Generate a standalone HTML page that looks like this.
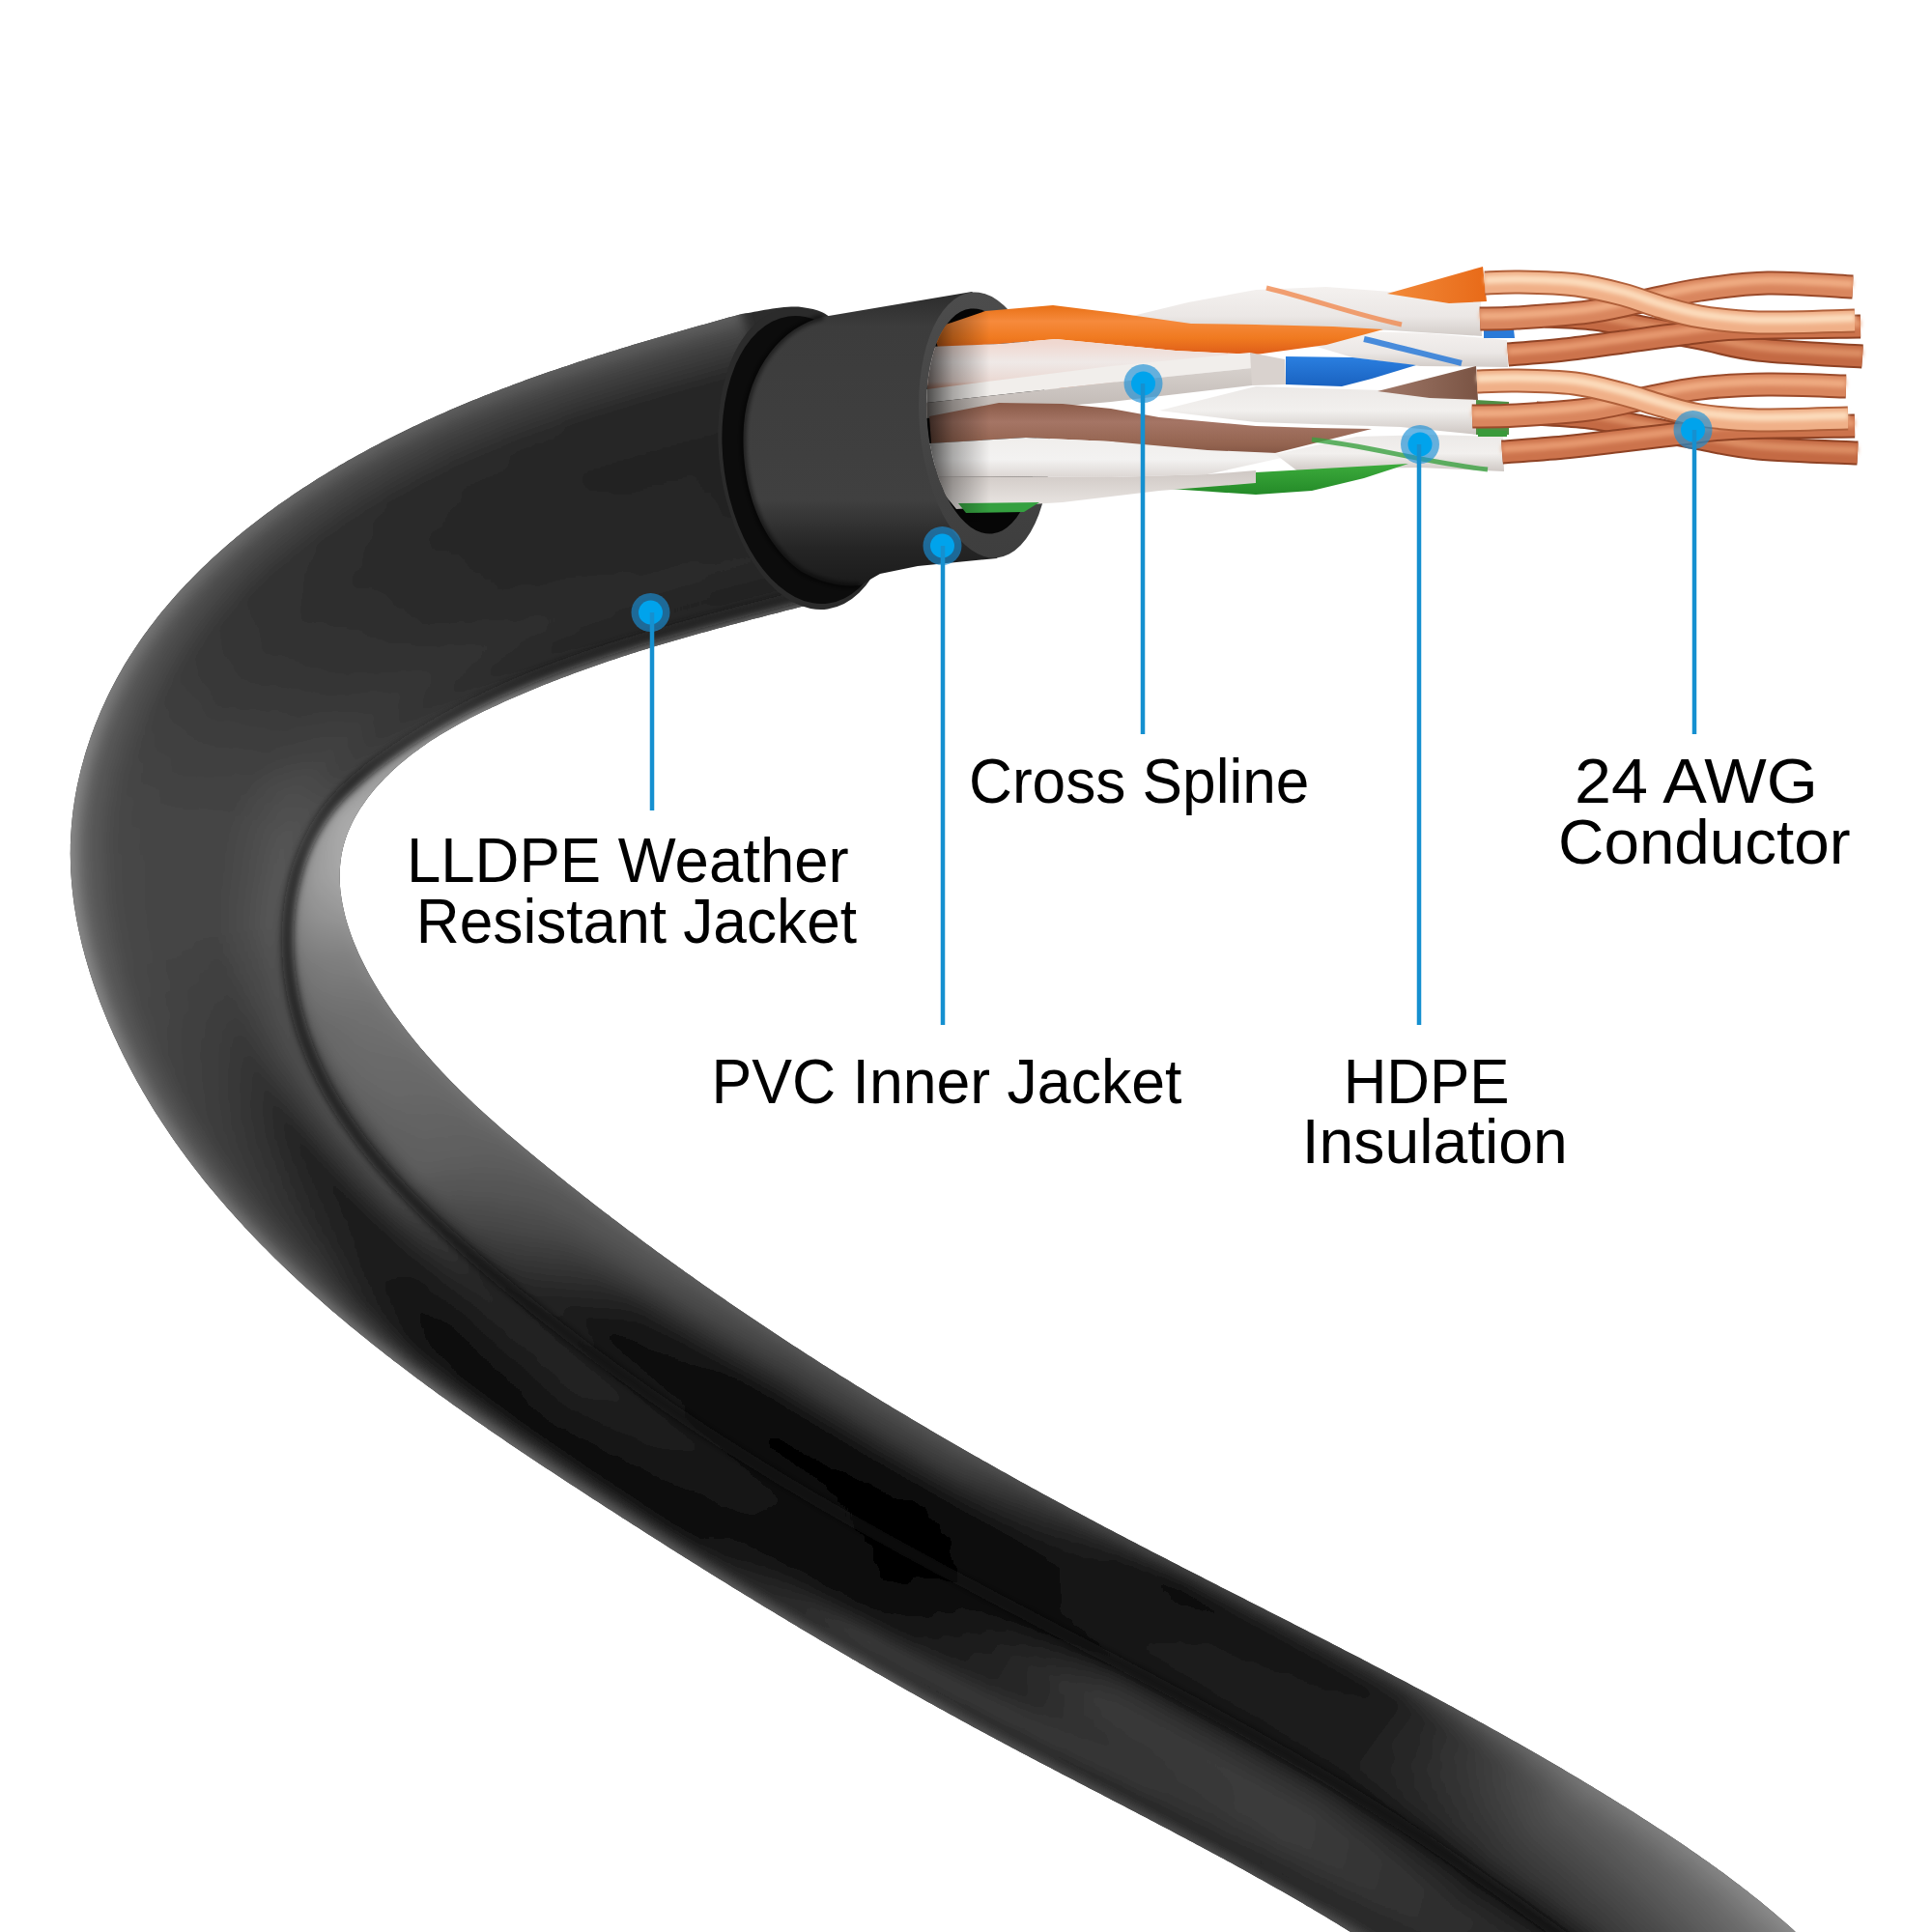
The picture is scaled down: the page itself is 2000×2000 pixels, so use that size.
<!DOCTYPE html>
<html><head><meta charset="utf-8"><style>
html,body{margin:0;padding:0;background:#fff;}
svg{display:block;}
text{font-family:"Liberation Sans",sans-serif;fill:#000;}
</style></head><body>
<svg width="2000" height="2000" viewBox="0 0 2000 2000" xmlns="http://www.w3.org/2000/svg">
<defs>
<clipPath id="cb"><path d="M767.8,325.0L763.4,326.2L759.1,327.4L754.7,328.6L750.4,329.8L746.1,331.0L741.7,332.2L737.4,333.5L733.1,334.7L728.7,335.9L724.4,337.1L720.1,338.3L715.7,339.5L711.4,340.8L707.1,342.0L702.8,343.2L698.4,344.5L694.1,345.7L689.8,347.0L685.5,348.2L681.1,349.5L676.8,350.7L672.5,352.0L668.2,353.3L663.9,354.6L659.6,355.8L655.2,357.1L650.9,358.4L646.6,359.8L642.3,361.1L638.0,362.4L633.7,363.7L629.4,365.0L625.1,366.4L620.8,367.7L616.6,369.1L612.3,370.5L608.0,371.8L603.7,373.2L599.4,374.6L595.1,376.0L590.9,377.4L586.6,378.9L582.3,380.3L578.1,381.7L573.8,383.2L569.6,384.6L565.3,386.1L561.1,387.6L556.8,389.1L552.6,390.6L548.3,392.1L544.1,393.6L539.9,395.2L535.6,396.7L531.4,398.3L527.2,399.9L523.0,401.5L518.8,403.1L514.6,404.7L510.4,406.3L506.2,407.9L502.0,409.6L497.8,411.3L493.7,412.9L489.5,414.6L485.3,416.3L481.2,418.1L477.0,419.8L472.9,421.5L468.7,423.3L464.6,425.1L460.5,426.9L456.4,428.7L452.2,430.5L448.1,432.4L444.0,434.2L440.0,436.1L435.9,438.0L431.8,439.9L427.7,441.8L423.7,443.7L419.6,445.7L415.6,447.7L411.5,449.7L407.5,451.7L403.5,453.7L399.5,455.7L395.5,457.8L391.5,459.9L387.5,462.0L383.5,464.1L379.6,466.2L375.6,468.4L371.7,470.5L367.7,472.7L363.8,474.9L359.9,477.1L356.0,479.4L352.1,481.6L348.2,483.9L344.4,486.2L340.5,488.5L336.7,490.9L332.8,493.2L329.0,495.6L325.2,498.0L321.4,500.4L317.6,502.9L313.8,505.3L310.1,507.8L306.3,510.3L302.6,512.8L298.9,515.4L295.2,517.9L291.5,520.5L287.8,523.1L284.2,525.7L280.5,528.4L276.9,531.0L273.3,533.7L269.7,536.4L266.1,539.2L262.6,541.9L259.0,544.7L255.5,547.5L252.0,550.3L248.5,553.2L245.0,556.0L241.6,558.9L238.2,561.8L234.8,564.8L231.4,567.7L228.0,570.7L224.7,573.7L221.3,576.7L218.0,579.8L214.8,582.9L211.5,586.0L208.3,589.1L205.1,592.3L201.9,595.5L198.7,598.7L195.6,601.9L192.5,605.1L189.4,608.4L186.3,611.7L183.3,615.1L180.3,618.4L177.4,621.8L174.4,625.2L171.5,628.7L168.6,632.1L165.8,635.6L163.0,639.1L160.2,642.7L157.5,646.2L154.7,649.8L152.1,653.4L149.4,657.1L146.8,660.7L144.2,664.4L141.7,668.2L139.2,671.9L136.8,675.7L134.3,679.5L132.0,683.3L129.6,687.1L127.3,691.0L125.1,694.9L122.9,698.8L120.7,702.8L118.6,706.7L116.5,710.7L114.4,714.7L112.4,718.7L110.5,722.8L108.6,726.9L106.7,731.0L104.9,735.1L103.1,739.2L101.4,743.4L99.7,747.5L98.0,751.7L96.5,755.9L94.9,760.2L93.4,764.4L92.0,768.7L90.6,772.9L89.2,777.2L87.9,781.5L86.7,785.9L85.5,790.2L84.3,794.6L83.2,798.9L82.2,803.3L81.2,807.7L80.2,812.1L79.3,816.5L78.5,820.9L77.7,825.4L77.0,829.8L76.4,834.2L75.7,838.7L75.2,843.2L74.7,847.6L74.3,852.1L73.9,856.6L73.6,861.1L73.3,865.6L73.1,870.1L72.9,874.6L72.9,879.1L72.8,883.6L72.9,888.1L73.0,892.6L73.1,897.1L73.3,901.6L73.6,906.1L73.9,910.6L74.3,915.0L74.7,919.5L75.2,924.0L75.7,928.5L76.3,932.9L76.9,937.4L77.6,941.8L78.3,946.3L79.1,950.7L79.9,955.1L80.8,959.5L81.7,963.9L82.7,968.3L83.7,972.7L84.7,977.1L85.8,981.5L87.0,985.8L88.1,990.2L89.4,994.5L90.6,998.8L91.9,1003.1L93.2,1007.4L94.6,1011.7L96.0,1016.0L97.4,1020.3L98.9,1024.5L100.4,1028.8L102.0,1033.0L103.5,1037.2L105.2,1041.4L106.8,1045.6L108.5,1049.8L110.2,1053.9L111.9,1058.1L113.7,1062.2L115.5,1066.3L117.3,1070.4L119.2,1074.5L121.1,1078.6L123.0,1082.7L125.0,1086.7L126.9,1090.8L128.9,1094.8L131.0,1098.8L133.0,1102.8L135.1,1106.8L137.2,1110.8L139.4,1114.7L141.5,1118.7L143.7,1122.6L146.0,1126.5L148.2,1130.4L150.5,1134.3L152.8,1138.2L155.1,1142.0L157.5,1145.9L159.8,1149.7L162.2,1153.5L164.7,1157.3L167.1,1161.1L169.6,1164.8L172.1,1168.6L174.6,1172.3L177.1,1176.0L179.7,1179.7L182.3,1183.4L184.9,1187.1L187.5,1190.7L190.2,1194.3L192.8,1198.0L195.5,1201.6L198.3,1205.2L201.0,1208.7L203.7,1212.3L206.5,1215.8L209.3,1219.4L212.1,1222.9L215.0,1226.4L217.8,1229.9L220.7,1233.3L223.6,1236.8L226.5,1240.2L229.4,1243.6L232.4,1247.0L235.3,1250.4L238.3,1253.8L241.3,1257.1L244.3,1260.5L247.3,1263.8L250.4,1267.1L253.4,1270.4L256.5,1273.7L259.6,1277.0L262.7,1280.3L265.8,1283.5L268.9,1286.7L272.1,1289.9L275.3,1293.1L278.4,1296.3L281.6,1299.5L284.8,1302.7L288.0,1305.8L291.3,1308.9L294.5,1312.1L297.8,1315.2L301.0,1318.3L304.3,1321.3L307.6,1324.4L310.9,1327.5L314.2,1330.5L317.5,1333.5L320.9,1336.6L324.2,1339.6L327.6,1342.6L331.0,1345.5L334.3,1348.5L337.7,1351.5L341.1,1354.4L344.5,1357.4L348.0,1360.3L351.4,1363.2L354.8,1366.1L358.3,1369.0L361.7,1371.9L365.2,1374.7L368.7,1377.6L372.2,1380.4L375.7,1383.3L379.2,1386.1L382.7,1388.9L386.2,1391.7L389.7,1394.5L393.2,1397.3L396.8,1400.1L400.3,1402.9L403.9,1405.6L407.4,1408.4L411.0,1411.1L414.6,1413.8L418.2,1416.6L421.8,1419.3L425.4,1422.0L429.0,1424.7L432.6,1427.4L436.2,1430.1L439.8,1432.7L443.4,1435.4L447.1,1438.1L450.7,1440.7L454.3,1443.4L458.0,1446.0L461.6,1448.6L465.3,1451.2L469.0,1453.9L472.6,1456.5L476.3,1459.1L480.0,1461.7L483.6,1464.3L487.3,1466.8L491.0,1469.4L494.7,1472.0L498.4,1474.6L502.1,1477.1L505.8,1479.7L509.5,1482.2L513.2,1484.8L517.0,1487.3L520.7,1489.8L524.4,1492.4L528.1,1494.9L531.9,1497.4L535.6,1499.9L539.3,1502.4L543.1,1504.9L546.8,1507.4L550.5,1509.9L554.3,1512.4L558.0,1514.9L561.8,1517.4L565.5,1519.9L569.3,1522.3L573.1,1524.8L576.8,1527.3L580.6,1529.8L584.3,1532.2L588.1,1534.7L591.9,1537.2L595.6,1539.6L599.4,1542.1L603.2,1544.5L607.0,1547.0L610.7,1549.4L614.5,1551.9L618.3,1554.3L622.1,1556.8L625.8,1559.2L629.6,1561.7L633.4,1564.1L637.2,1566.5L641.0,1569.0L644.7,1571.4L648.5,1573.8L652.3,1576.3L656.1,1578.7L659.9,1581.1L663.7,1583.6L667.5,1586.0L671.3,1588.4L675.1,1590.8L678.9,1593.2L682.7,1595.6L686.5,1598.0L690.3,1600.5L694.1,1602.9L697.9,1605.3L701.7,1607.7L705.5,1610.1L709.3,1612.5L713.1,1614.8L716.9,1617.2L720.7,1619.6L724.6,1622.0L728.4,1624.4L732.2,1626.8L736.0,1629.2L739.8,1631.5L743.7,1633.9L747.5,1636.3L751.3,1638.6L755.1,1641.0L759.0,1643.4L762.8,1645.7L766.6,1648.1L770.5,1650.4L774.3,1652.8L778.2,1655.1L782.0,1657.5L785.8,1659.8L789.7,1662.2L793.5,1664.5L797.4,1666.8L801.2,1669.1L805.1,1671.5L808.9,1673.8L812.8,1676.1L816.6,1678.4L820.5,1680.8L824.4,1683.1L828.2,1685.4L832.1,1687.7L836.0,1690.0L839.8,1692.3L843.7,1694.6L847.6,1696.9L851.4,1699.2L855.3,1701.4L859.2,1703.7L863.1,1706.0L867.0,1708.3L870.8,1710.6L874.7,1712.8L878.6,1715.1L882.5,1717.4L886.4,1719.6L890.3,1721.9L894.2,1724.1L898.1,1726.4L902.0,1728.6L905.9,1730.9L909.8,1733.1L913.7,1735.3L917.6,1737.6L921.5,1739.8L925.4,1742.0L929.3,1744.2L933.3,1746.5L937.2,1748.7L941.1,1750.9L945.0,1753.1L948.9,1755.3L952.9,1757.5L956.8,1759.7L960.7,1761.9L964.7,1764.1L968.6,1766.3L972.5,1768.4L976.5,1770.6L980.4,1772.8L984.3,1775.0L988.3,1777.1L992.2,1779.3L996.2,1781.4L1000.1,1783.6L1004.1,1785.8L1008.0,1787.9L1012.0,1790.0L1016.0,1792.2L1019.9,1794.3L1023.9,1796.4L1027.8,1798.6L1031.8,1800.7L1035.8,1802.8L1039.8,1804.9L1043.7,1807.0L1047.7,1809.2L1051.7,1811.3L1055.7,1813.4L1059.6,1815.5L1063.6,1817.6L1067.6,1819.7L1071.6,1821.8L1075.6,1823.9L1079.6,1825.9L1083.5,1828.0L1087.5,1830.1L1091.5,1832.2L1095.5,1834.3L1099.5,1836.4L1103.5,1838.4L1107.5,1840.5L1111.5,1842.6L1115.5,1844.7L1119.4,1846.8L1123.4,1848.8L1127.4,1850.9L1131.4,1853.0L1135.4,1855.1L1139.4,1857.1L1143.4,1859.2L1147.4,1861.3L1151.4,1863.4L1155.4,1865.4L1159.4,1867.5L1163.4,1869.6L1167.4,1871.7L1171.3,1873.8L1175.3,1875.8L1179.3,1877.9L1183.3,1880.0L1187.3,1882.1L1191.3,1884.2L1195.3,1886.3L1199.3,1888.4L1203.2,1890.5L1207.2,1892.5L1211.2,1894.6L1215.2,1896.7L1219.2,1898.9L1223.1,1901.0L1227.1,1903.1L1231.1,1905.2L1235.1,1907.3L1239.0,1909.4L1243.0,1911.5L1247.0,1913.7L1250.9,1915.8L1254.9,1917.9L1258.8,1920.1L1262.8,1922.2L1266.8,1924.3L1270.7,1926.5L1274.7,1928.6L1278.6,1930.8L1282.6,1933.0L1286.5,1935.1L1290.4,1937.3L1294.4,1939.5L1298.3,1941.7L1302.2,1943.9L1306.2,1946.1L1310.1,1948.3L1314.0,1950.5L1317.9,1952.7L1321.9,1954.9L1325.8,1957.1L1329.7,1959.3L1333.6,1961.6L1337.5,1963.8L1341.4,1966.1L1345.3,1968.3L1349.2,1970.6L1353.0,1972.9L1356.9,1975.1L1360.8,1977.4L1364.7,1979.7L1368.5,1982.0L1372.4,1984.3L1376.3,1986.7L1380.1,1989.0L1384.0,1991.3L1387.8,1993.7L1391.6,1996.0L1395.5,1998.4L1399.3,2000.7L1403.1,2003.1L1406.9,2005.5L1410.8,2007.9L1414.6,2010.3L1418.4,2012.7L1422.2,2015.1L1425.9,2017.5L1429.7,2020.0L1433.5,2022.4L1437.3,2024.9L1441.0,2027.4L1444.8,2029.8L1448.5,2032.3L1452.3,2034.8L1456.0,2037.3L1459.7,2039.9L1463.4,2042.4L1467.2,2044.9L1470.9,2047.5L1474.6,2050.1L1478.3,2052.6L1481.9,2055.2L1485.6,2057.8L1489.3,2060.4L1492.9,2063.1L1496.6,2065.7L1500.2,2068.4L1503.8,2071.0L1507.5,2073.7L1511.1,2076.4L1514.7,2079.1L1518.3,2081.8L1521.9,2084.5L1525.4,2087.2L1529.0,2090.0L1532.5,2092.7L1536.1,2095.5L1539.6,2098.3L1543.1,2101.1L1546.7,2103.9L1550.2,2106.7L1553.6,2109.6L1557.1,2112.4L1560.6,2115.3L1564.1,2118.2L1567.5,2121.1L1570.9,2124.0L1574.4,2126.9L1577.8,2129.8L1581.2,2132.8L1584.5,2135.8L1587.9,2138.7L1591.3,2141.7L1594.6,2144.8L1597.9,2147.8L1601.3,2150.8L1604.6,2153.9L1607.9,2156.9L1611.1,2160.0L1614.4,2163.1L1617.7,2166.2L1620.9,2169.4L1624.1,2172.5L1627.3,2175.7L1630.5,2178.8L1633.7,2182.0L1636.8,2185.2L1640.0,2188.4L1643.1,2191.7L1646.2,2194.9L1649.3,2198.2L1650.1,2199.0 L1948.5,2101.4L1946.5,2098.5L1943.9,2094.9L1941.3,2091.2L1938.6,2087.6L1935.9,2084.0L1933.2,2080.4L1930.4,2076.9L1927.7,2073.3L1924.8,2069.8L1922.0,2066.3L1919.1,2062.9L1916.2,2059.4L1913.3,2056.0L1910.4,2052.6L1907.4,2049.2L1904.4,2045.9L1901.4,2042.5L1898.3,2039.2L1895.3,2035.9L1892.2,2032.7L1889.0,2029.4L1885.9,2026.2L1882.7,2023.0L1879.6,2019.8L1876.4,2016.6L1873.1,2013.5L1869.9,2010.4L1866.6,2007.3L1863.3,2004.2L1860.0,2001.2L1856.7,1998.1L1853.4,1995.1L1850.0,1992.1L1846.6,1989.1L1843.2,1986.2L1839.8,1983.2L1836.4,1980.3L1833.0,1977.4L1829.5,1974.5L1826.0,1971.7L1822.6,1968.8L1819.1,1966.0L1815.5,1963.2L1812.0,1960.4L1808.5,1957.6L1804.9,1954.9L1801.4,1952.1L1797.8,1949.4L1794.2,1946.7L1790.6,1944.0L1787.0,1941.3L1783.4,1938.6L1779.7,1936.0L1776.1,1933.3L1772.4,1930.7L1768.8,1928.1L1765.1,1925.5L1761.4,1922.9L1757.7,1920.3L1754.0,1917.7L1750.3,1915.2L1746.6,1912.6L1742.9,1910.1L1739.2,1907.6L1735.4,1905.1L1731.7,1902.6L1727.9,1900.1L1724.2,1897.6L1720.4,1895.1L1716.7,1892.7L1712.9,1890.2L1709.1,1887.7L1705.3,1885.3L1701.6,1882.9L1697.8,1880.5L1694.0,1878.0L1690.2,1875.6L1686.4,1873.2L1682.6,1870.8L1678.7,1868.4L1674.9,1866.0L1671.1,1863.7L1667.3,1861.3L1663.4,1858.9L1659.6,1856.6L1655.8,1854.2L1651.9,1851.9L1648.1,1849.6L1644.2,1847.2L1640.4,1844.9L1636.5,1842.6L1632.7,1840.3L1628.8,1838.0L1624.9,1835.7L1621.1,1833.4L1617.2,1831.1L1613.3,1828.8L1609.4,1826.5L1605.5,1824.3L1601.6,1822.0L1597.8,1819.7L1593.9,1817.5L1590.0,1815.3L1586.1,1813.0L1582.1,1810.8L1578.2,1808.5L1574.3,1806.3L1570.4,1804.1L1566.5,1801.9L1562.6,1799.7L1558.7,1797.5L1554.7,1795.3L1550.8,1793.1L1546.9,1790.9L1542.9,1788.7L1539.0,1786.5L1535.1,1784.3L1531.1,1782.2L1527.2,1780.0L1523.2,1777.8L1519.3,1775.7L1515.3,1773.5L1511.4,1771.4L1507.4,1769.2L1503.5,1767.1L1499.5,1764.9L1495.5,1762.8L1491.6,1760.7L1487.6,1758.6L1483.7,1756.4L1479.7,1754.3L1475.7,1752.2L1471.7,1750.1L1467.8,1748.0L1463.8,1745.9L1459.8,1743.8L1455.8,1741.6L1451.9,1739.6L1447.9,1737.5L1443.9,1735.4L1439.9,1733.3L1435.9,1731.2L1431.9,1729.1L1427.9,1727.0L1423.9,1724.9L1420.0,1722.9L1416.0,1720.8L1412.0,1718.7L1408.0,1716.6L1404.0,1714.6L1400.0,1712.5L1396.0,1710.4L1392.0,1708.4L1388.0,1706.3L1384.0,1704.3L1380.0,1702.2L1376.0,1700.1L1372.0,1698.1L1368.0,1696.0L1364.0,1694.0L1360.0,1691.9L1356.0,1689.9L1351.9,1687.8L1347.9,1685.8L1343.9,1683.7L1339.9,1681.7L1335.9,1679.6L1331.9,1677.6L1327.9,1675.6L1323.9,1673.5L1319.9,1671.5L1315.9,1669.4L1311.9,1667.4L1307.9,1665.3L1303.8,1663.3L1299.8,1661.3L1295.8,1659.2L1291.8,1657.2L1287.8,1655.1L1283.8,1653.1L1279.8,1651.0L1275.8,1649.0L1271.8,1647.0L1267.8,1644.9L1263.7,1642.9L1259.7,1640.8L1255.7,1638.8L1251.7,1636.7L1247.7,1634.7L1243.7,1632.6L1239.7,1630.6L1235.7,1628.5L1231.7,1626.5L1227.7,1624.4L1223.7,1622.4L1219.7,1620.3L1215.7,1618.3L1211.7,1616.2L1207.7,1614.1L1203.7,1612.1L1199.7,1610.0L1195.7,1607.9L1191.7,1605.9L1187.7,1603.8L1183.7,1601.7L1179.7,1599.7L1175.7,1597.6L1171.7,1595.5L1167.7,1593.4L1163.7,1591.3L1159.8,1589.2L1155.8,1587.2L1151.8,1585.1L1147.8,1583.0L1143.8,1580.9L1139.8,1578.8L1135.9,1576.7L1131.9,1574.6L1127.9,1572.5L1123.9,1570.3L1120.0,1568.2L1116.0,1566.1L1112.0,1564.0L1108.1,1561.9L1104.1,1559.7L1100.1,1557.6L1096.2,1555.5L1092.2,1553.3L1088.3,1551.2L1084.3,1549.0L1080.4,1546.9L1076.4,1544.7L1072.5,1542.5L1068.5,1540.4L1064.6,1538.2L1060.6,1536.0L1056.7,1533.9L1052.8,1531.7L1048.8,1529.5L1044.9,1527.3L1041.0,1525.1L1037.0,1522.9L1033.1,1520.7L1029.2,1518.5L1025.3,1516.3L1021.4,1514.1L1017.4,1511.9L1013.5,1509.6L1009.6,1507.4L1005.7,1505.2L1001.8,1503.0L997.9,1500.7L994.0,1498.5L990.1,1496.2L986.2,1494.0L982.3,1491.7L978.4,1489.5L974.5,1487.2L970.6,1484.9L966.8,1482.7L962.9,1480.4L959.0,1478.1L955.1,1475.8L951.2,1473.5L947.4,1471.2L943.5,1468.9L939.6,1466.6L935.8,1464.3L931.9,1462.0L928.1,1459.7L924.2,1457.4L920.4,1455.0L916.5,1452.7L912.7,1450.4L908.8,1448.0L905.0,1445.7L901.1,1443.3L897.3,1441.0L893.5,1438.6L889.6,1436.3L885.8,1433.9L882.0,1431.5L878.2,1429.1L874.4,1426.8L870.5,1424.4L866.7,1422.0L862.9,1419.6L859.1,1417.2L855.3,1414.8L851.5,1412.4L847.7,1409.9L843.9,1407.5L840.1,1405.1L836.3,1402.7L832.6,1400.2L828.8,1397.8L825.0,1395.3L821.2,1392.9L817.5,1390.4L813.7,1388.0L809.9,1385.5L806.2,1383.0L802.4,1380.5L798.7,1378.1L794.9,1375.6L791.2,1373.1L787.4,1370.6L783.7,1368.1L779.9,1365.6L776.2,1363.1L772.5,1360.6L768.8,1358.0L765.0,1355.5L761.3,1353.0L757.6,1350.4L753.9,1347.9L750.2,1345.3L746.5,1342.8L742.8,1340.2L739.1,1337.7L735.4,1335.1L731.7,1332.5L728.0,1329.9L724.3,1327.3L720.6,1324.7L717.0,1322.1L713.3,1319.5L709.6,1316.9L706.0,1314.3L702.3,1311.7L698.7,1309.1L695.0,1306.4L691.4,1303.8L687.7,1301.2L684.1,1298.5L680.4,1295.9L676.8,1293.2L673.2,1290.5L669.6,1287.9L665.9,1285.2L662.3,1282.5L658.7,1279.8L655.1,1277.1L651.5,1274.4L647.9,1271.7L644.3,1269.0L640.7,1266.3L637.1,1263.6L633.6,1260.9L630.0,1258.1L626.4,1255.4L622.9,1252.7L619.3,1249.9L615.7,1247.2L612.2,1244.4L608.6,1241.6L605.1,1238.9L601.5,1236.1L598.0,1233.3L594.5,1230.5L591.0,1227.7L587.4,1224.9L583.9,1222.1L580.4,1219.3L576.9,1216.5L573.4,1213.6L569.9,1210.8L566.4,1208.0L562.9,1205.1L559.4,1202.3L556.0,1199.4L552.5,1196.6L549.0,1193.7L545.6,1190.8L542.1,1187.9L538.7,1185.0L535.2,1182.1L531.8,1179.2L528.4,1176.3L524.9,1173.4L521.5,1170.4L518.1,1167.5L514.8,1164.5L511.4,1161.5L508.0,1158.5L504.7,1155.5L501.3,1152.5L498.0,1149.5L494.7,1146.4L491.4,1143.4L488.1,1140.3L484.9,1137.2L481.6,1134.0L478.4,1130.9L475.2,1127.8L472.0,1124.6L468.9,1121.4L465.7,1118.2L462.6,1114.9L459.5,1111.7L456.4,1108.4L453.3,1105.1L450.3,1101.8L447.3,1098.5L444.3,1095.1L441.3,1091.7L438.4,1088.3L435.4,1084.9L432.6,1081.4L429.7,1078.0L426.9,1074.5L424.1,1070.9L421.3,1067.4L418.5,1063.8L415.8,1060.2L413.1,1056.6L410.5,1053.0L407.8,1049.4L405.3,1045.7L402.7,1042.0L400.2,1038.2L397.7,1034.5L395.3,1030.7L392.9,1026.9L390.5,1023.1L388.2,1019.2L385.9,1015.3L383.7,1011.4L381.5,1007.5L379.4,1003.5L377.3,999.5L375.3,995.5L373.3,991.4L371.4,987.4L369.6,983.3L367.8,979.1L366.1,974.9L364.5,970.8L362.9,966.5L361.5,962.3L360.1,958.0L358.8,953.7L357.6,949.4L356.5,945.0L355.5,940.6L354.6,936.2L353.8,931.8L353.1,927.3L352.5,922.9L352.1,918.4L351.8,913.9L351.7,909.4L351.7,904.9L351.8,900.4L352.1,895.9L352.6,891.4L353.2,887.0L354.0,882.5L355.0,878.1L356.1,873.8L357.4,869.5L358.8,865.2L360.4,861.0L362.2,856.9L364.1,852.8L366.1,848.8L368.3,844.8L370.5,840.9L372.9,837.1L375.4,833.4L378.0,829.7L380.6,826.0L383.4,822.5L386.2,819.0L389.1,815.6L392.1,812.2L395.2,808.9L398.3,805.6L401.5,802.4L404.7,799.3L408.0,796.2L411.3,793.2L414.7,790.3L418.2,787.4L421.7,784.6L425.2,781.8L428.8,779.0L432.4,776.4L436.0,773.7L439.7,771.2L443.4,768.6L447.2,766.1L451.0,763.7L454.8,761.3L458.6,759.0L462.5,756.7L466.4,754.4L470.3,752.2L474.2,750.0L478.2,747.8L482.2,745.7L486.1,743.6L490.2,741.6L494.2,739.6L498.2,737.6L502.3,735.6L506.3,733.7L510.4,731.7L514.5,729.9L518.6,728.0L522.7,726.1L526.8,724.3L530.9,722.5L535.0,720.7L539.2,718.9L543.3,717.2L547.4,715.4L551.6,713.7L555.8,712.0L559.9,710.3L564.1,708.6L568.3,706.9L572.5,705.3L576.7,703.7L580.9,702.0L585.1,700.4L589.3,698.9L593.5,697.3L597.7,695.7L602.0,694.2L606.2,692.7L610.4,691.2L614.7,689.7L618.9,688.2L623.2,686.7L627.4,685.3L631.7,683.8L636.0,682.4L640.2,681.0L644.5,679.6L648.8,678.2L653.1,676.8L657.4,675.4L661.7,674.1L666.0,672.8L670.3,671.4L674.6,670.1L678.9,668.8L683.2,667.5L687.5,666.2L691.8,665.0L696.1,663.7L700.4,662.4L704.8,661.2L709.1,659.9L713.4,658.7L717.8,657.5L722.1,656.3L726.4,655.1L730.8,653.9L735.1,652.7L739.4,651.5L743.8,650.3L748.1,649.2L752.5,648.0L756.8,646.8L761.2,645.7L765.5,644.5L769.9,643.4L774.2,642.3L778.6,641.1L782.9,640.0L787.3,638.9L791.7,637.7L796.0,636.6L800.4,635.5L804.7,634.4L809.1,633.2L813.4,632.1L817.8,631.0L822.2,629.9L826.5,628.8L830.9,627.7L835.2,626.6L839.6,625.5L844.0,624.3L848.3,623.2L852.7,622.1L857.0,621.0L861.4,619.9L865.8,618.8L867.2,618.4 L867.2,618.4 C872.7,615.3 892.0,613.1 900.0,600.0 C908.0,586.9 914.2,570.0 915.0,540.0 C915.8,510.0 912.5,453.3 905.0,420.0 C897.5,386.7 882.5,357.0 870.0,340.0 C857.5,323.0 847.0,320.5 830.0,318.0 C813.0,315.5 778.1,323.9 767.8,325.0 Z"/></clipPath>
<filter id="b3" filterUnits="userSpaceOnUse" x="0" y="0" width="2000" height="2000"><feGaussianBlur stdDeviation="3.2"/></filter>
<filter id="b4" filterUnits="userSpaceOnUse" x="0" y="0" width="2000" height="2000"><feGaussianBlur stdDeviation="5.5"/></filter>
<filter id="b2" filterUnits="userSpaceOnUse" x="0" y="0" width="2000" height="2000"><feGaussianBlur stdDeviation="2"/></filter>
<linearGradient id="pvc" x1="0" y1="300" x2="0" y2="610" gradientUnits="userSpaceOnUse">
<stop offset="0" stop-color="#2a2a2a"/><stop offset="0.12" stop-color="#3c3c3c"/><stop offset="0.7" stop-color="#404040"/><stop offset="0.86" stop-color="#252525"/><stop offset="1" stop-color="#1a1a1a"/>
</linearGradient>
<filter id="b1" filterUnits="userSpaceOnUse" x="0" y="0" width="2000" height="2000"><feGaussianBlur stdDeviation="1"/></filter>
<clipPath id="wclip"><ellipse cx="1016" cy="436" rx="56" ry="117" transform="rotate(-5.4 1016 436)"/><rect x="1016" y="200" width="700" height="400"/></clipPath>
<clipPath id="hole"><ellipse cx="1016" cy="436" rx="56" ry="117" transform="rotate(-5.4 1016 436)"/></clipPath>
<linearGradient id="hsh" x1="0" y1="0" x2="1" y2="0"><stop offset="0" stop-color="#000" stop-opacity="0.75"/><stop offset="0.45" stop-color="#000" stop-opacity="0.3"/><stop offset="1" stop-color="#000" stop-opacity="0"/></linearGradient>
<linearGradient id="pvcf" x1="0" y1="0" x2="0" y2="1"><stop offset="0" stop-color="#4c4c4c"/><stop offset="1" stop-color="#3e3e3e"/></linearGradient>
<linearGradient id="gor" x1="0" y1="315" x2="0" y2="365" gradientUnits="userSpaceOnUse"><stop offset="0" stop-color="#e86e12"/><stop offset="0.35" stop-color="#f68a3c"/><stop offset="0.7" stop-color="#f07a20"/><stop offset="1" stop-color="#e0601a"/></linearGradient>
<linearGradient id="gor2" x1="0" y1="0" x2="1" y2="0"><stop offset="0" stop-color="#f28a3a"/><stop offset="1" stop-color="#e86a18"/></linearGradient>
<linearGradient id="gwo" x1="0" y1="355" x2="0" y2="405" gradientUnits="userSpaceOnUse"><stop offset="0" stop-color="#f0d8d0"/><stop offset="0.4" stop-color="#efe9e7"/><stop offset="0.8" stop-color="#ead8d2"/><stop offset="1" stop-color="#e08c6c"/></linearGradient>
<linearGradient id="gw1" x1="0" y1="0" x2="0" y2="1"><stop offset="0" stop-color="#f4f1ef"/><stop offset="0.6" stop-color="#ebe7e5"/><stop offset="1" stop-color="#d2ccc8"/></linearGradient>
<linearGradient id="gw2" x1="0" y1="0" x2="0" y2="1"><stop offset="0" stop-color="#ece9e7"/><stop offset="0.5" stop-color="#f2f0ee"/><stop offset="1" stop-color="#cdc6c2"/></linearGradient>
<linearGradient id="gw3" x1="0" y1="0" x2="0" y2="1"><stop offset="0" stop-color="#f0eeec"/><stop offset="0.55" stop-color="#f3f2f1"/><stop offset="1" stop-color="#dcd6d3"/></linearGradient>
<linearGradient id="gsp" x1="0" y1="0" x2="0" y2="1"><stop offset="0" stop-color="#d6d0cc"/><stop offset="1" stop-color="#bdb5b0"/></linearGradient>
<linearGradient id="gsp2" x1="0" y1="0" x2="0" y2="1"><stop offset="0" stop-color="#cfc8c4"/><stop offset="1" stop-color="#ebe7e4"/></linearGradient>
<linearGradient id="gbr" x1="0" y1="0" x2="0" y2="1"><stop offset="0" stop-color="#8a5a48"/><stop offset="0.35" stop-color="#a57565"/><stop offset="0.75" stop-color="#946450"/><stop offset="1" stop-color="#7e5040"/></linearGradient>
<linearGradient id="gbr2" x1="0" y1="0" x2="1" y2="0"><stop offset="0" stop-color="#a07868"/><stop offset="1" stop-color="#7a5444"/></linearGradient>
<linearGradient id="gbl" x1="0" y1="0" x2="0" y2="1"><stop offset="0" stop-color="#2a7fe0"/><stop offset="1" stop-color="#1a62c0"/></linearGradient>
<linearGradient id="ggr" x1="0" y1="0" x2="0" y2="1"><stop offset="0" stop-color="#3cab3c"/><stop offset="1" stop-color="#248a28"/></linearGradient>
<linearGradient id="g0" gradientUnits="userSpaceOnUse" x1="756.1" y1="309.0" x2="867.1" y2="637.5"><stop offset="0.054" stop-color="#5f5f5f"/><stop offset="0.105" stop-color="#464646"/><stop offset="0.226" stop-color="#282828"/><stop offset="0.398" stop-color="#242424"/><stop offset="0.622" stop-color="#242424"/><stop offset="0.777" stop-color="#282828"/><stop offset="0.855" stop-color="#222222"/><stop offset="0.915" stop-color="#262626"/><stop offset="0.917" stop-color="#3c3c3c"/><stop offset="0.921" stop-color="#4b4b4b"/><stop offset="0.931" stop-color="#555555"/><stop offset="0.940" stop-color="#5a5a5a"/><stop offset="0.945" stop-color="#5f5f5f"/><stop offset="0.946" stop-color="#646464"/></linearGradient>
<linearGradient id="g1" gradientUnits="userSpaceOnUse" x1="744.6" y1="312.2" x2="855.1" y2="640.6"><stop offset="0.054" stop-color="#5f5f5f"/><stop offset="0.105" stop-color="#464646"/><stop offset="0.226" stop-color="#282828"/><stop offset="0.398" stop-color="#242424"/><stop offset="0.622" stop-color="#242424"/><stop offset="0.777" stop-color="#282828"/><stop offset="0.855" stop-color="#222222"/><stop offset="0.915" stop-color="#262626"/><stop offset="0.917" stop-color="#3c3c3c"/><stop offset="0.921" stop-color="#4c4c4c"/><stop offset="0.931" stop-color="#565656"/><stop offset="0.940" stop-color="#5b5b5b"/><stop offset="0.945" stop-color="#606060"/><stop offset="0.946" stop-color="#656565"/></linearGradient>
<linearGradient id="g2" gradientUnits="userSpaceOnUse" x1="733.2" y1="315.4" x2="843.0" y2="643.7"><stop offset="0.054" stop-color="#5f5f5f"/><stop offset="0.105" stop-color="#464646"/><stop offset="0.226" stop-color="#282828"/><stop offset="0.398" stop-color="#242424"/><stop offset="0.622" stop-color="#242424"/><stop offset="0.777" stop-color="#282828"/><stop offset="0.855" stop-color="#222222"/><stop offset="0.915" stop-color="#262626"/><stop offset="0.917" stop-color="#3c3c3c"/><stop offset="0.921" stop-color="#4c4c4c"/><stop offset="0.931" stop-color="#565656"/><stop offset="0.940" stop-color="#5b5b5b"/><stop offset="0.945" stop-color="#606060"/><stop offset="0.946" stop-color="#656565"/></linearGradient>
<linearGradient id="g3" gradientUnits="userSpaceOnUse" x1="721.8" y1="318.6" x2="830.9" y2="646.7"><stop offset="0.054" stop-color="#5f5f5f"/><stop offset="0.105" stop-color="#464646"/><stop offset="0.226" stop-color="#282828"/><stop offset="0.398" stop-color="#242424"/><stop offset="0.622" stop-color="#242424"/><stop offset="0.777" stop-color="#282828"/><stop offset="0.855" stop-color="#222222"/><stop offset="0.915" stop-color="#262626"/><stop offset="0.917" stop-color="#3c3c3c"/><stop offset="0.921" stop-color="#4c4c4c"/><stop offset="0.931" stop-color="#565656"/><stop offset="0.940" stop-color="#5b5b5b"/><stop offset="0.945" stop-color="#606060"/><stop offset="0.946" stop-color="#656565"/></linearGradient>
<linearGradient id="g4" gradientUnits="userSpaceOnUse" x1="710.4" y1="321.8" x2="818.8" y2="649.8"><stop offset="0.054" stop-color="#5f5f5f"/><stop offset="0.105" stop-color="#464646"/><stop offset="0.226" stop-color="#282828"/><stop offset="0.398" stop-color="#242424"/><stop offset="0.622" stop-color="#242424"/><stop offset="0.777" stop-color="#292929"/><stop offset="0.855" stop-color="#232323"/><stop offset="0.915" stop-color="#262626"/><stop offset="0.917" stop-color="#3c3c3c"/><stop offset="0.921" stop-color="#4d4d4d"/><stop offset="0.931" stop-color="#575757"/><stop offset="0.940" stop-color="#5c5c5c"/><stop offset="0.945" stop-color="#616161"/><stop offset="0.946" stop-color="#666666"/></linearGradient>
<linearGradient id="g5" gradientUnits="userSpaceOnUse" x1="699.0" y1="325.1" x2="806.8" y2="652.9"><stop offset="0.054" stop-color="#5f5f5f"/><stop offset="0.105" stop-color="#464646"/><stop offset="0.226" stop-color="#282828"/><stop offset="0.398" stop-color="#242424"/><stop offset="0.622" stop-color="#242424"/><stop offset="0.777" stop-color="#292929"/><stop offset="0.855" stop-color="#232323"/><stop offset="0.915" stop-color="#262626"/><stop offset="0.917" stop-color="#3c3c3c"/><stop offset="0.921" stop-color="#4d4d4d"/><stop offset="0.931" stop-color="#575757"/><stop offset="0.940" stop-color="#5c5c5c"/><stop offset="0.945" stop-color="#616161"/><stop offset="0.946" stop-color="#666666"/></linearGradient>
<linearGradient id="g6" gradientUnits="userSpaceOnUse" x1="687.6" y1="328.4" x2="794.7" y2="656.0"><stop offset="0.054" stop-color="#5f5f5f"/><stop offset="0.105" stop-color="#464646"/><stop offset="0.226" stop-color="#282828"/><stop offset="0.398" stop-color="#242424"/><stop offset="0.622" stop-color="#242424"/><stop offset="0.777" stop-color="#292929"/><stop offset="0.855" stop-color="#232323"/><stop offset="0.915" stop-color="#262626"/><stop offset="0.917" stop-color="#3c3c3c"/><stop offset="0.921" stop-color="#4d4d4d"/><stop offset="0.931" stop-color="#575757"/><stop offset="0.940" stop-color="#5c5c5c"/><stop offset="0.945" stop-color="#616161"/><stop offset="0.946" stop-color="#666666"/></linearGradient>
<linearGradient id="g7" gradientUnits="userSpaceOnUse" x1="676.2" y1="331.7" x2="782.6" y2="659.1"><stop offset="0.054" stop-color="#5f5f5f"/><stop offset="0.105" stop-color="#464646"/><stop offset="0.226" stop-color="#282828"/><stop offset="0.398" stop-color="#242424"/><stop offset="0.622" stop-color="#252525"/><stop offset="0.777" stop-color="#292929"/><stop offset="0.855" stop-color="#232323"/><stop offset="0.915" stop-color="#262626"/><stop offset="0.917" stop-color="#3c3c3c"/><stop offset="0.921" stop-color="#4e4e4e"/><stop offset="0.931" stop-color="#585858"/><stop offset="0.940" stop-color="#5d5d5d"/><stop offset="0.945" stop-color="#626262"/><stop offset="0.946" stop-color="#676767"/></linearGradient>
<linearGradient id="g8" gradientUnits="userSpaceOnUse" x1="664.8" y1="335.1" x2="770.6" y2="662.2"><stop offset="0.054" stop-color="#5f5f5f"/><stop offset="0.105" stop-color="#464646"/><stop offset="0.226" stop-color="#282828"/><stop offset="0.398" stop-color="#242424"/><stop offset="0.622" stop-color="#252525"/><stop offset="0.777" stop-color="#292929"/><stop offset="0.855" stop-color="#232323"/><stop offset="0.915" stop-color="#262626"/><stop offset="0.917" stop-color="#3c3c3c"/><stop offset="0.921" stop-color="#4e4e4e"/><stop offset="0.931" stop-color="#585858"/><stop offset="0.940" stop-color="#5d5d5d"/><stop offset="0.945" stop-color="#626262"/><stop offset="0.946" stop-color="#676767"/></linearGradient>
<linearGradient id="g9" gradientUnits="userSpaceOnUse" x1="653.5" y1="338.5" x2="758.5" y2="665.4"><stop offset="0.054" stop-color="#5f5f5f"/><stop offset="0.105" stop-color="#464646"/><stop offset="0.226" stop-color="#282828"/><stop offset="0.398" stop-color="#242424"/><stop offset="0.622" stop-color="#252525"/><stop offset="0.777" stop-color="#292929"/><stop offset="0.855" stop-color="#232323"/><stop offset="0.915" stop-color="#262626"/><stop offset="0.917" stop-color="#3c3c3c"/><stop offset="0.921" stop-color="#4e4e4e"/><stop offset="0.931" stop-color="#585858"/><stop offset="0.940" stop-color="#5d5d5d"/><stop offset="0.945" stop-color="#626262"/><stop offset="0.946" stop-color="#676767"/></linearGradient>
<linearGradient id="g10" gradientUnits="userSpaceOnUse" x1="642.1" y1="341.9" x2="746.5" y2="668.6"><stop offset="0.054" stop-color="#5f5f5f"/><stop offset="0.105" stop-color="#464646"/><stop offset="0.226" stop-color="#282828"/><stop offset="0.398" stop-color="#242424"/><stop offset="0.622" stop-color="#252525"/><stop offset="0.777" stop-color="#2a2a2a"/><stop offset="0.855" stop-color="#242424"/><stop offset="0.915" stop-color="#262626"/><stop offset="0.917" stop-color="#3c3c3c"/><stop offset="0.921" stop-color="#4f4f4f"/><stop offset="0.931" stop-color="#595959"/><stop offset="0.940" stop-color="#5e5e5e"/><stop offset="0.945" stop-color="#636363"/><stop offset="0.946" stop-color="#686868"/></linearGradient>
<linearGradient id="g11" gradientUnits="userSpaceOnUse" x1="630.8" y1="345.4" x2="734.5" y2="671.9"><stop offset="0.054" stop-color="#5f5f5f"/><stop offset="0.105" stop-color="#464646"/><stop offset="0.226" stop-color="#282828"/><stop offset="0.398" stop-color="#242424"/><stop offset="0.622" stop-color="#252525"/><stop offset="0.777" stop-color="#2a2a2a"/><stop offset="0.855" stop-color="#242424"/><stop offset="0.915" stop-color="#262626"/><stop offset="0.917" stop-color="#3c3c3c"/><stop offset="0.921" stop-color="#4f4f4f"/><stop offset="0.931" stop-color="#595959"/><stop offset="0.940" stop-color="#5e5e5e"/><stop offset="0.945" stop-color="#636363"/><stop offset="0.946" stop-color="#686868"/></linearGradient>
<linearGradient id="g12" gradientUnits="userSpaceOnUse" x1="619.5" y1="349.0" x2="722.4" y2="675.2"><stop offset="0.054" stop-color="#5f5f5f"/><stop offset="0.105" stop-color="#464646"/><stop offset="0.226" stop-color="#282828"/><stop offset="0.398" stop-color="#242424"/><stop offset="0.622" stop-color="#252525"/><stop offset="0.777" stop-color="#2a2a2a"/><stop offset="0.855" stop-color="#242424"/><stop offset="0.915" stop-color="#262626"/><stop offset="0.917" stop-color="#3c3c3c"/><stop offset="0.921" stop-color="#4f4f4f"/><stop offset="0.931" stop-color="#595959"/><stop offset="0.940" stop-color="#5e5e5e"/><stop offset="0.945" stop-color="#636363"/><stop offset="0.946" stop-color="#686868"/></linearGradient>
<linearGradient id="g13" gradientUnits="userSpaceOnUse" x1="608.2" y1="352.6" x2="710.5" y2="678.6"><stop offset="0.054" stop-color="#5f5f5f"/><stop offset="0.105" stop-color="#464646"/><stop offset="0.226" stop-color="#282828"/><stop offset="0.398" stop-color="#242424"/><stop offset="0.622" stop-color="#252525"/><stop offset="0.777" stop-color="#2a2a2a"/><stop offset="0.855" stop-color="#242424"/><stop offset="0.915" stop-color="#262626"/><stop offset="0.917" stop-color="#3c3c3c"/><stop offset="0.921" stop-color="#505050"/><stop offset="0.931" stop-color="#5a5a5a"/><stop offset="0.940" stop-color="#5f5f5f"/><stop offset="0.945" stop-color="#646464"/><stop offset="0.946" stop-color="#696969"/></linearGradient>
<linearGradient id="g14" gradientUnits="userSpaceOnUse" x1="597.2" y1="356.1" x2="699.7" y2="681.7"><stop offset="0.054" stop-color="#5f5f5f"/><stop offset="0.105" stop-color="#464646"/><stop offset="0.226" stop-color="#282828"/><stop offset="0.398" stop-color="#242424"/><stop offset="0.622" stop-color="#252525"/><stop offset="0.777" stop-color="#2a2a2a"/><stop offset="0.855" stop-color="#242424"/><stop offset="0.915" stop-color="#272727"/><stop offset="0.917" stop-color="#3c3c3c"/><stop offset="0.921" stop-color="#515151"/><stop offset="0.931" stop-color="#5b5b5b"/><stop offset="0.940" stop-color="#606060"/><stop offset="0.945" stop-color="#646464"/><stop offset="0.946" stop-color="#696969"/></linearGradient>
<linearGradient id="g15" gradientUnits="userSpaceOnUse" x1="586.6" y1="359.6" x2="690.1" y2="684.5"><stop offset="0.054" stop-color="#5f5f5f"/><stop offset="0.105" stop-color="#464646"/><stop offset="0.226" stop-color="#282828"/><stop offset="0.398" stop-color="#242424"/><stop offset="0.622" stop-color="#252525"/><stop offset="0.777" stop-color="#2a2a2a"/><stop offset="0.855" stop-color="#242424"/><stop offset="0.915" stop-color="#272727"/><stop offset="0.917" stop-color="#3d3d3d"/><stop offset="0.921" stop-color="#525252"/><stop offset="0.931" stop-color="#5c5c5c"/><stop offset="0.940" stop-color="#616161"/><stop offset="0.945" stop-color="#656565"/><stop offset="0.946" stop-color="#6a6a6a"/></linearGradient>
<linearGradient id="g16" gradientUnits="userSpaceOnUse" x1="575.9" y1="363.2" x2="680.5" y2="687.4"><stop offset="0.054" stop-color="#5f5f5f"/><stop offset="0.105" stop-color="#464646"/><stop offset="0.226" stop-color="#282828"/><stop offset="0.398" stop-color="#242424"/><stop offset="0.622" stop-color="#262626"/><stop offset="0.777" stop-color="#2b2b2b"/><stop offset="0.854" stop-color="#252525"/><stop offset="0.915" stop-color="#272727"/><stop offset="0.917" stop-color="#3e3e3e"/><stop offset="0.921" stop-color="#535353"/><stop offset="0.931" stop-color="#5d5d5d"/><stop offset="0.940" stop-color="#626262"/><stop offset="0.945" stop-color="#666666"/><stop offset="0.946" stop-color="#6b6b6b"/></linearGradient>
<linearGradient id="g17" gradientUnits="userSpaceOnUse" x1="565.3" y1="366.8" x2="670.9" y2="690.3"><stop offset="0.054" stop-color="#5f5f5f"/><stop offset="0.105" stop-color="#464646"/><stop offset="0.226" stop-color="#282828"/><stop offset="0.398" stop-color="#242424"/><stop offset="0.622" stop-color="#262626"/><stop offset="0.777" stop-color="#2b2b2b"/><stop offset="0.854" stop-color="#252525"/><stop offset="0.915" stop-color="#282828"/><stop offset="0.916" stop-color="#3e3e3e"/><stop offset="0.921" stop-color="#545454"/><stop offset="0.930" stop-color="#5e5e5e"/><stop offset="0.940" stop-color="#636363"/><stop offset="0.945" stop-color="#676767"/><stop offset="0.946" stop-color="#6c6c6c"/></linearGradient>
<linearGradient id="g18" gradientUnits="userSpaceOnUse" x1="554.7" y1="370.5" x2="661.3" y2="693.3"><stop offset="0.054" stop-color="#5f5f5f"/><stop offset="0.105" stop-color="#464646"/><stop offset="0.226" stop-color="#292929"/><stop offset="0.398" stop-color="#252525"/><stop offset="0.622" stop-color="#262626"/><stop offset="0.777" stop-color="#2b2b2b"/><stop offset="0.854" stop-color="#252525"/><stop offset="0.914" stop-color="#282828"/><stop offset="0.916" stop-color="#3f3f3f"/><stop offset="0.921" stop-color="#555555"/><stop offset="0.930" stop-color="#5f5f5f"/><stop offset="0.940" stop-color="#646464"/><stop offset="0.945" stop-color="#686868"/><stop offset="0.946" stop-color="#6c6c6c"/></linearGradient>
<linearGradient id="g19" gradientUnits="userSpaceOnUse" x1="544.2" y1="374.3" x2="651.8" y2="696.3"><stop offset="0.054" stop-color="#5f5f5f"/><stop offset="0.105" stop-color="#464646"/><stop offset="0.226" stop-color="#292929"/><stop offset="0.398" stop-color="#252525"/><stop offset="0.622" stop-color="#262626"/><stop offset="0.776" stop-color="#2c2c2c"/><stop offset="0.854" stop-color="#262626"/><stop offset="0.914" stop-color="#292929"/><stop offset="0.916" stop-color="#404040"/><stop offset="0.921" stop-color="#565656"/><stop offset="0.930" stop-color="#606060"/><stop offset="0.940" stop-color="#656565"/><stop offset="0.945" stop-color="#696969"/><stop offset="0.946" stop-color="#6d6d6d"/></linearGradient>
<linearGradient id="g20" gradientUnits="userSpaceOnUse" x1="533.7" y1="378.1" x2="642.3" y2="699.4"><stop offset="0.054" stop-color="#5f5f5f"/><stop offset="0.105" stop-color="#464646"/><stop offset="0.226" stop-color="#292929"/><stop offset="0.398" stop-color="#252525"/><stop offset="0.621" stop-color="#262626"/><stop offset="0.776" stop-color="#2c2c2c"/><stop offset="0.854" stop-color="#262626"/><stop offset="0.914" stop-color="#292929"/><stop offset="0.916" stop-color="#414141"/><stop offset="0.920" stop-color="#575757"/><stop offset="0.930" stop-color="#616161"/><stop offset="0.940" stop-color="#666666"/><stop offset="0.945" stop-color="#6a6a6a"/><stop offset="0.946" stop-color="#6e6e6e"/></linearGradient>
<linearGradient id="g21" gradientUnits="userSpaceOnUse" x1="523.1" y1="382.0" x2="632.8" y2="702.6"><stop offset="0.054" stop-color="#5f5f5f"/><stop offset="0.105" stop-color="#464646"/><stop offset="0.226" stop-color="#292929"/><stop offset="0.398" stop-color="#252525"/><stop offset="0.621" stop-color="#272727"/><stop offset="0.776" stop-color="#2c2c2c"/><stop offset="0.854" stop-color="#262626"/><stop offset="0.914" stop-color="#292929"/><stop offset="0.916" stop-color="#414141"/><stop offset="0.920" stop-color="#585858"/><stop offset="0.930" stop-color="#626262"/><stop offset="0.940" stop-color="#676767"/><stop offset="0.945" stop-color="#6a6a6a"/><stop offset="0.946" stop-color="#6e6e6e"/></linearGradient>
<linearGradient id="g22" gradientUnits="userSpaceOnUse" x1="512.7" y1="386.0" x2="623.3" y2="705.8"><stop offset="0.054" stop-color="#5f5f5f"/><stop offset="0.105" stop-color="#464646"/><stop offset="0.226" stop-color="#292929"/><stop offset="0.398" stop-color="#252525"/><stop offset="0.621" stop-color="#272727"/><stop offset="0.776" stop-color="#2c2c2c"/><stop offset="0.853" stop-color="#262626"/><stop offset="0.914" stop-color="#2a2a2a"/><stop offset="0.916" stop-color="#424242"/><stop offset="0.920" stop-color="#595959"/><stop offset="0.930" stop-color="#636363"/><stop offset="0.940" stop-color="#686868"/><stop offset="0.945" stop-color="#6b6b6b"/><stop offset="0.946" stop-color="#6f6f6f"/></linearGradient>
<linearGradient id="g23" gradientUnits="userSpaceOnUse" x1="502.2" y1="390.1" x2="613.9" y2="709.2"><stop offset="0.054" stop-color="#5f5f5f"/><stop offset="0.105" stop-color="#464646"/><stop offset="0.226" stop-color="#292929"/><stop offset="0.397" stop-color="#252525"/><stop offset="0.621" stop-color="#272727"/><stop offset="0.776" stop-color="#2d2d2d"/><stop offset="0.853" stop-color="#272727"/><stop offset="0.913" stop-color="#2a2a2a"/><stop offset="0.915" stop-color="#434343"/><stop offset="0.920" stop-color="#5a5a5a"/><stop offset="0.930" stop-color="#646464"/><stop offset="0.940" stop-color="#696969"/><stop offset="0.945" stop-color="#6c6c6c"/><stop offset="0.946" stop-color="#707070"/></linearGradient>
<linearGradient id="g24" gradientUnits="userSpaceOnUse" x1="491.8" y1="394.2" x2="604.5" y2="712.5"><stop offset="0.054" stop-color="#5f5f5f"/><stop offset="0.105" stop-color="#464646"/><stop offset="0.225" stop-color="#2a2a2a"/><stop offset="0.397" stop-color="#262626"/><stop offset="0.621" stop-color="#272727"/><stop offset="0.776" stop-color="#2d2d2d"/><stop offset="0.853" stop-color="#272727"/><stop offset="0.913" stop-color="#2b2b2b"/><stop offset="0.915" stop-color="#444444"/><stop offset="0.920" stop-color="#5b5b5b"/><stop offset="0.930" stop-color="#656565"/><stop offset="0.940" stop-color="#6a6a6a"/><stop offset="0.945" stop-color="#6d6d6d"/><stop offset="0.946" stop-color="#707070"/></linearGradient>
<linearGradient id="g25" gradientUnits="userSpaceOnUse" x1="481.4" y1="398.4" x2="595.1" y2="716.0"><stop offset="0.054" stop-color="#5f5f5f"/><stop offset="0.105" stop-color="#464646"/><stop offset="0.225" stop-color="#2a2a2a"/><stop offset="0.397" stop-color="#262626"/><stop offset="0.621" stop-color="#272727"/><stop offset="0.775" stop-color="#2d2d2d"/><stop offset="0.853" stop-color="#272727"/><stop offset="0.913" stop-color="#2b2b2b"/><stop offset="0.915" stop-color="#444444"/><stop offset="0.920" stop-color="#5c5c5c"/><stop offset="0.930" stop-color="#666666"/><stop offset="0.940" stop-color="#6b6b6b"/><stop offset="0.945" stop-color="#6e6e6e"/><stop offset="0.946" stop-color="#717171"/></linearGradient>
<linearGradient id="g26" gradientUnits="userSpaceOnUse" x1="471.1" y1="402.7" x2="585.7" y2="719.5"><stop offset="0.054" stop-color="#5f5f5f"/><stop offset="0.105" stop-color="#464646"/><stop offset="0.225" stop-color="#2a2a2a"/><stop offset="0.397" stop-color="#262626"/><stop offset="0.621" stop-color="#282828"/><stop offset="0.775" stop-color="#2e2e2e"/><stop offset="0.853" stop-color="#282828"/><stop offset="0.913" stop-color="#2b2b2b"/><stop offset="0.915" stop-color="#454545"/><stop offset="0.920" stop-color="#5d5d5d"/><stop offset="0.930" stop-color="#676767"/><stop offset="0.940" stop-color="#6c6c6c"/><stop offset="0.945" stop-color="#6f6f6f"/><stop offset="0.946" stop-color="#727272"/></linearGradient>
<linearGradient id="g27" gradientUnits="userSpaceOnUse" x1="460.8" y1="407.1" x2="576.4" y2="723.1"><stop offset="0.054" stop-color="#5f5f5f"/><stop offset="0.105" stop-color="#464646"/><stop offset="0.225" stop-color="#2a2a2a"/><stop offset="0.397" stop-color="#262626"/><stop offset="0.621" stop-color="#282828"/><stop offset="0.775" stop-color="#2e2e2e"/><stop offset="0.852" stop-color="#282828"/><stop offset="0.913" stop-color="#2c2c2c"/><stop offset="0.915" stop-color="#464646"/><stop offset="0.919" stop-color="#5e5e5e"/><stop offset="0.930" stop-color="#686868"/><stop offset="0.940" stop-color="#6d6d6d"/><stop offset="0.945" stop-color="#707070"/><stop offset="0.946" stop-color="#737373"/></linearGradient>
<linearGradient id="g28" gradientUnits="userSpaceOnUse" x1="451.8" y1="411.0" x2="569.2" y2="726.0"><stop offset="0.054" stop-color="#5f5f5f"/><stop offset="0.105" stop-color="#464646"/><stop offset="0.225" stop-color="#2a2a2a"/><stop offset="0.397" stop-color="#262626"/><stop offset="0.620" stop-color="#282828"/><stop offset="0.775" stop-color="#2e2e2e"/><stop offset="0.852" stop-color="#282828"/><stop offset="0.912" stop-color="#2c2c2c"/><stop offset="0.914" stop-color="#474747"/><stop offset="0.919" stop-color="#606060"/><stop offset="0.929" stop-color="#6a6a6a"/><stop offset="0.940" stop-color="#6f6f6f"/><stop offset="0.945" stop-color="#717171"/><stop offset="0.946" stop-color="#747474"/></linearGradient>
<linearGradient id="g29" gradientUnits="userSpaceOnUse" x1="444.3" y1="414.4" x2="564.2" y2="728.0"><stop offset="0.054" stop-color="#606060"/><stop offset="0.105" stop-color="#464646"/><stop offset="0.225" stop-color="#2a2a2a"/><stop offset="0.397" stop-color="#262626"/><stop offset="0.620" stop-color="#282828"/><stop offset="0.775" stop-color="#2e2e2e"/><stop offset="0.852" stop-color="#292929"/><stop offset="0.912" stop-color="#2d2d2d"/><stop offset="0.914" stop-color="#484848"/><stop offset="0.919" stop-color="#616161"/><stop offset="0.929" stop-color="#6b6b6b"/><stop offset="0.940" stop-color="#707070"/><stop offset="0.945" stop-color="#727272"/><stop offset="0.946" stop-color="#757575"/></linearGradient>
<linearGradient id="g30" gradientUnits="userSpaceOnUse" x1="436.7" y1="417.9" x2="559.2" y2="730.0"><stop offset="0.054" stop-color="#606060"/><stop offset="0.105" stop-color="#464646"/><stop offset="0.225" stop-color="#2b2b2b"/><stop offset="0.397" stop-color="#272727"/><stop offset="0.620" stop-color="#292929"/><stop offset="0.775" stop-color="#2f2f2f"/><stop offset="0.852" stop-color="#292929"/><stop offset="0.912" stop-color="#2e2e2e"/><stop offset="0.914" stop-color="#494949"/><stop offset="0.919" stop-color="#636363"/><stop offset="0.929" stop-color="#6d6d6d"/><stop offset="0.940" stop-color="#727272"/><stop offset="0.945" stop-color="#747474"/><stop offset="0.946" stop-color="#777777"/></linearGradient>
<linearGradient id="g31" gradientUnits="userSpaceOnUse" x1="429.2" y1="421.3" x2="554.1" y2="732.1"><stop offset="0.054" stop-color="#606060"/><stop offset="0.105" stop-color="#464646"/><stop offset="0.225" stop-color="#2b2b2b"/><stop offset="0.397" stop-color="#272727"/><stop offset="0.620" stop-color="#292929"/><stop offset="0.774" stop-color="#2f2f2f"/><stop offset="0.852" stop-color="#2a2a2a"/><stop offset="0.912" stop-color="#2e2e2e"/><stop offset="0.914" stop-color="#4a4a4a"/><stop offset="0.919" stop-color="#646464"/><stop offset="0.929" stop-color="#6e6e6e"/><stop offset="0.939" stop-color="#737373"/><stop offset="0.945" stop-color="#757575"/><stop offset="0.946" stop-color="#787878"/></linearGradient>
<linearGradient id="g32" gradientUnits="userSpaceOnUse" x1="421.7" y1="424.9" x2="549.1" y2="734.2"><stop offset="0.054" stop-color="#616161"/><stop offset="0.105" stop-color="#474747"/><stop offset="0.225" stop-color="#2b2b2b"/><stop offset="0.397" stop-color="#272727"/><stop offset="0.620" stop-color="#292929"/><stop offset="0.774" stop-color="#2f2f2f"/><stop offset="0.851" stop-color="#2a2a2a"/><stop offset="0.911" stop-color="#2f2f2f"/><stop offset="0.913" stop-color="#4b4b4b"/><stop offset="0.918" stop-color="#656565"/><stop offset="0.929" stop-color="#6f6f6f"/><stop offset="0.939" stop-color="#747474"/><stop offset="0.945" stop-color="#767676"/><stop offset="0.946" stop-color="#797979"/></linearGradient>
<linearGradient id="g33" gradientUnits="userSpaceOnUse" x1="414.2" y1="428.5" x2="544.2" y2="736.3"><stop offset="0.054" stop-color="#616161"/><stop offset="0.105" stop-color="#474747"/><stop offset="0.225" stop-color="#2b2b2b"/><stop offset="0.397" stop-color="#282828"/><stop offset="0.620" stop-color="#2a2a2a"/><stop offset="0.774" stop-color="#303030"/><stop offset="0.851" stop-color="#2a2a2a"/><stop offset="0.911" stop-color="#2f2f2f"/><stop offset="0.913" stop-color="#4c4c4c"/><stop offset="0.918" stop-color="#676767"/><stop offset="0.929" stop-color="#717171"/><stop offset="0.939" stop-color="#767676"/><stop offset="0.945" stop-color="#787878"/><stop offset="0.946" stop-color="#7b7b7b"/></linearGradient>
<linearGradient id="g34" gradientUnits="userSpaceOnUse" x1="406.7" y1="432.1" x2="539.2" y2="738.4"><stop offset="0.054" stop-color="#616161"/><stop offset="0.105" stop-color="#474747"/><stop offset="0.225" stop-color="#2b2b2b"/><stop offset="0.396" stop-color="#282828"/><stop offset="0.619" stop-color="#2a2a2a"/><stop offset="0.774" stop-color="#303030"/><stop offset="0.851" stop-color="#2b2b2b"/><stop offset="0.911" stop-color="#303030"/><stop offset="0.913" stop-color="#4d4d4d"/><stop offset="0.918" stop-color="#686868"/><stop offset="0.929" stop-color="#727272"/><stop offset="0.939" stop-color="#777777"/><stop offset="0.945" stop-color="#797979"/><stop offset="0.946" stop-color="#7c7c7c"/></linearGradient>
<linearGradient id="g35" gradientUnits="userSpaceOnUse" x1="399.3" y1="435.8" x2="534.2" y2="740.6"><stop offset="0.054" stop-color="#626262"/><stop offset="0.105" stop-color="#474747"/><stop offset="0.225" stop-color="#2c2c2c"/><stop offset="0.396" stop-color="#282828"/><stop offset="0.619" stop-color="#2a2a2a"/><stop offset="0.773" stop-color="#303030"/><stop offset="0.851" stop-color="#2b2b2b"/><stop offset="0.911" stop-color="#303030"/><stop offset="0.913" stop-color="#4e4e4e"/><stop offset="0.918" stop-color="#6a6a6a"/><stop offset="0.929" stop-color="#747474"/><stop offset="0.939" stop-color="#797979"/><stop offset="0.945" stop-color="#7b7b7b"/><stop offset="0.946" stop-color="#7e7e7e"/></linearGradient>
<linearGradient id="g36" gradientUnits="userSpaceOnUse" x1="391.9" y1="439.6" x2="529.2" y2="742.7"><stop offset="0.054" stop-color="#626262"/><stop offset="0.105" stop-color="#474747"/><stop offset="0.225" stop-color="#2c2c2c"/><stop offset="0.396" stop-color="#282828"/><stop offset="0.619" stop-color="#2a2a2a"/><stop offset="0.773" stop-color="#303030"/><stop offset="0.850" stop-color="#2c2c2c"/><stop offset="0.910" stop-color="#313131"/><stop offset="0.912" stop-color="#4f4f4f"/><stop offset="0.918" stop-color="#6b6b6b"/><stop offset="0.928" stop-color="#757575"/><stop offset="0.939" stop-color="#7a7a7a"/><stop offset="0.945" stop-color="#7c7c7c"/><stop offset="0.946" stop-color="#7f7f7f"/></linearGradient>
<linearGradient id="g37" gradientUnits="userSpaceOnUse" x1="384.6" y1="443.4" x2="524.3" y2="744.9"><stop offset="0.054" stop-color="#626262"/><stop offset="0.105" stop-color="#474747"/><stop offset="0.225" stop-color="#2c2c2c"/><stop offset="0.396" stop-color="#292929"/><stop offset="0.619" stop-color="#2b2b2b"/><stop offset="0.773" stop-color="#313131"/><stop offset="0.850" stop-color="#2c2c2c"/><stop offset="0.910" stop-color="#323232"/><stop offset="0.912" stop-color="#505050"/><stop offset="0.917" stop-color="#6d6d6d"/><stop offset="0.928" stop-color="#777777"/><stop offset="0.939" stop-color="#7c7c7c"/><stop offset="0.945" stop-color="#7e7e7e"/><stop offset="0.946" stop-color="#818181"/></linearGradient>
<linearGradient id="g38" gradientUnits="userSpaceOnUse" x1="377.2" y1="447.3" x2="519.4" y2="747.2"><stop offset="0.054" stop-color="#636363"/><stop offset="0.105" stop-color="#484848"/><stop offset="0.225" stop-color="#2c2c2c"/><stop offset="0.396" stop-color="#292929"/><stop offset="0.619" stop-color="#2b2b2b"/><stop offset="0.773" stop-color="#313131"/><stop offset="0.850" stop-color="#2c2c2c"/><stop offset="0.910" stop-color="#323232"/><stop offset="0.912" stop-color="#515151"/><stop offset="0.917" stop-color="#6e6e6e"/><stop offset="0.928" stop-color="#787878"/><stop offset="0.939" stop-color="#7d7d7d"/><stop offset="0.945" stop-color="#7f7f7f"/><stop offset="0.946" stop-color="#828282"/></linearGradient>
<linearGradient id="g39" gradientUnits="userSpaceOnUse" x1="369.9" y1="451.3" x2="514.4" y2="749.5"><stop offset="0.054" stop-color="#636363"/><stop offset="0.105" stop-color="#484848"/><stop offset="0.225" stop-color="#2c2c2c"/><stop offset="0.396" stop-color="#292929"/><stop offset="0.619" stop-color="#2b2b2b"/><stop offset="0.773" stop-color="#313131"/><stop offset="0.850" stop-color="#2d2d2d"/><stop offset="0.910" stop-color="#333333"/><stop offset="0.912" stop-color="#525252"/><stop offset="0.917" stop-color="#6f6f6f"/><stop offset="0.928" stop-color="#797979"/><stop offset="0.939" stop-color="#7e7e7e"/><stop offset="0.945" stop-color="#808080"/><stop offset="0.946" stop-color="#838383"/></linearGradient>
<linearGradient id="g40" gradientUnits="userSpaceOnUse" x1="362.7" y1="455.3" x2="509.5" y2="751.8"><stop offset="0.054" stop-color="#636363"/><stop offset="0.105" stop-color="#484848"/><stop offset="0.225" stop-color="#2d2d2d"/><stop offset="0.396" stop-color="#2a2a2a"/><stop offset="0.618" stop-color="#2c2c2c"/><stop offset="0.772" stop-color="#323232"/><stop offset="0.849" stop-color="#2d2d2d"/><stop offset="0.909" stop-color="#343434"/><stop offset="0.912" stop-color="#535353"/><stop offset="0.917" stop-color="#717171"/><stop offset="0.928" stop-color="#7b7b7b"/><stop offset="0.939" stop-color="#808080"/><stop offset="0.945" stop-color="#828282"/><stop offset="0.946" stop-color="#858585"/></linearGradient>
<linearGradient id="g41" gradientUnits="userSpaceOnUse" x1="355.4" y1="459.3" x2="504.7" y2="754.1"><stop offset="0.054" stop-color="#646464"/><stop offset="0.105" stop-color="#484848"/><stop offset="0.225" stop-color="#2d2d2d"/><stop offset="0.396" stop-color="#2a2a2a"/><stop offset="0.618" stop-color="#2c2c2c"/><stop offset="0.772" stop-color="#323232"/><stop offset="0.849" stop-color="#2e2e2e"/><stop offset="0.909" stop-color="#343434"/><stop offset="0.911" stop-color="#545454"/><stop offset="0.917" stop-color="#727272"/><stop offset="0.928" stop-color="#7c7c7c"/><stop offset="0.939" stop-color="#818181"/><stop offset="0.945" stop-color="#838383"/><stop offset="0.946" stop-color="#868686"/></linearGradient>
<linearGradient id="g42" gradientUnits="userSpaceOnUse" x1="347.0" y1="464.2" x2="499.5" y2="756.7"><stop offset="0.054" stop-color="#646464"/><stop offset="0.105" stop-color="#484848"/><stop offset="0.225" stop-color="#2d2d2d"/><stop offset="0.396" stop-color="#2a2a2a"/><stop offset="0.618" stop-color="#2c2c2c"/><stop offset="0.772" stop-color="#323232"/><stop offset="0.849" stop-color="#2e2e2e"/><stop offset="0.909" stop-color="#353535"/><stop offset="0.911" stop-color="#565656"/><stop offset="0.916" stop-color="#747474"/><stop offset="0.928" stop-color="#7e7e7e"/><stop offset="0.939" stop-color="#838383"/><stop offset="0.945" stop-color="#858585"/><stop offset="0.946" stop-color="#888888"/></linearGradient>
<linearGradient id="g43" gradientUnits="userSpaceOnUse" x1="337.5" y1="469.8" x2="494.1" y2="759.4"><stop offset="0.054" stop-color="#656565"/><stop offset="0.105" stop-color="#494949"/><stop offset="0.224" stop-color="#2e2e2e"/><stop offset="0.395" stop-color="#2b2b2b"/><stop offset="0.618" stop-color="#2d2d2d"/><stop offset="0.771" stop-color="#333333"/><stop offset="0.848" stop-color="#2f2f2f"/><stop offset="0.908" stop-color="#353535"/><stop offset="0.910" stop-color="#575757"/><stop offset="0.916" stop-color="#757575"/><stop offset="0.927" stop-color="#7f7f7f"/><stop offset="0.939" stop-color="#848484"/><stop offset="0.945" stop-color="#868686"/><stop offset="0.946" stop-color="#898989"/></linearGradient>
<linearGradient id="g44" gradientUnits="userSpaceOnUse" x1="328.0" y1="475.6" x2="488.7" y2="762.2"><stop offset="0.054" stop-color="#666666"/><stop offset="0.105" stop-color="#494949"/><stop offset="0.224" stop-color="#2e2e2e"/><stop offset="0.395" stop-color="#2b2b2b"/><stop offset="0.617" stop-color="#2d2d2d"/><stop offset="0.771" stop-color="#333333"/><stop offset="0.848" stop-color="#303030"/><stop offset="0.908" stop-color="#363636"/><stop offset="0.910" stop-color="#585858"/><stop offset="0.915" stop-color="#777777"/><stop offset="0.927" stop-color="#818181"/><stop offset="0.939" stop-color="#868686"/><stop offset="0.944" stop-color="#888888"/><stop offset="0.946" stop-color="#8a8a8a"/></linearGradient>
<linearGradient id="g45" gradientUnits="userSpaceOnUse" x1="318.6" y1="481.4" x2="483.4" y2="765.0"><stop offset="0.054" stop-color="#666666"/><stop offset="0.105" stop-color="#4a4a4a"/><stop offset="0.224" stop-color="#2e2e2e"/><stop offset="0.395" stop-color="#2c2c2c"/><stop offset="0.617" stop-color="#2e2e2e"/><stop offset="0.771" stop-color="#343434"/><stop offset="0.847" stop-color="#303030"/><stop offset="0.907" stop-color="#373737"/><stop offset="0.909" stop-color="#595959"/><stop offset="0.915" stop-color="#787878"/><stop offset="0.927" stop-color="#828282"/><stop offset="0.939" stop-color="#878787"/><stop offset="0.944" stop-color="#898989"/><stop offset="0.946" stop-color="#8b8b8b"/></linearGradient>
<linearGradient id="g46" gradientUnits="userSpaceOnUse" x1="309.3" y1="487.4" x2="478.1" y2="767.9"><stop offset="0.054" stop-color="#676767"/><stop offset="0.105" stop-color="#4a4a4a"/><stop offset="0.224" stop-color="#2f2f2f"/><stop offset="0.395" stop-color="#2c2c2c"/><stop offset="0.617" stop-color="#2f2f2f"/><stop offset="0.770" stop-color="#353535"/><stop offset="0.847" stop-color="#313131"/><stop offset="0.907" stop-color="#383838"/><stop offset="0.909" stop-color="#5a5a5a"/><stop offset="0.915" stop-color="#797979"/><stop offset="0.927" stop-color="#838383"/><stop offset="0.938" stop-color="#888888"/><stop offset="0.944" stop-color="#8a8a8a"/><stop offset="0.946" stop-color="#8c8c8c"/></linearGradient>
<linearGradient id="g47" gradientUnits="userSpaceOnUse" x1="300.0" y1="493.5" x2="472.8" y2="770.9"><stop offset="0.054" stop-color="#686868"/><stop offset="0.105" stop-color="#4a4a4a"/><stop offset="0.224" stop-color="#2f2f2f"/><stop offset="0.395" stop-color="#2c2c2c"/><stop offset="0.616" stop-color="#2f2f2f"/><stop offset="0.770" stop-color="#353535"/><stop offset="0.846" stop-color="#323232"/><stop offset="0.906" stop-color="#383838"/><stop offset="0.909" stop-color="#5b5b5b"/><stop offset="0.914" stop-color="#7b7b7b"/><stop offset="0.926" stop-color="#858585"/><stop offset="0.938" stop-color="#8a8a8a"/><stop offset="0.944" stop-color="#8c8c8c"/><stop offset="0.946" stop-color="#8e8e8e"/></linearGradient>
<linearGradient id="g48" gradientUnits="userSpaceOnUse" x1="290.8" y1="499.7" x2="467.6" y2="774.0"><stop offset="0.054" stop-color="#696969"/><stop offset="0.105" stop-color="#4b4b4b"/><stop offset="0.224" stop-color="#2f2f2f"/><stop offset="0.394" stop-color="#2d2d2d"/><stop offset="0.616" stop-color="#303030"/><stop offset="0.769" stop-color="#363636"/><stop offset="0.846" stop-color="#333333"/><stop offset="0.906" stop-color="#393939"/><stop offset="0.908" stop-color="#5c5c5c"/><stop offset="0.914" stop-color="#7c7c7c"/><stop offset="0.926" stop-color="#868686"/><stop offset="0.938" stop-color="#8b8b8b"/><stop offset="0.944" stop-color="#8d8d8d"/><stop offset="0.946" stop-color="#8f8f8f"/></linearGradient>
<linearGradient id="g49" gradientUnits="userSpaceOnUse" x1="281.7" y1="506.1" x2="462.4" y2="777.1"><stop offset="0.054" stop-color="#696969"/><stop offset="0.105" stop-color="#4b4b4b"/><stop offset="0.224" stop-color="#303030"/><stop offset="0.394" stop-color="#2d2d2d"/><stop offset="0.616" stop-color="#303030"/><stop offset="0.769" stop-color="#363636"/><stop offset="0.845" stop-color="#333333"/><stop offset="0.905" stop-color="#3a3a3a"/><stop offset="0.908" stop-color="#5d5d5d"/><stop offset="0.913" stop-color="#7e7e7e"/><stop offset="0.926" stop-color="#888888"/><stop offset="0.938" stop-color="#8d8d8d"/><stop offset="0.944" stop-color="#8f8f8f"/><stop offset="0.946" stop-color="#909090"/></linearGradient>
<linearGradient id="g50" gradientUnits="userSpaceOnUse" x1="272.7" y1="512.6" x2="457.3" y2="780.4"><stop offset="0.054" stop-color="#6a6a6a"/><stop offset="0.105" stop-color="#4c4c4c"/><stop offset="0.224" stop-color="#303030"/><stop offset="0.394" stop-color="#2e2e2e"/><stop offset="0.615" stop-color="#313131"/><stop offset="0.768" stop-color="#373737"/><stop offset="0.845" stop-color="#343434"/><stop offset="0.905" stop-color="#3a3a3a"/><stop offset="0.907" stop-color="#5e5e5e"/><stop offset="0.913" stop-color="#7f7f7f"/><stop offset="0.926" stop-color="#898989"/><stop offset="0.938" stop-color="#8e8e8e"/><stop offset="0.944" stop-color="#909090"/><stop offset="0.946" stop-color="#919191"/></linearGradient>
<linearGradient id="g51" gradientUnits="userSpaceOnUse" x1="263.8" y1="519.1" x2="452.3" y2="783.7"><stop offset="0.054" stop-color="#6b6b6b"/><stop offset="0.105" stop-color="#4c4c4c"/><stop offset="0.224" stop-color="#303030"/><stop offset="0.394" stop-color="#2e2e2e"/><stop offset="0.615" stop-color="#313131"/><stop offset="0.768" stop-color="#373737"/><stop offset="0.845" stop-color="#353535"/><stop offset="0.904" stop-color="#3b3b3b"/><stop offset="0.907" stop-color="#5f5f5f"/><stop offset="0.913" stop-color="#818181"/><stop offset="0.925" stop-color="#8b8b8b"/><stop offset="0.938" stop-color="#909090"/><stop offset="0.944" stop-color="#929292"/><stop offset="0.946" stop-color="#939393"/></linearGradient>
<linearGradient id="g52" gradientUnits="userSpaceOnUse" x1="255.0" y1="525.9" x2="447.3" y2="787.1"><stop offset="0.054" stop-color="#6c6c6c"/><stop offset="0.105" stop-color="#4c4c4c"/><stop offset="0.224" stop-color="#313131"/><stop offset="0.394" stop-color="#2e2e2e"/><stop offset="0.615" stop-color="#323232"/><stop offset="0.768" stop-color="#383838"/><stop offset="0.844" stop-color="#363636"/><stop offset="0.904" stop-color="#3c3c3c"/><stop offset="0.906" stop-color="#606060"/><stop offset="0.912" stop-color="#828282"/><stop offset="0.925" stop-color="#8c8c8c"/><stop offset="0.938" stop-color="#919191"/><stop offset="0.944" stop-color="#939393"/><stop offset="0.946" stop-color="#949494"/></linearGradient>
<linearGradient id="g53" gradientUnits="userSpaceOnUse" x1="246.2" y1="532.7" x2="442.3" y2="790.6"><stop offset="0.054" stop-color="#6c6c6c"/><stop offset="0.105" stop-color="#4d4d4d"/><stop offset="0.223" stop-color="#313131"/><stop offset="0.393" stop-color="#2f2f2f"/><stop offset="0.614" stop-color="#333333"/><stop offset="0.767" stop-color="#393939"/><stop offset="0.844" stop-color="#363636"/><stop offset="0.903" stop-color="#3d3d3d"/><stop offset="0.906" stop-color="#616161"/><stop offset="0.912" stop-color="#838383"/><stop offset="0.925" stop-color="#8d8d8d"/><stop offset="0.938" stop-color="#929292"/><stop offset="0.944" stop-color="#949494"/><stop offset="0.946" stop-color="#959595"/></linearGradient>
<linearGradient id="g54" gradientUnits="userSpaceOnUse" x1="237.6" y1="539.7" x2="437.5" y2="794.2"><stop offset="0.054" stop-color="#6d6d6d"/><stop offset="0.105" stop-color="#4d4d4d"/><stop offset="0.223" stop-color="#313131"/><stop offset="0.393" stop-color="#2f2f2f"/><stop offset="0.614" stop-color="#333333"/><stop offset="0.767" stop-color="#393939"/><stop offset="0.843" stop-color="#373737"/><stop offset="0.903" stop-color="#3d3d3d"/><stop offset="0.905" stop-color="#626262"/><stop offset="0.911" stop-color="#858585"/><stop offset="0.924" stop-color="#8f8f8f"/><stop offset="0.938" stop-color="#949494"/><stop offset="0.944" stop-color="#969696"/><stop offset="0.946" stop-color="#969696"/></linearGradient>
<linearGradient id="g55" gradientUnits="userSpaceOnUse" x1="229.1" y1="546.8" x2="432.7" y2="797.9"><stop offset="0.054" stop-color="#6e6e6e"/><stop offset="0.104" stop-color="#4e4e4e"/><stop offset="0.223" stop-color="#323232"/><stop offset="0.393" stop-color="#303030"/><stop offset="0.614" stop-color="#343434"/><stop offset="0.766" stop-color="#3a3a3a"/><stop offset="0.843" stop-color="#383838"/><stop offset="0.902" stop-color="#3e3e3e"/><stop offset="0.905" stop-color="#636363"/><stop offset="0.911" stop-color="#868686"/><stop offset="0.924" stop-color="#909090"/><stop offset="0.938" stop-color="#959595"/><stop offset="0.944" stop-color="#979797"/><stop offset="0.946" stop-color="#979797"/></linearGradient>
<linearGradient id="g56" gradientUnits="userSpaceOnUse" x1="221.4" y1="553.5" x2="428.9" y2="801.0"><stop offset="0.054" stop-color="#6e6e6e"/><stop offset="0.104" stop-color="#4e4e4e"/><stop offset="0.223" stop-color="#323232"/><stop offset="0.393" stop-color="#303030"/><stop offset="0.613" stop-color="#343434"/><stop offset="0.766" stop-color="#3a3a3a"/><stop offset="0.842" stop-color="#383838"/><stop offset="0.901" stop-color="#3f3f3f"/><stop offset="0.904" stop-color="#656565"/><stop offset="0.910" stop-color="#888888"/><stop offset="0.924" stop-color="#929292"/><stop offset="0.937" stop-color="#979797"/><stop offset="0.944" stop-color="#989898"/><stop offset="0.946" stop-color="#989898"/></linearGradient>
<linearGradient id="g57" gradientUnits="userSpaceOnUse" x1="214.4" y1="559.7" x2="426.1" y2="803.3"><stop offset="0.054" stop-color="#6f6f6f"/><stop offset="0.104" stop-color="#4f4f4f"/><stop offset="0.223" stop-color="#333333"/><stop offset="0.392" stop-color="#313131"/><stop offset="0.613" stop-color="#353535"/><stop offset="0.765" stop-color="#3b3b3b"/><stop offset="0.842" stop-color="#393939"/><stop offset="0.901" stop-color="#3f3f3f"/><stop offset="0.904" stop-color="#666666"/><stop offset="0.910" stop-color="#898989"/><stop offset="0.924" stop-color="#939393"/><stop offset="0.937" stop-color="#989898"/><stop offset="0.944" stop-color="#999999"/><stop offset="0.946" stop-color="#999999"/></linearGradient>
<linearGradient id="g58" gradientUnits="userSpaceOnUse" x1="207.6" y1="566.0" x2="423.3" y2="805.7"><stop offset="0.054" stop-color="#707070"/><stop offset="0.104" stop-color="#4f4f4f"/><stop offset="0.223" stop-color="#333333"/><stop offset="0.392" stop-color="#313131"/><stop offset="0.612" stop-color="#353535"/><stop offset="0.765" stop-color="#3c3c3c"/><stop offset="0.841" stop-color="#3a3a3a"/><stop offset="0.900" stop-color="#404040"/><stop offset="0.903" stop-color="#676767"/><stop offset="0.909" stop-color="#8a8a8a"/><stop offset="0.923" stop-color="#949494"/><stop offset="0.937" stop-color="#999999"/><stop offset="0.944" stop-color="#9a9a9a"/><stop offset="0.946" stop-color="#9a9a9a"/></linearGradient>
<linearGradient id="g59" gradientUnits="userSpaceOnUse" x1="200.8" y1="572.3" x2="420.6" y2="808.1"><stop offset="0.054" stop-color="#707070"/><stop offset="0.104" stop-color="#505050"/><stop offset="0.223" stop-color="#343434"/><stop offset="0.392" stop-color="#323232"/><stop offset="0.612" stop-color="#363636"/><stop offset="0.764" stop-color="#3c3c3c"/><stop offset="0.840" stop-color="#3a3a3a"/><stop offset="0.900" stop-color="#414141"/><stop offset="0.902" stop-color="#686868"/><stop offset="0.909" stop-color="#8b8b8b"/><stop offset="0.923" stop-color="#959595"/><stop offset="0.937" stop-color="#9a9a9a"/><stop offset="0.944" stop-color="#9b9b9b"/><stop offset="0.946" stop-color="#9b9b9b"/></linearGradient>
<linearGradient id="g60" gradientUnits="userSpaceOnUse" x1="194.1" y1="578.8" x2="417.9" y2="810.6"><stop offset="0.054" stop-color="#717171"/><stop offset="0.104" stop-color="#505050"/><stop offset="0.223" stop-color="#353535"/><stop offset="0.392" stop-color="#333333"/><stop offset="0.611" stop-color="#373737"/><stop offset="0.764" stop-color="#3d3d3d"/><stop offset="0.840" stop-color="#3b3b3b"/><stop offset="0.899" stop-color="#424242"/><stop offset="0.902" stop-color="#696969"/><stop offset="0.908" stop-color="#8c8c8c"/><stop offset="0.923" stop-color="#969696"/><stop offset="0.937" stop-color="#9b9b9b"/><stop offset="0.944" stop-color="#9c9c9c"/><stop offset="0.946" stop-color="#9c9c9c"/></linearGradient>
<linearGradient id="g61" gradientUnits="userSpaceOnUse" x1="187.6" y1="585.4" x2="415.2" y2="813.1"><stop offset="0.054" stop-color="#727272"/><stop offset="0.104" stop-color="#515151"/><stop offset="0.223" stop-color="#353535"/><stop offset="0.391" stop-color="#333333"/><stop offset="0.611" stop-color="#373737"/><stop offset="0.763" stop-color="#3e3e3e"/><stop offset="0.839" stop-color="#3c3c3c"/><stop offset="0.898" stop-color="#424242"/><stop offset="0.901" stop-color="#6a6a6a"/><stop offset="0.908" stop-color="#8d8d8d"/><stop offset="0.922" stop-color="#979797"/><stop offset="0.937" stop-color="#9c9c9c"/><stop offset="0.944" stop-color="#9d9d9d"/><stop offset="0.946" stop-color="#9d9d9d"/></linearGradient>
<linearGradient id="g62" gradientUnits="userSpaceOnUse" x1="181.1" y1="592.1" x2="412.6" y2="815.7"><stop offset="0.054" stop-color="#737373"/><stop offset="0.104" stop-color="#515151"/><stop offset="0.222" stop-color="#363636"/><stop offset="0.391" stop-color="#343434"/><stop offset="0.611" stop-color="#383838"/><stop offset="0.763" stop-color="#3f3f3f"/><stop offset="0.839" stop-color="#3d3d3d"/><stop offset="0.898" stop-color="#434343"/><stop offset="0.901" stop-color="#6b6b6b"/><stop offset="0.907" stop-color="#8e8e8e"/><stop offset="0.922" stop-color="#989898"/><stop offset="0.937" stop-color="#9d9d9d"/><stop offset="0.944" stop-color="#9e9e9e"/><stop offset="0.946" stop-color="#9e9e9e"/></linearGradient>
<linearGradient id="g63" gradientUnits="userSpaceOnUse" x1="174.8" y1="598.9" x2="410.0" y2="818.3"><stop offset="0.054" stop-color="#737373"/><stop offset="0.104" stop-color="#525252"/><stop offset="0.222" stop-color="#363636"/><stop offset="0.391" stop-color="#343434"/><stop offset="0.610" stop-color="#383838"/><stop offset="0.762" stop-color="#3f3f3f"/><stop offset="0.838" stop-color="#3d3d3d"/><stop offset="0.897" stop-color="#444444"/><stop offset="0.900" stop-color="#6c6c6c"/><stop offset="0.907" stop-color="#8f8f8f"/><stop offset="0.922" stop-color="#999999"/><stop offset="0.937" stop-color="#9e9e9e"/><stop offset="0.944" stop-color="#9f9f9f"/><stop offset="0.946" stop-color="#9f9f9f"/></linearGradient>
<linearGradient id="g64" gradientUnits="userSpaceOnUse" x1="168.5" y1="605.8" x2="407.5" y2="820.9"><stop offset="0.054" stop-color="#747474"/><stop offset="0.104" stop-color="#525252"/><stop offset="0.222" stop-color="#373737"/><stop offset="0.391" stop-color="#353535"/><stop offset="0.610" stop-color="#393939"/><stop offset="0.762" stop-color="#404040"/><stop offset="0.837" stop-color="#3e3e3e"/><stop offset="0.896" stop-color="#444444"/><stop offset="0.899" stop-color="#6d6d6d"/><stop offset="0.906" stop-color="#909090"/><stop offset="0.921" stop-color="#9a9a9a"/><stop offset="0.936" stop-color="#9f9f9f"/><stop offset="0.944" stop-color="#a0a0a0"/><stop offset="0.946" stop-color="#a0a0a0"/></linearGradient>
<linearGradient id="g65" gradientUnits="userSpaceOnUse" x1="162.4" y1="612.8" x2="405.0" y2="823.6"><stop offset="0.054" stop-color="#757575"/><stop offset="0.104" stop-color="#535353"/><stop offset="0.222" stop-color="#373737"/><stop offset="0.390" stop-color="#353535"/><stop offset="0.609" stop-color="#393939"/><stop offset="0.761" stop-color="#414141"/><stop offset="0.837" stop-color="#3f3f3f"/><stop offset="0.896" stop-color="#454545"/><stop offset="0.899" stop-color="#6e6e6e"/><stop offset="0.906" stop-color="#919191"/><stop offset="0.921" stop-color="#9b9b9b"/><stop offset="0.936" stop-color="#a0a0a0"/><stop offset="0.944" stop-color="#a1a1a1"/><stop offset="0.946" stop-color="#a1a1a1"/></linearGradient>
<linearGradient id="g66" gradientUnits="userSpaceOnUse" x1="156.4" y1="619.9" x2="402.6" y2="826.3"><stop offset="0.054" stop-color="#767676"/><stop offset="0.104" stop-color="#535353"/><stop offset="0.222" stop-color="#383838"/><stop offset="0.390" stop-color="#363636"/><stop offset="0.609" stop-color="#3a3a3a"/><stop offset="0.760" stop-color="#424242"/><stop offset="0.836" stop-color="#404040"/><stop offset="0.895" stop-color="#464646"/><stop offset="0.898" stop-color="#6f6f6f"/><stop offset="0.905" stop-color="#929292"/><stop offset="0.921" stop-color="#9c9c9c"/><stop offset="0.936" stop-color="#a1a1a1"/><stop offset="0.944" stop-color="#a2a2a2"/><stop offset="0.946" stop-color="#a2a2a2"/></linearGradient>
<linearGradient id="g67" gradientUnits="userSpaceOnUse" x1="150.6" y1="627.1" x2="400.2" y2="829.1"><stop offset="0.054" stop-color="#767676"/><stop offset="0.104" stop-color="#545454"/><stop offset="0.222" stop-color="#393939"/><stop offset="0.390" stop-color="#373737"/><stop offset="0.609" stop-color="#3b3b3b"/><stop offset="0.760" stop-color="#424242"/><stop offset="0.836" stop-color="#404040"/><stop offset="0.894" stop-color="#474747"/><stop offset="0.898" stop-color="#707070"/><stop offset="0.905" stop-color="#939393"/><stop offset="0.920" stop-color="#9d9d9d"/><stop offset="0.936" stop-color="#a2a2a2"/><stop offset="0.944" stop-color="#a3a3a3"/><stop offset="0.946" stop-color="#a3a3a3"/></linearGradient>
<linearGradient id="g68" gradientUnits="userSpaceOnUse" x1="144.8" y1="634.5" x2="397.8" y2="831.9"><stop offset="0.054" stop-color="#777777"/><stop offset="0.104" stop-color="#545454"/><stop offset="0.222" stop-color="#393939"/><stop offset="0.390" stop-color="#373737"/><stop offset="0.608" stop-color="#3b3b3b"/><stop offset="0.759" stop-color="#434343"/><stop offset="0.835" stop-color="#414141"/><stop offset="0.894" stop-color="#474747"/><stop offset="0.897" stop-color="#717171"/><stop offset="0.904" stop-color="#949494"/><stop offset="0.920" stop-color="#9e9e9e"/><stop offset="0.936" stop-color="#a3a3a3"/><stop offset="0.944" stop-color="#a4a4a4"/><stop offset="0.946" stop-color="#a4a4a4"/></linearGradient>
<linearGradient id="g69" gradientUnits="userSpaceOnUse" x1="139.2" y1="641.9" x2="395.6" y2="834.8"><stop offset="0.054" stop-color="#787878"/><stop offset="0.104" stop-color="#555555"/><stop offset="0.221" stop-color="#3a3a3a"/><stop offset="0.389" stop-color="#383838"/><stop offset="0.608" stop-color="#3c3c3c"/><stop offset="0.759" stop-color="#444444"/><stop offset="0.834" stop-color="#424242"/><stop offset="0.893" stop-color="#484848"/><stop offset="0.896" stop-color="#727272"/><stop offset="0.904" stop-color="#959595"/><stop offset="0.920" stop-color="#9f9f9f"/><stop offset="0.936" stop-color="#a4a4a4"/><stop offset="0.944" stop-color="#a5a5a5"/><stop offset="0.946" stop-color="#a5a5a5"/></linearGradient>
<linearGradient id="g70" gradientUnits="userSpaceOnUse" x1="134.4" y1="648.6" x2="393.9" y2="837.0"><stop offset="0.054" stop-color="#787878"/><stop offset="0.104" stop-color="#555555"/><stop offset="0.221" stop-color="#3a3a3a"/><stop offset="0.389" stop-color="#383838"/><stop offset="0.607" stop-color="#3c3c3c"/><stop offset="0.757" stop-color="#444444"/><stop offset="0.833" stop-color="#424242"/><stop offset="0.892" stop-color="#494949"/><stop offset="0.895" stop-color="#737373"/><stop offset="0.903" stop-color="#969696"/><stop offset="0.919" stop-color="#a0a0a0"/><stop offset="0.935" stop-color="#a5a5a5"/><stop offset="0.944" stop-color="#a5a5a5"/><stop offset="0.946" stop-color="#a5a5a5"/></linearGradient>
<linearGradient id="g71" gradientUnits="userSpaceOnUse" x1="130.2" y1="654.5" x2="392.7" y2="838.6"><stop offset="0.054" stop-color="#797979"/><stop offset="0.104" stop-color="#565656"/><stop offset="0.221" stop-color="#3b3b3b"/><stop offset="0.388" stop-color="#393939"/><stop offset="0.605" stop-color="#3d3d3d"/><stop offset="0.755" stop-color="#454545"/><stop offset="0.831" stop-color="#434343"/><stop offset="0.889" stop-color="#494949"/><stop offset="0.892" stop-color="#737373"/><stop offset="0.901" stop-color="#969696"/><stop offset="0.918" stop-color="#a1a1a1"/><stop offset="0.935" stop-color="#a6a6a6"/><stop offset="0.944" stop-color="#a6a6a6"/><stop offset="0.946" stop-color="#a6a6a6"/></linearGradient>
<linearGradient id="g72" gradientUnits="userSpaceOnUse" x1="126.2" y1="660.5" x2="391.5" y2="840.2"><stop offset="0.054" stop-color="#7a7a7a"/><stop offset="0.104" stop-color="#565656"/><stop offset="0.220" stop-color="#3b3b3b"/><stop offset="0.387" stop-color="#393939"/><stop offset="0.603" stop-color="#3d3d3d"/><stop offset="0.753" stop-color="#464646"/><stop offset="0.828" stop-color="#444444"/><stop offset="0.886" stop-color="#494949"/><stop offset="0.890" stop-color="#727272"/><stop offset="0.898" stop-color="#969696"/><stop offset="0.916" stop-color="#a1a1a1"/><stop offset="0.934" stop-color="#a6a6a6"/><stop offset="0.943" stop-color="#a6a6a6"/><stop offset="0.946" stop-color="#a6a6a6"/></linearGradient>
<linearGradient id="g73" gradientUnits="userSpaceOnUse" x1="122.2" y1="666.6" x2="390.4" y2="841.8"><stop offset="0.054" stop-color="#7a7a7a"/><stop offset="0.103" stop-color="#565656"/><stop offset="0.220" stop-color="#3c3c3c"/><stop offset="0.386" stop-color="#3a3a3a"/><stop offset="0.602" stop-color="#3e3e3e"/><stop offset="0.751" stop-color="#464646"/><stop offset="0.826" stop-color="#454545"/><stop offset="0.884" stop-color="#494949"/><stop offset="0.888" stop-color="#727272"/><stop offset="0.896" stop-color="#969696"/><stop offset="0.915" stop-color="#a1a1a1"/><stop offset="0.934" stop-color="#a6a6a6"/><stop offset="0.943" stop-color="#a6a6a6"/><stop offset="0.946" stop-color="#a6a6a6"/></linearGradient>
<linearGradient id="g74" gradientUnits="userSpaceOnUse" x1="118.3" y1="672.7" x2="389.3" y2="843.4"><stop offset="0.054" stop-color="#7b7b7b"/><stop offset="0.103" stop-color="#575757"/><stop offset="0.219" stop-color="#3d3d3d"/><stop offset="0.385" stop-color="#3b3b3b"/><stop offset="0.600" stop-color="#3e3e3e"/><stop offset="0.749" stop-color="#474747"/><stop offset="0.823" stop-color="#464646"/><stop offset="0.881" stop-color="#4a4a4a"/><stop offset="0.885" stop-color="#727272"/><stop offset="0.894" stop-color="#969696"/><stop offset="0.914" stop-color="#a2a2a2"/><stop offset="0.933" stop-color="#a7a7a7"/><stop offset="0.943" stop-color="#a7a7a7"/><stop offset="0.946" stop-color="#a7a7a7"/></linearGradient>
<linearGradient id="g75" gradientUnits="userSpaceOnUse" x1="114.6" y1="678.9" x2="388.2" y2="845.1"><stop offset="0.054" stop-color="#7c7c7c"/><stop offset="0.103" stop-color="#575757"/><stop offset="0.219" stop-color="#3d3d3d"/><stop offset="0.384" stop-color="#3b3b3b"/><stop offset="0.598" stop-color="#3e3e3e"/><stop offset="0.747" stop-color="#484848"/><stop offset="0.821" stop-color="#474747"/><stop offset="0.879" stop-color="#4a4a4a"/><stop offset="0.883" stop-color="#727272"/><stop offset="0.892" stop-color="#969696"/><stop offset="0.913" stop-color="#a2a2a2"/><stop offset="0.933" stop-color="#a7a7a7"/><stop offset="0.943" stop-color="#a7a7a7"/><stop offset="0.946" stop-color="#a7a7a7"/></linearGradient>
<linearGradient id="g76" gradientUnits="userSpaceOnUse" x1="110.9" y1="685.2" x2="387.1" y2="846.7"><stop offset="0.054" stop-color="#7d7d7d"/><stop offset="0.103" stop-color="#575757"/><stop offset="0.218" stop-color="#3e3e3e"/><stop offset="0.383" stop-color="#3c3c3c"/><stop offset="0.597" stop-color="#3f3f3f"/><stop offset="0.745" stop-color="#494949"/><stop offset="0.819" stop-color="#484848"/><stop offset="0.876" stop-color="#4a4a4a"/><stop offset="0.880" stop-color="#727272"/><stop offset="0.890" stop-color="#969696"/><stop offset="0.911" stop-color="#a2a2a2"/><stop offset="0.932" stop-color="#a7a7a7"/><stop offset="0.943" stop-color="#a7a7a7"/><stop offset="0.946" stop-color="#a7a7a7"/></linearGradient>
<linearGradient id="g77" gradientUnits="userSpaceOnUse" x1="107.4" y1="691.5" x2="386.0" y2="848.4"><stop offset="0.054" stop-color="#7d7d7d"/><stop offset="0.103" stop-color="#585858"/><stop offset="0.218" stop-color="#3e3e3e"/><stop offset="0.382" stop-color="#3c3c3c"/><stop offset="0.595" stop-color="#3f3f3f"/><stop offset="0.742" stop-color="#494949"/><stop offset="0.816" stop-color="#484848"/><stop offset="0.874" stop-color="#4a4a4a"/><stop offset="0.878" stop-color="#717171"/><stop offset="0.888" stop-color="#969696"/><stop offset="0.910" stop-color="#a3a3a3"/><stop offset="0.932" stop-color="#a8a8a8"/><stop offset="0.943" stop-color="#a8a8a8"/><stop offset="0.946" stop-color="#a8a8a8"/></linearGradient>
<linearGradient id="g78" gradientUnits="userSpaceOnUse" x1="103.9" y1="697.9" x2="385.0" y2="850.0"><stop offset="0.054" stop-color="#7e7e7e"/><stop offset="0.103" stop-color="#585858"/><stop offset="0.217" stop-color="#3f3f3f"/><stop offset="0.381" stop-color="#3d3d3d"/><stop offset="0.593" stop-color="#404040"/><stop offset="0.740" stop-color="#4a4a4a"/><stop offset="0.814" stop-color="#494949"/><stop offset="0.871" stop-color="#4b4b4b"/><stop offset="0.876" stop-color="#717171"/><stop offset="0.886" stop-color="#969696"/><stop offset="0.909" stop-color="#a3a3a3"/><stop offset="0.931" stop-color="#a8a8a8"/><stop offset="0.943" stop-color="#a8a8a8"/><stop offset="0.946" stop-color="#a8a8a8"/></linearGradient>
<linearGradient id="g79" gradientUnits="userSpaceOnUse" x1="100.6" y1="704.3" x2="384.0" y2="851.7"><stop offset="0.054" stop-color="#7f7f7f"/><stop offset="0.102" stop-color="#585858"/><stop offset="0.217" stop-color="#3f3f3f"/><stop offset="0.380" stop-color="#3d3d3d"/><stop offset="0.592" stop-color="#404040"/><stop offset="0.738" stop-color="#4b4b4b"/><stop offset="0.812" stop-color="#4a4a4a"/><stop offset="0.869" stop-color="#4b4b4b"/><stop offset="0.873" stop-color="#717171"/><stop offset="0.884" stop-color="#969696"/><stop offset="0.908" stop-color="#a3a3a3"/><stop offset="0.931" stop-color="#a8a8a8"/><stop offset="0.943" stop-color="#a8a8a8"/><stop offset="0.946" stop-color="#a8a8a8"/></linearGradient>
<linearGradient id="g80" gradientUnits="userSpaceOnUse" x1="97.3" y1="710.8" x2="383.0" y2="853.4"><stop offset="0.054" stop-color="#808080"/><stop offset="0.102" stop-color="#595959"/><stop offset="0.216" stop-color="#404040"/><stop offset="0.379" stop-color="#3e3e3e"/><stop offset="0.590" stop-color="#404040"/><stop offset="0.736" stop-color="#4c4c4c"/><stop offset="0.809" stop-color="#4b4b4b"/><stop offset="0.866" stop-color="#4b4b4b"/><stop offset="0.871" stop-color="#717171"/><stop offset="0.882" stop-color="#969696"/><stop offset="0.906" stop-color="#a4a4a4"/><stop offset="0.930" stop-color="#a9a9a9"/><stop offset="0.942" stop-color="#a9a9a9"/><stop offset="0.946" stop-color="#a9a9a9"/></linearGradient>
<linearGradient id="g81" gradientUnits="userSpaceOnUse" x1="94.2" y1="717.3" x2="382.1" y2="855.2"><stop offset="0.054" stop-color="#808080"/><stop offset="0.102" stop-color="#595959"/><stop offset="0.216" stop-color="#414141"/><stop offset="0.378" stop-color="#3f3f3f"/><stop offset="0.588" stop-color="#414141"/><stop offset="0.734" stop-color="#4c4c4c"/><stop offset="0.807" stop-color="#4c4c4c"/><stop offset="0.864" stop-color="#4b4b4b"/><stop offset="0.868" stop-color="#717171"/><stop offset="0.880" stop-color="#969696"/><stop offset="0.905" stop-color="#a4a4a4"/><stop offset="0.930" stop-color="#a9a9a9"/><stop offset="0.942" stop-color="#a9a9a9"/><stop offset="0.946" stop-color="#a9a9a9"/></linearGradient>
<linearGradient id="g82" gradientUnits="userSpaceOnUse" x1="91.2" y1="723.9" x2="381.1" y2="856.9"><stop offset="0.054" stop-color="#818181"/><stop offset="0.102" stop-color="#595959"/><stop offset="0.215" stop-color="#414141"/><stop offset="0.377" stop-color="#3f3f3f"/><stop offset="0.586" stop-color="#414141"/><stop offset="0.732" stop-color="#4d4d4d"/><stop offset="0.804" stop-color="#4d4d4d"/><stop offset="0.861" stop-color="#4c4c4c"/><stop offset="0.866" stop-color="#707070"/><stop offset="0.878" stop-color="#969696"/><stop offset="0.904" stop-color="#a4a4a4"/><stop offset="0.929" stop-color="#a9a9a9"/><stop offset="0.942" stop-color="#a9a9a9"/><stop offset="0.946" stop-color="#a9a9a9"/></linearGradient>
<linearGradient id="g83" gradientUnits="userSpaceOnUse" x1="88.3" y1="730.5" x2="380.2" y2="858.6"><stop offset="0.054" stop-color="#828282"/><stop offset="0.102" stop-color="#5a5a5a"/><stop offset="0.215" stop-color="#424242"/><stop offset="0.376" stop-color="#404040"/><stop offset="0.585" stop-color="#424242"/><stop offset="0.730" stop-color="#4e4e4e"/><stop offset="0.802" stop-color="#4e4e4e"/><stop offset="0.858" stop-color="#4c4c4c"/><stop offset="0.864" stop-color="#707070"/><stop offset="0.876" stop-color="#969696"/><stop offset="0.902" stop-color="#a5a5a5"/><stop offset="0.929" stop-color="#aaaaaa"/><stop offset="0.942" stop-color="#aaaaaa"/><stop offset="0.946" stop-color="#aaaaaa"/></linearGradient>
<linearGradient id="g84" gradientUnits="userSpaceOnUse" x1="85.6" y1="736.9" x2="379.4" y2="860.4"><stop offset="0.054" stop-color="#828282"/><stop offset="0.102" stop-color="#5a5a5a"/><stop offset="0.214" stop-color="#424242"/><stop offset="0.374" stop-color="#404040"/><stop offset="0.583" stop-color="#424242"/><stop offset="0.727" stop-color="#4e4e4e"/><stop offset="0.800" stop-color="#4e4e4e"/><stop offset="0.856" stop-color="#4c4c4c"/><stop offset="0.861" stop-color="#707070"/><stop offset="0.874" stop-color="#969696"/><stop offset="0.901" stop-color="#a5a5a5"/><stop offset="0.928" stop-color="#aaaaaa"/><stop offset="0.942" stop-color="#aaaaaa"/><stop offset="0.946" stop-color="#aaaaaa"/></linearGradient>
<linearGradient id="g85" gradientUnits="userSpaceOnUse" x1="83.2" y1="742.9" x2="378.5" y2="862.1"><stop offset="0.054" stop-color="#838383"/><stop offset="0.102" stop-color="#5a5a5a"/><stop offset="0.214" stop-color="#424242"/><stop offset="0.373" stop-color="#404040"/><stop offset="0.581" stop-color="#424242"/><stop offset="0.725" stop-color="#4e4e4e"/><stop offset="0.797" stop-color="#4f4f4f"/><stop offset="0.853" stop-color="#4c4c4c"/><stop offset="0.859" stop-color="#707070"/><stop offset="0.872" stop-color="#959595"/><stop offset="0.900" stop-color="#a4a4a4"/><stop offset="0.928" stop-color="#a9a9a9"/><stop offset="0.942" stop-color="#aaaaaa"/><stop offset="0.946" stop-color="#aaaaaa"/></linearGradient>
<linearGradient id="g86" gradientUnits="userSpaceOnUse" x1="80.9" y1="748.9" x2="377.7" y2="863.8"><stop offset="0.054" stop-color="#838383"/><stop offset="0.101" stop-color="#5a5a5a"/><stop offset="0.213" stop-color="#434343"/><stop offset="0.372" stop-color="#414141"/><stop offset="0.580" stop-color="#424242"/><stop offset="0.723" stop-color="#4e4e4e"/><stop offset="0.795" stop-color="#4f4f4f"/><stop offset="0.851" stop-color="#4c4c4c"/><stop offset="0.857" stop-color="#6f6f6f"/><stop offset="0.870" stop-color="#959595"/><stop offset="0.899" stop-color="#a4a4a4"/><stop offset="0.927" stop-color="#a9a9a9"/><stop offset="0.942" stop-color="#aaaaaa"/><stop offset="0.946" stop-color="#aaaaaa"/></linearGradient>
<linearGradient id="g87" gradientUnits="userSpaceOnUse" x1="78.7" y1="755.0" x2="377.0" y2="865.5"><stop offset="0.054" stop-color="#848484"/><stop offset="0.101" stop-color="#5a5a5a"/><stop offset="0.212" stop-color="#434343"/><stop offset="0.371" stop-color="#414141"/><stop offset="0.578" stop-color="#424242"/><stop offset="0.721" stop-color="#4e4e4e"/><stop offset="0.793" stop-color="#505050"/><stop offset="0.848" stop-color="#4c4c4c"/><stop offset="0.854" stop-color="#6f6f6f"/><stop offset="0.868" stop-color="#959595"/><stop offset="0.897" stop-color="#a4a4a4"/><stop offset="0.927" stop-color="#a9a9a9"/><stop offset="0.942" stop-color="#aaaaaa"/><stop offset="0.946" stop-color="#aaaaaa"/></linearGradient>
<linearGradient id="g88" gradientUnits="userSpaceOnUse" x1="76.6" y1="761.1" x2="376.2" y2="867.3"><stop offset="0.054" stop-color="#858585"/><stop offset="0.101" stop-color="#5b5b5b"/><stop offset="0.212" stop-color="#434343"/><stop offset="0.370" stop-color="#414141"/><stop offset="0.576" stop-color="#434343"/><stop offset="0.719" stop-color="#4f4f4f"/><stop offset="0.790" stop-color="#505050"/><stop offset="0.846" stop-color="#4c4c4c"/><stop offset="0.852" stop-color="#6f6f6f"/><stop offset="0.866" stop-color="#949494"/><stop offset="0.896" stop-color="#a3a3a3"/><stop offset="0.926" stop-color="#a8a8a8"/><stop offset="0.941" stop-color="#a9a9a9"/><stop offset="0.946" stop-color="#aaaaaa"/></linearGradient>
<linearGradient id="g89" gradientUnits="userSpaceOnUse" x1="74.5" y1="767.2" x2="375.5" y2="869.1"><stop offset="0.054" stop-color="#858585"/><stop offset="0.101" stop-color="#5b5b5b"/><stop offset="0.211" stop-color="#444444"/><stop offset="0.369" stop-color="#424242"/><stop offset="0.575" stop-color="#434343"/><stop offset="0.717" stop-color="#4f4f4f"/><stop offset="0.788" stop-color="#505050"/><stop offset="0.843" stop-color="#4c4c4c"/><stop offset="0.849" stop-color="#6e6e6e"/><stop offset="0.864" stop-color="#949494"/><stop offset="0.895" stop-color="#a3a3a3"/><stop offset="0.926" stop-color="#a8a8a8"/><stop offset="0.941" stop-color="#a9a9a9"/><stop offset="0.946" stop-color="#aaaaaa"/></linearGradient>
<linearGradient id="g90" gradientUnits="userSpaceOnUse" x1="72.6" y1="773.4" x2="374.9" y2="870.8"><stop offset="0.054" stop-color="#868686"/><stop offset="0.101" stop-color="#5b5b5b"/><stop offset="0.211" stop-color="#444444"/><stop offset="0.368" stop-color="#424242"/><stop offset="0.573" stop-color="#434343"/><stop offset="0.715" stop-color="#4f4f4f"/><stop offset="0.785" stop-color="#515151"/><stop offset="0.841" stop-color="#4c4c4c"/><stop offset="0.847" stop-color="#6e6e6e"/><stop offset="0.862" stop-color="#949494"/><stop offset="0.893" stop-color="#a3a3a3"/><stop offset="0.925" stop-color="#a8a8a8"/><stop offset="0.941" stop-color="#a9a9a9"/><stop offset="0.946" stop-color="#aaaaaa"/></linearGradient>
<linearGradient id="g91" gradientUnits="userSpaceOnUse" x1="70.8" y1="779.5" x2="374.2" y2="872.6"><stop offset="0.054" stop-color="#868686"/><stop offset="0.101" stop-color="#5b5b5b"/><stop offset="0.210" stop-color="#444444"/><stop offset="0.367" stop-color="#424242"/><stop offset="0.571" stop-color="#434343"/><stop offset="0.713" stop-color="#4f4f4f"/><stop offset="0.783" stop-color="#515151"/><stop offset="0.838" stop-color="#4c4c4c"/><stop offset="0.845" stop-color="#6e6e6e"/><stop offset="0.860" stop-color="#939393"/><stop offset="0.892" stop-color="#a2a2a2"/><stop offset="0.925" stop-color="#a7a7a7"/><stop offset="0.941" stop-color="#a9a9a9"/><stop offset="0.946" stop-color="#aaaaaa"/></linearGradient>
<linearGradient id="g92" gradientUnits="userSpaceOnUse" x1="69.1" y1="785.8" x2="373.6" y2="874.4"><stop offset="0.054" stop-color="#878787"/><stop offset="0.100" stop-color="#5b5b5b"/><stop offset="0.210" stop-color="#444444"/><stop offset="0.366" stop-color="#424242"/><stop offset="0.570" stop-color="#434343"/><stop offset="0.710" stop-color="#4f4f4f"/><stop offset="0.781" stop-color="#525252"/><stop offset="0.835" stop-color="#4c4c4c"/><stop offset="0.842" stop-color="#6e6e6e"/><stop offset="0.858" stop-color="#939393"/><stop offset="0.891" stop-color="#a2a2a2"/><stop offset="0.924" stop-color="#a7a7a7"/><stop offset="0.941" stop-color="#a9a9a9"/><stop offset="0.946" stop-color="#aaaaaa"/></linearGradient>
<linearGradient id="g93" gradientUnits="userSpaceOnUse" x1="67.4" y1="792.0" x2="373.0" y2="876.2"><stop offset="0.054" stop-color="#878787"/><stop offset="0.100" stop-color="#5b5b5b"/><stop offset="0.209" stop-color="#454545"/><stop offset="0.365" stop-color="#434343"/><stop offset="0.568" stop-color="#434343"/><stop offset="0.708" stop-color="#4f4f4f"/><stop offset="0.778" stop-color="#525252"/><stop offset="0.833" stop-color="#4d4d4d"/><stop offset="0.840" stop-color="#6d6d6d"/><stop offset="0.856" stop-color="#939393"/><stop offset="0.890" stop-color="#a2a2a2"/><stop offset="0.924" stop-color="#a7a7a7"/><stop offset="0.941" stop-color="#a9a9a9"/><stop offset="0.946" stop-color="#aaaaaa"/></linearGradient>
<linearGradient id="g94" gradientUnits="userSpaceOnUse" x1="65.9" y1="798.3" x2="372.5" y2="878.1"><stop offset="0.054" stop-color="#888888"/><stop offset="0.100" stop-color="#5c5c5c"/><stop offset="0.209" stop-color="#454545"/><stop offset="0.364" stop-color="#434343"/><stop offset="0.566" stop-color="#444444"/><stop offset="0.706" stop-color="#505050"/><stop offset="0.776" stop-color="#525252"/><stop offset="0.830" stop-color="#4d4d4d"/><stop offset="0.837" stop-color="#6d6d6d"/><stop offset="0.854" stop-color="#929292"/><stop offset="0.888" stop-color="#a1a1a1"/><stop offset="0.923" stop-color="#a6a6a6"/><stop offset="0.941" stop-color="#a8a8a8"/><stop offset="0.946" stop-color="#aaaaaa"/></linearGradient>
<linearGradient id="g95" gradientUnits="userSpaceOnUse" x1="64.5" y1="804.6" x2="372.0" y2="879.9"><stop offset="0.054" stop-color="#898989"/><stop offset="0.100" stop-color="#5c5c5c"/><stop offset="0.208" stop-color="#454545"/><stop offset="0.363" stop-color="#434343"/><stop offset="0.565" stop-color="#444444"/><stop offset="0.704" stop-color="#505050"/><stop offset="0.774" stop-color="#535353"/><stop offset="0.828" stop-color="#4d4d4d"/><stop offset="0.835" stop-color="#6d6d6d"/><stop offset="0.852" stop-color="#929292"/><stop offset="0.887" stop-color="#a1a1a1"/><stop offset="0.923" stop-color="#a6a6a6"/><stop offset="0.940" stop-color="#a8a8a8"/><stop offset="0.946" stop-color="#aaaaaa"/></linearGradient>
<linearGradient id="g96" gradientUnits="userSpaceOnUse" x1="63.2" y1="810.9" x2="371.5" y2="881.7"><stop offset="0.054" stop-color="#898989"/><stop offset="0.100" stop-color="#5c5c5c"/><stop offset="0.208" stop-color="#464646"/><stop offset="0.362" stop-color="#444444"/><stop offset="0.563" stop-color="#444444"/><stop offset="0.702" stop-color="#505050"/><stop offset="0.771" stop-color="#535353"/><stop offset="0.825" stop-color="#4d4d4d"/><stop offset="0.833" stop-color="#6c6c6c"/><stop offset="0.849" stop-color="#929292"/><stop offset="0.886" stop-color="#a1a1a1"/><stop offset="0.922" stop-color="#a6a6a6"/><stop offset="0.940" stop-color="#a8a8a8"/><stop offset="0.946" stop-color="#aaaaaa"/></linearGradient>
<linearGradient id="g97" gradientUnits="userSpaceOnUse" x1="62.0" y1="817.3" x2="371.1" y2="883.6"><stop offset="0.054" stop-color="#8a8a8a"/><stop offset="0.100" stop-color="#5c5c5c"/><stop offset="0.207" stop-color="#464646"/><stop offset="0.361" stop-color="#444444"/><stop offset="0.561" stop-color="#444444"/><stop offset="0.700" stop-color="#505050"/><stop offset="0.769" stop-color="#545454"/><stop offset="0.823" stop-color="#4d4d4d"/><stop offset="0.830" stop-color="#6c6c6c"/><stop offset="0.847" stop-color="#919191"/><stop offset="0.885" stop-color="#a0a0a0"/><stop offset="0.922" stop-color="#a5a5a5"/><stop offset="0.940" stop-color="#a8a8a8"/><stop offset="0.946" stop-color="#aaaaaa"/></linearGradient>
<linearGradient id="g98" gradientUnits="userSpaceOnUse" x1="60.9" y1="823.4" x2="370.7" y2="885.2"><stop offset="0.054" stop-color="#8a8a8a"/><stop offset="0.100" stop-color="#5c5c5c"/><stop offset="0.207" stop-color="#464646"/><stop offset="0.360" stop-color="#444444"/><stop offset="0.560" stop-color="#444444"/><stop offset="0.698" stop-color="#505050"/><stop offset="0.767" stop-color="#545454"/><stop offset="0.821" stop-color="#4d4d4d"/><stop offset="0.828" stop-color="#6c6c6c"/><stop offset="0.846" stop-color="#919191"/><stop offset="0.884" stop-color="#a0a0a0"/><stop offset="0.921" stop-color="#a5a5a5"/><stop offset="0.940" stop-color="#a8a8a8"/><stop offset="0.946" stop-color="#aaaaaa"/></linearGradient>
<linearGradient id="g99" gradientUnits="userSpaceOnUse" x1="60.0" y1="829.2" x2="370.4" y2="886.7"><stop offset="0.054" stop-color="#8a8a8a"/><stop offset="0.100" stop-color="#5c5c5c"/><stop offset="0.207" stop-color="#464646"/><stop offset="0.360" stop-color="#444444"/><stop offset="0.559" stop-color="#444444"/><stop offset="0.697" stop-color="#505050"/><stop offset="0.766" stop-color="#545454"/><stop offset="0.820" stop-color="#4d4d4d"/><stop offset="0.827" stop-color="#6c6c6c"/><stop offset="0.845" stop-color="#919191"/><stop offset="0.883" stop-color="#a0a0a0"/><stop offset="0.921" stop-color="#a5a5a5"/><stop offset="0.940" stop-color="#a8a8a8"/><stop offset="0.946" stop-color="#aaaaaa"/></linearGradient>
<linearGradient id="g100" gradientUnits="userSpaceOnUse" x1="59.2" y1="835.1" x2="370.2" y2="888.1"><stop offset="0.054" stop-color="#8a8a8a"/><stop offset="0.099" stop-color="#5d5d5d"/><stop offset="0.207" stop-color="#464646"/><stop offset="0.359" stop-color="#444444"/><stop offset="0.558" stop-color="#444444"/><stop offset="0.696" stop-color="#505050"/><stop offset="0.765" stop-color="#545454"/><stop offset="0.818" stop-color="#4d4d4d"/><stop offset="0.826" stop-color="#6c6c6c"/><stop offset="0.844" stop-color="#919191"/><stop offset="0.882" stop-color="#a0a0a0"/><stop offset="0.921" stop-color="#a4a4a4"/><stop offset="0.940" stop-color="#a7a7a7"/><stop offset="0.946" stop-color="#aaaaaa"/></linearGradient>
<linearGradient id="g101" gradientUnits="userSpaceOnUse" x1="58.5" y1="840.9" x2="369.9" y2="889.6"><stop offset="0.054" stop-color="#8a8a8a"/><stop offset="0.099" stop-color="#5d5d5d"/><stop offset="0.206" stop-color="#464646"/><stop offset="0.359" stop-color="#444444"/><stop offset="0.557" stop-color="#444444"/><stop offset="0.695" stop-color="#505050"/><stop offset="0.764" stop-color="#545454"/><stop offset="0.817" stop-color="#4d4d4d"/><stop offset="0.825" stop-color="#6c6c6c"/><stop offset="0.843" stop-color="#919191"/><stop offset="0.882" stop-color="#a0a0a0"/><stop offset="0.921" stop-color="#a4a4a4"/><stop offset="0.940" stop-color="#a7a7a7"/><stop offset="0.946" stop-color="#aaaaaa"/></linearGradient>
<linearGradient id="g102" gradientUnits="userSpaceOnUse" x1="57.8" y1="846.8" x2="369.7" y2="891.0"><stop offset="0.054" stop-color="#8b8b8b"/><stop offset="0.099" stop-color="#5d5d5d"/><stop offset="0.206" stop-color="#474747"/><stop offset="0.358" stop-color="#444444"/><stop offset="0.557" stop-color="#444444"/><stop offset="0.694" stop-color="#505050"/><stop offset="0.762" stop-color="#555555"/><stop offset="0.816" stop-color="#4d4d4d"/><stop offset="0.824" stop-color="#6d6d6d"/><stop offset="0.842" stop-color="#919191"/><stop offset="0.881" stop-color="#9f9f9f"/><stop offset="0.920" stop-color="#a4a4a4"/><stop offset="0.940" stop-color="#a7a7a7"/><stop offset="0.946" stop-color="#a9a9a9"/></linearGradient>
<linearGradient id="g103" gradientUnits="userSpaceOnUse" x1="57.3" y1="852.7" x2="369.5" y2="892.5"><stop offset="0.054" stop-color="#8b8b8b"/><stop offset="0.099" stop-color="#5d5d5d"/><stop offset="0.206" stop-color="#474747"/><stop offset="0.358" stop-color="#444444"/><stop offset="0.556" stop-color="#444444"/><stop offset="0.693" stop-color="#505050"/><stop offset="0.761" stop-color="#555555"/><stop offset="0.814" stop-color="#4d4d4d"/><stop offset="0.822" stop-color="#6d6d6d"/><stop offset="0.841" stop-color="#919191"/><stop offset="0.880" stop-color="#9f9f9f"/><stop offset="0.920" stop-color="#a4a4a4"/><stop offset="0.940" stop-color="#a7a7a7"/><stop offset="0.946" stop-color="#a9a9a9"/></linearGradient>
<linearGradient id="g104" gradientUnits="userSpaceOnUse" x1="56.9" y1="858.6" x2="369.3" y2="894.0"><stop offset="0.054" stop-color="#8b8b8b"/><stop offset="0.099" stop-color="#5d5d5d"/><stop offset="0.205" stop-color="#474747"/><stop offset="0.357" stop-color="#444444"/><stop offset="0.555" stop-color="#444444"/><stop offset="0.692" stop-color="#505050"/><stop offset="0.760" stop-color="#555555"/><stop offset="0.813" stop-color="#4e4e4e"/><stop offset="0.821" stop-color="#6d6d6d"/><stop offset="0.840" stop-color="#919191"/><stop offset="0.880" stop-color="#9f9f9f"/><stop offset="0.920" stop-color="#a4a4a4"/><stop offset="0.940" stop-color="#a7a7a7"/><stop offset="0.946" stop-color="#a9a9a9"/></linearGradient>
<linearGradient id="g105" gradientUnits="userSpaceOnUse" x1="56.5" y1="864.5" x2="369.1" y2="895.4"><stop offset="0.054" stop-color="#8b8b8b"/><stop offset="0.099" stop-color="#5e5e5e"/><stop offset="0.205" stop-color="#474747"/><stop offset="0.357" stop-color="#444444"/><stop offset="0.554" stop-color="#444444"/><stop offset="0.691" stop-color="#505050"/><stop offset="0.759" stop-color="#555555"/><stop offset="0.812" stop-color="#4e4e4e"/><stop offset="0.820" stop-color="#6d6d6d"/><stop offset="0.839" stop-color="#919191"/><stop offset="0.879" stop-color="#9f9f9f"/><stop offset="0.920" stop-color="#a3a3a3"/><stop offset="0.940" stop-color="#a6a6a6"/><stop offset="0.946" stop-color="#a9a9a9"/></linearGradient>
<linearGradient id="g106" gradientUnits="userSpaceOnUse" x1="56.3" y1="870.4" x2="368.9" y2="896.9"><stop offset="0.054" stop-color="#8b8b8b"/><stop offset="0.099" stop-color="#5e5e5e"/><stop offset="0.205" stop-color="#474747"/><stop offset="0.356" stop-color="#444444"/><stop offset="0.553" stop-color="#444444"/><stop offset="0.689" stop-color="#505050"/><stop offset="0.758" stop-color="#555555"/><stop offset="0.811" stop-color="#4e4e4e"/><stop offset="0.819" stop-color="#6d6d6d"/><stop offset="0.838" stop-color="#919191"/><stop offset="0.879" stop-color="#9f9f9f"/><stop offset="0.919" stop-color="#a3a3a3"/><stop offset="0.940" stop-color="#a6a6a6"/><stop offset="0.946" stop-color="#a9a9a9"/></linearGradient>
<linearGradient id="g107" gradientUnits="userSpaceOnUse" x1="56.1" y1="876.3" x2="368.8" y2="898.4"><stop offset="0.054" stop-color="#8b8b8b"/><stop offset="0.099" stop-color="#5e5e5e"/><stop offset="0.205" stop-color="#474747"/><stop offset="0.356" stop-color="#444444"/><stop offset="0.552" stop-color="#444444"/><stop offset="0.688" stop-color="#505050"/><stop offset="0.756" stop-color="#555555"/><stop offset="0.809" stop-color="#4e4e4e"/><stop offset="0.818" stop-color="#6d6d6d"/><stop offset="0.837" stop-color="#919191"/><stop offset="0.878" stop-color="#9f9f9f"/><stop offset="0.919" stop-color="#a3a3a3"/><stop offset="0.940" stop-color="#a6a6a6"/><stop offset="0.946" stop-color="#a9a9a9"/></linearGradient>
<linearGradient id="g108" gradientUnits="userSpaceOnUse" x1="56.1" y1="882.3" x2="368.7" y2="899.8"><stop offset="0.054" stop-color="#8c8c8c"/><stop offset="0.099" stop-color="#5e5e5e"/><stop offset="0.204" stop-color="#484848"/><stop offset="0.355" stop-color="#444444"/><stop offset="0.552" stop-color="#444444"/><stop offset="0.687" stop-color="#505050"/><stop offset="0.755" stop-color="#565656"/><stop offset="0.808" stop-color="#4e4e4e"/><stop offset="0.816" stop-color="#6e6e6e"/><stop offset="0.836" stop-color="#919191"/><stop offset="0.877" stop-color="#9e9e9e"/><stop offset="0.919" stop-color="#a3a3a3"/><stop offset="0.940" stop-color="#a6a6a6"/><stop offset="0.946" stop-color="#a8a8a8"/></linearGradient>
<linearGradient id="g109" gradientUnits="userSpaceOnUse" x1="56.2" y1="888.2" x2="368.6" y2="901.3"><stop offset="0.054" stop-color="#8c8c8c"/><stop offset="0.099" stop-color="#5e5e5e"/><stop offset="0.204" stop-color="#484848"/><stop offset="0.355" stop-color="#444444"/><stop offset="0.551" stop-color="#444444"/><stop offset="0.686" stop-color="#505050"/><stop offset="0.754" stop-color="#565656"/><stop offset="0.807" stop-color="#4e4e4e"/><stop offset="0.815" stop-color="#6e6e6e"/><stop offset="0.835" stop-color="#919191"/><stop offset="0.877" stop-color="#9e9e9e"/><stop offset="0.918" stop-color="#a3a3a3"/><stop offset="0.939" stop-color="#a6a6a6"/><stop offset="0.946" stop-color="#a8a8a8"/></linearGradient>
<linearGradient id="g110" gradientUnits="userSpaceOnUse" x1="56.3" y1="894.1" x2="368.5" y2="902.8"><stop offset="0.054" stop-color="#8c8c8c"/><stop offset="0.099" stop-color="#5f5f5f"/><stop offset="0.204" stop-color="#484848"/><stop offset="0.354" stop-color="#444444"/><stop offset="0.550" stop-color="#444444"/><stop offset="0.685" stop-color="#505050"/><stop offset="0.753" stop-color="#565656"/><stop offset="0.805" stop-color="#4e4e4e"/><stop offset="0.814" stop-color="#6e6e6e"/><stop offset="0.834" stop-color="#919191"/><stop offset="0.876" stop-color="#9e9e9e"/><stop offset="0.918" stop-color="#a2a2a2"/><stop offset="0.939" stop-color="#a5a5a5"/><stop offset="0.946" stop-color="#a8a8a8"/></linearGradient>
<linearGradient id="g111" gradientUnits="userSpaceOnUse" x1="56.6" y1="900.0" x2="368.4" y2="904.3"><stop offset="0.054" stop-color="#8c8c8c"/><stop offset="0.099" stop-color="#5f5f5f"/><stop offset="0.204" stop-color="#484848"/><stop offset="0.354" stop-color="#444444"/><stop offset="0.549" stop-color="#444444"/><stop offset="0.684" stop-color="#505050"/><stop offset="0.752" stop-color="#565656"/><stop offset="0.804" stop-color="#4e4e4e"/><stop offset="0.813" stop-color="#6e6e6e"/><stop offset="0.833" stop-color="#919191"/><stop offset="0.875" stop-color="#9e9e9e"/><stop offset="0.918" stop-color="#a2a2a2"/><stop offset="0.939" stop-color="#a5a5a5"/><stop offset="0.946" stop-color="#a8a8a8"/></linearGradient>
<linearGradient id="g112" gradientUnits="userSpaceOnUse" x1="56.9" y1="906.1" x2="368.4" y2="906.3"><stop offset="0.054" stop-color="#8c8c8c"/><stop offset="0.098" stop-color="#5f5f5f"/><stop offset="0.203" stop-color="#484848"/><stop offset="0.353" stop-color="#444444"/><stop offset="0.547" stop-color="#444444"/><stop offset="0.682" stop-color="#505050"/><stop offset="0.749" stop-color="#565656"/><stop offset="0.802" stop-color="#4e4e4e"/><stop offset="0.810" stop-color="#6e6e6e"/><stop offset="0.831" stop-color="#919191"/><stop offset="0.874" stop-color="#9e9e9e"/><stop offset="0.917" stop-color="#a2a2a2"/><stop offset="0.939" stop-color="#a5a5a5"/><stop offset="0.946" stop-color="#a8a8a8"/></linearGradient>
<linearGradient id="g113" gradientUnits="userSpaceOnUse" x1="57.4" y1="912.2" x2="368.4" y2="908.9"><stop offset="0.054" stop-color="#8c8c8c"/><stop offset="0.098" stop-color="#5f5f5f"/><stop offset="0.202" stop-color="#484848"/><stop offset="0.351" stop-color="#444444"/><stop offset="0.545" stop-color="#444444"/><stop offset="0.679" stop-color="#505050"/><stop offset="0.746" stop-color="#565656"/><stop offset="0.798" stop-color="#4e4e4e"/><stop offset="0.807" stop-color="#6d6d6d"/><stop offset="0.828" stop-color="#909090"/><stop offset="0.872" stop-color="#9d9d9d"/><stop offset="0.917" stop-color="#a1a1a1"/><stop offset="0.939" stop-color="#a4a4a4"/><stop offset="0.946" stop-color="#a7a7a7"/></linearGradient>
<linearGradient id="g114" gradientUnits="userSpaceOnUse" x1="57.9" y1="918.4" x2="368.4" y2="911.5"><stop offset="0.054" stop-color="#8c8c8c"/><stop offset="0.098" stop-color="#5f5f5f"/><stop offset="0.202" stop-color="#484848"/><stop offset="0.350" stop-color="#444444"/><stop offset="0.542" stop-color="#444444"/><stop offset="0.676" stop-color="#505050"/><stop offset="0.742" stop-color="#565656"/><stop offset="0.794" stop-color="#4e4e4e"/><stop offset="0.803" stop-color="#6c6c6c"/><stop offset="0.824" stop-color="#8f8f8f"/><stop offset="0.870" stop-color="#9c9c9c"/><stop offset="0.916" stop-color="#a0a0a0"/><stop offset="0.939" stop-color="#a3a3a3"/><stop offset="0.946" stop-color="#a6a6a6"/></linearGradient>
<linearGradient id="g115" gradientUnits="userSpaceOnUse" x1="58.6" y1="924.6" x2="368.5" y2="914.1"><stop offset="0.054" stop-color="#8c8c8c"/><stop offset="0.098" stop-color="#5f5f5f"/><stop offset="0.201" stop-color="#484848"/><stop offset="0.348" stop-color="#444444"/><stop offset="0.540" stop-color="#444444"/><stop offset="0.672" stop-color="#505050"/><stop offset="0.739" stop-color="#565656"/><stop offset="0.790" stop-color="#4d4d4d"/><stop offset="0.800" stop-color="#6c6c6c"/><stop offset="0.821" stop-color="#8e8e8e"/><stop offset="0.868" stop-color="#9b9b9b"/><stop offset="0.915" stop-color="#9f9f9f"/><stop offset="0.939" stop-color="#a2a2a2"/><stop offset="0.946" stop-color="#a5a5a5"/></linearGradient>
<linearGradient id="g116" gradientUnits="userSpaceOnUse" x1="59.3" y1="930.7" x2="368.6" y2="916.7"><stop offset="0.054" stop-color="#8c8c8c"/><stop offset="0.098" stop-color="#5f5f5f"/><stop offset="0.200" stop-color="#484848"/><stop offset="0.347" stop-color="#444444"/><stop offset="0.537" stop-color="#444444"/><stop offset="0.669" stop-color="#505050"/><stop offset="0.735" stop-color="#565656"/><stop offset="0.786" stop-color="#4d4d4d"/><stop offset="0.796" stop-color="#6b6b6b"/><stop offset="0.818" stop-color="#8e8e8e"/><stop offset="0.866" stop-color="#9a9a9a"/><stop offset="0.914" stop-color="#9e9e9e"/><stop offset="0.938" stop-color="#a1a1a1"/><stop offset="0.946" stop-color="#a4a4a4"/></linearGradient>
<linearGradient id="g117" gradientUnits="userSpaceOnUse" x1="60.2" y1="936.8" x2="368.8" y2="919.2"><stop offset="0.054" stop-color="#8c8c8c"/><stop offset="0.097" stop-color="#5f5f5f"/><stop offset="0.199" stop-color="#484848"/><stop offset="0.345" stop-color="#444444"/><stop offset="0.535" stop-color="#444444"/><stop offset="0.666" stop-color="#505050"/><stop offset="0.731" stop-color="#565656"/><stop offset="0.783" stop-color="#4d4d4d"/><stop offset="0.792" stop-color="#6a6a6a"/><stop offset="0.815" stop-color="#8d8d8d"/><stop offset="0.864" stop-color="#999999"/><stop offset="0.914" stop-color="#9d9d9d"/><stop offset="0.938" stop-color="#a0a0a0"/><stop offset="0.946" stop-color="#a3a3a3"/></linearGradient>
<linearGradient id="g118" gradientUnits="userSpaceOnUse" x1="61.1" y1="943.0" x2="369.1" y2="921.8"><stop offset="0.054" stop-color="#8c8c8c"/><stop offset="0.097" stop-color="#5f5f5f"/><stop offset="0.199" stop-color="#484848"/><stop offset="0.344" stop-color="#444444"/><stop offset="0.532" stop-color="#444444"/><stop offset="0.663" stop-color="#505050"/><stop offset="0.728" stop-color="#565656"/><stop offset="0.779" stop-color="#4d4d4d"/><stop offset="0.789" stop-color="#696969"/><stop offset="0.812" stop-color="#8c8c8c"/><stop offset="0.863" stop-color="#989898"/><stop offset="0.913" stop-color="#9c9c9c"/><stop offset="0.938" stop-color="#9f9f9f"/><stop offset="0.946" stop-color="#a2a2a2"/></linearGradient>
<linearGradient id="g119" gradientUnits="userSpaceOnUse" x1="62.2" y1="949.1" x2="369.4" y2="924.4"><stop offset="0.054" stop-color="#8c8c8c"/><stop offset="0.097" stop-color="#5f5f5f"/><stop offset="0.198" stop-color="#484848"/><stop offset="0.342" stop-color="#444444"/><stop offset="0.530" stop-color="#444444"/><stop offset="0.659" stop-color="#505050"/><stop offset="0.724" stop-color="#565656"/><stop offset="0.775" stop-color="#4c4c4c"/><stop offset="0.785" stop-color="#696969"/><stop offset="0.809" stop-color="#8c8c8c"/><stop offset="0.861" stop-color="#979797"/><stop offset="0.912" stop-color="#9c9c9c"/><stop offset="0.938" stop-color="#9e9e9e"/><stop offset="0.946" stop-color="#a1a1a1"/></linearGradient>
<linearGradient id="g120" gradientUnits="userSpaceOnUse" x1="63.3" y1="955.2" x2="369.7" y2="927.0"><stop offset="0.054" stop-color="#8c8c8c"/><stop offset="0.097" stop-color="#5f5f5f"/><stop offset="0.197" stop-color="#484848"/><stop offset="0.341" stop-color="#444444"/><stop offset="0.527" stop-color="#444444"/><stop offset="0.656" stop-color="#505050"/><stop offset="0.721" stop-color="#565656"/><stop offset="0.771" stop-color="#4c4c4c"/><stop offset="0.782" stop-color="#686868"/><stop offset="0.806" stop-color="#8b8b8b"/><stop offset="0.859" stop-color="#969696"/><stop offset="0.911" stop-color="#9b9b9b"/><stop offset="0.938" stop-color="#9d9d9d"/><stop offset="0.946" stop-color="#a0a0a0"/></linearGradient>
<linearGradient id="g121" gradientUnits="userSpaceOnUse" x1="64.5" y1="961.2" x2="370.1" y2="929.5"><stop offset="0.054" stop-color="#8c8c8c"/><stop offset="0.096" stop-color="#5f5f5f"/><stop offset="0.196" stop-color="#484848"/><stop offset="0.339" stop-color="#444444"/><stop offset="0.525" stop-color="#444444"/><stop offset="0.653" stop-color="#505050"/><stop offset="0.717" stop-color="#565656"/><stop offset="0.767" stop-color="#4c4c4c"/><stop offset="0.778" stop-color="#676767"/><stop offset="0.803" stop-color="#8a8a8a"/><stop offset="0.857" stop-color="#959595"/><stop offset="0.911" stop-color="#9a9a9a"/><stop offset="0.937" stop-color="#9c9c9c"/><stop offset="0.946" stop-color="#9f9f9f"/></linearGradient>
<linearGradient id="g122" gradientUnits="userSpaceOnUse" x1="65.7" y1="967.3" x2="370.5" y2="932.1"><stop offset="0.054" stop-color="#8c8c8c"/><stop offset="0.096" stop-color="#5f5f5f"/><stop offset="0.196" stop-color="#484848"/><stop offset="0.338" stop-color="#444444"/><stop offset="0.522" stop-color="#444444"/><stop offset="0.650" stop-color="#505050"/><stop offset="0.714" stop-color="#565656"/><stop offset="0.763" stop-color="#4b4b4b"/><stop offset="0.774" stop-color="#666666"/><stop offset="0.800" stop-color="#8a8a8a"/><stop offset="0.855" stop-color="#949494"/><stop offset="0.910" stop-color="#999999"/><stop offset="0.937" stop-color="#9b9b9b"/><stop offset="0.946" stop-color="#9e9e9e"/></linearGradient>
<linearGradient id="g123" gradientUnits="userSpaceOnUse" x1="67.1" y1="973.3" x2="370.9" y2="934.6"><stop offset="0.054" stop-color="#8c8c8c"/><stop offset="0.096" stop-color="#5f5f5f"/><stop offset="0.195" stop-color="#484848"/><stop offset="0.336" stop-color="#444444"/><stop offset="0.520" stop-color="#444444"/><stop offset="0.647" stop-color="#505050"/><stop offset="0.710" stop-color="#565656"/><stop offset="0.760" stop-color="#4b4b4b"/><stop offset="0.771" stop-color="#666666"/><stop offset="0.797" stop-color="#898989"/><stop offset="0.853" stop-color="#939393"/><stop offset="0.909" stop-color="#989898"/><stop offset="0.937" stop-color="#9a9a9a"/><stop offset="0.946" stop-color="#9d9d9d"/></linearGradient>
<linearGradient id="g124" gradientUnits="userSpaceOnUse" x1="68.5" y1="979.4" x2="371.4" y2="937.2"><stop offset="0.054" stop-color="#8c8c8c"/><stop offset="0.096" stop-color="#5f5f5f"/><stop offset="0.194" stop-color="#484848"/><stop offset="0.334" stop-color="#444444"/><stop offset="0.517" stop-color="#444444"/><stop offset="0.643" stop-color="#505050"/><stop offset="0.707" stop-color="#565656"/><stop offset="0.756" stop-color="#4b4b4b"/><stop offset="0.767" stop-color="#656565"/><stop offset="0.794" stop-color="#888888"/><stop offset="0.851" stop-color="#929292"/><stop offset="0.908" stop-color="#979797"/><stop offset="0.937" stop-color="#999999"/><stop offset="0.946" stop-color="#9c9c9c"/></linearGradient>
<linearGradient id="g125" gradientUnits="userSpaceOnUse" x1="70.0" y1="985.4" x2="372.0" y2="939.7"><stop offset="0.054" stop-color="#8c8c8c"/><stop offset="0.095" stop-color="#5f5f5f"/><stop offset="0.193" stop-color="#484848"/><stop offset="0.333" stop-color="#444444"/><stop offset="0.514" stop-color="#444444"/><stop offset="0.640" stop-color="#505050"/><stop offset="0.703" stop-color="#565656"/><stop offset="0.752" stop-color="#4b4b4b"/><stop offset="0.764" stop-color="#646464"/><stop offset="0.791" stop-color="#878787"/><stop offset="0.849" stop-color="#919191"/><stop offset="0.908" stop-color="#969696"/><stop offset="0.937" stop-color="#989898"/><stop offset="0.946" stop-color="#9b9b9b"/></linearGradient>
<linearGradient id="g126" gradientUnits="userSpaceOnUse" x1="71.7" y1="991.5" x2="372.6" y2="942.3"><stop offset="0.054" stop-color="#8c8c8c"/><stop offset="0.095" stop-color="#5f5f5f"/><stop offset="0.192" stop-color="#484848"/><stop offset="0.331" stop-color="#444444"/><stop offset="0.512" stop-color="#444444"/><stop offset="0.637" stop-color="#505050"/><stop offset="0.699" stop-color="#565656"/><stop offset="0.748" stop-color="#4a4a4a"/><stop offset="0.760" stop-color="#646464"/><stop offset="0.788" stop-color="#868686"/><stop offset="0.847" stop-color="#909090"/><stop offset="0.907" stop-color="#959595"/><stop offset="0.937" stop-color="#979797"/><stop offset="0.946" stop-color="#9a9a9a"/></linearGradient>
<linearGradient id="g127" gradientUnits="userSpaceOnUse" x1="73.4" y1="997.8" x2="373.2" y2="944.9"><stop offset="0.054" stop-color="#8b8b8b"/><stop offset="0.095" stop-color="#5f5f5f"/><stop offset="0.192" stop-color="#484848"/><stop offset="0.330" stop-color="#444444"/><stop offset="0.509" stop-color="#434343"/><stop offset="0.634" stop-color="#4f4f4f"/><stop offset="0.696" stop-color="#565656"/><stop offset="0.744" stop-color="#4a4a4a"/><stop offset="0.756" stop-color="#636363"/><stop offset="0.785" stop-color="#858585"/><stop offset="0.845" stop-color="#8f8f8f"/><stop offset="0.906" stop-color="#949494"/><stop offset="0.936" stop-color="#969696"/><stop offset="0.946" stop-color="#999999"/></linearGradient>
<linearGradient id="g128" gradientUnits="userSpaceOnUse" x1="75.3" y1="1004.1" x2="373.9" y2="947.5"><stop offset="0.054" stop-color="#8b8b8b"/><stop offset="0.095" stop-color="#5e5e5e"/><stop offset="0.191" stop-color="#484848"/><stop offset="0.328" stop-color="#444444"/><stop offset="0.507" stop-color="#434343"/><stop offset="0.631" stop-color="#4f4f4f"/><stop offset="0.692" stop-color="#555555"/><stop offset="0.740" stop-color="#494949"/><stop offset="0.753" stop-color="#626262"/><stop offset="0.782" stop-color="#848484"/><stop offset="0.843" stop-color="#8e8e8e"/><stop offset="0.905" stop-color="#929292"/><stop offset="0.936" stop-color="#949494"/><stop offset="0.946" stop-color="#989898"/></linearGradient>
<linearGradient id="g129" gradientUnits="userSpaceOnUse" x1="77.2" y1="1010.3" x2="374.6" y2="950.1"><stop offset="0.054" stop-color="#8b8b8b"/><stop offset="0.095" stop-color="#5e5e5e"/><stop offset="0.190" stop-color="#484848"/><stop offset="0.327" stop-color="#444444"/><stop offset="0.504" stop-color="#424242"/><stop offset="0.627" stop-color="#4e4e4e"/><stop offset="0.689" stop-color="#555555"/><stop offset="0.737" stop-color="#494949"/><stop offset="0.749" stop-color="#626262"/><stop offset="0.779" stop-color="#838383"/><stop offset="0.842" stop-color="#8c8c8c"/><stop offset="0.904" stop-color="#919191"/><stop offset="0.936" stop-color="#939393"/><stop offset="0.946" stop-color="#979797"/></linearGradient>
<linearGradient id="g130" gradientUnits="userSpaceOnUse" x1="79.2" y1="1016.5" x2="375.4" y2="952.7"><stop offset="0.054" stop-color="#8a8a8a"/><stop offset="0.094" stop-color="#5e5e5e"/><stop offset="0.189" stop-color="#474747"/><stop offset="0.325" stop-color="#434343"/><stop offset="0.502" stop-color="#424242"/><stop offset="0.624" stop-color="#4e4e4e"/><stop offset="0.685" stop-color="#555555"/><stop offset="0.733" stop-color="#494949"/><stop offset="0.746" stop-color="#616161"/><stop offset="0.776" stop-color="#828282"/><stop offset="0.840" stop-color="#8b8b8b"/><stop offset="0.904" stop-color="#909090"/><stop offset="0.936" stop-color="#929292"/><stop offset="0.946" stop-color="#969696"/></linearGradient>
<linearGradient id="g131" gradientUnits="userSpaceOnUse" x1="81.2" y1="1022.7" x2="376.2" y2="955.2"><stop offset="0.054" stop-color="#8a8a8a"/><stop offset="0.094" stop-color="#5e5e5e"/><stop offset="0.189" stop-color="#474747"/><stop offset="0.324" stop-color="#434343"/><stop offset="0.499" stop-color="#424242"/><stop offset="0.621" stop-color="#4e4e4e"/><stop offset="0.682" stop-color="#545454"/><stop offset="0.729" stop-color="#484848"/><stop offset="0.742" stop-color="#606060"/><stop offset="0.772" stop-color="#808080"/><stop offset="0.838" stop-color="#8a8a8a"/><stop offset="0.903" stop-color="#8e8e8e"/><stop offset="0.936" stop-color="#909090"/><stop offset="0.946" stop-color="#959595"/></linearGradient>
<linearGradient id="g132" gradientUnits="userSpaceOnUse" x1="83.4" y1="1028.9" x2="377.0" y2="957.8"><stop offset="0.054" stop-color="#8a8a8a"/><stop offset="0.094" stop-color="#5e5e5e"/><stop offset="0.188" stop-color="#474747"/><stop offset="0.322" stop-color="#434343"/><stop offset="0.497" stop-color="#414141"/><stop offset="0.618" stop-color="#4d4d4d"/><stop offset="0.678" stop-color="#545454"/><stop offset="0.725" stop-color="#484848"/><stop offset="0.738" stop-color="#5f5f5f"/><stop offset="0.769" stop-color="#7f7f7f"/><stop offset="0.836" stop-color="#888888"/><stop offset="0.902" stop-color="#8d8d8d"/><stop offset="0.935" stop-color="#8f8f8f"/><stop offset="0.946" stop-color="#949494"/></linearGradient>
<linearGradient id="g133" gradientUnits="userSpaceOnUse" x1="85.6" y1="1035.0" x2="377.8" y2="960.4"><stop offset="0.054" stop-color="#898989"/><stop offset="0.094" stop-color="#5d5d5d"/><stop offset="0.187" stop-color="#474747"/><stop offset="0.321" stop-color="#434343"/><stop offset="0.494" stop-color="#414141"/><stop offset="0.614" stop-color="#4d4d4d"/><stop offset="0.675" stop-color="#545454"/><stop offset="0.721" stop-color="#474747"/><stop offset="0.735" stop-color="#5f5f5f"/><stop offset="0.766" stop-color="#7e7e7e"/><stop offset="0.834" stop-color="#878787"/><stop offset="0.901" stop-color="#8b8b8b"/><stop offset="0.935" stop-color="#8d8d8d"/><stop offset="0.946" stop-color="#939393"/></linearGradient>
<linearGradient id="g134" gradientUnits="userSpaceOnUse" x1="87.9" y1="1041.1" x2="378.7" y2="962.9"><stop offset="0.054" stop-color="#898989"/><stop offset="0.093" stop-color="#5d5d5d"/><stop offset="0.186" stop-color="#474747"/><stop offset="0.319" stop-color="#434343"/><stop offset="0.492" stop-color="#404040"/><stop offset="0.611" stop-color="#4c4c4c"/><stop offset="0.671" stop-color="#545454"/><stop offset="0.717" stop-color="#474747"/><stop offset="0.731" stop-color="#5e5e5e"/><stop offset="0.763" stop-color="#7d7d7d"/><stop offset="0.832" stop-color="#858585"/><stop offset="0.901" stop-color="#8a8a8a"/><stop offset="0.935" stop-color="#8c8c8c"/><stop offset="0.946" stop-color="#929292"/></linearGradient>
<linearGradient id="g135" gradientUnits="userSpaceOnUse" x1="90.2" y1="1047.2" x2="379.7" y2="965.4"><stop offset="0.054" stop-color="#898989"/><stop offset="0.093" stop-color="#5d5d5d"/><stop offset="0.186" stop-color="#474747"/><stop offset="0.318" stop-color="#434343"/><stop offset="0.489" stop-color="#404040"/><stop offset="0.608" stop-color="#4c4c4c"/><stop offset="0.667" stop-color="#535353"/><stop offset="0.714" stop-color="#474747"/><stop offset="0.728" stop-color="#5d5d5d"/><stop offset="0.760" stop-color="#7b7b7b"/><stop offset="0.830" stop-color="#848484"/><stop offset="0.900" stop-color="#888888"/><stop offset="0.935" stop-color="#8a8a8a"/><stop offset="0.946" stop-color="#919191"/></linearGradient>
<linearGradient id="g136" gradientUnits="userSpaceOnUse" x1="92.6" y1="1053.3" x2="380.6" y2="967.9"><stop offset="0.054" stop-color="#888888"/><stop offset="0.093" stop-color="#5d5d5d"/><stop offset="0.185" stop-color="#464646"/><stop offset="0.316" stop-color="#424242"/><stop offset="0.487" stop-color="#404040"/><stop offset="0.605" stop-color="#4c4c4c"/><stop offset="0.664" stop-color="#535353"/><stop offset="0.710" stop-color="#464646"/><stop offset="0.724" stop-color="#5c5c5c"/><stop offset="0.757" stop-color="#7a7a7a"/><stop offset="0.828" stop-color="#838383"/><stop offset="0.899" stop-color="#878787"/><stop offset="0.935" stop-color="#898989"/><stop offset="0.946" stop-color="#909090"/></linearGradient>
<linearGradient id="g137" gradientUnits="userSpaceOnUse" x1="95.1" y1="1059.3" x2="381.6" y2="970.4"><stop offset="0.054" stop-color="#888888"/><stop offset="0.093" stop-color="#5d5d5d"/><stop offset="0.184" stop-color="#464646"/><stop offset="0.315" stop-color="#424242"/><stop offset="0.484" stop-color="#3f3f3f"/><stop offset="0.602" stop-color="#4b4b4b"/><stop offset="0.660" stop-color="#535353"/><stop offset="0.706" stop-color="#464646"/><stop offset="0.720" stop-color="#5c5c5c"/><stop offset="0.754" stop-color="#797979"/><stop offset="0.826" stop-color="#818181"/><stop offset="0.898" stop-color="#868686"/><stop offset="0.934" stop-color="#888888"/><stop offset="0.946" stop-color="#8f8f8f"/></linearGradient>
<linearGradient id="g138" gradientUnits="userSpaceOnUse" x1="97.7" y1="1065.3" x2="382.6" y2="972.9"><stop offset="0.054" stop-color="#888888"/><stop offset="0.092" stop-color="#5c5c5c"/><stop offset="0.183" stop-color="#464646"/><stop offset="0.313" stop-color="#424242"/><stop offset="0.482" stop-color="#3f3f3f"/><stop offset="0.598" stop-color="#4b4b4b"/><stop offset="0.657" stop-color="#525252"/><stop offset="0.702" stop-color="#454545"/><stop offset="0.717" stop-color="#5b5b5b"/><stop offset="0.751" stop-color="#787878"/><stop offset="0.824" stop-color="#808080"/><stop offset="0.898" stop-color="#848484"/><stop offset="0.934" stop-color="#868686"/><stop offset="0.946" stop-color="#8e8e8e"/></linearGradient>
<linearGradient id="g139" gradientUnits="userSpaceOnUse" x1="100.3" y1="1071.3" x2="383.6" y2="975.4"><stop offset="0.054" stop-color="#878787"/><stop offset="0.092" stop-color="#5c5c5c"/><stop offset="0.183" stop-color="#464646"/><stop offset="0.311" stop-color="#424242"/><stop offset="0.479" stop-color="#3e3e3e"/><stop offset="0.595" stop-color="#4a4a4a"/><stop offset="0.653" stop-color="#525252"/><stop offset="0.698" stop-color="#454545"/><stop offset="0.713" stop-color="#5a5a5a"/><stop offset="0.748" stop-color="#777777"/><stop offset="0.822" stop-color="#7f7f7f"/><stop offset="0.897" stop-color="#838383"/><stop offset="0.934" stop-color="#858585"/><stop offset="0.946" stop-color="#8d8d8d"/></linearGradient>
<linearGradient id="g140" gradientUnits="userSpaceOnUse" x1="103.1" y1="1077.6" x2="384.9" y2="978.4"><stop offset="0.054" stop-color="#878787"/><stop offset="0.092" stop-color="#5c5c5c"/><stop offset="0.182" stop-color="#464646"/><stop offset="0.310" stop-color="#424242"/><stop offset="0.476" stop-color="#3e3e3e"/><stop offset="0.592" stop-color="#4a4a4a"/><stop offset="0.649" stop-color="#525252"/><stop offset="0.694" stop-color="#454545"/><stop offset="0.709" stop-color="#5a5a5a"/><stop offset="0.745" stop-color="#767676"/><stop offset="0.820" stop-color="#7d7d7d"/><stop offset="0.896" stop-color="#818181"/><stop offset="0.934" stop-color="#848484"/><stop offset="0.946" stop-color="#8c8c8c"/></linearGradient>
<linearGradient id="g141" gradientUnits="userSpaceOnUse" x1="106.0" y1="1084.0" x2="386.5" y2="982.0"><stop offset="0.054" stop-color="#868686"/><stop offset="0.092" stop-color="#5c5c5c"/><stop offset="0.181" stop-color="#464646"/><stop offset="0.308" stop-color="#414141"/><stop offset="0.473" stop-color="#3d3d3d"/><stop offset="0.588" stop-color="#4a4a4a"/><stop offset="0.645" stop-color="#525252"/><stop offset="0.690" stop-color="#444444"/><stop offset="0.705" stop-color="#595959"/><stop offset="0.741" stop-color="#747474"/><stop offset="0.818" stop-color="#7c7c7c"/><stop offset="0.895" stop-color="#808080"/><stop offset="0.934" stop-color="#828282"/><stop offset="0.946" stop-color="#8b8b8b"/></linearGradient>
<linearGradient id="g142" gradientUnits="userSpaceOnUse" x1="109.1" y1="1090.5" x2="388.1" y2="985.5"><stop offset="0.054" stop-color="#868686"/><stop offset="0.091" stop-color="#5c5c5c"/><stop offset="0.180" stop-color="#454545"/><stop offset="0.306" stop-color="#414141"/><stop offset="0.470" stop-color="#3c3c3c"/><stop offset="0.584" stop-color="#494949"/><stop offset="0.641" stop-color="#525252"/><stop offset="0.685" stop-color="#444444"/><stop offset="0.701" stop-color="#585858"/><stop offset="0.738" stop-color="#747474"/><stop offset="0.816" stop-color="#7b7b7b"/><stop offset="0.894" stop-color="#7f7f7f"/><stop offset="0.933" stop-color="#828282"/><stop offset="0.946" stop-color="#8a8a8a"/></linearGradient>
<linearGradient id="g143" gradientUnits="userSpaceOnUse" x1="112.2" y1="1096.9" x2="389.8" y2="989.0"><stop offset="0.054" stop-color="#868686"/><stop offset="0.091" stop-color="#5c5c5c"/><stop offset="0.179" stop-color="#454545"/><stop offset="0.304" stop-color="#404040"/><stop offset="0.468" stop-color="#3c3c3c"/><stop offset="0.580" stop-color="#494949"/><stop offset="0.637" stop-color="#525252"/><stop offset="0.681" stop-color="#444444"/><stop offset="0.697" stop-color="#585858"/><stop offset="0.734" stop-color="#727272"/><stop offset="0.814" stop-color="#7a7a7a"/><stop offset="0.893" stop-color="#7e7e7e"/><stop offset="0.933" stop-color="#808080"/><stop offset="0.946" stop-color="#898989"/></linearGradient>
<linearGradient id="g144" gradientUnits="userSpaceOnUse" x1="115.4" y1="1103.3" x2="391.6" y2="992.5"><stop offset="0.054" stop-color="#858585"/><stop offset="0.091" stop-color="#5b5b5b"/><stop offset="0.178" stop-color="#454545"/><stop offset="0.303" stop-color="#404040"/><stop offset="0.465" stop-color="#3b3b3b"/><stop offset="0.577" stop-color="#494949"/><stop offset="0.633" stop-color="#515151"/><stop offset="0.676" stop-color="#434343"/><stop offset="0.693" stop-color="#575757"/><stop offset="0.730" stop-color="#727272"/><stop offset="0.811" stop-color="#797979"/><stop offset="0.892" stop-color="#7d7d7d"/><stop offset="0.933" stop-color="#808080"/><stop offset="0.946" stop-color="#888888"/></linearGradient>
<linearGradient id="g145" gradientUnits="userSpaceOnUse" x1="118.7" y1="1109.6" x2="393.4" y2="996.0"><stop offset="0.054" stop-color="#858585"/><stop offset="0.091" stop-color="#5b5b5b"/><stop offset="0.177" stop-color="#444444"/><stop offset="0.301" stop-color="#404040"/><stop offset="0.462" stop-color="#3a3a3a"/><stop offset="0.573" stop-color="#484848"/><stop offset="0.629" stop-color="#515151"/><stop offset="0.672" stop-color="#434343"/><stop offset="0.688" stop-color="#565656"/><stop offset="0.727" stop-color="#707070"/><stop offset="0.809" stop-color="#787878"/><stop offset="0.892" stop-color="#7c7c7c"/><stop offset="0.933" stop-color="#7e7e7e"/><stop offset="0.946" stop-color="#878787"/></linearGradient>
<linearGradient id="g146" gradientUnits="userSpaceOnUse" x1="122.0" y1="1115.9" x2="395.2" y2="999.4"><stop offset="0.054" stop-color="#858585"/><stop offset="0.090" stop-color="#5b5b5b"/><stop offset="0.176" stop-color="#444444"/><stop offset="0.299" stop-color="#3f3f3f"/><stop offset="0.459" stop-color="#393939"/><stop offset="0.569" stop-color="#484848"/><stop offset="0.624" stop-color="#515151"/><stop offset="0.667" stop-color="#434343"/><stop offset="0.684" stop-color="#555555"/><stop offset="0.723" stop-color="#707070"/><stop offset="0.807" stop-color="#777777"/><stop offset="0.891" stop-color="#7b7b7b"/><stop offset="0.932" stop-color="#7e7e7e"/><stop offset="0.946" stop-color="#868686"/></linearGradient>
<linearGradient id="g147" gradientUnits="userSpaceOnUse" x1="125.4" y1="1122.2" x2="397.0" y2="1002.9"><stop offset="0.054" stop-color="#848484"/><stop offset="0.090" stop-color="#5b5b5b"/><stop offset="0.175" stop-color="#444444"/><stop offset="0.297" stop-color="#3f3f3f"/><stop offset="0.456" stop-color="#393939"/><stop offset="0.565" stop-color="#484848"/><stop offset="0.620" stop-color="#515151"/><stop offset="0.663" stop-color="#424242"/><stop offset="0.680" stop-color="#555555"/><stop offset="0.720" stop-color="#6e6e6e"/><stop offset="0.805" stop-color="#757575"/><stop offset="0.890" stop-color="#797979"/><stop offset="0.932" stop-color="#7c7c7c"/><stop offset="0.946" stop-color="#868686"/></linearGradient>
<linearGradient id="g148" gradientUnits="userSpaceOnUse" x1="128.9" y1="1128.5" x2="398.9" y2="1006.3"><stop offset="0.054" stop-color="#848484"/><stop offset="0.090" stop-color="#5b5b5b"/><stop offset="0.175" stop-color="#444444"/><stop offset="0.296" stop-color="#3e3e3e"/><stop offset="0.453" stop-color="#383838"/><stop offset="0.562" stop-color="#484848"/><stop offset="0.616" stop-color="#515151"/><stop offset="0.658" stop-color="#424242"/><stop offset="0.676" stop-color="#545454"/><stop offset="0.716" stop-color="#6e6e6e"/><stop offset="0.802" stop-color="#747474"/><stop offset="0.889" stop-color="#787878"/><stop offset="0.932" stop-color="#7c7c7c"/><stop offset="0.946" stop-color="#858585"/></linearGradient>
<linearGradient id="g149" gradientUnits="userSpaceOnUse" x1="132.4" y1="1134.7" x2="400.9" y2="1009.6"><stop offset="0.054" stop-color="#848484"/><stop offset="0.090" stop-color="#5b5b5b"/><stop offset="0.174" stop-color="#434343"/><stop offset="0.294" stop-color="#3e3e3e"/><stop offset="0.450" stop-color="#373737"/><stop offset="0.558" stop-color="#474747"/><stop offset="0.612" stop-color="#515151"/><stop offset="0.654" stop-color="#424242"/><stop offset="0.672" stop-color="#535353"/><stop offset="0.713" stop-color="#6c6c6c"/><stop offset="0.800" stop-color="#737373"/><stop offset="0.888" stop-color="#777777"/><stop offset="0.932" stop-color="#7a7a7a"/><stop offset="0.946" stop-color="#848484"/></linearGradient>
<linearGradient id="g150" gradientUnits="userSpaceOnUse" x1="136.0" y1="1140.8" x2="402.9" y2="1013.0"><stop offset="0.054" stop-color="#838383"/><stop offset="0.089" stop-color="#5a5a5a"/><stop offset="0.173" stop-color="#434343"/><stop offset="0.292" stop-color="#3e3e3e"/><stop offset="0.447" stop-color="#363636"/><stop offset="0.554" stop-color="#474747"/><stop offset="0.608" stop-color="#505050"/><stop offset="0.650" stop-color="#414141"/><stop offset="0.667" stop-color="#525252"/><stop offset="0.709" stop-color="#6c6c6c"/><stop offset="0.798" stop-color="#727272"/><stop offset="0.887" stop-color="#767676"/><stop offset="0.932" stop-color="#7a7a7a"/><stop offset="0.946" stop-color="#838383"/></linearGradient>
<linearGradient id="g151" gradientUnits="userSpaceOnUse" x1="139.7" y1="1147.0" x2="404.9" y2="1016.3"><stop offset="0.054" stop-color="#838383"/><stop offset="0.089" stop-color="#5a5a5a"/><stop offset="0.172" stop-color="#434343"/><stop offset="0.290" stop-color="#3d3d3d"/><stop offset="0.444" stop-color="#363636"/><stop offset="0.550" stop-color="#474747"/><stop offset="0.604" stop-color="#505050"/><stop offset="0.645" stop-color="#414141"/><stop offset="0.663" stop-color="#525252"/><stop offset="0.705" stop-color="#6a6a6a"/><stop offset="0.796" stop-color="#717171"/><stop offset="0.886" stop-color="#757575"/><stop offset="0.931" stop-color="#787878"/><stop offset="0.946" stop-color="#828282"/></linearGradient>
<linearGradient id="g152" gradientUnits="userSpaceOnUse" x1="143.4" y1="1153.1" x2="406.9" y2="1019.7"><stop offset="0.054" stop-color="#838383"/><stop offset="0.089" stop-color="#5a5a5a"/><stop offset="0.171" stop-color="#424242"/><stop offset="0.288" stop-color="#3d3d3d"/><stop offset="0.441" stop-color="#353535"/><stop offset="0.547" stop-color="#464646"/><stop offset="0.600" stop-color="#505050"/><stop offset="0.641" stop-color="#414141"/><stop offset="0.659" stop-color="#515151"/><stop offset="0.702" stop-color="#6a6a6a"/><stop offset="0.794" stop-color="#707070"/><stop offset="0.885" stop-color="#747474"/><stop offset="0.931" stop-color="#787878"/><stop offset="0.946" stop-color="#818181"/></linearGradient>
<linearGradient id="g153" gradientUnits="userSpaceOnUse" x1="147.2" y1="1159.1" x2="409.0" y2="1023.0"><stop offset="0.054" stop-color="#828282"/><stop offset="0.089" stop-color="#5a5a5a"/><stop offset="0.170" stop-color="#424242"/><stop offset="0.287" stop-color="#3c3c3c"/><stop offset="0.438" stop-color="#343434"/><stop offset="0.543" stop-color="#464646"/><stop offset="0.595" stop-color="#505050"/><stop offset="0.636" stop-color="#404040"/><stop offset="0.655" stop-color="#505050"/><stop offset="0.698" stop-color="#686868"/><stop offset="0.791" stop-color="#6f6f6f"/><stop offset="0.884" stop-color="#737373"/><stop offset="0.931" stop-color="#767676"/><stop offset="0.946" stop-color="#808080"/></linearGradient>
<linearGradient id="g154" gradientUnits="userSpaceOnUse" x1="151.2" y1="1165.4" x2="411.5" y2="1026.8"><stop offset="0.054" stop-color="#828282"/><stop offset="0.088" stop-color="#5a5a5a"/><stop offset="0.169" stop-color="#424242"/><stop offset="0.285" stop-color="#3c3c3c"/><stop offset="0.436" stop-color="#333333"/><stop offset="0.540" stop-color="#464646"/><stop offset="0.592" stop-color="#505050"/><stop offset="0.632" stop-color="#404040"/><stop offset="0.651" stop-color="#505050"/><stop offset="0.695" stop-color="#686868"/><stop offset="0.789" stop-color="#6e6e6e"/><stop offset="0.884" stop-color="#727272"/><stop offset="0.931" stop-color="#767676"/><stop offset="0.946" stop-color="#808080"/></linearGradient>
<linearGradient id="g155" gradientUnits="userSpaceOnUse" x1="155.5" y1="1172.0" x2="414.5" y2="1031.3"><stop offset="0.054" stop-color="#818181"/><stop offset="0.088" stop-color="#595959"/><stop offset="0.169" stop-color="#414141"/><stop offset="0.284" stop-color="#3b3b3b"/><stop offset="0.433" stop-color="#323232"/><stop offset="0.537" stop-color="#454545"/><stop offset="0.589" stop-color="#505050"/><stop offset="0.629" stop-color="#404040"/><stop offset="0.648" stop-color="#4f4f4f"/><stop offset="0.693" stop-color="#676767"/><stop offset="0.788" stop-color="#6d6d6d"/><stop offset="0.883" stop-color="#717171"/><stop offset="0.931" stop-color="#757575"/><stop offset="0.946" stop-color="#7f7f7f"/></linearGradient>
<linearGradient id="g156" gradientUnits="userSpaceOnUse" x1="159.8" y1="1178.5" x2="417.4" y2="1035.7"><stop offset="0.054" stop-color="#818181"/><stop offset="0.088" stop-color="#595959"/><stop offset="0.168" stop-color="#414141"/><stop offset="0.283" stop-color="#3a3a3a"/><stop offset="0.431" stop-color="#313131"/><stop offset="0.534" stop-color="#454545"/><stop offset="0.586" stop-color="#505050"/><stop offset="0.626" stop-color="#3f3f3f"/><stop offset="0.645" stop-color="#4e4e4e"/><stop offset="0.690" stop-color="#676767"/><stop offset="0.786" stop-color="#6d6d6d"/><stop offset="0.882" stop-color="#717171"/><stop offset="0.930" stop-color="#757575"/><stop offset="0.946" stop-color="#7e7e7e"/></linearGradient>
<linearGradient id="g157" gradientUnits="userSpaceOnUse" x1="164.3" y1="1185.0" x2="420.5" y2="1040.0"><stop offset="0.054" stop-color="#818181"/><stop offset="0.088" stop-color="#595959"/><stop offset="0.167" stop-color="#404040"/><stop offset="0.281" stop-color="#3a3a3a"/><stop offset="0.429" stop-color="#303030"/><stop offset="0.532" stop-color="#444444"/><stop offset="0.583" stop-color="#505050"/><stop offset="0.623" stop-color="#3f3f3f"/><stop offset="0.642" stop-color="#4e4e4e"/><stop offset="0.688" stop-color="#666666"/><stop offset="0.785" stop-color="#6c6c6c"/><stop offset="0.882" stop-color="#707070"/><stop offset="0.930" stop-color="#747474"/><stop offset="0.946" stop-color="#7e7e7e"/></linearGradient>
<linearGradient id="g158" gradientUnits="userSpaceOnUse" x1="168.8" y1="1191.4" x2="423.6" y2="1044.4"><stop offset="0.054" stop-color="#808080"/><stop offset="0.088" stop-color="#585858"/><stop offset="0.167" stop-color="#404040"/><stop offset="0.280" stop-color="#393939"/><stop offset="0.427" stop-color="#2e2e2e"/><stop offset="0.529" stop-color="#444444"/><stop offset="0.580" stop-color="#505050"/><stop offset="0.620" stop-color="#3f3f3f"/><stop offset="0.639" stop-color="#4d4d4d"/><stop offset="0.685" stop-color="#666666"/><stop offset="0.783" stop-color="#6c6c6c"/><stop offset="0.881" stop-color="#6f6f6f"/><stop offset="0.930" stop-color="#737373"/><stop offset="0.946" stop-color="#7d7d7d"/></linearGradient>
<linearGradient id="g159" gradientUnits="userSpaceOnUse" x1="173.3" y1="1197.8" x2="426.7" y2="1048.7"><stop offset="0.054" stop-color="#808080"/><stop offset="0.087" stop-color="#585858"/><stop offset="0.166" stop-color="#404040"/><stop offset="0.279" stop-color="#383838"/><stop offset="0.425" stop-color="#2d2d2d"/><stop offset="0.526" stop-color="#444444"/><stop offset="0.577" stop-color="#505050"/><stop offset="0.616" stop-color="#3e3e3e"/><stop offset="0.636" stop-color="#4c4c4c"/><stop offset="0.682" stop-color="#666666"/><stop offset="0.781" stop-color="#6c6c6c"/><stop offset="0.880" stop-color="#6f6f6f"/><stop offset="0.930" stop-color="#737373"/><stop offset="0.946" stop-color="#7c7c7c"/></linearGradient>
<linearGradient id="g160" gradientUnits="userSpaceOnUse" x1="177.9" y1="1204.2" x2="429.9" y2="1053.0"><stop offset="0.054" stop-color="#808080"/><stop offset="0.087" stop-color="#585858"/><stop offset="0.165" stop-color="#3f3f3f"/><stop offset="0.277" stop-color="#373737"/><stop offset="0.423" stop-color="#2c2c2c"/><stop offset="0.524" stop-color="#434343"/><stop offset="0.574" stop-color="#505050"/><stop offset="0.613" stop-color="#3e3e3e"/><stop offset="0.633" stop-color="#4b4b4b"/><stop offset="0.680" stop-color="#656565"/><stop offset="0.780" stop-color="#6b6b6b"/><stop offset="0.880" stop-color="#6e6e6e"/><stop offset="0.930" stop-color="#727272"/><stop offset="0.946" stop-color="#7b7b7b"/></linearGradient>
<linearGradient id="g161" gradientUnits="userSpaceOnUse" x1="182.6" y1="1210.5" x2="433.2" y2="1057.2"><stop offset="0.054" stop-color="#7f7f7f"/><stop offset="0.087" stop-color="#575757"/><stop offset="0.165" stop-color="#3f3f3f"/><stop offset="0.276" stop-color="#373737"/><stop offset="0.421" stop-color="#2a2a2a"/><stop offset="0.521" stop-color="#434343"/><stop offset="0.571" stop-color="#505050"/><stop offset="0.610" stop-color="#3e3e3e"/><stop offset="0.630" stop-color="#4b4b4b"/><stop offset="0.677" stop-color="#656565"/><stop offset="0.778" stop-color="#6b6b6b"/><stop offset="0.879" stop-color="#6e6e6e"/><stop offset="0.930" stop-color="#727272"/><stop offset="0.946" stop-color="#7b7b7b"/></linearGradient>
<linearGradient id="g162" gradientUnits="userSpaceOnUse" x1="187.4" y1="1216.7" x2="436.4" y2="1061.4"><stop offset="0.054" stop-color="#7f7f7f"/><stop offset="0.087" stop-color="#575757"/><stop offset="0.164" stop-color="#3e3e3e"/><stop offset="0.275" stop-color="#363636"/><stop offset="0.419" stop-color="#292929"/><stop offset="0.518" stop-color="#424242"/><stop offset="0.568" stop-color="#505050"/><stop offset="0.607" stop-color="#3e3e3e"/><stop offset="0.627" stop-color="#4a4a4a"/><stop offset="0.675" stop-color="#646464"/><stop offset="0.777" stop-color="#6a6a6a"/><stop offset="0.879" stop-color="#6d6d6d"/><stop offset="0.929" stop-color="#717171"/><stop offset="0.946" stop-color="#7a7a7a"/></linearGradient>
<linearGradient id="g163" gradientUnits="userSpaceOnUse" x1="192.2" y1="1222.9" x2="439.8" y2="1065.6"><stop offset="0.054" stop-color="#7f7f7f"/><stop offset="0.087" stop-color="#575757"/><stop offset="0.164" stop-color="#3e3e3e"/><stop offset="0.274" stop-color="#353535"/><stop offset="0.417" stop-color="#282828"/><stop offset="0.516" stop-color="#424242"/><stop offset="0.565" stop-color="#505050"/><stop offset="0.604" stop-color="#3d3d3d"/><stop offset="0.624" stop-color="#494949"/><stop offset="0.672" stop-color="#646464"/><stop offset="0.775" stop-color="#6a6a6a"/><stop offset="0.878" stop-color="#6d6d6d"/><stop offset="0.929" stop-color="#717171"/><stop offset="0.946" stop-color="#797979"/></linearGradient>
<linearGradient id="g164" gradientUnits="userSpaceOnUse" x1="197.1" y1="1229.1" x2="443.1" y2="1069.7"><stop offset="0.054" stop-color="#7e7e7e"/><stop offset="0.086" stop-color="#565656"/><stop offset="0.163" stop-color="#3e3e3e"/><stop offset="0.272" stop-color="#343434"/><stop offset="0.415" stop-color="#262626"/><stop offset="0.513" stop-color="#424242"/><stop offset="0.562" stop-color="#505050"/><stop offset="0.600" stop-color="#3d3d3d"/><stop offset="0.621" stop-color="#484848"/><stop offset="0.670" stop-color="#646464"/><stop offset="0.773" stop-color="#6a6a6a"/><stop offset="0.877" stop-color="#6c6c6c"/><stop offset="0.929" stop-color="#707070"/><stop offset="0.946" stop-color="#787878"/></linearGradient>
<linearGradient id="g165" gradientUnits="userSpaceOnUse" x1="202.0" y1="1235.2" x2="446.5" y2="1073.8"><stop offset="0.054" stop-color="#7e7e7e"/><stop offset="0.086" stop-color="#565656"/><stop offset="0.162" stop-color="#3d3d3d"/><stop offset="0.271" stop-color="#343434"/><stop offset="0.412" stop-color="#252525"/><stop offset="0.510" stop-color="#414141"/><stop offset="0.559" stop-color="#505050"/><stop offset="0.597" stop-color="#3d3d3d"/><stop offset="0.618" stop-color="#484848"/><stop offset="0.667" stop-color="#636363"/><stop offset="0.772" stop-color="#696969"/><stop offset="0.877" stop-color="#6b6b6b"/><stop offset="0.929" stop-color="#6f6f6f"/><stop offset="0.946" stop-color="#787878"/></linearGradient>
<linearGradient id="g166" gradientUnits="userSpaceOnUse" x1="207.0" y1="1241.2" x2="450.0" y2="1077.9"><stop offset="0.054" stop-color="#7e7e7e"/><stop offset="0.086" stop-color="#565656"/><stop offset="0.162" stop-color="#3d3d3d"/><stop offset="0.270" stop-color="#333333"/><stop offset="0.410" stop-color="#242424"/><stop offset="0.508" stop-color="#414141"/><stop offset="0.556" stop-color="#505050"/><stop offset="0.594" stop-color="#3c3c3c"/><stop offset="0.615" stop-color="#474747"/><stop offset="0.665" stop-color="#636363"/><stop offset="0.770" stop-color="#696969"/><stop offset="0.876" stop-color="#6b6b6b"/><stop offset="0.929" stop-color="#6f6f6f"/><stop offset="0.946" stop-color="#777777"/></linearGradient>
<linearGradient id="g167" gradientUnits="userSpaceOnUse" x1="212.0" y1="1247.3" x2="453.4" y2="1081.9"><stop offset="0.054" stop-color="#7d7d7d"/><stop offset="0.086" stop-color="#555555"/><stop offset="0.161" stop-color="#3c3c3c"/><stop offset="0.268" stop-color="#323232"/><stop offset="0.408" stop-color="#232323"/><stop offset="0.505" stop-color="#404040"/><stop offset="0.553" stop-color="#505050"/><stop offset="0.591" stop-color="#3c3c3c"/><stop offset="0.612" stop-color="#464646"/><stop offset="0.662" stop-color="#626262"/><stop offset="0.769" stop-color="#686868"/><stop offset="0.875" stop-color="#6a6a6a"/><stop offset="0.929" stop-color="#6e6e6e"/><stop offset="0.946" stop-color="#767676"/></linearGradient>
<linearGradient id="g168" gradientUnits="userSpaceOnUse" x1="217.3" y1="1253.5" x2="457.2" y2="1086.2"><stop offset="0.054" stop-color="#7d7d7d"/><stop offset="0.086" stop-color="#555555"/><stop offset="0.160" stop-color="#3c3c3c"/><stop offset="0.267" stop-color="#323232"/><stop offset="0.406" stop-color="#222222"/><stop offset="0.502" stop-color="#404040"/><stop offset="0.550" stop-color="#505050"/><stop offset="0.588" stop-color="#3c3c3c"/><stop offset="0.609" stop-color="#464646"/><stop offset="0.659" stop-color="#626262"/><stop offset="0.767" stop-color="#686868"/><stop offset="0.875" stop-color="#6a6a6a"/><stop offset="0.928" stop-color="#6e6e6e"/><stop offset="0.946" stop-color="#767676"/></linearGradient>
<linearGradient id="g169" gradientUnits="userSpaceOnUse" x1="222.9" y1="1259.9" x2="461.1" y2="1090.6"><stop offset="0.054" stop-color="#7c7c7c"/><stop offset="0.085" stop-color="#545454"/><stop offset="0.160" stop-color="#3b3b3b"/><stop offset="0.266" stop-color="#303030"/><stop offset="0.404" stop-color="#212121"/><stop offset="0.500" stop-color="#3f3f3f"/><stop offset="0.547" stop-color="#4f4f4f"/><stop offset="0.585" stop-color="#3b3b3b"/><stop offset="0.606" stop-color="#454545"/><stop offset="0.657" stop-color="#616161"/><stop offset="0.765" stop-color="#676767"/><stop offset="0.874" stop-color="#696969"/><stop offset="0.928" stop-color="#6d6d6d"/><stop offset="0.946" stop-color="#767676"/></linearGradient>
<linearGradient id="g170" gradientUnits="userSpaceOnUse" x1="228.5" y1="1266.2" x2="465.2" y2="1095.0"><stop offset="0.054" stop-color="#7c7c7c"/><stop offset="0.085" stop-color="#545454"/><stop offset="0.159" stop-color="#3b3b3b"/><stop offset="0.265" stop-color="#303030"/><stop offset="0.402" stop-color="#212121"/><stop offset="0.497" stop-color="#3f3f3f"/><stop offset="0.544" stop-color="#4f4f4f"/><stop offset="0.581" stop-color="#3b3b3b"/><stop offset="0.603" stop-color="#454545"/><stop offset="0.654" stop-color="#616161"/><stop offset="0.764" stop-color="#676767"/><stop offset="0.873" stop-color="#696969"/><stop offset="0.928" stop-color="#6d6d6d"/><stop offset="0.946" stop-color="#757575"/></linearGradient>
<linearGradient id="g171" gradientUnits="userSpaceOnUse" x1="234.2" y1="1272.5" x2="469.2" y2="1099.4"><stop offset="0.054" stop-color="#7c7c7c"/><stop offset="0.085" stop-color="#545454"/><stop offset="0.158" stop-color="#3a3a3a"/><stop offset="0.263" stop-color="#2e2e2e"/><stop offset="0.400" stop-color="#202020"/><stop offset="0.494" stop-color="#3e3e3e"/><stop offset="0.541" stop-color="#4e4e4e"/><stop offset="0.578" stop-color="#3b3b3b"/><stop offset="0.600" stop-color="#444444"/><stop offset="0.652" stop-color="#606060"/><stop offset="0.762" stop-color="#666666"/><stop offset="0.873" stop-color="#686868"/><stop offset="0.928" stop-color="#6c6c6c"/><stop offset="0.946" stop-color="#757575"/></linearGradient>
<linearGradient id="g172" gradientUnits="userSpaceOnUse" x1="240.0" y1="1278.8" x2="473.3" y2="1103.7"><stop offset="0.054" stop-color="#7b7b7b"/><stop offset="0.085" stop-color="#535353"/><stop offset="0.158" stop-color="#393939"/><stop offset="0.262" stop-color="#2e2e2e"/><stop offset="0.398" stop-color="#1f1f1f"/><stop offset="0.492" stop-color="#3d3d3d"/><stop offset="0.538" stop-color="#4e4e4e"/><stop offset="0.575" stop-color="#3a3a3a"/><stop offset="0.597" stop-color="#434343"/><stop offset="0.649" stop-color="#606060"/><stop offset="0.761" stop-color="#656565"/><stop offset="0.872" stop-color="#676767"/><stop offset="0.928" stop-color="#6c6c6c"/><stop offset="0.946" stop-color="#757575"/></linearGradient>
<linearGradient id="g173" gradientUnits="userSpaceOnUse" x1="245.8" y1="1285.0" x2="477.5" y2="1108.0"><stop offset="0.054" stop-color="#7b7b7b"/><stop offset="0.085" stop-color="#535353"/><stop offset="0.157" stop-color="#393939"/><stop offset="0.261" stop-color="#2c2c2c"/><stop offset="0.396" stop-color="#1f1f1f"/><stop offset="0.489" stop-color="#3d3d3d"/><stop offset="0.535" stop-color="#4e4e4e"/><stop offset="0.572" stop-color="#3a3a3a"/><stop offset="0.594" stop-color="#434343"/><stop offset="0.647" stop-color="#606060"/><stop offset="0.759" stop-color="#656565"/><stop offset="0.871" stop-color="#676767"/><stop offset="0.928" stop-color="#6c6c6c"/><stop offset="0.946" stop-color="#757575"/></linearGradient>
<linearGradient id="g174" gradientUnits="userSpaceOnUse" x1="251.6" y1="1291.1" x2="481.7" y2="1112.3"><stop offset="0.054" stop-color="#7b7b7b"/><stop offset="0.084" stop-color="#535353"/><stop offset="0.157" stop-color="#383838"/><stop offset="0.260" stop-color="#2c2c2c"/><stop offset="0.393" stop-color="#1e1e1e"/><stop offset="0.486" stop-color="#3c3c3c"/><stop offset="0.533" stop-color="#4d4d4d"/><stop offset="0.569" stop-color="#393939"/><stop offset="0.591" stop-color="#424242"/><stop offset="0.644" stop-color="#5f5f5f"/><stop offset="0.757" stop-color="#646464"/><stop offset="0.871" stop-color="#666666"/><stop offset="0.928" stop-color="#6b6b6b"/><stop offset="0.946" stop-color="#757575"/></linearGradient>
<linearGradient id="g175" gradientUnits="userSpaceOnUse" x1="257.5" y1="1297.2" x2="485.9" y2="1116.5"><stop offset="0.054" stop-color="#7a7a7a"/><stop offset="0.084" stop-color="#525252"/><stop offset="0.156" stop-color="#383838"/><stop offset="0.258" stop-color="#2a2a2a"/><stop offset="0.391" stop-color="#1e1e1e"/><stop offset="0.483" stop-color="#3c3c3c"/><stop offset="0.530" stop-color="#4d4d4d"/><stop offset="0.565" stop-color="#393939"/><stop offset="0.588" stop-color="#424242"/><stop offset="0.642" stop-color="#5f5f5f"/><stop offset="0.756" stop-color="#646464"/><stop offset="0.870" stop-color="#666666"/><stop offset="0.927" stop-color="#6b6b6b"/><stop offset="0.946" stop-color="#747474"/></linearGradient>
<linearGradient id="g176" gradientUnits="userSpaceOnUse" x1="263.5" y1="1303.3" x2="490.1" y2="1120.7"><stop offset="0.054" stop-color="#7a7a7a"/><stop offset="0.084" stop-color="#525252"/><stop offset="0.155" stop-color="#373737"/><stop offset="0.257" stop-color="#2a2a2a"/><stop offset="0.389" stop-color="#1d1d1d"/><stop offset="0.481" stop-color="#3b3b3b"/><stop offset="0.527" stop-color="#4c4c4c"/><stop offset="0.562" stop-color="#393939"/><stop offset="0.585" stop-color="#414141"/><stop offset="0.639" stop-color="#5e5e5e"/><stop offset="0.754" stop-color="#636363"/><stop offset="0.870" stop-color="#656565"/><stop offset="0.927" stop-color="#6a6a6a"/><stop offset="0.946" stop-color="#747474"/></linearGradient>
<linearGradient id="g177" gradientUnits="userSpaceOnUse" x1="269.5" y1="1309.3" x2="494.4" y2="1124.9"><stop offset="0.054" stop-color="#7a7a7a"/><stop offset="0.084" stop-color="#525252"/><stop offset="0.155" stop-color="#373737"/><stop offset="0.256" stop-color="#282828"/><stop offset="0.387" stop-color="#1d1d1d"/><stop offset="0.478" stop-color="#3b3b3b"/><stop offset="0.524" stop-color="#4c4c4c"/><stop offset="0.559" stop-color="#383838"/><stop offset="0.582" stop-color="#414141"/><stop offset="0.636" stop-color="#5e5e5e"/><stop offset="0.753" stop-color="#636363"/><stop offset="0.869" stop-color="#656565"/><stop offset="0.927" stop-color="#6a6a6a"/><stop offset="0.946" stop-color="#747474"/></linearGradient>
<linearGradient id="g178" gradientUnits="userSpaceOnUse" x1="275.5" y1="1315.3" x2="498.8" y2="1129.0"><stop offset="0.054" stop-color="#797979"/><stop offset="0.084" stop-color="#515151"/><stop offset="0.154" stop-color="#363636"/><stop offset="0.254" stop-color="#282828"/><stop offset="0.385" stop-color="#1c1c1c"/><stop offset="0.475" stop-color="#3a3a3a"/><stop offset="0.521" stop-color="#4c4c4c"/><stop offset="0.556" stop-color="#383838"/><stop offset="0.579" stop-color="#404040"/><stop offset="0.634" stop-color="#5e5e5e"/><stop offset="0.751" stop-color="#626262"/><stop offset="0.868" stop-color="#646464"/><stop offset="0.927" stop-color="#6a6a6a"/><stop offset="0.946" stop-color="#747474"/></linearGradient>
<linearGradient id="g179" gradientUnits="userSpaceOnUse" x1="281.6" y1="1321.2" x2="503.1" y2="1133.1"><stop offset="0.054" stop-color="#797979"/><stop offset="0.084" stop-color="#515151"/><stop offset="0.153" stop-color="#353535"/><stop offset="0.253" stop-color="#262626"/><stop offset="0.383" stop-color="#1b1b1b"/><stop offset="0.473" stop-color="#393939"/><stop offset="0.518" stop-color="#4b4b4b"/><stop offset="0.553" stop-color="#373737"/><stop offset="0.576" stop-color="#3f3f3f"/><stop offset="0.631" stop-color="#5d5d5d"/><stop offset="0.750" stop-color="#616161"/><stop offset="0.868" stop-color="#636363"/><stop offset="0.927" stop-color="#696969"/><stop offset="0.946" stop-color="#747474"/></linearGradient>
<linearGradient id="g180" gradientUnits="userSpaceOnUse" x1="287.8" y1="1327.0" x2="507.5" y2="1137.2"><stop offset="0.054" stop-color="#797979"/><stop offset="0.083" stop-color="#515151"/><stop offset="0.153" stop-color="#353535"/><stop offset="0.252" stop-color="#262626"/><stop offset="0.381" stop-color="#1b1b1b"/><stop offset="0.470" stop-color="#393939"/><stop offset="0.515" stop-color="#4b4b4b"/><stop offset="0.549" stop-color="#373737"/><stop offset="0.573" stop-color="#3f3f3f"/><stop offset="0.629" stop-color="#5d5d5d"/><stop offset="0.748" stop-color="#616161"/><stop offset="0.867" stop-color="#636363"/><stop offset="0.927" stop-color="#696969"/><stop offset="0.946" stop-color="#737373"/></linearGradient>
<linearGradient id="g181" gradientUnits="userSpaceOnUse" x1="294.0" y1="1332.9" x2="511.9" y2="1141.2"><stop offset="0.054" stop-color="#787878"/><stop offset="0.083" stop-color="#505050"/><stop offset="0.152" stop-color="#343434"/><stop offset="0.251" stop-color="#242424"/><stop offset="0.379" stop-color="#1a1a1a"/><stop offset="0.467" stop-color="#383838"/><stop offset="0.512" stop-color="#4a4a4a"/><stop offset="0.546" stop-color="#373737"/><stop offset="0.570" stop-color="#3e3e3e"/><stop offset="0.626" stop-color="#5c5c5c"/><stop offset="0.746" stop-color="#606060"/><stop offset="0.866" stop-color="#626262"/><stop offset="0.926" stop-color="#686868"/><stop offset="0.946" stop-color="#737373"/></linearGradient>
<linearGradient id="g182" gradientUnits="userSpaceOnUse" x1="300.9" y1="1339.3" x2="517.1" y2="1145.9"><stop offset="0.054" stop-color="#787878"/><stop offset="0.083" stop-color="#4f4f4f"/><stop offset="0.152" stop-color="#333333"/><stop offset="0.250" stop-color="#232323"/><stop offset="0.377" stop-color="#1a1a1a"/><stop offset="0.465" stop-color="#373737"/><stop offset="0.509" stop-color="#494949"/><stop offset="0.544" stop-color="#363636"/><stop offset="0.568" stop-color="#3d3d3d"/><stop offset="0.624" stop-color="#5b5b5b"/><stop offset="0.745" stop-color="#5f5f5f"/><stop offset="0.866" stop-color="#626262"/><stop offset="0.926" stop-color="#686868"/><stop offset="0.946" stop-color="#737373"/></linearGradient>
<linearGradient id="g183" gradientUnits="userSpaceOnUse" x1="308.6" y1="1346.3" x2="523.2" y2="1151.3"><stop offset="0.054" stop-color="#777777"/><stop offset="0.083" stop-color="#4d4d4d"/><stop offset="0.151" stop-color="#313131"/><stop offset="0.249" stop-color="#212121"/><stop offset="0.376" stop-color="#1a1a1a"/><stop offset="0.464" stop-color="#363636"/><stop offset="0.508" stop-color="#464646"/><stop offset="0.542" stop-color="#343434"/><stop offset="0.566" stop-color="#3c3c3c"/><stop offset="0.623" stop-color="#585858"/><stop offset="0.744" stop-color="#5d5d5d"/><stop offset="0.865" stop-color="#616161"/><stop offset="0.926" stop-color="#666666"/><stop offset="0.946" stop-color="#727272"/></linearGradient>
<linearGradient id="g184" gradientUnits="userSpaceOnUse" x1="316.4" y1="1353.2" x2="529.3" y2="1156.7"><stop offset="0.054" stop-color="#777777"/><stop offset="0.083" stop-color="#4c4c4c"/><stop offset="0.151" stop-color="#2e2e2e"/><stop offset="0.248" stop-color="#202020"/><stop offset="0.375" stop-color="#1a1a1a"/><stop offset="0.462" stop-color="#353535"/><stop offset="0.506" stop-color="#434343"/><stop offset="0.540" stop-color="#323232"/><stop offset="0.564" stop-color="#3a3a3a"/><stop offset="0.621" stop-color="#555555"/><stop offset="0.743" stop-color="#5c5c5c"/><stop offset="0.865" stop-color="#606060"/><stop offset="0.926" stop-color="#666666"/><stop offset="0.946" stop-color="#717171"/></linearGradient>
<linearGradient id="g185" gradientUnits="userSpaceOnUse" x1="324.2" y1="1360.1" x2="535.4" y2="1162.0"><stop offset="0.054" stop-color="#777777"/><stop offset="0.083" stop-color="#4a4a4a"/><stop offset="0.150" stop-color="#2c2c2c"/><stop offset="0.247" stop-color="#1e1e1e"/><stop offset="0.373" stop-color="#1a1a1a"/><stop offset="0.460" stop-color="#343434"/><stop offset="0.504" stop-color="#404040"/><stop offset="0.538" stop-color="#303030"/><stop offset="0.562" stop-color="#383838"/><stop offset="0.620" stop-color="#535353"/><stop offset="0.742" stop-color="#5a5a5a"/><stop offset="0.865" stop-color="#5f5f5f"/><stop offset="0.926" stop-color="#646464"/><stop offset="0.946" stop-color="#707070"/></linearGradient>
<linearGradient id="g186" gradientUnits="userSpaceOnUse" x1="332.0" y1="1366.9" x2="541.6" y2="1167.3"><stop offset="0.054" stop-color="#767676"/><stop offset="0.083" stop-color="#484848"/><stop offset="0.150" stop-color="#2a2a2a"/><stop offset="0.247" stop-color="#1c1c1c"/><stop offset="0.372" stop-color="#1b1b1b"/><stop offset="0.459" stop-color="#323232"/><stop offset="0.502" stop-color="#3d3d3d"/><stop offset="0.536" stop-color="#2f2f2f"/><stop offset="0.561" stop-color="#373737"/><stop offset="0.618" stop-color="#505050"/><stop offset="0.741" stop-color="#585858"/><stop offset="0.864" stop-color="#5e5e5e"/><stop offset="0.926" stop-color="#646464"/><stop offset="0.946" stop-color="#707070"/></linearGradient>
<linearGradient id="g187" gradientUnits="userSpaceOnUse" x1="339.9" y1="1373.7" x2="547.8" y2="1172.6"><stop offset="0.054" stop-color="#767676"/><stop offset="0.082" stop-color="#464646"/><stop offset="0.150" stop-color="#272727"/><stop offset="0.246" stop-color="#1b1b1b"/><stop offset="0.371" stop-color="#1b1b1b"/><stop offset="0.457" stop-color="#313131"/><stop offset="0.500" stop-color="#3b3b3b"/><stop offset="0.534" stop-color="#2d2d2d"/><stop offset="0.559" stop-color="#353535"/><stop offset="0.617" stop-color="#4d4d4d"/><stop offset="0.740" stop-color="#575757"/><stop offset="0.864" stop-color="#5d5d5d"/><stop offset="0.926" stop-color="#626262"/><stop offset="0.946" stop-color="#6f6f6f"/></linearGradient>
<linearGradient id="g188" gradientUnits="userSpaceOnUse" x1="347.9" y1="1380.4" x2="554.0" y2="1177.8"><stop offset="0.054" stop-color="#767676"/><stop offset="0.082" stop-color="#444444"/><stop offset="0.149" stop-color="#252525"/><stop offset="0.245" stop-color="#191919"/><stop offset="0.369" stop-color="#1b1b1b"/><stop offset="0.456" stop-color="#303030"/><stop offset="0.499" stop-color="#383838"/><stop offset="0.532" stop-color="#2b2b2b"/><stop offset="0.557" stop-color="#343434"/><stop offset="0.615" stop-color="#4b4b4b"/><stop offset="0.739" stop-color="#555555"/><stop offset="0.864" stop-color="#5c5c5c"/><stop offset="0.926" stop-color="#626262"/><stop offset="0.946" stop-color="#6e6e6e"/></linearGradient>
<linearGradient id="g189" gradientUnits="userSpaceOnUse" x1="355.9" y1="1387.0" x2="560.3" y2="1183.0"><stop offset="0.054" stop-color="#757575"/><stop offset="0.082" stop-color="#434343"/><stop offset="0.149" stop-color="#232323"/><stop offset="0.244" stop-color="#171717"/><stop offset="0.368" stop-color="#1b1b1b"/><stop offset="0.454" stop-color="#2e2e2e"/><stop offset="0.497" stop-color="#353535"/><stop offset="0.530" stop-color="#292929"/><stop offset="0.555" stop-color="#323232"/><stop offset="0.614" stop-color="#484848"/><stop offset="0.738" stop-color="#535353"/><stop offset="0.863" stop-color="#5b5b5b"/><stop offset="0.926" stop-color="#606060"/><stop offset="0.946" stop-color="#6e6e6e"/></linearGradient>
<linearGradient id="g190" gradientUnits="userSpaceOnUse" x1="364.0" y1="1393.6" x2="566.5" y2="1188.2"><stop offset="0.054" stop-color="#757575"/><stop offset="0.082" stop-color="#414141"/><stop offset="0.149" stop-color="#212121"/><stop offset="0.243" stop-color="#151515"/><stop offset="0.367" stop-color="#1b1b1b"/><stop offset="0.452" stop-color="#2d2d2d"/><stop offset="0.495" stop-color="#323232"/><stop offset="0.528" stop-color="#282828"/><stop offset="0.553" stop-color="#313131"/><stop offset="0.612" stop-color="#464646"/><stop offset="0.737" stop-color="#515151"/><stop offset="0.863" stop-color="#5a5a5a"/><stop offset="0.926" stop-color="#606060"/><stop offset="0.946" stop-color="#6d6d6d"/></linearGradient>
<linearGradient id="g191" gradientUnits="userSpaceOnUse" x1="372.1" y1="1400.1" x2="572.8" y2="1193.3"><stop offset="0.054" stop-color="#757575"/><stop offset="0.082" stop-color="#3f3f3f"/><stop offset="0.148" stop-color="#1e1e1e"/><stop offset="0.243" stop-color="#141414"/><stop offset="0.366" stop-color="#1b1b1b"/><stop offset="0.451" stop-color="#2c2c2c"/><stop offset="0.493" stop-color="#303030"/><stop offset="0.526" stop-color="#262626"/><stop offset="0.552" stop-color="#2f2f2f"/><stop offset="0.610" stop-color="#434343"/><stop offset="0.736" stop-color="#505050"/><stop offset="0.862" stop-color="#595959"/><stop offset="0.925" stop-color="#5e5e5e"/><stop offset="0.946" stop-color="#6c6c6c"/></linearGradient>
<linearGradient id="g192" gradientUnits="userSpaceOnUse" x1="380.2" y1="1406.6" x2="579.1" y2="1198.5"><stop offset="0.054" stop-color="#747474"/><stop offset="0.082" stop-color="#3d3d3d"/><stop offset="0.148" stop-color="#1c1c1c"/><stop offset="0.242" stop-color="#121212"/><stop offset="0.364" stop-color="#1c1c1c"/><stop offset="0.449" stop-color="#2a2a2a"/><stop offset="0.492" stop-color="#2d2d2d"/><stop offset="0.525" stop-color="#242424"/><stop offset="0.550" stop-color="#2e2e2e"/><stop offset="0.609" stop-color="#404040"/><stop offset="0.735" stop-color="#4e4e4e"/><stop offset="0.862" stop-color="#585858"/><stop offset="0.925" stop-color="#5e5e5e"/><stop offset="0.946" stop-color="#6c6c6c"/></linearGradient>
<linearGradient id="g193" gradientUnits="userSpaceOnUse" x1="388.4" y1="1413.0" x2="585.4" y2="1203.6"><stop offset="0.054" stop-color="#747474"/><stop offset="0.082" stop-color="#3b3b3b"/><stop offset="0.147" stop-color="#1a1a1a"/><stop offset="0.241" stop-color="#101010"/><stop offset="0.363" stop-color="#1c1c1c"/><stop offset="0.448" stop-color="#292929"/><stop offset="0.490" stop-color="#2a2a2a"/><stop offset="0.523" stop-color="#222222"/><stop offset="0.548" stop-color="#2c2c2c"/><stop offset="0.607" stop-color="#3e3e3e"/><stop offset="0.735" stop-color="#4c4c4c"/><stop offset="0.862" stop-color="#575757"/><stop offset="0.925" stop-color="#5c5c5c"/><stop offset="0.946" stop-color="#6b6b6b"/></linearGradient>
<linearGradient id="g194" gradientUnits="userSpaceOnUse" x1="396.7" y1="1419.4" x2="591.7" y2="1208.7"><stop offset="0.054" stop-color="#747474"/><stop offset="0.082" stop-color="#3a3a3a"/><stop offset="0.147" stop-color="#171717"/><stop offset="0.240" stop-color="#0f0f0f"/><stop offset="0.362" stop-color="#1c1c1c"/><stop offset="0.446" stop-color="#282828"/><stop offset="0.488" stop-color="#272727"/><stop offset="0.521" stop-color="#212121"/><stop offset="0.546" stop-color="#2a2a2a"/><stop offset="0.606" stop-color="#3b3b3b"/><stop offset="0.734" stop-color="#4b4b4b"/><stop offset="0.861" stop-color="#565656"/><stop offset="0.925" stop-color="#5c5c5c"/><stop offset="0.946" stop-color="#6a6a6a"/></linearGradient>
<linearGradient id="g195" gradientUnits="userSpaceOnUse" x1="404.9" y1="1425.7" x2="598.1" y2="1213.8"><stop offset="0.054" stop-color="#737373"/><stop offset="0.081" stop-color="#383838"/><stop offset="0.147" stop-color="#151515"/><stop offset="0.240" stop-color="#0d0d0d"/><stop offset="0.361" stop-color="#1c1c1c"/><stop offset="0.444" stop-color="#272727"/><stop offset="0.486" stop-color="#242424"/><stop offset="0.519" stop-color="#1f1f1f"/><stop offset="0.544" stop-color="#292929"/><stop offset="0.604" stop-color="#383838"/><stop offset="0.733" stop-color="#494949"/><stop offset="0.861" stop-color="#555555"/><stop offset="0.925" stop-color="#5a5a5a"/><stop offset="0.946" stop-color="#696969"/></linearGradient>
<linearGradient id="g196" gradientUnits="userSpaceOnUse" x1="413.5" y1="1432.2" x2="605.0" y2="1219.3"><stop offset="0.054" stop-color="#737373"/><stop offset="0.081" stop-color="#373737"/><stop offset="0.146" stop-color="#141414"/><stop offset="0.239" stop-color="#0c0c0c"/><stop offset="0.360" stop-color="#1c1c1c"/><stop offset="0.443" stop-color="#262626"/><stop offset="0.485" stop-color="#232323"/><stop offset="0.517" stop-color="#1e1e1e"/><stop offset="0.543" stop-color="#282828"/><stop offset="0.603" stop-color="#363636"/><stop offset="0.732" stop-color="#464646"/><stop offset="0.861" stop-color="#555555"/><stop offset="0.925" stop-color="#5a5a5a"/><stop offset="0.946" stop-color="#696969"/></linearGradient>
<linearGradient id="g197" gradientUnits="userSpaceOnUse" x1="422.3" y1="1438.7" x2="612.6" y2="1225.3"><stop offset="0.054" stop-color="#727272"/><stop offset="0.081" stop-color="#373737"/><stop offset="0.146" stop-color="#131313"/><stop offset="0.239" stop-color="#0d0d0d"/><stop offset="0.359" stop-color="#1c1c1c"/><stop offset="0.442" stop-color="#262626"/><stop offset="0.484" stop-color="#222222"/><stop offset="0.516" stop-color="#1d1d1d"/><stop offset="0.542" stop-color="#262626"/><stop offset="0.602" stop-color="#333333"/><stop offset="0.731" stop-color="#444444"/><stop offset="0.860" stop-color="#545454"/><stop offset="0.925" stop-color="#595959"/><stop offset="0.946" stop-color="#686868"/></linearGradient>
<linearGradient id="g198" gradientUnits="userSpaceOnUse" x1="431.1" y1="1445.3" x2="620.2" y2="1231.3"><stop offset="0.054" stop-color="#727272"/><stop offset="0.081" stop-color="#373737"/><stop offset="0.146" stop-color="#131313"/><stop offset="0.238" stop-color="#0d0d0d"/><stop offset="0.358" stop-color="#1d1d1d"/><stop offset="0.441" stop-color="#252525"/><stop offset="0.482" stop-color="#222222"/><stop offset="0.515" stop-color="#1c1c1c"/><stop offset="0.541" stop-color="#262626"/><stop offset="0.601" stop-color="#303030"/><stop offset="0.731" stop-color="#404040"/><stop offset="0.860" stop-color="#535353"/><stop offset="0.925" stop-color="#595959"/><stop offset="0.946" stop-color="#676767"/></linearGradient>
<linearGradient id="g199" gradientUnits="userSpaceOnUse" x1="440.0" y1="1451.8" x2="627.9" y2="1237.3"><stop offset="0.054" stop-color="#727272"/><stop offset="0.081" stop-color="#373737"/><stop offset="0.146" stop-color="#121212"/><stop offset="0.237" stop-color="#0e0e0e"/><stop offset="0.357" stop-color="#1d1d1d"/><stop offset="0.440" stop-color="#252525"/><stop offset="0.481" stop-color="#212121"/><stop offset="0.513" stop-color="#1c1c1c"/><stop offset="0.539" stop-color="#242424"/><stop offset="0.600" stop-color="#2d2d2d"/><stop offset="0.730" stop-color="#3e3e3e"/><stop offset="0.860" stop-color="#525252"/><stop offset="0.925" stop-color="#595959"/><stop offset="0.946" stop-color="#666666"/></linearGradient>
<linearGradient id="g200" gradientUnits="userSpaceOnUse" x1="448.9" y1="1458.2" x2="635.5" y2="1243.2"><stop offset="0.054" stop-color="#717171"/><stop offset="0.081" stop-color="#373737"/><stop offset="0.145" stop-color="#111111"/><stop offset="0.237" stop-color="#0f0f0f"/><stop offset="0.356" stop-color="#1d1d1d"/><stop offset="0.439" stop-color="#252525"/><stop offset="0.480" stop-color="#212121"/><stop offset="0.512" stop-color="#1b1b1b"/><stop offset="0.538" stop-color="#242424"/><stop offset="0.599" stop-color="#2a2a2a"/><stop offset="0.729" stop-color="#3a3a3a"/><stop offset="0.860" stop-color="#525252"/><stop offset="0.925" stop-color="#585858"/><stop offset="0.946" stop-color="#666666"/></linearGradient>
<linearGradient id="g201" gradientUnits="userSpaceOnUse" x1="457.9" y1="1464.6" x2="643.2" y2="1249.1"><stop offset="0.054" stop-color="#717171"/><stop offset="0.081" stop-color="#373737"/><stop offset="0.145" stop-color="#111111"/><stop offset="0.236" stop-color="#0f0f0f"/><stop offset="0.355" stop-color="#1e1e1e"/><stop offset="0.438" stop-color="#252525"/><stop offset="0.479" stop-color="#202020"/><stop offset="0.511" stop-color="#1b1b1b"/><stop offset="0.537" stop-color="#222222"/><stop offset="0.598" stop-color="#272727"/><stop offset="0.729" stop-color="#383838"/><stop offset="0.859" stop-color="#515151"/><stop offset="0.925" stop-color="#585858"/><stop offset="0.946" stop-color="#656565"/></linearGradient>
<linearGradient id="g202" gradientUnits="userSpaceOnUse" x1="466.9" y1="1470.9" x2="650.9" y2="1255.0"><stop offset="0.054" stop-color="#717171"/><stop offset="0.081" stop-color="#373737"/><stop offset="0.145" stop-color="#101010"/><stop offset="0.236" stop-color="#101010"/><stop offset="0.355" stop-color="#1e1e1e"/><stop offset="0.437" stop-color="#252525"/><stop offset="0.478" stop-color="#202020"/><stop offset="0.510" stop-color="#1a1a1a"/><stop offset="0.536" stop-color="#222222"/><stop offset="0.597" stop-color="#242424"/><stop offset="0.728" stop-color="#343434"/><stop offset="0.859" stop-color="#505050"/><stop offset="0.925" stop-color="#585858"/><stop offset="0.946" stop-color="#646464"/></linearGradient>
<linearGradient id="g203" gradientUnits="userSpaceOnUse" x1="475.9" y1="1477.3" x2="658.6" y2="1260.8"><stop offset="0.054" stop-color="#707070"/><stop offset="0.081" stop-color="#373737"/><stop offset="0.145" stop-color="#101010"/><stop offset="0.235" stop-color="#101010"/><stop offset="0.354" stop-color="#1e1e1e"/><stop offset="0.436" stop-color="#242424"/><stop offset="0.476" stop-color="#1f1f1f"/><stop offset="0.508" stop-color="#1a1a1a"/><stop offset="0.535" stop-color="#202020"/><stop offset="0.596" stop-color="#212121"/><stop offset="0.727" stop-color="#323232"/><stop offset="0.859" stop-color="#505050"/><stop offset="0.925" stop-color="#575757"/><stop offset="0.946" stop-color="#646464"/></linearGradient>
<linearGradient id="g204" gradientUnits="userSpaceOnUse" x1="484.9" y1="1483.5" x2="666.3" y2="1266.6"><stop offset="0.054" stop-color="#707070"/><stop offset="0.081" stop-color="#373737"/><stop offset="0.144" stop-color="#0f0f0f"/><stop offset="0.235" stop-color="#111111"/><stop offset="0.353" stop-color="#1e1e1e"/><stop offset="0.434" stop-color="#242424"/><stop offset="0.475" stop-color="#1f1f1f"/><stop offset="0.507" stop-color="#191919"/><stop offset="0.533" stop-color="#202020"/><stop offset="0.595" stop-color="#1e1e1e"/><stop offset="0.727" stop-color="#2e2e2e"/><stop offset="0.859" stop-color="#4f4f4f"/><stop offset="0.924" stop-color="#575757"/><stop offset="0.946" stop-color="#636363"/></linearGradient>
<linearGradient id="g205" gradientUnits="userSpaceOnUse" x1="494.0" y1="1489.8" x2="674.1" y2="1272.4"><stop offset="0.054" stop-color="#707070"/><stop offset="0.081" stop-color="#373737"/><stop offset="0.144" stop-color="#0f0f0f"/><stop offset="0.234" stop-color="#111111"/><stop offset="0.352" stop-color="#1f1f1f"/><stop offset="0.433" stop-color="#242424"/><stop offset="0.474" stop-color="#1e1e1e"/><stop offset="0.506" stop-color="#181818"/><stop offset="0.532" stop-color="#1e1e1e"/><stop offset="0.594" stop-color="#1b1b1b"/><stop offset="0.726" stop-color="#2c2c2c"/><stop offset="0.858" stop-color="#4e4e4e"/><stop offset="0.924" stop-color="#575757"/><stop offset="0.946" stop-color="#626262"/></linearGradient>
<linearGradient id="g206" gradientUnits="userSpaceOnUse" x1="503.0" y1="1496.0" x2="681.9" y2="1278.2"><stop offset="0.054" stop-color="#6f6f6f"/><stop offset="0.081" stop-color="#373737"/><stop offset="0.144" stop-color="#0e0e0e"/><stop offset="0.234" stop-color="#121212"/><stop offset="0.351" stop-color="#1f1f1f"/><stop offset="0.432" stop-color="#242424"/><stop offset="0.473" stop-color="#1e1e1e"/><stop offset="0.504" stop-color="#181818"/><stop offset="0.531" stop-color="#1e1e1e"/><stop offset="0.593" stop-color="#181818"/><stop offset="0.725" stop-color="#282828"/><stop offset="0.858" stop-color="#4e4e4e"/><stop offset="0.924" stop-color="#565656"/><stop offset="0.946" stop-color="#626262"/></linearGradient>
<linearGradient id="g207" gradientUnits="userSpaceOnUse" x1="512.1" y1="1502.2" x2="689.7" y2="1284.0"><stop offset="0.054" stop-color="#6f6f6f"/><stop offset="0.081" stop-color="#373737"/><stop offset="0.143" stop-color="#0d0d0d"/><stop offset="0.233" stop-color="#131313"/><stop offset="0.350" stop-color="#1f1f1f"/><stop offset="0.431" stop-color="#242424"/><stop offset="0.472" stop-color="#1d1d1d"/><stop offset="0.503" stop-color="#171717"/><stop offset="0.530" stop-color="#1c1c1c"/><stop offset="0.592" stop-color="#151515"/><stop offset="0.725" stop-color="#262626"/><stop offset="0.858" stop-color="#4d4d4d"/><stop offset="0.924" stop-color="#565656"/><stop offset="0.946" stop-color="#616161"/></linearGradient>
<linearGradient id="g208" gradientUnits="userSpaceOnUse" x1="521.3" y1="1508.3" x2="697.5" y2="1289.7"><stop offset="0.054" stop-color="#6f6f6f"/><stop offset="0.080" stop-color="#373737"/><stop offset="0.143" stop-color="#0d0d0d"/><stop offset="0.233" stop-color="#131313"/><stop offset="0.349" stop-color="#202020"/><stop offset="0.430" stop-color="#232323"/><stop offset="0.471" stop-color="#1d1d1d"/><stop offset="0.502" stop-color="#161616"/><stop offset="0.529" stop-color="#1c1c1c"/><stop offset="0.591" stop-color="#121212"/><stop offset="0.724" stop-color="#222222"/><stop offset="0.858" stop-color="#4c4c4c"/><stop offset="0.924" stop-color="#565656"/><stop offset="0.946" stop-color="#606060"/></linearGradient>
<linearGradient id="g209" gradientUnits="userSpaceOnUse" x1="530.4" y1="1514.4" x2="705.3" y2="1295.4"><stop offset="0.054" stop-color="#6e6e6e"/><stop offset="0.080" stop-color="#373737"/><stop offset="0.143" stop-color="#0c0c0c"/><stop offset="0.232" stop-color="#141414"/><stop offset="0.349" stop-color="#202020"/><stop offset="0.429" stop-color="#232323"/><stop offset="0.469" stop-color="#1c1c1c"/><stop offset="0.501" stop-color="#161616"/><stop offset="0.527" stop-color="#1a1a1a"/><stop offset="0.590" stop-color="#0f0f0f"/><stop offset="0.724" stop-color="#202020"/><stop offset="0.857" stop-color="#4b4b4b"/><stop offset="0.924" stop-color="#555555"/><stop offset="0.946" stop-color="#5f5f5f"/></linearGradient>
<linearGradient id="g210" gradientUnits="userSpaceOnUse" x1="540.1" y1="1520.9" x2="713.7" y2="1301.4"><stop offset="0.054" stop-color="#6e6e6e"/><stop offset="0.080" stop-color="#373737"/><stop offset="0.143" stop-color="#0c0c0c"/><stop offset="0.232" stop-color="#141414"/><stop offset="0.348" stop-color="#202020"/><stop offset="0.429" stop-color="#232323"/><stop offset="0.469" stop-color="#1c1c1c"/><stop offset="0.500" stop-color="#151515"/><stop offset="0.527" stop-color="#1a1a1a"/><stop offset="0.589" stop-color="#0e0e0e"/><stop offset="0.723" stop-color="#1d1d1d"/><stop offset="0.857" stop-color="#4a4a4a"/><stop offset="0.924" stop-color="#555555"/><stop offset="0.946" stop-color="#5f5f5f"/></linearGradient>
<linearGradient id="g211" gradientUnits="userSpaceOnUse" x1="550.3" y1="1527.7" x2="722.7" y2="1307.9"><stop offset="0.054" stop-color="#6d6d6d"/><stop offset="0.080" stop-color="#363636"/><stop offset="0.143" stop-color="#0c0c0c"/><stop offset="0.232" stop-color="#131313"/><stop offset="0.348" stop-color="#1f1f1f"/><stop offset="0.429" stop-color="#222222"/><stop offset="0.469" stop-color="#1b1b1b"/><stop offset="0.500" stop-color="#151515"/><stop offset="0.527" stop-color="#191919"/><stop offset="0.589" stop-color="#0d0d0d"/><stop offset="0.723" stop-color="#1c1c1c"/><stop offset="0.857" stop-color="#494949"/><stop offset="0.924" stop-color="#545454"/><stop offset="0.946" stop-color="#5e5e5e"/></linearGradient>
<linearGradient id="g212" gradientUnits="userSpaceOnUse" x1="560.6" y1="1534.4" x2="731.7" y2="1314.3"><stop offset="0.054" stop-color="#6c6c6c"/><stop offset="0.080" stop-color="#353535"/><stop offset="0.143" stop-color="#0c0c0c"/><stop offset="0.232" stop-color="#131313"/><stop offset="0.348" stop-color="#1e1e1e"/><stop offset="0.429" stop-color="#212121"/><stop offset="0.469" stop-color="#1a1a1a"/><stop offset="0.500" stop-color="#141414"/><stop offset="0.527" stop-color="#181818"/><stop offset="0.589" stop-color="#0d0d0d"/><stop offset="0.723" stop-color="#1b1b1b"/><stop offset="0.857" stop-color="#484848"/><stop offset="0.924" stop-color="#535353"/><stop offset="0.946" stop-color="#5e5e5e"/></linearGradient>
<linearGradient id="g213" gradientUnits="userSpaceOnUse" x1="570.9" y1="1541.2" x2="740.8" y2="1320.7"><stop offset="0.054" stop-color="#6c6c6c"/><stop offset="0.080" stop-color="#343434"/><stop offset="0.143" stop-color="#0c0c0c"/><stop offset="0.232" stop-color="#121212"/><stop offset="0.348" stop-color="#1e1e1e"/><stop offset="0.429" stop-color="#202020"/><stop offset="0.469" stop-color="#1a1a1a"/><stop offset="0.500" stop-color="#131313"/><stop offset="0.527" stop-color="#171717"/><stop offset="0.589" stop-color="#0c0c0c"/><stop offset="0.723" stop-color="#1a1a1a"/><stop offset="0.857" stop-color="#474747"/><stop offset="0.924" stop-color="#525252"/><stop offset="0.946" stop-color="#5d5d5d"/></linearGradient>
<linearGradient id="g214" gradientUnits="userSpaceOnUse" x1="581.1" y1="1547.9" x2="749.9" y2="1327.0"><stop offset="0.054" stop-color="#6b6b6b"/><stop offset="0.080" stop-color="#343434"/><stop offset="0.143" stop-color="#0b0b0b"/><stop offset="0.232" stop-color="#121212"/><stop offset="0.348" stop-color="#1d1d1d"/><stop offset="0.429" stop-color="#1f1f1f"/><stop offset="0.469" stop-color="#191919"/><stop offset="0.500" stop-color="#131313"/><stop offset="0.527" stop-color="#161616"/><stop offset="0.589" stop-color="#0b0b0b"/><stop offset="0.723" stop-color="#181818"/><stop offset="0.857" stop-color="#464646"/><stop offset="0.924" stop-color="#525252"/><stop offset="0.946" stop-color="#5d5d5d"/></linearGradient>
<linearGradient id="g215" gradientUnits="userSpaceOnUse" x1="591.4" y1="1554.6" x2="759.0" y2="1333.4"><stop offset="0.054" stop-color="#6a6a6a"/><stop offset="0.080" stop-color="#333333"/><stop offset="0.143" stop-color="#0b0b0b"/><stop offset="0.232" stop-color="#121212"/><stop offset="0.348" stop-color="#1c1c1c"/><stop offset="0.429" stop-color="#1f1f1f"/><stop offset="0.469" stop-color="#181818"/><stop offset="0.500" stop-color="#121212"/><stop offset="0.527" stop-color="#151515"/><stop offset="0.589" stop-color="#0b0b0b"/><stop offset="0.723" stop-color="#171717"/><stop offset="0.857" stop-color="#454545"/><stop offset="0.924" stop-color="#515151"/><stop offset="0.946" stop-color="#5c5c5c"/></linearGradient>
<linearGradient id="g216" gradientUnits="userSpaceOnUse" x1="601.7" y1="1561.2" x2="768.1" y2="1339.6"><stop offset="0.054" stop-color="#696969"/><stop offset="0.080" stop-color="#323232"/><stop offset="0.143" stop-color="#0b0b0b"/><stop offset="0.232" stop-color="#111111"/><stop offset="0.348" stop-color="#1b1b1b"/><stop offset="0.429" stop-color="#1e1e1e"/><stop offset="0.469" stop-color="#171717"/><stop offset="0.500" stop-color="#121212"/><stop offset="0.527" stop-color="#141414"/><stop offset="0.589" stop-color="#0a0a0a"/><stop offset="0.723" stop-color="#161616"/><stop offset="0.857" stop-color="#444444"/><stop offset="0.924" stop-color="#505050"/><stop offset="0.946" stop-color="#5c5c5c"/></linearGradient>
<linearGradient id="g217" gradientUnits="userSpaceOnUse" x1="612.0" y1="1567.9" x2="777.3" y2="1345.9"><stop offset="0.054" stop-color="#696969"/><stop offset="0.080" stop-color="#323232"/><stop offset="0.143" stop-color="#0b0b0b"/><stop offset="0.232" stop-color="#111111"/><stop offset="0.348" stop-color="#1b1b1b"/><stop offset="0.429" stop-color="#1d1d1d"/><stop offset="0.469" stop-color="#171717"/><stop offset="0.500" stop-color="#111111"/><stop offset="0.527" stop-color="#141414"/><stop offset="0.589" stop-color="#0a0a0a"/><stop offset="0.723" stop-color="#141414"/><stop offset="0.857" stop-color="#434343"/><stop offset="0.924" stop-color="#505050"/><stop offset="0.946" stop-color="#5b5b5b"/></linearGradient>
<linearGradient id="g218" gradientUnits="userSpaceOnUse" x1="622.4" y1="1574.6" x2="786.4" y2="1352.1"><stop offset="0.054" stop-color="#686868"/><stop offset="0.080" stop-color="#313131"/><stop offset="0.143" stop-color="#0b0b0b"/><stop offset="0.232" stop-color="#101010"/><stop offset="0.348" stop-color="#1a1a1a"/><stop offset="0.429" stop-color="#1c1c1c"/><stop offset="0.469" stop-color="#161616"/><stop offset="0.500" stop-color="#101010"/><stop offset="0.527" stop-color="#131313"/><stop offset="0.589" stop-color="#090909"/><stop offset="0.723" stop-color="#131313"/><stop offset="0.857" stop-color="#424242"/><stop offset="0.924" stop-color="#4f4f4f"/><stop offset="0.946" stop-color="#5b5b5b"/></linearGradient>
<linearGradient id="g219" gradientUnits="userSpaceOnUse" x1="632.7" y1="1581.2" x2="795.6" y2="1358.3"><stop offset="0.054" stop-color="#676767"/><stop offset="0.080" stop-color="#303030"/><stop offset="0.143" stop-color="#0b0b0b"/><stop offset="0.232" stop-color="#101010"/><stop offset="0.348" stop-color="#191919"/><stop offset="0.429" stop-color="#1c1c1c"/><stop offset="0.469" stop-color="#151515"/><stop offset="0.500" stop-color="#101010"/><stop offset="0.527" stop-color="#121212"/><stop offset="0.589" stop-color="#090909"/><stop offset="0.723" stop-color="#121212"/><stop offset="0.857" stop-color="#414141"/><stop offset="0.924" stop-color="#4e4e4e"/><stop offset="0.946" stop-color="#5a5a5a"/></linearGradient>
<linearGradient id="g220" gradientUnits="userSpaceOnUse" x1="643.0" y1="1587.8" x2="804.8" y2="1364.4"><stop offset="0.054" stop-color="#666666"/><stop offset="0.080" stop-color="#303030"/><stop offset="0.143" stop-color="#0a0a0a"/><stop offset="0.232" stop-color="#101010"/><stop offset="0.348" stop-color="#181818"/><stop offset="0.429" stop-color="#1b1b1b"/><stop offset="0.469" stop-color="#141414"/><stop offset="0.500" stop-color="#0f0f0f"/><stop offset="0.527" stop-color="#111111"/><stop offset="0.589" stop-color="#080808"/><stop offset="0.723" stop-color="#101010"/><stop offset="0.857" stop-color="#404040"/><stop offset="0.924" stop-color="#4e4e4e"/><stop offset="0.946" stop-color="#5a5a5a"/></linearGradient>
<linearGradient id="g221" gradientUnits="userSpaceOnUse" x1="653.4" y1="1594.5" x2="814.1" y2="1370.6"><stop offset="0.054" stop-color="#666666"/><stop offset="0.080" stop-color="#2f2f2f"/><stop offset="0.143" stop-color="#0a0a0a"/><stop offset="0.232" stop-color="#0f0f0f"/><stop offset="0.348" stop-color="#181818"/><stop offset="0.429" stop-color="#1a1a1a"/><stop offset="0.469" stop-color="#141414"/><stop offset="0.500" stop-color="#0e0e0e"/><stop offset="0.527" stop-color="#101010"/><stop offset="0.589" stop-color="#070707"/><stop offset="0.723" stop-color="#0f0f0f"/><stop offset="0.857" stop-color="#3f3f3f"/><stop offset="0.924" stop-color="#4d4d4d"/><stop offset="0.946" stop-color="#595959"/></linearGradient>
<linearGradient id="g222" gradientUnits="userSpaceOnUse" x1="663.7" y1="1601.0" x2="823.3" y2="1376.6"><stop offset="0.054" stop-color="#656565"/><stop offset="0.080" stop-color="#2e2e2e"/><stop offset="0.143" stop-color="#0a0a0a"/><stop offset="0.232" stop-color="#0f0f0f"/><stop offset="0.348" stop-color="#171717"/><stop offset="0.429" stop-color="#191919"/><stop offset="0.469" stop-color="#131313"/><stop offset="0.500" stop-color="#0e0e0e"/><stop offset="0.527" stop-color="#0f0f0f"/><stop offset="0.589" stop-color="#070707"/><stop offset="0.723" stop-color="#0e0e0e"/><stop offset="0.857" stop-color="#3e3e3e"/><stop offset="0.924" stop-color="#4c4c4c"/><stop offset="0.946" stop-color="#595959"/></linearGradient>
<linearGradient id="g223" gradientUnits="userSpaceOnUse" x1="674.1" y1="1607.6" x2="832.6" y2="1382.7"><stop offset="0.054" stop-color="#646464"/><stop offset="0.080" stop-color="#2d2d2d"/><stop offset="0.143" stop-color="#0a0a0a"/><stop offset="0.232" stop-color="#0e0e0e"/><stop offset="0.348" stop-color="#161616"/><stop offset="0.429" stop-color="#181818"/><stop offset="0.469" stop-color="#121212"/><stop offset="0.500" stop-color="#0d0d0d"/><stop offset="0.527" stop-color="#0e0e0e"/><stop offset="0.589" stop-color="#060606"/><stop offset="0.723" stop-color="#0d0d0d"/><stop offset="0.857" stop-color="#3d3d3d"/><stop offset="0.924" stop-color="#4b4b4b"/><stop offset="0.946" stop-color="#585858"/></linearGradient>
<linearGradient id="g224" gradientUnits="userSpaceOnUse" x1="686.1" y1="1615.2" x2="843.1" y2="1389.5"><stop offset="0.054" stop-color="#646464"/><stop offset="0.080" stop-color="#2d2d2d"/><stop offset="0.143" stop-color="#0c0c0c"/><stop offset="0.232" stop-color="#0e0e0e"/><stop offset="0.348" stop-color="#151515"/><stop offset="0.429" stop-color="#171717"/><stop offset="0.469" stop-color="#111111"/><stop offset="0.500" stop-color="#0c0c0c"/><stop offset="0.527" stop-color="#0e0e0e"/><stop offset="0.589" stop-color="#060606"/><stop offset="0.723" stop-color="#0c0c0c"/><stop offset="0.857" stop-color="#3c3c3c"/><stop offset="0.924" stop-color="#4b4b4b"/><stop offset="0.946" stop-color="#585858"/></linearGradient>
<linearGradient id="g225" gradientUnits="userSpaceOnUse" x1="699.8" y1="1623.9" x2="854.8" y2="1397.0"><stop offset="0.054" stop-color="#646464"/><stop offset="0.080" stop-color="#2c2c2c"/><stop offset="0.143" stop-color="#0f0f0f"/><stop offset="0.232" stop-color="#0f0f0f"/><stop offset="0.348" stop-color="#141414"/><stop offset="0.429" stop-color="#161616"/><stop offset="0.469" stop-color="#101010"/><stop offset="0.500" stop-color="#0c0c0c"/><stop offset="0.527" stop-color="#0d0d0d"/><stop offset="0.589" stop-color="#060606"/><stop offset="0.723" stop-color="#0c0c0c"/><stop offset="0.857" stop-color="#3c3c3c"/><stop offset="0.924" stop-color="#4b4b4b"/><stop offset="0.946" stop-color="#585858"/></linearGradient>
<linearGradient id="g226" gradientUnits="userSpaceOnUse" x1="713.6" y1="1632.5" x2="866.5" y2="1404.5"><stop offset="0.054" stop-color="#646464"/><stop offset="0.080" stop-color="#2c2c2c"/><stop offset="0.143" stop-color="#131313"/><stop offset="0.232" stop-color="#0f0f0f"/><stop offset="0.348" stop-color="#131313"/><stop offset="0.429" stop-color="#141414"/><stop offset="0.469" stop-color="#0f0f0f"/><stop offset="0.500" stop-color="#0b0b0b"/><stop offset="0.527" stop-color="#0c0c0c"/><stop offset="0.589" stop-color="#050505"/><stop offset="0.723" stop-color="#0b0b0b"/><stop offset="0.857" stop-color="#3c3c3c"/><stop offset="0.924" stop-color="#4a4a4a"/><stop offset="0.946" stop-color="#575757"/></linearGradient>
<linearGradient id="g227" gradientUnits="userSpaceOnUse" x1="727.3" y1="1641.0" x2="878.3" y2="1411.9"><stop offset="0.054" stop-color="#646464"/><stop offset="0.080" stop-color="#2c2c2c"/><stop offset="0.143" stop-color="#161616"/><stop offset="0.232" stop-color="#101010"/><stop offset="0.348" stop-color="#121212"/><stop offset="0.429" stop-color="#131313"/><stop offset="0.469" stop-color="#0e0e0e"/><stop offset="0.500" stop-color="#0a0a0a"/><stop offset="0.527" stop-color="#0b0b0b"/><stop offset="0.589" stop-color="#050505"/><stop offset="0.723" stop-color="#0b0b0b"/><stop offset="0.857" stop-color="#3c3c3c"/><stop offset="0.924" stop-color="#4a4a4a"/><stop offset="0.946" stop-color="#575757"/></linearGradient>
<linearGradient id="g228" gradientUnits="userSpaceOnUse" x1="741.1" y1="1649.6" x2="890.1" y2="1419.3"><stop offset="0.054" stop-color="#646464"/><stop offset="0.080" stop-color="#2b2b2b"/><stop offset="0.143" stop-color="#1a1a1a"/><stop offset="0.232" stop-color="#101010"/><stop offset="0.348" stop-color="#111111"/><stop offset="0.429" stop-color="#121212"/><stop offset="0.469" stop-color="#0d0d0d"/><stop offset="0.500" stop-color="#090909"/><stop offset="0.527" stop-color="#0a0a0a"/><stop offset="0.589" stop-color="#050505"/><stop offset="0.723" stop-color="#0b0b0b"/><stop offset="0.857" stop-color="#3b3b3b"/><stop offset="0.924" stop-color="#4a4a4a"/><stop offset="0.946" stop-color="#575757"/></linearGradient>
<linearGradient id="g229" gradientUnits="userSpaceOnUse" x1="754.8" y1="1658.1" x2="901.9" y2="1426.6"><stop offset="0.054" stop-color="#646464"/><stop offset="0.080" stop-color="#2b2b2b"/><stop offset="0.143" stop-color="#1e1e1e"/><stop offset="0.232" stop-color="#101010"/><stop offset="0.348" stop-color="#101010"/><stop offset="0.429" stop-color="#101010"/><stop offset="0.469" stop-color="#0c0c0c"/><stop offset="0.500" stop-color="#090909"/><stop offset="0.527" stop-color="#0a0a0a"/><stop offset="0.589" stop-color="#050505"/><stop offset="0.723" stop-color="#0a0a0a"/><stop offset="0.857" stop-color="#3b3b3b"/><stop offset="0.924" stop-color="#4a4a4a"/><stop offset="0.946" stop-color="#575757"/></linearGradient>
<linearGradient id="g230" gradientUnits="userSpaceOnUse" x1="768.6" y1="1666.5" x2="913.8" y2="1433.9"><stop offset="0.054" stop-color="#646464"/><stop offset="0.080" stop-color="#2b2b2b"/><stop offset="0.143" stop-color="#212121"/><stop offset="0.232" stop-color="#111111"/><stop offset="0.348" stop-color="#0f0f0f"/><stop offset="0.429" stop-color="#0f0f0f"/><stop offset="0.469" stop-color="#0b0b0b"/><stop offset="0.500" stop-color="#080808"/><stop offset="0.527" stop-color="#090909"/><stop offset="0.589" stop-color="#050505"/><stop offset="0.723" stop-color="#0a0a0a"/><stop offset="0.857" stop-color="#3b3b3b"/><stop offset="0.924" stop-color="#4a4a4a"/><stop offset="0.946" stop-color="#575757"/></linearGradient>
<linearGradient id="g231" gradientUnits="userSpaceOnUse" x1="782.5" y1="1675.0" x2="925.7" y2="1441.1"><stop offset="0.054" stop-color="#646464"/><stop offset="0.080" stop-color="#2a2a2a"/><stop offset="0.143" stop-color="#252525"/><stop offset="0.232" stop-color="#111111"/><stop offset="0.348" stop-color="#0d0d0d"/><stop offset="0.429" stop-color="#0d0d0d"/><stop offset="0.469" stop-color="#0a0a0a"/><stop offset="0.500" stop-color="#070707"/><stop offset="0.527" stop-color="#080808"/><stop offset="0.589" stop-color="#040404"/><stop offset="0.723" stop-color="#0a0a0a"/><stop offset="0.857" stop-color="#3b3b3b"/><stop offset="0.924" stop-color="#494949"/><stop offset="0.946" stop-color="#565656"/></linearGradient>
<linearGradient id="g232" gradientUnits="userSpaceOnUse" x1="796.3" y1="1683.3" x2="937.6" y2="1448.3"><stop offset="0.054" stop-color="#646464"/><stop offset="0.080" stop-color="#2a2a2a"/><stop offset="0.143" stop-color="#282828"/><stop offset="0.232" stop-color="#121212"/><stop offset="0.348" stop-color="#0c0c0c"/><stop offset="0.429" stop-color="#0c0c0c"/><stop offset="0.469" stop-color="#090909"/><stop offset="0.500" stop-color="#060606"/><stop offset="0.527" stop-color="#070707"/><stop offset="0.589" stop-color="#040404"/><stop offset="0.723" stop-color="#0a0a0a"/><stop offset="0.857" stop-color="#3b3b3b"/><stop offset="0.924" stop-color="#494949"/><stop offset="0.946" stop-color="#565656"/></linearGradient>
<linearGradient id="g233" gradientUnits="userSpaceOnUse" x1="810.2" y1="1691.7" x2="949.5" y2="1455.4"><stop offset="0.054" stop-color="#646464"/><stop offset="0.080" stop-color="#2a2a2a"/><stop offset="0.143" stop-color="#2c2c2c"/><stop offset="0.232" stop-color="#121212"/><stop offset="0.348" stop-color="#0b0b0b"/><stop offset="0.429" stop-color="#0a0a0a"/><stop offset="0.469" stop-color="#080808"/><stop offset="0.500" stop-color="#060606"/><stop offset="0.527" stop-color="#070707"/><stop offset="0.589" stop-color="#040404"/><stop offset="0.723" stop-color="#090909"/><stop offset="0.857" stop-color="#3b3b3b"/><stop offset="0.924" stop-color="#494949"/><stop offset="0.946" stop-color="#565656"/></linearGradient>
<linearGradient id="g234" gradientUnits="userSpaceOnUse" x1="824.1" y1="1700.0" x2="961.5" y2="1462.5"><stop offset="0.054" stop-color="#646464"/><stop offset="0.080" stop-color="#292929"/><stop offset="0.143" stop-color="#303030"/><stop offset="0.232" stop-color="#121212"/><stop offset="0.348" stop-color="#0a0a0a"/><stop offset="0.429" stop-color="#090909"/><stop offset="0.469" stop-color="#070707"/><stop offset="0.500" stop-color="#050505"/><stop offset="0.527" stop-color="#060606"/><stop offset="0.589" stop-color="#040404"/><stop offset="0.723" stop-color="#090909"/><stop offset="0.857" stop-color="#3a3a3a"/><stop offset="0.924" stop-color="#494949"/><stop offset="0.946" stop-color="#565656"/></linearGradient>
<linearGradient id="g235" gradientUnits="userSpaceOnUse" x1="838.0" y1="1708.3" x2="973.5" y2="1469.6"><stop offset="0.054" stop-color="#646464"/><stop offset="0.080" stop-color="#292929"/><stop offset="0.143" stop-color="#333333"/><stop offset="0.232" stop-color="#131313"/><stop offset="0.348" stop-color="#090909"/><stop offset="0.429" stop-color="#080808"/><stop offset="0.469" stop-color="#060606"/><stop offset="0.500" stop-color="#040404"/><stop offset="0.527" stop-color="#050505"/><stop offset="0.589" stop-color="#040404"/><stop offset="0.723" stop-color="#090909"/><stop offset="0.857" stop-color="#3a3a3a"/><stop offset="0.924" stop-color="#494949"/><stop offset="0.946" stop-color="#565656"/></linearGradient>
<linearGradient id="g236" gradientUnits="userSpaceOnUse" x1="852.0" y1="1716.5" x2="985.5" y2="1476.6"><stop offset="0.054" stop-color="#646464"/><stop offset="0.080" stop-color="#292929"/><stop offset="0.143" stop-color="#373737"/><stop offset="0.232" stop-color="#131313"/><stop offset="0.348" stop-color="#080808"/><stop offset="0.429" stop-color="#060606"/><stop offset="0.469" stop-color="#050505"/><stop offset="0.500" stop-color="#040404"/><stop offset="0.527" stop-color="#040404"/><stop offset="0.589" stop-color="#030303"/><stop offset="0.723" stop-color="#080808"/><stop offset="0.857" stop-color="#3a3a3a"/><stop offset="0.924" stop-color="#484848"/><stop offset="0.946" stop-color="#555555"/></linearGradient>
<linearGradient id="g237" gradientUnits="userSpaceOnUse" x1="865.9" y1="1724.7" x2="997.6" y2="1483.5"><stop offset="0.054" stop-color="#646464"/><stop offset="0.080" stop-color="#282828"/><stop offset="0.143" stop-color="#3a3a3a"/><stop offset="0.232" stop-color="#141414"/><stop offset="0.348" stop-color="#070707"/><stop offset="0.429" stop-color="#050505"/><stop offset="0.469" stop-color="#040404"/><stop offset="0.500" stop-color="#030303"/><stop offset="0.527" stop-color="#030303"/><stop offset="0.589" stop-color="#030303"/><stop offset="0.723" stop-color="#080808"/><stop offset="0.857" stop-color="#3a3a3a"/><stop offset="0.924" stop-color="#484848"/><stop offset="0.946" stop-color="#555555"/></linearGradient>
<linearGradient id="g238" gradientUnits="userSpaceOnUse" x1="880.7" y1="1733.3" x2="1011.8" y2="1491.7"><stop offset="0.054" stop-color="#636363"/><stop offset="0.080" stop-color="#282828"/><stop offset="0.143" stop-color="#3c3c3c"/><stop offset="0.233" stop-color="#151515"/><stop offset="0.349" stop-color="#080808"/><stop offset="0.429" stop-color="#050505"/><stop offset="0.470" stop-color="#040404"/><stop offset="0.501" stop-color="#030303"/><stop offset="0.528" stop-color="#040404"/><stop offset="0.590" stop-color="#040404"/><stop offset="0.724" stop-color="#090909"/><stop offset="0.857" stop-color="#383838"/><stop offset="0.924" stop-color="#474747"/><stop offset="0.946" stop-color="#545454"/></linearGradient>
<linearGradient id="g239" gradientUnits="userSpaceOnUse" x1="896.2" y1="1742.3" x2="1028.2" y2="1501.1"><stop offset="0.054" stop-color="#626262"/><stop offset="0.081" stop-color="#272727"/><stop offset="0.143" stop-color="#3b3b3b"/><stop offset="0.233" stop-color="#171717"/><stop offset="0.350" stop-color="#0c0c0c"/><stop offset="0.431" stop-color="#080808"/><stop offset="0.471" stop-color="#050505"/><stop offset="0.503" stop-color="#040404"/><stop offset="0.529" stop-color="#050505"/><stop offset="0.592" stop-color="#050505"/><stop offset="0.725" stop-color="#0a0a0a"/><stop offset="0.858" stop-color="#353535"/><stop offset="0.924" stop-color="#454545"/><stop offset="0.946" stop-color="#535353"/></linearGradient>
<linearGradient id="g240" gradientUnits="userSpaceOnUse" x1="911.8" y1="1751.2" x2="1044.7" y2="1510.3"><stop offset="0.054" stop-color="#616161"/><stop offset="0.081" stop-color="#272727"/><stop offset="0.144" stop-color="#3b3b3b"/><stop offset="0.234" stop-color="#191919"/><stop offset="0.351" stop-color="#0f0f0f"/><stop offset="0.433" stop-color="#0b0b0b"/><stop offset="0.473" stop-color="#070707"/><stop offset="0.505" stop-color="#050505"/><stop offset="0.531" stop-color="#060606"/><stop offset="0.593" stop-color="#070707"/><stop offset="0.726" stop-color="#0b0b0b"/><stop offset="0.858" stop-color="#323232"/><stop offset="0.924" stop-color="#424242"/><stop offset="0.946" stop-color="#525252"/></linearGradient>
<linearGradient id="g241" gradientUnits="userSpaceOnUse" x1="927.4" y1="1760.1" x2="1061.2" y2="1519.5"><stop offset="0.054" stop-color="#606060"/><stop offset="0.081" stop-color="#272727"/><stop offset="0.144" stop-color="#3b3b3b"/><stop offset="0.235" stop-color="#1c1c1c"/><stop offset="0.353" stop-color="#131313"/><stop offset="0.434" stop-color="#0e0e0e"/><stop offset="0.475" stop-color="#080808"/><stop offset="0.507" stop-color="#060606"/><stop offset="0.533" stop-color="#070707"/><stop offset="0.595" stop-color="#090909"/><stop offset="0.727" stop-color="#0c0c0c"/><stop offset="0.858" stop-color="#2f2f2f"/><stop offset="0.924" stop-color="#404040"/><stop offset="0.946" stop-color="#515151"/></linearGradient>
<linearGradient id="g242" gradientUnits="userSpaceOnUse" x1="943.0" y1="1768.9" x2="1077.8" y2="1528.6"><stop offset="0.054" stop-color="#5f5f5f"/><stop offset="0.081" stop-color="#262626"/><stop offset="0.145" stop-color="#3a3a3a"/><stop offset="0.236" stop-color="#1e1e1e"/><stop offset="0.354" stop-color="#171717"/><stop offset="0.436" stop-color="#111111"/><stop offset="0.477" stop-color="#0a0a0a"/><stop offset="0.509" stop-color="#070707"/><stop offset="0.535" stop-color="#080808"/><stop offset="0.596" stop-color="#0a0a0a"/><stop offset="0.728" stop-color="#0d0d0d"/><stop offset="0.859" stop-color="#2c2c2c"/><stop offset="0.925" stop-color="#3e3e3e"/><stop offset="0.946" stop-color="#505050"/></linearGradient>
<linearGradient id="g243" gradientUnits="userSpaceOnUse" x1="958.7" y1="1777.6" x2="1094.4" y2="1537.7"><stop offset="0.054" stop-color="#5e5e5e"/><stop offset="0.081" stop-color="#262626"/><stop offset="0.145" stop-color="#3a3a3a"/><stop offset="0.236" stop-color="#202020"/><stop offset="0.355" stop-color="#1a1a1a"/><stop offset="0.437" stop-color="#141414"/><stop offset="0.479" stop-color="#0c0c0c"/><stop offset="0.511" stop-color="#090909"/><stop offset="0.537" stop-color="#0a0a0a"/><stop offset="0.598" stop-color="#0c0c0c"/><stop offset="0.728" stop-color="#0e0e0e"/><stop offset="0.859" stop-color="#292929"/><stop offset="0.925" stop-color="#3b3b3b"/><stop offset="0.946" stop-color="#4f4f4f"/></linearGradient>
<linearGradient id="g244" gradientUnits="userSpaceOnUse" x1="974.4" y1="1786.3" x2="1111.0" y2="1546.7"><stop offset="0.054" stop-color="#5d5d5d"/><stop offset="0.081" stop-color="#262626"/><stop offset="0.145" stop-color="#3a3a3a"/><stop offset="0.237" stop-color="#222222"/><stop offset="0.356" stop-color="#1e1e1e"/><stop offset="0.439" stop-color="#171717"/><stop offset="0.480" stop-color="#0d0d0d"/><stop offset="0.512" stop-color="#0a0a0a"/><stop offset="0.538" stop-color="#0b0b0b"/><stop offset="0.599" stop-color="#0e0e0e"/><stop offset="0.729" stop-color="#0f0f0f"/><stop offset="0.860" stop-color="#262626"/><stop offset="0.925" stop-color="#393939"/><stop offset="0.946" stop-color="#4e4e4e"/></linearGradient>
<linearGradient id="g245" gradientUnits="userSpaceOnUse" x1="990.1" y1="1795.0" x2="1127.7" y2="1555.6"><stop offset="0.054" stop-color="#5c5c5c"/><stop offset="0.081" stop-color="#252525"/><stop offset="0.146" stop-color="#393939"/><stop offset="0.238" stop-color="#242424"/><stop offset="0.358" stop-color="#222222"/><stop offset="0.441" stop-color="#1a1a1a"/><stop offset="0.482" stop-color="#0f0f0f"/><stop offset="0.514" stop-color="#0b0b0b"/><stop offset="0.540" stop-color="#0c0c0c"/><stop offset="0.601" stop-color="#0f0f0f"/><stop offset="0.730" stop-color="#111111"/><stop offset="0.860" stop-color="#222222"/><stop offset="0.925" stop-color="#373737"/><stop offset="0.946" stop-color="#4d4d4d"/></linearGradient>
<linearGradient id="g246" gradientUnits="userSpaceOnUse" x1="1005.9" y1="1803.6" x2="1144.4" y2="1564.5"><stop offset="0.054" stop-color="#5b5b5b"/><stop offset="0.081" stop-color="#252525"/><stop offset="0.146" stop-color="#393939"/><stop offset="0.239" stop-color="#262626"/><stop offset="0.359" stop-color="#262626"/><stop offset="0.442" stop-color="#1d1d1d"/><stop offset="0.484" stop-color="#101010"/><stop offset="0.516" stop-color="#0c0c0c"/><stop offset="0.542" stop-color="#0d0d0d"/><stop offset="0.602" stop-color="#111111"/><stop offset="0.731" stop-color="#121212"/><stop offset="0.860" stop-color="#1f1f1f"/><stop offset="0.925" stop-color="#353535"/><stop offset="0.946" stop-color="#4c4c4c"/></linearGradient>
<linearGradient id="g247" gradientUnits="userSpaceOnUse" x1="1021.7" y1="1812.1" x2="1161.2" y2="1573.3"><stop offset="0.054" stop-color="#5a5a5a"/><stop offset="0.081" stop-color="#252525"/><stop offset="0.146" stop-color="#393939"/><stop offset="0.239" stop-color="#282828"/><stop offset="0.360" stop-color="#292929"/><stop offset="0.444" stop-color="#202020"/><stop offset="0.486" stop-color="#121212"/><stop offset="0.518" stop-color="#0d0d0d"/><stop offset="0.544" stop-color="#0f0f0f"/><stop offset="0.604" stop-color="#131313"/><stop offset="0.732" stop-color="#131313"/><stop offset="0.861" stop-color="#1c1c1c"/><stop offset="0.925" stop-color="#323232"/><stop offset="0.946" stop-color="#4b4b4b"/></linearGradient>
<linearGradient id="g248" gradientUnits="userSpaceOnUse" x1="1037.5" y1="1820.5" x2="1177.9" y2="1582.0"><stop offset="0.054" stop-color="#595959"/><stop offset="0.082" stop-color="#242424"/><stop offset="0.147" stop-color="#383838"/><stop offset="0.240" stop-color="#2a2a2a"/><stop offset="0.361" stop-color="#2d2d2d"/><stop offset="0.445" stop-color="#232323"/><stop offset="0.487" stop-color="#141414"/><stop offset="0.520" stop-color="#0e0e0e"/><stop offset="0.546" stop-color="#101010"/><stop offset="0.605" stop-color="#141414"/><stop offset="0.733" stop-color="#141414"/><stop offset="0.861" stop-color="#191919"/><stop offset="0.925" stop-color="#303030"/><stop offset="0.946" stop-color="#4a4a4a"/></linearGradient>
<linearGradient id="g249" gradientUnits="userSpaceOnUse" x1="1053.4" y1="1828.9" x2="1194.7" y2="1590.7"><stop offset="0.054" stop-color="#585858"/><stop offset="0.082" stop-color="#242424"/><stop offset="0.147" stop-color="#383838"/><stop offset="0.241" stop-color="#2d2d2d"/><stop offset="0.363" stop-color="#313131"/><stop offset="0.447" stop-color="#262626"/><stop offset="0.489" stop-color="#151515"/><stop offset="0.522" stop-color="#0f0f0f"/><stop offset="0.547" stop-color="#111111"/><stop offset="0.607" stop-color="#161616"/><stop offset="0.734" stop-color="#151515"/><stop offset="0.862" stop-color="#161616"/><stop offset="0.925" stop-color="#2e2e2e"/><stop offset="0.946" stop-color="#494949"/></linearGradient>
<linearGradient id="g250" gradientUnits="userSpaceOnUse" x1="1069.3" y1="1837.3" x2="1211.5" y2="1599.4"><stop offset="0.054" stop-color="#575757"/><stop offset="0.082" stop-color="#242424"/><stop offset="0.148" stop-color="#383838"/><stop offset="0.242" stop-color="#2f2f2f"/><stop offset="0.364" stop-color="#343434"/><stop offset="0.449" stop-color="#292929"/><stop offset="0.491" stop-color="#171717"/><stop offset="0.524" stop-color="#101010"/><stop offset="0.549" stop-color="#121212"/><stop offset="0.608" stop-color="#181818"/><stop offset="0.735" stop-color="#161616"/><stop offset="0.862" stop-color="#131313"/><stop offset="0.925" stop-color="#2b2b2b"/><stop offset="0.946" stop-color="#484848"/></linearGradient>
<linearGradient id="g251" gradientUnits="userSpaceOnUse" x1="1085.2" y1="1845.6" x2="1228.3" y2="1608.1"><stop offset="0.054" stop-color="#565656"/><stop offset="0.082" stop-color="#232323"/><stop offset="0.148" stop-color="#373737"/><stop offset="0.242" stop-color="#313131"/><stop offset="0.365" stop-color="#383838"/><stop offset="0.450" stop-color="#2c2c2c"/><stop offset="0.493" stop-color="#181818"/><stop offset="0.526" stop-color="#111111"/><stop offset="0.551" stop-color="#131313"/><stop offset="0.610" stop-color="#191919"/><stop offset="0.736" stop-color="#171717"/><stop offset="0.862" stop-color="#101010"/><stop offset="0.925" stop-color="#292929"/><stop offset="0.946" stop-color="#474747"/></linearGradient>
<linearGradient id="g252" gradientUnits="userSpaceOnUse" x1="1100.4" y1="1853.6" x2="1244.7" y2="1616.5"><stop offset="0.054" stop-color="#555555"/><stop offset="0.082" stop-color="#232323"/><stop offset="0.148" stop-color="#373737"/><stop offset="0.242" stop-color="#323232"/><stop offset="0.365" stop-color="#3a3a3a"/><stop offset="0.450" stop-color="#2d2d2d"/><stop offset="0.493" stop-color="#191919"/><stop offset="0.526" stop-color="#121212"/><stop offset="0.551" stop-color="#141414"/><stop offset="0.610" stop-color="#1a1a1a"/><stop offset="0.736" stop-color="#181818"/><stop offset="0.862" stop-color="#0e0e0e"/><stop offset="0.925" stop-color="#282828"/><stop offset="0.946" stop-color="#464646"/></linearGradient>
<linearGradient id="g253" gradientUnits="userSpaceOnUse" x1="1115.0" y1="1861.2" x2="1260.6" y2="1624.6"><stop offset="0.054" stop-color="#555555"/><stop offset="0.082" stop-color="#232323"/><stop offset="0.148" stop-color="#363636"/><stop offset="0.242" stop-color="#333333"/><stop offset="0.364" stop-color="#3a3a3a"/><stop offset="0.449" stop-color="#2d2d2d"/><stop offset="0.491" stop-color="#191919"/><stop offset="0.524" stop-color="#121212"/><stop offset="0.549" stop-color="#141414"/><stop offset="0.608" stop-color="#1a1a1a"/><stop offset="0.735" stop-color="#191919"/><stop offset="0.862" stop-color="#0f0f0f"/><stop offset="0.925" stop-color="#292929"/><stop offset="0.946" stop-color="#474747"/></linearGradient>
<linearGradient id="g254" gradientUnits="userSpaceOnUse" x1="1129.5" y1="1868.7" x2="1276.5" y2="1632.7"><stop offset="0.054" stop-color="#555555"/><stop offset="0.082" stop-color="#232323"/><stop offset="0.147" stop-color="#353535"/><stop offset="0.241" stop-color="#343434"/><stop offset="0.363" stop-color="#3a3a3a"/><stop offset="0.447" stop-color="#2d2d2d"/><stop offset="0.489" stop-color="#1a1a1a"/><stop offset="0.522" stop-color="#121212"/><stop offset="0.547" stop-color="#141414"/><stop offset="0.607" stop-color="#1b1b1b"/><stop offset="0.734" stop-color="#191919"/><stop offset="0.862" stop-color="#101010"/><stop offset="0.925" stop-color="#292929"/><stop offset="0.946" stop-color="#474747"/></linearGradient>
<linearGradient id="g255" gradientUnits="userSpaceOnUse" x1="1144.1" y1="1876.3" x2="1292.4" y2="1640.8"><stop offset="0.054" stop-color="#555555"/><stop offset="0.082" stop-color="#232323"/><stop offset="0.147" stop-color="#343434"/><stop offset="0.240" stop-color="#343434"/><stop offset="0.361" stop-color="#3a3a3a"/><stop offset="0.445" stop-color="#2d2d2d"/><stop offset="0.487" stop-color="#1a1a1a"/><stop offset="0.520" stop-color="#121212"/><stop offset="0.546" stop-color="#141414"/><stop offset="0.605" stop-color="#1b1b1b"/><stop offset="0.733" stop-color="#1a1a1a"/><stop offset="0.861" stop-color="#111111"/><stop offset="0.925" stop-color="#292929"/><stop offset="0.946" stop-color="#474747"/></linearGradient>
<linearGradient id="g256" gradientUnits="userSpaceOnUse" x1="1158.7" y1="1883.9" x2="1308.3" y2="1648.9"><stop offset="0.054" stop-color="#555555"/><stop offset="0.081" stop-color="#232323"/><stop offset="0.146" stop-color="#343434"/><stop offset="0.239" stop-color="#353535"/><stop offset="0.360" stop-color="#3a3a3a"/><stop offset="0.444" stop-color="#2d2d2d"/><stop offset="0.486" stop-color="#1a1a1a"/><stop offset="0.518" stop-color="#131313"/><stop offset="0.544" stop-color="#151515"/><stop offset="0.604" stop-color="#1b1b1b"/><stop offset="0.732" stop-color="#1a1a1a"/><stop offset="0.861" stop-color="#121212"/><stop offset="0.925" stop-color="#2a2a2a"/><stop offset="0.946" stop-color="#484848"/></linearGradient>
<linearGradient id="g257" gradientUnits="userSpaceOnUse" x1="1173.2" y1="1891.5" x2="1324.2" y2="1657.0"><stop offset="0.054" stop-color="#555555"/><stop offset="0.081" stop-color="#232323"/><stop offset="0.146" stop-color="#333333"/><stop offset="0.239" stop-color="#363636"/><stop offset="0.359" stop-color="#3a3a3a"/><stop offset="0.442" stop-color="#2d2d2d"/><stop offset="0.484" stop-color="#1a1a1a"/><stop offset="0.516" stop-color="#131313"/><stop offset="0.542" stop-color="#151515"/><stop offset="0.602" stop-color="#1c1c1c"/><stop offset="0.731" stop-color="#1a1a1a"/><stop offset="0.860" stop-color="#121212"/><stop offset="0.925" stop-color="#2a2a2a"/><stop offset="0.946" stop-color="#484848"/></linearGradient>
<linearGradient id="g258" gradientUnits="userSpaceOnUse" x1="1187.8" y1="1899.2" x2="1340.2" y2="1665.1"><stop offset="0.054" stop-color="#555555"/><stop offset="0.081" stop-color="#232323"/><stop offset="0.146" stop-color="#323232"/><stop offset="0.238" stop-color="#373737"/><stop offset="0.358" stop-color="#3a3a3a"/><stop offset="0.441" stop-color="#2d2d2d"/><stop offset="0.482" stop-color="#1a1a1a"/><stop offset="0.514" stop-color="#131313"/><stop offset="0.540" stop-color="#151515"/><stop offset="0.601" stop-color="#1c1c1c"/><stop offset="0.730" stop-color="#1b1b1b"/><stop offset="0.860" stop-color="#131313"/><stop offset="0.925" stop-color="#2a2a2a"/><stop offset="0.946" stop-color="#484848"/></linearGradient>
<linearGradient id="g259" gradientUnits="userSpaceOnUse" x1="1202.3" y1="1906.8" x2="1356.1" y2="1673.2"><stop offset="0.054" stop-color="#555555"/><stop offset="0.081" stop-color="#232323"/><stop offset="0.145" stop-color="#323232"/><stop offset="0.237" stop-color="#373737"/><stop offset="0.356" stop-color="#3a3a3a"/><stop offset="0.439" stop-color="#2d2d2d"/><stop offset="0.480" stop-color="#1b1b1b"/><stop offset="0.512" stop-color="#131313"/><stop offset="0.538" stop-color="#151515"/><stop offset="0.599" stop-color="#1c1c1c"/><stop offset="0.729" stop-color="#1b1b1b"/><stop offset="0.860" stop-color="#141414"/><stop offset="0.925" stop-color="#2b2b2b"/><stop offset="0.946" stop-color="#494949"/></linearGradient>
<linearGradient id="g260" gradientUnits="userSpaceOnUse" x1="1216.8" y1="1914.5" x2="1372.0" y2="1681.3"><stop offset="0.054" stop-color="#555555"/><stop offset="0.081" stop-color="#232323"/><stop offset="0.145" stop-color="#313131"/><stop offset="0.236" stop-color="#383838"/><stop offset="0.355" stop-color="#3a3a3a"/><stop offset="0.437" stop-color="#2d2d2d"/><stop offset="0.479" stop-color="#1b1b1b"/><stop offset="0.511" stop-color="#131313"/><stop offset="0.537" stop-color="#151515"/><stop offset="0.598" stop-color="#1c1c1c"/><stop offset="0.728" stop-color="#1c1c1c"/><stop offset="0.859" stop-color="#151515"/><stop offset="0.925" stop-color="#2b2b2b"/><stop offset="0.946" stop-color="#494949"/></linearGradient>
<linearGradient id="g261" gradientUnits="userSpaceOnUse" x1="1231.3" y1="1922.2" x2="1387.9" y2="1689.5"><stop offset="0.054" stop-color="#555555"/><stop offset="0.081" stop-color="#232323"/><stop offset="0.145" stop-color="#303030"/><stop offset="0.236" stop-color="#393939"/><stop offset="0.354" stop-color="#3a3a3a"/><stop offset="0.436" stop-color="#2d2d2d"/><stop offset="0.477" stop-color="#1b1b1b"/><stop offset="0.509" stop-color="#131313"/><stop offset="0.535" stop-color="#151515"/><stop offset="0.596" stop-color="#1d1d1d"/><stop offset="0.728" stop-color="#1c1c1c"/><stop offset="0.859" stop-color="#151515"/><stop offset="0.925" stop-color="#2b2b2b"/><stop offset="0.946" stop-color="#494949"/></linearGradient>
<linearGradient id="g262" gradientUnits="userSpaceOnUse" x1="1245.8" y1="1930.0" x2="1403.8" y2="1697.7"><stop offset="0.054" stop-color="#555555"/><stop offset="0.081" stop-color="#232323"/><stop offset="0.144" stop-color="#303030"/><stop offset="0.235" stop-color="#3a3a3a"/><stop offset="0.353" stop-color="#3a3a3a"/><stop offset="0.434" stop-color="#2d2d2d"/><stop offset="0.475" stop-color="#1b1b1b"/><stop offset="0.507" stop-color="#141414"/><stop offset="0.533" stop-color="#161616"/><stop offset="0.595" stop-color="#1d1d1d"/><stop offset="0.727" stop-color="#1c1c1c"/><stop offset="0.858" stop-color="#161616"/><stop offset="0.924" stop-color="#2c2c2c"/><stop offset="0.946" stop-color="#4a4a4a"/></linearGradient>
<linearGradient id="g263" gradientUnits="userSpaceOnUse" x1="1260.2" y1="1937.9" x2="1419.7" y2="1705.8"><stop offset="0.054" stop-color="#555555"/><stop offset="0.081" stop-color="#232323"/><stop offset="0.144" stop-color="#2f2f2f"/><stop offset="0.234" stop-color="#3a3a3a"/><stop offset="0.351" stop-color="#3a3a3a"/><stop offset="0.433" stop-color="#2d2d2d"/><stop offset="0.473" stop-color="#1b1b1b"/><stop offset="0.505" stop-color="#141414"/><stop offset="0.531" stop-color="#161616"/><stop offset="0.593" stop-color="#1d1d1d"/><stop offset="0.726" stop-color="#1d1d1d"/><stop offset="0.858" stop-color="#171717"/><stop offset="0.924" stop-color="#2c2c2c"/><stop offset="0.946" stop-color="#4a4a4a"/></linearGradient>
<linearGradient id="g264" gradientUnits="userSpaceOnUse" x1="1274.6" y1="1945.7" x2="1435.5" y2="1714.1"><stop offset="0.054" stop-color="#555555"/><stop offset="0.081" stop-color="#232323"/><stop offset="0.143" stop-color="#2e2e2e"/><stop offset="0.233" stop-color="#3b3b3b"/><stop offset="0.350" stop-color="#3a3a3a"/><stop offset="0.431" stop-color="#2d2d2d"/><stop offset="0.471" stop-color="#1c1c1c"/><stop offset="0.503" stop-color="#141414"/><stop offset="0.529" stop-color="#161616"/><stop offset="0.592" stop-color="#1e1e1e"/><stop offset="0.725" stop-color="#1d1d1d"/><stop offset="0.858" stop-color="#181818"/><stop offset="0.924" stop-color="#2c2c2c"/><stop offset="0.946" stop-color="#4a4a4a"/></linearGradient>
<linearGradient id="g265" gradientUnits="userSpaceOnUse" x1="1289.0" y1="1953.7" x2="1451.3" y2="1722.3"><stop offset="0.054" stop-color="#555555"/><stop offset="0.080" stop-color="#232323"/><stop offset="0.143" stop-color="#2d2d2d"/><stop offset="0.233" stop-color="#3c3c3c"/><stop offset="0.349" stop-color="#3a3a3a"/><stop offset="0.429" stop-color="#2d2d2d"/><stop offset="0.470" stop-color="#1c1c1c"/><stop offset="0.501" stop-color="#141414"/><stop offset="0.528" stop-color="#161616"/><stop offset="0.590" stop-color="#1e1e1e"/><stop offset="0.724" stop-color="#1e1e1e"/><stop offset="0.857" stop-color="#191919"/><stop offset="0.924" stop-color="#2d2d2d"/><stop offset="0.946" stop-color="#4b4b4b"/></linearGradient>
<linearGradient id="g266" gradientUnits="userSpaceOnUse" x1="1301.5" y1="1960.7" x2="1466.2" y2="1730.1"><stop offset="0.054" stop-color="#555555"/><stop offset="0.080" stop-color="#232323"/><stop offset="0.143" stop-color="#2d2d2d"/><stop offset="0.232" stop-color="#3b3b3b"/><stop offset="0.347" stop-color="#3a3a3a"/><stop offset="0.427" stop-color="#2d2d2d"/><stop offset="0.467" stop-color="#1c1c1c"/><stop offset="0.498" stop-color="#141414"/><stop offset="0.525" stop-color="#161616"/><stop offset="0.588" stop-color="#1f1f1f"/><stop offset="0.722" stop-color="#1f1f1f"/><stop offset="0.857" stop-color="#1b1b1b"/><stop offset="0.924" stop-color="#2f2f2f"/><stop offset="0.946" stop-color="#4d4d4d"/></linearGradient>
<linearGradient id="g267" gradientUnits="userSpaceOnUse" x1="1312.1" y1="1966.8" x2="1480.1" y2="1737.5"><stop offset="0.054" stop-color="#565656"/><stop offset="0.080" stop-color="#242424"/><stop offset="0.142" stop-color="#2c2c2c"/><stop offset="0.230" stop-color="#3a3a3a"/><stop offset="0.345" stop-color="#393939"/><stop offset="0.425" stop-color="#2c2c2c"/><stop offset="0.464" stop-color="#1c1c1c"/><stop offset="0.495" stop-color="#141414"/><stop offset="0.522" stop-color="#171717"/><stop offset="0.585" stop-color="#202020"/><stop offset="0.721" stop-color="#222222"/><stop offset="0.856" stop-color="#202020"/><stop offset="0.924" stop-color="#343434"/><stop offset="0.946" stop-color="#505050"/></linearGradient>
<linearGradient id="g268" gradientUnits="userSpaceOnUse" x1="1322.7" y1="1972.8" x2="1494.0" y2="1744.8"><stop offset="0.054" stop-color="#565656"/><stop offset="0.080" stop-color="#252525"/><stop offset="0.141" stop-color="#2c2c2c"/><stop offset="0.229" stop-color="#393939"/><stop offset="0.343" stop-color="#383838"/><stop offset="0.422" stop-color="#2b2b2b"/><stop offset="0.461" stop-color="#1b1b1b"/><stop offset="0.492" stop-color="#141414"/><stop offset="0.519" stop-color="#171717"/><stop offset="0.583" stop-color="#222222"/><stop offset="0.719" stop-color="#252525"/><stop offset="0.856" stop-color="#252525"/><stop offset="0.924" stop-color="#393939"/><stop offset="0.946" stop-color="#535353"/></linearGradient>
<linearGradient id="g269" gradientUnits="userSpaceOnUse" x1="1333.3" y1="1979.0" x2="1507.9" y2="1752.3"><stop offset="0.054" stop-color="#565656"/><stop offset="0.080" stop-color="#262626"/><stop offset="0.141" stop-color="#2c2c2c"/><stop offset="0.228" stop-color="#383838"/><stop offset="0.341" stop-color="#373737"/><stop offset="0.419" stop-color="#2a2a2a"/><stop offset="0.458" stop-color="#1b1b1b"/><stop offset="0.489" stop-color="#141414"/><stop offset="0.516" stop-color="#181818"/><stop offset="0.580" stop-color="#232323"/><stop offset="0.718" stop-color="#282828"/><stop offset="0.855" stop-color="#292929"/><stop offset="0.924" stop-color="#3d3d3d"/><stop offset="0.946" stop-color="#565656"/></linearGradient>
<linearGradient id="g270" gradientUnits="userSpaceOnUse" x1="1343.9" y1="1985.2" x2="1521.7" y2="1759.7"><stop offset="0.054" stop-color="#575757"/><stop offset="0.079" stop-color="#262626"/><stop offset="0.140" stop-color="#2b2b2b"/><stop offset="0.226" stop-color="#373737"/><stop offset="0.339" stop-color="#363636"/><stop offset="0.417" stop-color="#2a2a2a"/><stop offset="0.455" stop-color="#1b1b1b"/><stop offset="0.486" stop-color="#151515"/><stop offset="0.513" stop-color="#191919"/><stop offset="0.578" stop-color="#242424"/><stop offset="0.716" stop-color="#2b2b2b"/><stop offset="0.854" stop-color="#2e2e2e"/><stop offset="0.923" stop-color="#424242"/><stop offset="0.946" stop-color="#595959"/></linearGradient>
<linearGradient id="g271" gradientUnits="userSpaceOnUse" x1="1354.4" y1="1991.4" x2="1535.5" y2="1767.3"><stop offset="0.054" stop-color="#575757"/><stop offset="0.079" stop-color="#272727"/><stop offset="0.139" stop-color="#2b2b2b"/><stop offset="0.225" stop-color="#363636"/><stop offset="0.337" stop-color="#353535"/><stop offset="0.414" stop-color="#292929"/><stop offset="0.452" stop-color="#1b1b1b"/><stop offset="0.482" stop-color="#151515"/><stop offset="0.510" stop-color="#191919"/><stop offset="0.575" stop-color="#262626"/><stop offset="0.714" stop-color="#2e2e2e"/><stop offset="0.854" stop-color="#333333"/><stop offset="0.923" stop-color="#474747"/><stop offset="0.946" stop-color="#5d5d5d"/></linearGradient>
<linearGradient id="g272" gradientUnits="userSpaceOnUse" x1="1364.9" y1="1997.7" x2="1549.3" y2="1774.8"><stop offset="0.054" stop-color="#575757"/><stop offset="0.079" stop-color="#282828"/><stop offset="0.139" stop-color="#2b2b2b"/><stop offset="0.224" stop-color="#353535"/><stop offset="0.335" stop-color="#343434"/><stop offset="0.411" stop-color="#282828"/><stop offset="0.449" stop-color="#1b1b1b"/><stop offset="0.479" stop-color="#151515"/><stop offset="0.507" stop-color="#1a1a1a"/><stop offset="0.573" stop-color="#272727"/><stop offset="0.713" stop-color="#313131"/><stop offset="0.853" stop-color="#373737"/><stop offset="0.923" stop-color="#4b4b4b"/><stop offset="0.946" stop-color="#606060"/></linearGradient>
<linearGradient id="g273" gradientUnits="userSpaceOnUse" x1="1375.4" y1="2004.1" x2="1563.0" y2="1782.4"><stop offset="0.054" stop-color="#585858"/><stop offset="0.079" stop-color="#282828"/><stop offset="0.138" stop-color="#2a2a2a"/><stop offset="0.223" stop-color="#343434"/><stop offset="0.332" stop-color="#333333"/><stop offset="0.408" stop-color="#282828"/><stop offset="0.447" stop-color="#1a1a1a"/><stop offset="0.476" stop-color="#151515"/><stop offset="0.504" stop-color="#1a1a1a"/><stop offset="0.570" stop-color="#292929"/><stop offset="0.711" stop-color="#333333"/><stop offset="0.852" stop-color="#3c3c3c"/><stop offset="0.923" stop-color="#505050"/><stop offset="0.946" stop-color="#636363"/></linearGradient>
<linearGradient id="g274" gradientUnits="userSpaceOnUse" x1="1385.8" y1="2010.5" x2="1576.8" y2="1790.1"><stop offset="0.054" stop-color="#585858"/><stop offset="0.079" stop-color="#292929"/><stop offset="0.137" stop-color="#2a2a2a"/><stop offset="0.221" stop-color="#333333"/><stop offset="0.330" stop-color="#323232"/><stop offset="0.406" stop-color="#272727"/><stop offset="0.444" stop-color="#1a1a1a"/><stop offset="0.473" stop-color="#151515"/><stop offset="0.501" stop-color="#1b1b1b"/><stop offset="0.568" stop-color="#2a2a2a"/><stop offset="0.710" stop-color="#363636"/><stop offset="0.852" stop-color="#404040"/><stop offset="0.923" stop-color="#545454"/><stop offset="0.946" stop-color="#666666"/></linearGradient>
<linearGradient id="g275" gradientUnits="userSpaceOnUse" x1="1396.2" y1="2017.0" x2="1590.5" y2="1797.8"><stop offset="0.054" stop-color="#585858"/><stop offset="0.079" stop-color="#2a2a2a"/><stop offset="0.137" stop-color="#2a2a2a"/><stop offset="0.220" stop-color="#323232"/><stop offset="0.328" stop-color="#313131"/><stop offset="0.403" stop-color="#262626"/><stop offset="0.441" stop-color="#1a1a1a"/><stop offset="0.470" stop-color="#151515"/><stop offset="0.498" stop-color="#1b1b1b"/><stop offset="0.565" stop-color="#2c2c2c"/><stop offset="0.708" stop-color="#393939"/><stop offset="0.851" stop-color="#454545"/><stop offset="0.923" stop-color="#595959"/><stop offset="0.946" stop-color="#6a6a6a"/></linearGradient>
<linearGradient id="g276" gradientUnits="userSpaceOnUse" x1="1406.5" y1="2023.6" x2="1604.1" y2="1805.6"><stop offset="0.054" stop-color="#595959"/><stop offset="0.078" stop-color="#2a2a2a"/><stop offset="0.136" stop-color="#292929"/><stop offset="0.219" stop-color="#313131"/><stop offset="0.326" stop-color="#303030"/><stop offset="0.400" stop-color="#262626"/><stop offset="0.438" stop-color="#1a1a1a"/><stop offset="0.467" stop-color="#161616"/><stop offset="0.495" stop-color="#1c1c1c"/><stop offset="0.562" stop-color="#2d2d2d"/><stop offset="0.706" stop-color="#3c3c3c"/><stop offset="0.850" stop-color="#4a4a4a"/><stop offset="0.922" stop-color="#5e5e5e"/><stop offset="0.946" stop-color="#6d6d6d"/></linearGradient>
<linearGradient id="g277" gradientUnits="userSpaceOnUse" x1="1416.8" y1="2030.2" x2="1617.7" y2="1813.5"><stop offset="0.054" stop-color="#595959"/><stop offset="0.078" stop-color="#2b2b2b"/><stop offset="0.136" stop-color="#292929"/><stop offset="0.217" stop-color="#303030"/><stop offset="0.324" stop-color="#2f2f2f"/><stop offset="0.398" stop-color="#252525"/><stop offset="0.435" stop-color="#1a1a1a"/><stop offset="0.463" stop-color="#161616"/><stop offset="0.492" stop-color="#1d1d1d"/><stop offset="0.560" stop-color="#2e2e2e"/><stop offset="0.705" stop-color="#3f3f3f"/><stop offset="0.850" stop-color="#4e4e4e"/><stop offset="0.922" stop-color="#626262"/><stop offset="0.946" stop-color="#707070"/></linearGradient>
<linearGradient id="g278" gradientUnits="userSpaceOnUse" x1="1427.0" y1="2036.9" x2="1631.3" y2="1821.4"><stop offset="0.054" stop-color="#595959"/><stop offset="0.078" stop-color="#2c2c2c"/><stop offset="0.135" stop-color="#292929"/><stop offset="0.216" stop-color="#2f2f2f"/><stop offset="0.322" stop-color="#2e2e2e"/><stop offset="0.395" stop-color="#242424"/><stop offset="0.432" stop-color="#191919"/><stop offset="0.460" stop-color="#161616"/><stop offset="0.489" stop-color="#1d1d1d"/><stop offset="0.557" stop-color="#303030"/><stop offset="0.703" stop-color="#424242"/><stop offset="0.849" stop-color="#535353"/><stop offset="0.922" stop-color="#676767"/><stop offset="0.946" stop-color="#737373"/></linearGradient>
<linearGradient id="g279" gradientUnits="userSpaceOnUse" x1="1437.2" y1="2043.7" x2="1644.8" y2="1829.4"><stop offset="0.054" stop-color="#5a5a5a"/><stop offset="0.078" stop-color="#2d2d2d"/><stop offset="0.134" stop-color="#282828"/><stop offset="0.215" stop-color="#2e2e2e"/><stop offset="0.320" stop-color="#2d2d2d"/><stop offset="0.392" stop-color="#232323"/><stop offset="0.429" stop-color="#191919"/><stop offset="0.457" stop-color="#161616"/><stop offset="0.486" stop-color="#1e1e1e"/><stop offset="0.555" stop-color="#313131"/><stop offset="0.702" stop-color="#454545"/><stop offset="0.849" stop-color="#585858"/><stop offset="0.922" stop-color="#6c6c6c"/><stop offset="0.946" stop-color="#767676"/></linearGradient>
<linearGradient id="g280" gradientUnits="userSpaceOnUse" x1="1445.9" y1="2049.6" x2="1659.0" y2="1837.9"><stop offset="0.054" stop-color="#5a5a5a"/><stop offset="0.078" stop-color="#2d2d2d"/><stop offset="0.134" stop-color="#282828"/><stop offset="0.214" stop-color="#2d2d2d"/><stop offset="0.319" stop-color="#2d2d2d"/><stop offset="0.391" stop-color="#232323"/><stop offset="0.427" stop-color="#191919"/><stop offset="0.455" stop-color="#161616"/><stop offset="0.485" stop-color="#1e1e1e"/><stop offset="0.554" stop-color="#323232"/><stop offset="0.701" stop-color="#474747"/><stop offset="0.848" stop-color="#5b5b5b"/><stop offset="0.922" stop-color="#6f6f6f"/><stop offset="0.946" stop-color="#797979"/></linearGradient>
<linearGradient id="g281" gradientUnits="userSpaceOnUse" x1="1453.1" y1="2054.6" x2="1673.8" y2="1846.9"><stop offset="0.054" stop-color="#5a5a5a"/><stop offset="0.078" stop-color="#2d2d2d"/><stop offset="0.134" stop-color="#282828"/><stop offset="0.214" stop-color="#2d2d2d"/><stop offset="0.319" stop-color="#2d2d2d"/><stop offset="0.391" stop-color="#232323"/><stop offset="0.427" stop-color="#191919"/><stop offset="0.455" stop-color="#161616"/><stop offset="0.485" stop-color="#1f1f1f"/><stop offset="0.554" stop-color="#333333"/><stop offset="0.701" stop-color="#484848"/><stop offset="0.848" stop-color="#5c5c5c"/><stop offset="0.922" stop-color="#707070"/><stop offset="0.946" stop-color="#7a7a7a"/></linearGradient>
<linearGradient id="g282" gradientUnits="userSpaceOnUse" x1="1460.3" y1="2059.6" x2="1688.5" y2="1856.0"><stop offset="0.054" stop-color="#5a5a5a"/><stop offset="0.078" stop-color="#2d2d2d"/><stop offset="0.134" stop-color="#282828"/><stop offset="0.214" stop-color="#2c2c2c"/><stop offset="0.319" stop-color="#2c2c2c"/><stop offset="0.391" stop-color="#232323"/><stop offset="0.427" stop-color="#191919"/><stop offset="0.455" stop-color="#161616"/><stop offset="0.485" stop-color="#1f1f1f"/><stop offset="0.554" stop-color="#343434"/><stop offset="0.701" stop-color="#494949"/><stop offset="0.848" stop-color="#5e5e5e"/><stop offset="0.922" stop-color="#727272"/><stop offset="0.946" stop-color="#7c7c7c"/></linearGradient>
<linearGradient id="g283" gradientUnits="userSpaceOnUse" x1="1467.5" y1="2064.6" x2="1703.1" y2="1865.1"><stop offset="0.054" stop-color="#5a5a5a"/><stop offset="0.078" stop-color="#2d2d2d"/><stop offset="0.134" stop-color="#282828"/><stop offset="0.214" stop-color="#2c2c2c"/><stop offset="0.319" stop-color="#2c2c2c"/><stop offset="0.391" stop-color="#232323"/><stop offset="0.427" stop-color="#191919"/><stop offset="0.455" stop-color="#161616"/><stop offset="0.485" stop-color="#1f1f1f"/><stop offset="0.554" stop-color="#343434"/><stop offset="0.701" stop-color="#4a4a4a"/><stop offset="0.848" stop-color="#5f5f5f"/><stop offset="0.922" stop-color="#737373"/><stop offset="0.946" stop-color="#7d7d7d"/></linearGradient>
<linearGradient id="g284" gradientUnits="userSpaceOnUse" x1="1474.6" y1="2069.7" x2="1717.7" y2="1874.4"><stop offset="0.054" stop-color="#5a5a5a"/><stop offset="0.078" stop-color="#2d2d2d"/><stop offset="0.134" stop-color="#282828"/><stop offset="0.214" stop-color="#2c2c2c"/><stop offset="0.319" stop-color="#2c2c2c"/><stop offset="0.391" stop-color="#232323"/><stop offset="0.427" stop-color="#191919"/><stop offset="0.455" stop-color="#171717"/><stop offset="0.485" stop-color="#202020"/><stop offset="0.554" stop-color="#353535"/><stop offset="0.701" stop-color="#4b4b4b"/><stop offset="0.848" stop-color="#606060"/><stop offset="0.922" stop-color="#747474"/><stop offset="0.946" stop-color="#7e7e7e"/></linearGradient>
<linearGradient id="g285" gradientUnits="userSpaceOnUse" x1="1481.7" y1="2074.9" x2="1732.2" y2="1883.8"><stop offset="0.054" stop-color="#5a5a5a"/><stop offset="0.078" stop-color="#2d2d2d"/><stop offset="0.134" stop-color="#282828"/><stop offset="0.214" stop-color="#2c2c2c"/><stop offset="0.319" stop-color="#2c2c2c"/><stop offset="0.391" stop-color="#232323"/><stop offset="0.427" stop-color="#191919"/><stop offset="0.455" stop-color="#171717"/><stop offset="0.485" stop-color="#202020"/><stop offset="0.554" stop-color="#363636"/><stop offset="0.701" stop-color="#4c4c4c"/><stop offset="0.848" stop-color="#626262"/><stop offset="0.922" stop-color="#767676"/><stop offset="0.946" stop-color="#808080"/></linearGradient>
<linearGradient id="g286" gradientUnits="userSpaceOnUse" x1="1488.7" y1="2080.1" x2="1746.6" y2="1893.3"><stop offset="0.054" stop-color="#5a5a5a"/><stop offset="0.078" stop-color="#2d2d2d"/><stop offset="0.134" stop-color="#282828"/><stop offset="0.214" stop-color="#2c2c2c"/><stop offset="0.319" stop-color="#2c2c2c"/><stop offset="0.391" stop-color="#232323"/><stop offset="0.427" stop-color="#191919"/><stop offset="0.455" stop-color="#171717"/><stop offset="0.485" stop-color="#202020"/><stop offset="0.554" stop-color="#373737"/><stop offset="0.701" stop-color="#4d4d4d"/><stop offset="0.848" stop-color="#636363"/><stop offset="0.922" stop-color="#777777"/><stop offset="0.946" stop-color="#818181"/></linearGradient>
<linearGradient id="g287" gradientUnits="userSpaceOnUse" x1="1495.7" y1="2085.3" x2="1760.9" y2="1903.0"><stop offset="0.054" stop-color="#5a5a5a"/><stop offset="0.078" stop-color="#2d2d2d"/><stop offset="0.134" stop-color="#282828"/><stop offset="0.214" stop-color="#2b2b2b"/><stop offset="0.319" stop-color="#2b2b2b"/><stop offset="0.391" stop-color="#232323"/><stop offset="0.427" stop-color="#191919"/><stop offset="0.455" stop-color="#171717"/><stop offset="0.485" stop-color="#212121"/><stop offset="0.554" stop-color="#373737"/><stop offset="0.701" stop-color="#4e4e4e"/><stop offset="0.848" stop-color="#656565"/><stop offset="0.922" stop-color="#797979"/><stop offset="0.946" stop-color="#838383"/></linearGradient>
<linearGradient id="g288" gradientUnits="userSpaceOnUse" x1="1502.7" y1="2090.6" x2="1775.2" y2="1912.8"><stop offset="0.054" stop-color="#5a5a5a"/><stop offset="0.078" stop-color="#2d2d2d"/><stop offset="0.134" stop-color="#282828"/><stop offset="0.214" stop-color="#2b2b2b"/><stop offset="0.319" stop-color="#2b2b2b"/><stop offset="0.391" stop-color="#232323"/><stop offset="0.427" stop-color="#191919"/><stop offset="0.455" stop-color="#171717"/><stop offset="0.485" stop-color="#212121"/><stop offset="0.554" stop-color="#383838"/><stop offset="0.701" stop-color="#4f4f4f"/><stop offset="0.848" stop-color="#666666"/><stop offset="0.922" stop-color="#7a7a7a"/><stop offset="0.946" stop-color="#848484"/></linearGradient>
<linearGradient id="g289" gradientUnits="userSpaceOnUse" x1="1509.7" y1="2095.9" x2="1789.3" y2="1922.8"><stop offset="0.054" stop-color="#5a5a5a"/><stop offset="0.078" stop-color="#2d2d2d"/><stop offset="0.134" stop-color="#282828"/><stop offset="0.214" stop-color="#2b2b2b"/><stop offset="0.319" stop-color="#2b2b2b"/><stop offset="0.391" stop-color="#232323"/><stop offset="0.427" stop-color="#191919"/><stop offset="0.455" stop-color="#171717"/><stop offset="0.485" stop-color="#212121"/><stop offset="0.554" stop-color="#393939"/><stop offset="0.701" stop-color="#505050"/><stop offset="0.848" stop-color="#686868"/><stop offset="0.922" stop-color="#7c7c7c"/><stop offset="0.946" stop-color="#868686"/></linearGradient>
<linearGradient id="g290" gradientUnits="userSpaceOnUse" x1="1516.6" y1="2101.3" x2="1803.2" y2="1933.0"><stop offset="0.054" stop-color="#5a5a5a"/><stop offset="0.078" stop-color="#2d2d2d"/><stop offset="0.134" stop-color="#282828"/><stop offset="0.214" stop-color="#2b2b2b"/><stop offset="0.319" stop-color="#2b2b2b"/><stop offset="0.391" stop-color="#232323"/><stop offset="0.427" stop-color="#191919"/><stop offset="0.455" stop-color="#181818"/><stop offset="0.485" stop-color="#222222"/><stop offset="0.554" stop-color="#3a3a3a"/><stop offset="0.701" stop-color="#515151"/><stop offset="0.848" stop-color="#696969"/><stop offset="0.922" stop-color="#7d7d7d"/><stop offset="0.946" stop-color="#878787"/></linearGradient>
<linearGradient id="g291" gradientUnits="userSpaceOnUse" x1="1523.5" y1="2106.7" x2="1817.0" y2="1943.4"><stop offset="0.054" stop-color="#5a5a5a"/><stop offset="0.078" stop-color="#2d2d2d"/><stop offset="0.134" stop-color="#282828"/><stop offset="0.214" stop-color="#2b2b2b"/><stop offset="0.319" stop-color="#2b2b2b"/><stop offset="0.391" stop-color="#232323"/><stop offset="0.427" stop-color="#191919"/><stop offset="0.455" stop-color="#181818"/><stop offset="0.485" stop-color="#222222"/><stop offset="0.554" stop-color="#3a3a3a"/><stop offset="0.701" stop-color="#525252"/><stop offset="0.848" stop-color="#6a6a6a"/><stop offset="0.922" stop-color="#7e7e7e"/><stop offset="0.946" stop-color="#888888"/></linearGradient>
<linearGradient id="g292" gradientUnits="userSpaceOnUse" x1="1530.3" y1="2112.2" x2="1830.6" y2="1954.0"><stop offset="0.054" stop-color="#5a5a5a"/><stop offset="0.078" stop-color="#2d2d2d"/><stop offset="0.134" stop-color="#282828"/><stop offset="0.214" stop-color="#2a2a2a"/><stop offset="0.319" stop-color="#2a2a2a"/><stop offset="0.391" stop-color="#232323"/><stop offset="0.427" stop-color="#191919"/><stop offset="0.455" stop-color="#181818"/><stop offset="0.485" stop-color="#222222"/><stop offset="0.554" stop-color="#3b3b3b"/><stop offset="0.701" stop-color="#535353"/><stop offset="0.848" stop-color="#6c6c6c"/><stop offset="0.922" stop-color="#808080"/><stop offset="0.946" stop-color="#8a8a8a"/></linearGradient>
<linearGradient id="g293" gradientUnits="userSpaceOnUse" x1="1537.1" y1="2117.7" x2="1844.1" y2="1964.8"><stop offset="0.054" stop-color="#5a5a5a"/><stop offset="0.078" stop-color="#2d2d2d"/><stop offset="0.134" stop-color="#282828"/><stop offset="0.214" stop-color="#2a2a2a"/><stop offset="0.319" stop-color="#2a2a2a"/><stop offset="0.391" stop-color="#232323"/><stop offset="0.427" stop-color="#191919"/><stop offset="0.455" stop-color="#181818"/><stop offset="0.485" stop-color="#232323"/><stop offset="0.554" stop-color="#3c3c3c"/><stop offset="0.701" stop-color="#545454"/><stop offset="0.848" stop-color="#6d6d6d"/><stop offset="0.922" stop-color="#818181"/><stop offset="0.946" stop-color="#8b8b8b"/></linearGradient>
<linearGradient id="g294" gradientUnits="userSpaceOnUse" x1="1543.9" y1="2123.3" x2="1855.4" y2="1974.3"><stop offset="0.054" stop-color="#5a5a5a"/><stop offset="0.078" stop-color="#2d2d2d"/><stop offset="0.134" stop-color="#282828"/><stop offset="0.214" stop-color="#2a2a2a"/><stop offset="0.319" stop-color="#2a2a2a"/><stop offset="0.391" stop-color="#232323"/><stop offset="0.427" stop-color="#191919"/><stop offset="0.455" stop-color="#181818"/><stop offset="0.485" stop-color="#232323"/><stop offset="0.554" stop-color="#3c3c3c"/><stop offset="0.701" stop-color="#555555"/><stop offset="0.848" stop-color="#6e6e6e"/><stop offset="0.922" stop-color="#828282"/><stop offset="0.946" stop-color="#8c8c8c"/></linearGradient>
<linearGradient id="g295" gradientUnits="userSpaceOnUse" x1="1550.8" y1="2129.1" x2="1864.5" y2="1982.3"><stop offset="0.054" stop-color="#5a5a5a"/><stop offset="0.078" stop-color="#2d2d2d"/><stop offset="0.134" stop-color="#282828"/><stop offset="0.214" stop-color="#2a2a2a"/><stop offset="0.319" stop-color="#2a2a2a"/><stop offset="0.391" stop-color="#232323"/><stop offset="0.427" stop-color="#191919"/><stop offset="0.455" stop-color="#181818"/><stop offset="0.485" stop-color="#232323"/><stop offset="0.554" stop-color="#3c3c3c"/><stop offset="0.701" stop-color="#555555"/><stop offset="0.848" stop-color="#6e6e6e"/><stop offset="0.922" stop-color="#828282"/><stop offset="0.946" stop-color="#8c8c8c"/></linearGradient>
<linearGradient id="g296" gradientUnits="userSpaceOnUse" x1="1557.6" y1="2134.8" x2="1873.6" y2="1990.4"><stop offset="0.054" stop-color="#5a5a5a"/><stop offset="0.078" stop-color="#2d2d2d"/><stop offset="0.134" stop-color="#282828"/><stop offset="0.214" stop-color="#2a2a2a"/><stop offset="0.319" stop-color="#2a2a2a"/><stop offset="0.391" stop-color="#232323"/><stop offset="0.427" stop-color="#191919"/><stop offset="0.455" stop-color="#181818"/><stop offset="0.485" stop-color="#232323"/><stop offset="0.554" stop-color="#3c3c3c"/><stop offset="0.701" stop-color="#555555"/><stop offset="0.848" stop-color="#6e6e6e"/><stop offset="0.922" stop-color="#828282"/><stop offset="0.946" stop-color="#8c8c8c"/></linearGradient>
<linearGradient id="g297" gradientUnits="userSpaceOnUse" x1="1564.4" y1="2140.7" x2="1882.5" y2="1998.7"><stop offset="0.054" stop-color="#5a5a5a"/><stop offset="0.078" stop-color="#2d2d2d"/><stop offset="0.134" stop-color="#282828"/><stop offset="0.214" stop-color="#2a2a2a"/><stop offset="0.319" stop-color="#2a2a2a"/><stop offset="0.391" stop-color="#232323"/><stop offset="0.427" stop-color="#191919"/><stop offset="0.455" stop-color="#181818"/><stop offset="0.485" stop-color="#232323"/><stop offset="0.554" stop-color="#3c3c3c"/><stop offset="0.701" stop-color="#555555"/><stop offset="0.848" stop-color="#6e6e6e"/><stop offset="0.922" stop-color="#828282"/><stop offset="0.946" stop-color="#8c8c8c"/></linearGradient>
<linearGradient id="g298" gradientUnits="userSpaceOnUse" x1="1571.1" y1="2146.5" x2="1891.3" y2="2007.1"><stop offset="0.054" stop-color="#5a5a5a"/><stop offset="0.078" stop-color="#2d2d2d"/><stop offset="0.134" stop-color="#282828"/><stop offset="0.214" stop-color="#2a2a2a"/><stop offset="0.319" stop-color="#2a2a2a"/><stop offset="0.391" stop-color="#232323"/><stop offset="0.427" stop-color="#191919"/><stop offset="0.455" stop-color="#181818"/><stop offset="0.485" stop-color="#232323"/><stop offset="0.554" stop-color="#3c3c3c"/><stop offset="0.701" stop-color="#555555"/><stop offset="0.848" stop-color="#6e6e6e"/><stop offset="0.922" stop-color="#828282"/><stop offset="0.946" stop-color="#8c8c8c"/></linearGradient>
<linearGradient id="g299" gradientUnits="userSpaceOnUse" x1="1577.8" y1="2152.5" x2="1900.0" y2="2015.7"><stop offset="0.054" stop-color="#5a5a5a"/><stop offset="0.078" stop-color="#2d2d2d"/><stop offset="0.134" stop-color="#282828"/><stop offset="0.214" stop-color="#2a2a2a"/><stop offset="0.319" stop-color="#2a2a2a"/><stop offset="0.391" stop-color="#232323"/><stop offset="0.427" stop-color="#191919"/><stop offset="0.455" stop-color="#181818"/><stop offset="0.485" stop-color="#232323"/><stop offset="0.554" stop-color="#3c3c3c"/><stop offset="0.701" stop-color="#555555"/><stop offset="0.848" stop-color="#6e6e6e"/><stop offset="0.922" stop-color="#828282"/><stop offset="0.946" stop-color="#8c8c8c"/></linearGradient>
<linearGradient id="g300" gradientUnits="userSpaceOnUse" x1="1584.4" y1="2158.5" x2="1908.5" y2="2024.4"><stop offset="0.054" stop-color="#5a5a5a"/><stop offset="0.078" stop-color="#2d2d2d"/><stop offset="0.134" stop-color="#282828"/><stop offset="0.214" stop-color="#2a2a2a"/><stop offset="0.319" stop-color="#2a2a2a"/><stop offset="0.391" stop-color="#232323"/><stop offset="0.427" stop-color="#191919"/><stop offset="0.455" stop-color="#181818"/><stop offset="0.485" stop-color="#232323"/><stop offset="0.554" stop-color="#3c3c3c"/><stop offset="0.701" stop-color="#555555"/><stop offset="0.848" stop-color="#6e6e6e"/><stop offset="0.922" stop-color="#828282"/><stop offset="0.946" stop-color="#8c8c8c"/></linearGradient>
<linearGradient id="g301" gradientUnits="userSpaceOnUse" x1="1591.0" y1="2164.5" x2="1916.8" y2="2033.3"><stop offset="0.054" stop-color="#5a5a5a"/><stop offset="0.078" stop-color="#2d2d2d"/><stop offset="0.134" stop-color="#282828"/><stop offset="0.214" stop-color="#2a2a2a"/><stop offset="0.319" stop-color="#2a2a2a"/><stop offset="0.391" stop-color="#232323"/><stop offset="0.427" stop-color="#191919"/><stop offset="0.455" stop-color="#181818"/><stop offset="0.485" stop-color="#232323"/><stop offset="0.554" stop-color="#3c3c3c"/><stop offset="0.701" stop-color="#555555"/><stop offset="0.848" stop-color="#6e6e6e"/><stop offset="0.922" stop-color="#828282"/><stop offset="0.946" stop-color="#8c8c8c"/></linearGradient>
<linearGradient id="g302" gradientUnits="userSpaceOnUse" x1="1597.5" y1="2170.6" x2="1924.9" y2="2042.4"><stop offset="0.054" stop-color="#5a5a5a"/><stop offset="0.078" stop-color="#2d2d2d"/><stop offset="0.134" stop-color="#282828"/><stop offset="0.214" stop-color="#2a2a2a"/><stop offset="0.319" stop-color="#2a2a2a"/><stop offset="0.391" stop-color="#232323"/><stop offset="0.427" stop-color="#191919"/><stop offset="0.455" stop-color="#181818"/><stop offset="0.485" stop-color="#232323"/><stop offset="0.554" stop-color="#3c3c3c"/><stop offset="0.701" stop-color="#555555"/><stop offset="0.848" stop-color="#6e6e6e"/><stop offset="0.922" stop-color="#828282"/><stop offset="0.946" stop-color="#8c8c8c"/></linearGradient>
<linearGradient id="g303" gradientUnits="userSpaceOnUse" x1="1604.0" y1="2176.8" x2="1932.9" y2="2051.6"><stop offset="0.054" stop-color="#5a5a5a"/><stop offset="0.078" stop-color="#2d2d2d"/><stop offset="0.134" stop-color="#282828"/><stop offset="0.214" stop-color="#2a2a2a"/><stop offset="0.319" stop-color="#2a2a2a"/><stop offset="0.391" stop-color="#232323"/><stop offset="0.427" stop-color="#191919"/><stop offset="0.455" stop-color="#181818"/><stop offset="0.485" stop-color="#232323"/><stop offset="0.554" stop-color="#3c3c3c"/><stop offset="0.701" stop-color="#555555"/><stop offset="0.848" stop-color="#6e6e6e"/><stop offset="0.922" stop-color="#828282"/><stop offset="0.946" stop-color="#8c8c8c"/></linearGradient>
<linearGradient id="g304" gradientUnits="userSpaceOnUse" x1="1610.4" y1="2183.0" x2="1940.6" y2="2061.0"><stop offset="0.054" stop-color="#5a5a5a"/><stop offset="0.078" stop-color="#2d2d2d"/><stop offset="0.134" stop-color="#282828"/><stop offset="0.214" stop-color="#2a2a2a"/><stop offset="0.319" stop-color="#2a2a2a"/><stop offset="0.391" stop-color="#232323"/><stop offset="0.427" stop-color="#191919"/><stop offset="0.455" stop-color="#181818"/><stop offset="0.485" stop-color="#232323"/><stop offset="0.554" stop-color="#3c3c3c"/><stop offset="0.701" stop-color="#555555"/><stop offset="0.848" stop-color="#6e6e6e"/><stop offset="0.922" stop-color="#828282"/><stop offset="0.946" stop-color="#8c8c8c"/></linearGradient>
<linearGradient id="g305" gradientUnits="userSpaceOnUse" x1="1616.8" y1="2189.3" x2="1948.2" y2="2070.5"><stop offset="0.054" stop-color="#5a5a5a"/><stop offset="0.078" stop-color="#2d2d2d"/><stop offset="0.134" stop-color="#282828"/><stop offset="0.214" stop-color="#2a2a2a"/><stop offset="0.319" stop-color="#2a2a2a"/><stop offset="0.391" stop-color="#232323"/><stop offset="0.427" stop-color="#191919"/><stop offset="0.455" stop-color="#181818"/><stop offset="0.485" stop-color="#232323"/><stop offset="0.554" stop-color="#3c3c3c"/><stop offset="0.701" stop-color="#555555"/><stop offset="0.848" stop-color="#6e6e6e"/><stop offset="0.922" stop-color="#828282"/><stop offset="0.946" stop-color="#8c8c8c"/></linearGradient>
<linearGradient id="g306" gradientUnits="userSpaceOnUse" x1="1623.1" y1="2195.6" x2="1955.5" y2="2080.2"><stop offset="0.054" stop-color="#5a5a5a"/><stop offset="0.078" stop-color="#2d2d2d"/><stop offset="0.134" stop-color="#282828"/><stop offset="0.214" stop-color="#2a2a2a"/><stop offset="0.319" stop-color="#2a2a2a"/><stop offset="0.391" stop-color="#232323"/><stop offset="0.427" stop-color="#191919"/><stop offset="0.455" stop-color="#181818"/><stop offset="0.485" stop-color="#232323"/><stop offset="0.554" stop-color="#3c3c3c"/><stop offset="0.701" stop-color="#555555"/><stop offset="0.848" stop-color="#6e6e6e"/><stop offset="0.922" stop-color="#828282"/><stop offset="0.946" stop-color="#8c8c8c"/></linearGradient>
<linearGradient id="g307" gradientUnits="userSpaceOnUse" x1="1629.2" y1="2201.8" x2="1962.6" y2="2090.1"><stop offset="0.054" stop-color="#5a5a5a"/><stop offset="0.078" stop-color="#2d2d2d"/><stop offset="0.134" stop-color="#282828"/><stop offset="0.214" stop-color="#2a2a2a"/><stop offset="0.319" stop-color="#2a2a2a"/><stop offset="0.391" stop-color="#232323"/><stop offset="0.427" stop-color="#191919"/><stop offset="0.455" stop-color="#181818"/><stop offset="0.485" stop-color="#232323"/><stop offset="0.554" stop-color="#3c3c3c"/><stop offset="0.701" stop-color="#555555"/><stop offset="0.848" stop-color="#6e6e6e"/><stop offset="0.922" stop-color="#828282"/><stop offset="0.946" stop-color="#8c8c8c"/></linearGradient>
</defs>
<rect width="2000" height="2000" fill="#fff"/>
<!-- main cable body -->
<path d="M767.8,325.0L763.4,326.2L759.1,327.4L754.7,328.6L750.4,329.8L746.1,331.0L741.7,332.2L737.4,333.5L733.1,334.7L728.7,335.9L724.4,337.1L720.1,338.3L715.7,339.5L711.4,340.8L707.1,342.0L702.8,343.2L698.4,344.5L694.1,345.7L689.8,347.0L685.5,348.2L681.1,349.5L676.8,350.7L672.5,352.0L668.2,353.3L663.9,354.6L659.6,355.8L655.2,357.1L650.9,358.4L646.6,359.8L642.3,361.1L638.0,362.4L633.7,363.7L629.4,365.0L625.1,366.4L620.8,367.7L616.6,369.1L612.3,370.5L608.0,371.8L603.7,373.2L599.4,374.6L595.1,376.0L590.9,377.4L586.6,378.9L582.3,380.3L578.1,381.7L573.8,383.2L569.6,384.6L565.3,386.1L561.1,387.6L556.8,389.1L552.6,390.6L548.3,392.1L544.1,393.6L539.9,395.2L535.6,396.7L531.4,398.3L527.2,399.9L523.0,401.5L518.8,403.1L514.6,404.7L510.4,406.3L506.2,407.9L502.0,409.6L497.8,411.3L493.7,412.9L489.5,414.6L485.3,416.3L481.2,418.1L477.0,419.8L472.9,421.5L468.7,423.3L464.6,425.1L460.5,426.9L456.4,428.7L452.2,430.5L448.1,432.4L444.0,434.2L440.0,436.1L435.9,438.0L431.8,439.9L427.7,441.8L423.7,443.7L419.6,445.7L415.6,447.7L411.5,449.7L407.5,451.7L403.5,453.7L399.5,455.7L395.5,457.8L391.5,459.9L387.5,462.0L383.5,464.1L379.6,466.2L375.6,468.4L371.7,470.5L367.7,472.7L363.8,474.9L359.9,477.1L356.0,479.4L352.1,481.6L348.2,483.9L344.4,486.2L340.5,488.5L336.7,490.9L332.8,493.2L329.0,495.6L325.2,498.0L321.4,500.4L317.6,502.9L313.8,505.3L310.1,507.8L306.3,510.3L302.6,512.8L298.9,515.4L295.2,517.9L291.5,520.5L287.8,523.1L284.2,525.7L280.5,528.4L276.9,531.0L273.3,533.7L269.7,536.4L266.1,539.2L262.6,541.9L259.0,544.7L255.5,547.5L252.0,550.3L248.5,553.2L245.0,556.0L241.6,558.9L238.2,561.8L234.8,564.8L231.4,567.7L228.0,570.7L224.7,573.7L221.3,576.7L218.0,579.8L214.8,582.9L211.5,586.0L208.3,589.1L205.1,592.3L201.9,595.5L198.7,598.7L195.6,601.9L192.5,605.1L189.4,608.4L186.3,611.7L183.3,615.1L180.3,618.4L177.4,621.8L174.4,625.2L171.5,628.7L168.6,632.1L165.8,635.6L163.0,639.1L160.2,642.7L157.5,646.2L154.7,649.8L152.1,653.4L149.4,657.1L146.8,660.7L144.2,664.4L141.7,668.2L139.2,671.9L136.8,675.7L134.3,679.5L132.0,683.3L129.6,687.1L127.3,691.0L125.1,694.9L122.9,698.8L120.7,702.8L118.6,706.7L116.5,710.7L114.4,714.7L112.4,718.7L110.5,722.8L108.6,726.9L106.7,731.0L104.9,735.1L103.1,739.2L101.4,743.4L99.7,747.5L98.0,751.7L96.5,755.9L94.9,760.2L93.4,764.4L92.0,768.7L90.6,772.9L89.2,777.2L87.9,781.5L86.7,785.9L85.5,790.2L84.3,794.6L83.2,798.9L82.2,803.3L81.2,807.7L80.2,812.1L79.3,816.5L78.5,820.9L77.7,825.4L77.0,829.8L76.4,834.2L75.7,838.7L75.2,843.2L74.7,847.6L74.3,852.1L73.9,856.6L73.6,861.1L73.3,865.6L73.1,870.1L72.9,874.6L72.9,879.1L72.8,883.6L72.9,888.1L73.0,892.6L73.1,897.1L73.3,901.6L73.6,906.1L73.9,910.6L74.3,915.0L74.7,919.5L75.2,924.0L75.7,928.5L76.3,932.9L76.9,937.4L77.6,941.8L78.3,946.3L79.1,950.7L79.9,955.1L80.8,959.5L81.7,963.9L82.7,968.3L83.7,972.7L84.7,977.1L85.8,981.5L87.0,985.8L88.1,990.2L89.4,994.5L90.6,998.8L91.9,1003.1L93.2,1007.4L94.6,1011.7L96.0,1016.0L97.4,1020.3L98.9,1024.5L100.4,1028.8L102.0,1033.0L103.5,1037.2L105.2,1041.4L106.8,1045.6L108.5,1049.8L110.2,1053.9L111.9,1058.1L113.7,1062.2L115.5,1066.3L117.3,1070.4L119.2,1074.5L121.1,1078.6L123.0,1082.7L125.0,1086.7L126.9,1090.8L128.9,1094.8L131.0,1098.8L133.0,1102.8L135.1,1106.8L137.2,1110.8L139.4,1114.7L141.5,1118.7L143.7,1122.6L146.0,1126.5L148.2,1130.4L150.5,1134.3L152.8,1138.2L155.1,1142.0L157.5,1145.9L159.8,1149.7L162.2,1153.5L164.7,1157.3L167.1,1161.1L169.6,1164.8L172.1,1168.6L174.6,1172.3L177.1,1176.0L179.7,1179.7L182.3,1183.4L184.9,1187.1L187.5,1190.7L190.2,1194.3L192.8,1198.0L195.5,1201.6L198.3,1205.2L201.0,1208.7L203.7,1212.3L206.5,1215.8L209.3,1219.4L212.1,1222.9L215.0,1226.4L217.8,1229.9L220.7,1233.3L223.6,1236.8L226.5,1240.2L229.4,1243.6L232.4,1247.0L235.3,1250.4L238.3,1253.8L241.3,1257.1L244.3,1260.5L247.3,1263.8L250.4,1267.1L253.4,1270.4L256.5,1273.7L259.6,1277.0L262.7,1280.3L265.8,1283.5L268.9,1286.7L272.1,1289.9L275.3,1293.1L278.4,1296.3L281.6,1299.5L284.8,1302.7L288.0,1305.8L291.3,1308.9L294.5,1312.1L297.8,1315.2L301.0,1318.3L304.3,1321.3L307.6,1324.4L310.9,1327.5L314.2,1330.5L317.5,1333.5L320.9,1336.6L324.2,1339.6L327.6,1342.6L331.0,1345.5L334.3,1348.5L337.7,1351.5L341.1,1354.4L344.5,1357.4L348.0,1360.3L351.4,1363.2L354.8,1366.1L358.3,1369.0L361.7,1371.9L365.2,1374.7L368.7,1377.6L372.2,1380.4L375.7,1383.3L379.2,1386.1L382.7,1388.9L386.2,1391.7L389.7,1394.5L393.2,1397.3L396.8,1400.1L400.3,1402.9L403.9,1405.6L407.4,1408.4L411.0,1411.1L414.6,1413.8L418.2,1416.6L421.8,1419.3L425.4,1422.0L429.0,1424.7L432.6,1427.4L436.2,1430.1L439.8,1432.7L443.4,1435.4L447.1,1438.1L450.7,1440.7L454.3,1443.4L458.0,1446.0L461.6,1448.6L465.3,1451.2L469.0,1453.9L472.6,1456.5L476.3,1459.1L480.0,1461.7L483.6,1464.3L487.3,1466.8L491.0,1469.4L494.7,1472.0L498.4,1474.6L502.1,1477.1L505.8,1479.7L509.5,1482.2L513.2,1484.8L517.0,1487.3L520.7,1489.8L524.4,1492.4L528.1,1494.9L531.9,1497.4L535.6,1499.9L539.3,1502.4L543.1,1504.9L546.8,1507.4L550.5,1509.9L554.3,1512.4L558.0,1514.9L561.8,1517.4L565.5,1519.9L569.3,1522.3L573.1,1524.8L576.8,1527.3L580.6,1529.8L584.3,1532.2L588.1,1534.7L591.9,1537.2L595.6,1539.6L599.4,1542.1L603.2,1544.5L607.0,1547.0L610.7,1549.4L614.5,1551.9L618.3,1554.3L622.1,1556.8L625.8,1559.2L629.6,1561.7L633.4,1564.1L637.2,1566.5L641.0,1569.0L644.7,1571.4L648.5,1573.8L652.3,1576.3L656.1,1578.7L659.9,1581.1L663.7,1583.6L667.5,1586.0L671.3,1588.4L675.1,1590.8L678.9,1593.2L682.7,1595.6L686.5,1598.0L690.3,1600.5L694.1,1602.9L697.9,1605.3L701.7,1607.7L705.5,1610.1L709.3,1612.5L713.1,1614.8L716.9,1617.2L720.7,1619.6L724.6,1622.0L728.4,1624.4L732.2,1626.8L736.0,1629.2L739.8,1631.5L743.7,1633.9L747.5,1636.3L751.3,1638.6L755.1,1641.0L759.0,1643.4L762.8,1645.7L766.6,1648.1L770.5,1650.4L774.3,1652.8L778.2,1655.1L782.0,1657.5L785.8,1659.8L789.7,1662.2L793.5,1664.5L797.4,1666.8L801.2,1669.1L805.1,1671.5L808.9,1673.8L812.8,1676.1L816.6,1678.4L820.5,1680.8L824.4,1683.1L828.2,1685.4L832.1,1687.7L836.0,1690.0L839.8,1692.3L843.7,1694.6L847.6,1696.9L851.4,1699.2L855.3,1701.4L859.2,1703.7L863.1,1706.0L867.0,1708.3L870.8,1710.6L874.7,1712.8L878.6,1715.1L882.5,1717.4L886.4,1719.6L890.3,1721.9L894.2,1724.1L898.1,1726.4L902.0,1728.6L905.9,1730.9L909.8,1733.1L913.7,1735.3L917.6,1737.6L921.5,1739.8L925.4,1742.0L929.3,1744.2L933.3,1746.5L937.2,1748.7L941.1,1750.9L945.0,1753.1L948.9,1755.3L952.9,1757.5L956.8,1759.7L960.7,1761.9L964.7,1764.1L968.6,1766.3L972.5,1768.4L976.5,1770.6L980.4,1772.8L984.3,1775.0L988.3,1777.1L992.2,1779.3L996.2,1781.4L1000.1,1783.6L1004.1,1785.8L1008.0,1787.9L1012.0,1790.0L1016.0,1792.2L1019.9,1794.3L1023.9,1796.4L1027.8,1798.6L1031.8,1800.7L1035.8,1802.8L1039.8,1804.9L1043.7,1807.0L1047.7,1809.2L1051.7,1811.3L1055.7,1813.4L1059.6,1815.5L1063.6,1817.6L1067.6,1819.7L1071.6,1821.8L1075.6,1823.9L1079.6,1825.9L1083.5,1828.0L1087.5,1830.1L1091.5,1832.2L1095.5,1834.3L1099.5,1836.4L1103.5,1838.4L1107.5,1840.5L1111.5,1842.6L1115.5,1844.7L1119.4,1846.8L1123.4,1848.8L1127.4,1850.9L1131.4,1853.0L1135.4,1855.1L1139.4,1857.1L1143.4,1859.2L1147.4,1861.3L1151.4,1863.4L1155.4,1865.4L1159.4,1867.5L1163.4,1869.6L1167.4,1871.7L1171.3,1873.8L1175.3,1875.8L1179.3,1877.9L1183.3,1880.0L1187.3,1882.1L1191.3,1884.2L1195.3,1886.3L1199.3,1888.4L1203.2,1890.5L1207.2,1892.5L1211.2,1894.6L1215.2,1896.7L1219.2,1898.9L1223.1,1901.0L1227.1,1903.1L1231.1,1905.2L1235.1,1907.3L1239.0,1909.4L1243.0,1911.5L1247.0,1913.7L1250.9,1915.8L1254.9,1917.9L1258.8,1920.1L1262.8,1922.2L1266.8,1924.3L1270.7,1926.5L1274.7,1928.6L1278.6,1930.8L1282.6,1933.0L1286.5,1935.1L1290.4,1937.3L1294.4,1939.5L1298.3,1941.7L1302.2,1943.9L1306.2,1946.1L1310.1,1948.3L1314.0,1950.5L1317.9,1952.7L1321.9,1954.9L1325.8,1957.1L1329.7,1959.3L1333.6,1961.6L1337.5,1963.8L1341.4,1966.1L1345.3,1968.3L1349.2,1970.6L1353.0,1972.9L1356.9,1975.1L1360.8,1977.4L1364.7,1979.7L1368.5,1982.0L1372.4,1984.3L1376.3,1986.7L1380.1,1989.0L1384.0,1991.3L1387.8,1993.7L1391.6,1996.0L1395.5,1998.4L1399.3,2000.7L1403.1,2003.1L1406.9,2005.5L1410.8,2007.9L1414.6,2010.3L1418.4,2012.7L1422.2,2015.1L1425.9,2017.5L1429.7,2020.0L1433.5,2022.4L1437.3,2024.9L1441.0,2027.4L1444.8,2029.8L1448.5,2032.3L1452.3,2034.8L1456.0,2037.3L1459.7,2039.9L1463.4,2042.4L1467.2,2044.9L1470.9,2047.5L1474.6,2050.1L1478.3,2052.6L1481.9,2055.2L1485.6,2057.8L1489.3,2060.4L1492.9,2063.1L1496.6,2065.7L1500.2,2068.4L1503.8,2071.0L1507.5,2073.7L1511.1,2076.4L1514.7,2079.1L1518.3,2081.8L1521.9,2084.5L1525.4,2087.2L1529.0,2090.0L1532.5,2092.7L1536.1,2095.5L1539.6,2098.3L1543.1,2101.1L1546.7,2103.9L1550.2,2106.7L1553.6,2109.6L1557.1,2112.4L1560.6,2115.3L1564.1,2118.2L1567.5,2121.1L1570.9,2124.0L1574.4,2126.9L1577.8,2129.8L1581.2,2132.8L1584.5,2135.8L1587.9,2138.7L1591.3,2141.7L1594.6,2144.8L1597.9,2147.8L1601.3,2150.8L1604.6,2153.9L1607.9,2156.9L1611.1,2160.0L1614.4,2163.1L1617.7,2166.2L1620.9,2169.4L1624.1,2172.5L1627.3,2175.7L1630.5,2178.8L1633.7,2182.0L1636.8,2185.2L1640.0,2188.4L1643.1,2191.7L1646.2,2194.9L1649.3,2198.2L1650.1,2199.0 L1948.5,2101.4L1946.5,2098.5L1943.9,2094.9L1941.3,2091.2L1938.6,2087.6L1935.9,2084.0L1933.2,2080.4L1930.4,2076.9L1927.7,2073.3L1924.8,2069.8L1922.0,2066.3L1919.1,2062.9L1916.2,2059.4L1913.3,2056.0L1910.4,2052.6L1907.4,2049.2L1904.4,2045.9L1901.4,2042.5L1898.3,2039.2L1895.3,2035.9L1892.2,2032.7L1889.0,2029.4L1885.9,2026.2L1882.7,2023.0L1879.6,2019.8L1876.4,2016.6L1873.1,2013.5L1869.9,2010.4L1866.6,2007.3L1863.3,2004.2L1860.0,2001.2L1856.7,1998.1L1853.4,1995.1L1850.0,1992.1L1846.6,1989.1L1843.2,1986.2L1839.8,1983.2L1836.4,1980.3L1833.0,1977.4L1829.5,1974.5L1826.0,1971.7L1822.6,1968.8L1819.1,1966.0L1815.5,1963.2L1812.0,1960.4L1808.5,1957.6L1804.9,1954.9L1801.4,1952.1L1797.8,1949.4L1794.2,1946.7L1790.6,1944.0L1787.0,1941.3L1783.4,1938.6L1779.7,1936.0L1776.1,1933.3L1772.4,1930.7L1768.8,1928.1L1765.1,1925.5L1761.4,1922.9L1757.7,1920.3L1754.0,1917.7L1750.3,1915.2L1746.6,1912.6L1742.9,1910.1L1739.2,1907.6L1735.4,1905.1L1731.7,1902.6L1727.9,1900.1L1724.2,1897.6L1720.4,1895.1L1716.7,1892.7L1712.9,1890.2L1709.1,1887.7L1705.3,1885.3L1701.6,1882.9L1697.8,1880.5L1694.0,1878.0L1690.2,1875.6L1686.4,1873.2L1682.6,1870.8L1678.7,1868.4L1674.9,1866.0L1671.1,1863.7L1667.3,1861.3L1663.4,1858.9L1659.6,1856.6L1655.8,1854.2L1651.9,1851.9L1648.1,1849.6L1644.2,1847.2L1640.4,1844.9L1636.5,1842.6L1632.7,1840.3L1628.8,1838.0L1624.9,1835.7L1621.1,1833.4L1617.2,1831.1L1613.3,1828.8L1609.4,1826.5L1605.5,1824.3L1601.6,1822.0L1597.8,1819.7L1593.9,1817.5L1590.0,1815.3L1586.1,1813.0L1582.1,1810.8L1578.2,1808.5L1574.3,1806.3L1570.4,1804.1L1566.5,1801.9L1562.6,1799.7L1558.7,1797.5L1554.7,1795.3L1550.8,1793.1L1546.9,1790.9L1542.9,1788.7L1539.0,1786.5L1535.1,1784.3L1531.1,1782.2L1527.2,1780.0L1523.2,1777.8L1519.3,1775.7L1515.3,1773.5L1511.4,1771.4L1507.4,1769.2L1503.5,1767.1L1499.5,1764.9L1495.5,1762.8L1491.6,1760.7L1487.6,1758.6L1483.7,1756.4L1479.7,1754.3L1475.7,1752.2L1471.7,1750.1L1467.8,1748.0L1463.8,1745.9L1459.8,1743.8L1455.8,1741.6L1451.9,1739.6L1447.9,1737.5L1443.9,1735.4L1439.9,1733.3L1435.9,1731.2L1431.9,1729.1L1427.9,1727.0L1423.9,1724.9L1420.0,1722.9L1416.0,1720.8L1412.0,1718.7L1408.0,1716.6L1404.0,1714.6L1400.0,1712.5L1396.0,1710.4L1392.0,1708.4L1388.0,1706.3L1384.0,1704.3L1380.0,1702.2L1376.0,1700.1L1372.0,1698.1L1368.0,1696.0L1364.0,1694.0L1360.0,1691.9L1356.0,1689.9L1351.9,1687.8L1347.9,1685.8L1343.9,1683.7L1339.9,1681.7L1335.9,1679.6L1331.9,1677.6L1327.9,1675.6L1323.9,1673.5L1319.9,1671.5L1315.9,1669.4L1311.9,1667.4L1307.9,1665.3L1303.8,1663.3L1299.8,1661.3L1295.8,1659.2L1291.8,1657.2L1287.8,1655.1L1283.8,1653.1L1279.8,1651.0L1275.8,1649.0L1271.8,1647.0L1267.8,1644.9L1263.7,1642.9L1259.7,1640.8L1255.7,1638.8L1251.7,1636.7L1247.7,1634.7L1243.7,1632.6L1239.7,1630.6L1235.7,1628.5L1231.7,1626.5L1227.7,1624.4L1223.7,1622.4L1219.7,1620.3L1215.7,1618.3L1211.7,1616.2L1207.7,1614.1L1203.7,1612.1L1199.7,1610.0L1195.7,1607.9L1191.7,1605.9L1187.7,1603.8L1183.7,1601.7L1179.7,1599.7L1175.7,1597.6L1171.7,1595.5L1167.7,1593.4L1163.7,1591.3L1159.8,1589.2L1155.8,1587.2L1151.8,1585.1L1147.8,1583.0L1143.8,1580.9L1139.8,1578.8L1135.9,1576.7L1131.9,1574.6L1127.9,1572.5L1123.9,1570.3L1120.0,1568.2L1116.0,1566.1L1112.0,1564.0L1108.1,1561.9L1104.1,1559.7L1100.1,1557.6L1096.2,1555.5L1092.2,1553.3L1088.3,1551.2L1084.3,1549.0L1080.4,1546.9L1076.4,1544.7L1072.5,1542.5L1068.5,1540.4L1064.6,1538.2L1060.6,1536.0L1056.7,1533.9L1052.8,1531.7L1048.8,1529.5L1044.9,1527.3L1041.0,1525.1L1037.0,1522.9L1033.1,1520.7L1029.2,1518.5L1025.3,1516.3L1021.4,1514.1L1017.4,1511.9L1013.5,1509.6L1009.6,1507.4L1005.7,1505.2L1001.8,1503.0L997.9,1500.7L994.0,1498.5L990.1,1496.2L986.2,1494.0L982.3,1491.7L978.4,1489.5L974.5,1487.2L970.6,1484.9L966.8,1482.7L962.9,1480.4L959.0,1478.1L955.1,1475.8L951.2,1473.5L947.4,1471.2L943.5,1468.9L939.6,1466.6L935.8,1464.3L931.9,1462.0L928.1,1459.7L924.2,1457.4L920.4,1455.0L916.5,1452.7L912.7,1450.4L908.8,1448.0L905.0,1445.7L901.1,1443.3L897.3,1441.0L893.5,1438.6L889.6,1436.3L885.8,1433.9L882.0,1431.5L878.2,1429.1L874.4,1426.8L870.5,1424.4L866.7,1422.0L862.9,1419.6L859.1,1417.2L855.3,1414.8L851.5,1412.4L847.7,1409.9L843.9,1407.5L840.1,1405.1L836.3,1402.7L832.6,1400.2L828.8,1397.8L825.0,1395.3L821.2,1392.9L817.5,1390.4L813.7,1388.0L809.9,1385.5L806.2,1383.0L802.4,1380.5L798.7,1378.1L794.9,1375.6L791.2,1373.1L787.4,1370.6L783.7,1368.1L779.9,1365.6L776.2,1363.1L772.5,1360.6L768.8,1358.0L765.0,1355.5L761.3,1353.0L757.6,1350.4L753.9,1347.9L750.2,1345.3L746.5,1342.8L742.8,1340.2L739.1,1337.7L735.4,1335.1L731.7,1332.5L728.0,1329.9L724.3,1327.3L720.6,1324.7L717.0,1322.1L713.3,1319.5L709.6,1316.9L706.0,1314.3L702.3,1311.7L698.7,1309.1L695.0,1306.4L691.4,1303.8L687.7,1301.2L684.1,1298.5L680.4,1295.9L676.8,1293.2L673.2,1290.5L669.6,1287.9L665.9,1285.2L662.3,1282.5L658.7,1279.8L655.1,1277.1L651.5,1274.4L647.9,1271.7L644.3,1269.0L640.7,1266.3L637.1,1263.6L633.6,1260.9L630.0,1258.1L626.4,1255.4L622.9,1252.7L619.3,1249.9L615.7,1247.2L612.2,1244.4L608.6,1241.6L605.1,1238.9L601.5,1236.1L598.0,1233.3L594.5,1230.5L591.0,1227.7L587.4,1224.9L583.9,1222.1L580.4,1219.3L576.9,1216.5L573.4,1213.6L569.9,1210.8L566.4,1208.0L562.9,1205.1L559.4,1202.3L556.0,1199.4L552.5,1196.6L549.0,1193.7L545.6,1190.8L542.1,1187.9L538.7,1185.0L535.2,1182.1L531.8,1179.2L528.4,1176.3L524.9,1173.4L521.5,1170.4L518.1,1167.5L514.8,1164.5L511.4,1161.5L508.0,1158.5L504.7,1155.5L501.3,1152.5L498.0,1149.5L494.7,1146.4L491.4,1143.4L488.1,1140.3L484.9,1137.2L481.6,1134.0L478.4,1130.9L475.2,1127.8L472.0,1124.6L468.9,1121.4L465.7,1118.2L462.6,1114.9L459.5,1111.7L456.4,1108.4L453.3,1105.1L450.3,1101.8L447.3,1098.5L444.3,1095.1L441.3,1091.7L438.4,1088.3L435.4,1084.9L432.6,1081.4L429.7,1078.0L426.9,1074.5L424.1,1070.9L421.3,1067.4L418.5,1063.8L415.8,1060.2L413.1,1056.6L410.5,1053.0L407.8,1049.4L405.3,1045.7L402.7,1042.0L400.2,1038.2L397.7,1034.5L395.3,1030.7L392.9,1026.9L390.5,1023.1L388.2,1019.2L385.9,1015.3L383.7,1011.4L381.5,1007.5L379.4,1003.5L377.3,999.5L375.3,995.5L373.3,991.4L371.4,987.4L369.6,983.3L367.8,979.1L366.1,974.9L364.5,970.8L362.9,966.5L361.5,962.3L360.1,958.0L358.8,953.7L357.6,949.4L356.5,945.0L355.5,940.6L354.6,936.2L353.8,931.8L353.1,927.3L352.5,922.9L352.1,918.4L351.8,913.9L351.7,909.4L351.7,904.9L351.8,900.4L352.1,895.9L352.6,891.4L353.2,887.0L354.0,882.5L355.0,878.1L356.1,873.8L357.4,869.5L358.8,865.2L360.4,861.0L362.2,856.9L364.1,852.8L366.1,848.8L368.3,844.8L370.5,840.9L372.9,837.1L375.4,833.4L378.0,829.7L380.6,826.0L383.4,822.5L386.2,819.0L389.1,815.6L392.1,812.2L395.2,808.9L398.3,805.6L401.5,802.4L404.7,799.3L408.0,796.2L411.3,793.2L414.7,790.3L418.2,787.4L421.7,784.6L425.2,781.8L428.8,779.0L432.4,776.4L436.0,773.7L439.7,771.2L443.4,768.6L447.2,766.1L451.0,763.7L454.8,761.3L458.6,759.0L462.5,756.7L466.4,754.4L470.3,752.2L474.2,750.0L478.2,747.8L482.2,745.7L486.1,743.6L490.2,741.6L494.2,739.6L498.2,737.6L502.3,735.6L506.3,733.7L510.4,731.7L514.5,729.9L518.6,728.0L522.7,726.1L526.8,724.3L530.9,722.5L535.0,720.7L539.2,718.9L543.3,717.2L547.4,715.4L551.6,713.7L555.8,712.0L559.9,710.3L564.1,708.6L568.3,706.9L572.5,705.3L576.7,703.7L580.9,702.0L585.1,700.4L589.3,698.9L593.5,697.3L597.7,695.7L602.0,694.2L606.2,692.7L610.4,691.2L614.7,689.7L618.9,688.2L623.2,686.7L627.4,685.3L631.7,683.8L636.0,682.4L640.2,681.0L644.5,679.6L648.8,678.2L653.1,676.8L657.4,675.4L661.7,674.1L666.0,672.8L670.3,671.4L674.6,670.1L678.9,668.8L683.2,667.5L687.5,666.2L691.8,665.0L696.1,663.7L700.4,662.4L704.8,661.2L709.1,659.9L713.4,658.7L717.8,657.5L722.1,656.3L726.4,655.1L730.8,653.9L735.1,652.7L739.4,651.5L743.8,650.3L748.1,649.2L752.5,648.0L756.8,646.8L761.2,645.7L765.5,644.5L769.9,643.4L774.2,642.3L778.6,641.1L782.9,640.0L787.3,638.9L791.7,637.7L796.0,636.6L800.4,635.5L804.7,634.4L809.1,633.2L813.4,632.1L817.8,631.0L822.2,629.9L826.5,628.8L830.9,627.7L835.2,626.6L839.6,625.5L844.0,624.3L848.3,623.2L852.7,622.1L857.0,621.0L861.4,619.9L865.8,618.8L867.2,618.4 L867.2,618.4 C872.7,615.3 892.0,613.1 900.0,600.0 C908.0,586.9 914.2,570.0 915.0,540.0 C915.8,510.0 912.5,453.3 905.0,420.0 C897.5,386.7 882.5,357.0 870.0,340.0 C857.5,323.0 847.0,320.5 830.0,318.0 C813.0,315.5 778.1,323.9 767.8,325.0 Z" fill="#2c2c2c"/>
<g clip-path="url(#cb)"><g filter="url(#b4)">
<path d="M761.8,307.4L743.5,312.5L853.9,640.9L873.2,636.0Z" fill="url(#g0)"/>
<path d="M750.4,310.6L732.1,315.7L841.8,644.0L861.1,639.1Z" fill="url(#g1)"/>
<path d="M738.9,313.8L720.7,318.9L829.7,647.1L849.0,642.1Z" fill="url(#g2)"/>
<path d="M727.5,317.0L709.3,322.2L817.6,650.1L837.0,645.2Z" fill="url(#g3)"/>
<path d="M716.1,320.2L697.8,325.4L805.6,653.2L824.9,648.3Z" fill="url(#g4)"/>
<path d="M704.7,323.5L686.5,328.7L793.5,656.3L812.8,651.3Z" fill="url(#g5)"/>
<path d="M693.3,326.7L675.1,332.0L781.4,659.4L800.7,654.4Z" fill="url(#g6)"/>
<path d="M681.9,330.0L663.7,335.4L769.4,662.5L788.7,657.5Z" fill="url(#g7)"/>
<path d="M670.5,333.4L652.3,338.8L757.3,665.7L776.6,660.7Z" fill="url(#g8)"/>
<path d="M659.1,336.8L641.0,342.3L745.3,669.0L764.5,663.8Z" fill="url(#g9)"/>
<path d="M647.8,340.2L629.7,345.8L733.3,672.2L752.5,667.0Z" fill="url(#g10)"/>
<path d="M636.4,343.7L618.3,349.3L721.2,675.6L740.5,670.2Z" fill="url(#g11)"/>
<path d="M625.1,347.2L607.0,352.9L709.3,678.9L728.4,673.5Z" fill="url(#g12)"/>
<path d="M613.8,350.8L596.1,356.5L698.7,682.0L716.4,676.9Z" fill="url(#g13)"/>
<path d="M602.5,354.4L585.5,360.0L689.1,684.8L704.5,680.3Z" fill="url(#g14)"/>
<path d="M591.9,357.9L574.9,363.6L679.5,687.7L694.9,683.1Z" fill="url(#g15)"/>
<path d="M581.2,361.4L564.3,367.2L669.9,690.6L685.3,685.9Z" fill="url(#g16)"/>
<path d="M570.6,365.0L553.7,370.9L660.4,693.6L675.7,688.8Z" fill="url(#g17)"/>
<path d="M560.0,368.7L543.1,374.7L650.9,696.6L666.1,691.8Z" fill="url(#g18)"/>
<path d="M549.5,372.4L532.6,378.5L641.3,699.8L656.6,694.8Z" fill="url(#g19)"/>
<path d="M538.9,376.2L522.1,382.4L631.9,702.9L647.0,697.9Z" fill="url(#g20)"/>
<path d="M528.4,380.1L511.6,386.4L622.4,706.2L637.5,701.0Z" fill="url(#g21)"/>
<path d="M517.9,384.0L501.2,390.5L612.9,709.5L628.1,704.2Z" fill="url(#g22)"/>
<path d="M507.4,388.0L490.8,394.6L603.5,712.9L618.6,707.5Z" fill="url(#g23)"/>
<path d="M497.0,392.1L480.4,398.9L594.1,716.3L609.2,710.8Z" fill="url(#g24)"/>
<path d="M486.6,396.3L470.1,403.2L584.8,719.9L599.8,714.2Z" fill="url(#g25)"/>
<path d="M476.3,400.6L459.8,407.6L575.4,723.5L590.4,717.7Z" fill="url(#g26)"/>
<path d="M465.9,404.9L451.1,411.4L568.7,726.2L581.0,721.3Z" fill="url(#g27)"/>
<path d="M455.6,409.4L443.5,414.8L563.7,728.2L571.7,725.0Z" fill="url(#g28)"/>
<path d="M448.0,412.7L436.0,418.2L558.7,730.2L566.7,727.0Z" fill="url(#g29)"/>
<path d="M440.5,416.1L428.4,421.7L553.6,732.3L561.7,729.0Z" fill="url(#g30)"/>
<path d="M432.9,419.6L420.9,425.2L548.6,734.4L556.6,731.0Z" fill="url(#g31)"/>
<path d="M425.4,423.1L413.4,428.8L543.7,736.5L551.6,733.1Z" fill="url(#g32)"/>
<path d="M417.9,426.7L406.0,432.5L538.7,738.6L546.6,735.2Z" fill="url(#g33)"/>
<path d="M410.5,430.3L398.6,436.2L533.7,740.8L541.7,737.3Z" fill="url(#g34)"/>
<path d="M403.0,434.0L391.2,440.0L528.7,743.0L536.7,739.5Z" fill="url(#g35)"/>
<path d="M395.6,437.7L383.8,443.8L523.8,745.2L531.7,741.6Z" fill="url(#g36)"/>
<path d="M388.2,441.5L376.5,447.7L518.9,747.4L526.8,743.8Z" fill="url(#g37)"/>
<path d="M380.9,445.4L369.2,451.7L514.0,749.7L521.8,746.1Z" fill="url(#g38)"/>
<path d="M373.6,449.3L361.9,455.7L509.1,752.0L516.9,748.3Z" fill="url(#g39)"/>
<path d="M366.3,453.2L354.7,459.8L504.2,754.4L512.0,750.6Z" fill="url(#g40)"/>
<path d="M359.0,457.3L346.1,464.7L499.0,756.9L507.1,752.9Z" fill="url(#g41)"/>
<path d="M351.8,461.4L336.5,470.4L493.6,759.7L502.2,755.3Z" fill="url(#g42)"/>
<path d="M342.2,467.0L327.1,476.2L488.2,762.4L496.8,758.0Z" fill="url(#g43)"/>
<path d="M332.7,472.7L317.7,482.0L482.9,765.3L491.4,760.8Z" fill="url(#g44)"/>
<path d="M323.3,478.5L308.3,488.0L477.6,768.2L486.1,763.6Z" fill="url(#g45)"/>
<path d="M313.9,484.4L299.1,494.1L472.3,771.2L480.7,766.4Z" fill="url(#g46)"/>
<path d="M304.6,490.4L289.9,500.4L467.1,774.3L475.5,769.4Z" fill="url(#g47)"/>
<path d="M295.4,496.6L280.8,506.7L461.9,777.4L470.2,772.4Z" fill="url(#g48)"/>
<path d="M286.2,502.9L271.8,513.2L456.8,780.7L465.0,775.5Z" fill="url(#g49)"/>
<path d="M277.2,509.3L262.9,519.8L451.8,784.0L459.9,778.7Z" fill="url(#g50)"/>
<path d="M268.2,515.8L254.1,526.5L446.8,787.4L454.8,782.0Z" fill="url(#g51)"/>
<path d="M259.3,522.5L245.4,533.4L441.8,791.0L449.8,785.4Z" fill="url(#g52)"/>
<path d="M250.6,529.3L236.8,540.4L437.0,794.6L444.8,788.8Z" fill="url(#g53)"/>
<path d="M241.9,536.2L228.3,547.5L432.2,798.3L439.9,792.4Z" fill="url(#g54)"/>
<path d="M233.3,543.2L220.7,554.1L428.6,801.2L435.1,796.0Z" fill="url(#g55)"/>
<path d="M224.9,550.4L213.8,560.3L425.8,803.5L430.3,799.8Z" fill="url(#g56)"/>
<path d="M217.9,556.6L206.9,566.6L423.1,805.9L427.5,802.1Z" fill="url(#g57)"/>
<path d="M211.0,562.8L200.1,573.0L420.3,808.4L424.7,804.5Z" fill="url(#g58)"/>
<path d="M204.2,569.1L193.5,579.5L417.6,810.9L422.0,806.9Z" fill="url(#g59)"/>
<path d="M197.5,575.5L186.9,586.1L415.0,813.4L419.2,809.4Z" fill="url(#g60)"/>
<path d="M190.8,582.1L180.5,592.8L412.3,815.9L416.5,811.8Z" fill="url(#g61)"/>
<path d="M184.3,588.7L174.1,599.6L409.8,818.5L413.9,814.4Z" fill="url(#g62)"/>
<path d="M177.9,595.5L167.9,606.5L407.2,821.2L411.3,817.0Z" fill="url(#g63)"/>
<path d="M171.6,602.3L161.8,613.5L404.8,823.9L408.7,819.6Z" fill="url(#g64)"/>
<path d="M165.4,609.3L155.8,620.6L402.3,826.6L406.2,822.2Z" fill="url(#g65)"/>
<path d="M159.4,616.3L150.0,627.9L399.9,829.4L403.8,825.0Z" fill="url(#g66)"/>
<path d="M153.5,623.5L144.3,635.2L397.6,832.2L401.4,827.7Z" fill="url(#g67)"/>
<path d="M147.7,630.8L138.7,642.6L395.3,835.1L399.0,830.5Z" fill="url(#g68)"/>
<path d="M142.0,638.2L134.0,649.2L393.7,837.2L396.7,833.4Z" fill="url(#g69)"/>
<path d="M136.5,645.6L129.8,655.1L392.6,838.8L394.4,836.2Z" fill="url(#g70)"/>
<path d="M132.3,651.5L125.8,661.1L391.4,840.4L393.3,837.8Z" fill="url(#g71)"/>
<path d="M128.2,657.5L121.8,667.2L390.3,842.0L392.1,839.4Z" fill="url(#g72)"/>
<path d="M124.2,663.6L118.0,673.4L389.2,843.6L391.0,841.0Z" fill="url(#g73)"/>
<path d="M120.2,669.7L114.2,679.6L388.1,845.2L389.8,842.6Z" fill="url(#g74)"/>
<path d="M116.4,675.8L110.6,685.8L387.0,846.9L388.7,844.2Z" fill="url(#g75)"/>
<path d="M112.7,682.0L107.0,692.1L385.9,848.5L387.6,845.9Z" fill="url(#g76)"/>
<path d="M109.1,688.3L103.6,698.5L384.9,850.2L386.6,847.5Z" fill="url(#g77)"/>
<path d="M105.6,694.7L100.2,704.9L383.9,851.9L385.5,849.2Z" fill="url(#g78)"/>
<path d="M102.2,701.1L97.0,711.4L382.9,853.6L384.5,850.9Z" fill="url(#g79)"/>
<path d="M98.9,707.5L93.9,718.0L382.0,855.3L383.5,852.6Z" fill="url(#g80)"/>
<path d="M95.7,714.0L90.9,724.6L381.0,857.1L382.5,854.3Z" fill="url(#g81)"/>
<path d="M92.6,720.6L88.0,731.2L380.1,858.8L381.6,856.0Z" fill="url(#g82)"/>
<path d="M89.7,727.2L85.4,737.5L379.3,860.5L380.7,857.8Z" fill="url(#g83)"/>
<path d="M86.8,733.9L83.0,743.5L378.5,862.3L379.8,859.5Z" fill="url(#g84)"/>
<path d="M84.4,739.8L80.7,749.5L377.7,864.0L378.9,861.2Z" fill="url(#g85)"/>
<path d="M82.0,745.9L78.5,755.6L376.9,865.7L378.1,862.9Z" fill="url(#g86)"/>
<path d="M79.8,751.9L76.4,761.7L376.2,867.5L377.3,864.7Z" fill="url(#g87)"/>
<path d="M77.6,758.0L74.3,767.8L375.5,869.2L376.6,866.4Z" fill="url(#g88)"/>
<path d="M75.5,764.1L72.4,774.0L374.8,871.0L375.9,868.2Z" fill="url(#g89)"/>
<path d="M73.6,770.3L70.6,780.2L374.2,872.8L375.2,869.9Z" fill="url(#g90)"/>
<path d="M71.7,776.4L68.9,786.4L373.6,874.6L374.5,871.7Z" fill="url(#g91)"/>
<path d="M69.9,782.7L67.3,792.6L373.0,876.4L373.9,873.5Z" fill="url(#g92)"/>
<path d="M68.2,788.9L65.8,798.9L372.4,878.2L373.3,875.3Z" fill="url(#g93)"/>
<path d="M66.7,795.2L64.4,805.2L371.9,880.1L372.8,877.1Z" fill="url(#g94)"/>
<path d="M65.2,801.4L63.1,811.6L371.5,881.9L372.2,879.0Z" fill="url(#g95)"/>
<path d="M63.8,807.8L61.9,817.9L371.0,883.8L371.8,880.8Z" fill="url(#g96)"/>
<path d="M62.6,814.1L60.8,823.9L370.7,885.4L371.3,882.6Z" fill="url(#g97)"/>
<path d="M61.4,820.4L59.9,829.8L370.4,886.8L370.9,884.5Z" fill="url(#g98)"/>
<path d="M60.5,826.3L59.1,835.7L370.1,888.3L370.6,885.9Z" fill="url(#g99)"/>
<path d="M59.6,832.1L58.4,841.5L369.9,889.7L370.3,887.4Z" fill="url(#g100)"/>
<path d="M58.8,838.0L57.8,847.4L369.6,891.2L370.0,888.8Z" fill="url(#g101)"/>
<path d="M58.1,843.9L57.3,853.3L369.4,892.6L369.8,890.3Z" fill="url(#g102)"/>
<path d="M57.5,849.8L56.8,859.2L369.2,894.1L369.6,891.8Z" fill="url(#g103)"/>
<path d="M57.1,855.7L56.5,865.1L369.1,895.6L369.4,893.2Z" fill="url(#g104)"/>
<path d="M56.7,861.6L56.3,871.0L368.9,897.0L369.2,894.7Z" fill="url(#g105)"/>
<path d="M56.4,867.5L56.1,876.9L368.8,898.5L369.0,896.2Z" fill="url(#g106)"/>
<path d="M56.2,873.4L56.1,882.9L368.7,900.0L368.9,897.6Z" fill="url(#g107)"/>
<path d="M56.1,879.3L56.2,888.8L368.6,901.5L368.7,899.1Z" fill="url(#g108)"/>
<path d="M56.1,885.2L56.3,894.7L368.5,902.9L368.6,900.6Z" fill="url(#g109)"/>
<path d="M56.2,891.1L56.6,900.6L368.4,904.4L368.5,902.0Z" fill="url(#g110)"/>
<path d="M56.4,897.1L57.0,906.7L368.4,906.5L368.4,903.5Z" fill="url(#g111)"/>
<path d="M56.7,903.0L57.4,912.8L368.4,909.1L368.4,905.0Z" fill="url(#g112)"/>
<path d="M57.1,909.1L58.0,919.0L368.4,911.7L368.3,907.6Z" fill="url(#g113)"/>
<path d="M57.6,915.3L58.7,925.2L368.5,914.3L368.4,910.2Z" fill="url(#g114)"/>
<path d="M58.2,921.5L59.4,931.3L368.6,916.9L368.4,912.8Z" fill="url(#g115)"/>
<path d="M58.9,927.6L60.3,937.4L368.8,919.5L368.5,915.4Z" fill="url(#g116)"/>
<path d="M59.7,933.8L61.2,943.6L369.1,922.1L368.7,918.0Z" fill="url(#g117)"/>
<path d="M60.6,939.9L62.3,949.7L369.4,924.7L368.9,920.5Z" fill="url(#g118)"/>
<path d="M61.6,946.0L63.4,955.8L369.7,927.2L369.2,923.1Z" fill="url(#g119)"/>
<path d="M62.7,952.1L64.6,961.8L370.1,929.8L369.5,925.7Z" fill="url(#g120)"/>
<path d="M63.8,958.2L65.9,967.9L370.5,932.4L369.9,928.3Z" fill="url(#g121)"/>
<path d="M65.1,964.3L67.2,973.9L371.0,934.9L370.3,930.8Z" fill="url(#g122)"/>
<path d="M66.4,970.3L68.7,980.0L371.5,937.4L370.7,933.4Z" fill="url(#g123)"/>
<path d="M67.8,976.4L70.2,986.0L372.0,940.0L371.2,935.9Z" fill="url(#g124)"/>
<path d="M69.3,982.4L71.8,992.1L372.6,942.6L371.7,938.5Z" fill="url(#g125)"/>
<path d="M70.8,988.4L73.6,998.4L373.3,945.2L372.3,941.0Z" fill="url(#g126)"/>
<path d="M72.5,994.7L75.5,1004.7L374.0,947.8L372.9,943.6Z" fill="url(#g127)"/>
<path d="M74.3,1000.9L77.4,1010.9L374.7,950.4L373.6,946.2Z" fill="url(#g128)"/>
<path d="M76.2,1007.2L79.4,1017.1L375.5,952.9L374.3,948.8Z" fill="url(#g129)"/>
<path d="M78.2,1013.4L81.5,1023.3L376.2,955.5L375.0,951.4Z" fill="url(#g130)"/>
<path d="M80.2,1019.6L83.6,1029.5L377.1,958.1L375.8,954.0Z" fill="url(#g131)"/>
<path d="M82.3,1025.8L85.8,1035.6L377.9,960.6L376.6,956.5Z" fill="url(#g132)"/>
<path d="M84.5,1031.9L88.1,1041.7L378.8,963.1L377.4,959.1Z" fill="url(#g133)"/>
<path d="M86.7,1038.1L90.5,1047.8L379.7,965.7L378.3,961.6Z" fill="url(#g134)"/>
<path d="M89.0,1044.2L92.9,1053.9L380.7,968.2L379.2,964.2Z" fill="url(#g135)"/>
<path d="M91.4,1050.3L95.4,1059.9L381.7,970.7L380.1,966.7Z" fill="url(#g136)"/>
<path d="M93.9,1056.3L97.9,1065.9L382.7,973.2L381.1,969.2Z" fill="url(#g137)"/>
<path d="M96.4,1062.3L100.5,1071.9L383.7,975.7L382.1,971.7Z" fill="url(#g138)"/>
<path d="M98.9,1068.3L103.4,1078.2L385.1,978.8L383.1,974.2Z" fill="url(#g139)"/>
<path d="M101.6,1074.3L106.3,1084.7L386.7,982.3L384.1,976.6Z" fill="url(#g140)"/>
<path d="M104.5,1080.8L109.4,1091.1L388.3,985.9L385.7,980.2Z" fill="url(#g141)"/>
<path d="M107.6,1087.3L112.5,1097.5L390.0,989.4L387.3,983.8Z" fill="url(#g142)"/>
<path d="M110.6,1093.7L115.7,1103.9L391.8,992.9L389.0,987.3Z" fill="url(#g143)"/>
<path d="M113.8,1100.1L119.0,1110.3L393.5,996.3L390.7,990.8Z" fill="url(#g144)"/>
<path d="M117.0,1106.5L122.4,1116.6L395.4,999.8L392.5,994.3Z" fill="url(#g145)"/>
<path d="M120.3,1112.8L125.8,1122.8L397.2,1003.2L394.3,997.7Z" fill="url(#g146)"/>
<path d="M123.7,1119.1L129.2,1129.1L399.1,1006.6L396.1,1001.2Z" fill="url(#g147)"/>
<path d="M127.1,1125.3L132.8,1135.3L401.1,1010.0L398.0,1004.6Z" fill="url(#g148)"/>
<path d="M130.6,1131.6L136.4,1141.4L403.1,1013.3L399.9,1008.0Z" fill="url(#g149)"/>
<path d="M134.2,1137.8L140.0,1147.6L405.1,1016.7L401.9,1011.3Z" fill="url(#g150)"/>
<path d="M137.8,1143.9L143.7,1153.7L407.1,1020.0L403.9,1014.7Z" fill="url(#g151)"/>
<path d="M141.5,1150.0L147.5,1159.7L409.2,1023.3L405.9,1018.0Z" fill="url(#g152)"/>
<path d="M145.2,1156.1L151.6,1166.1L411.8,1027.3L408.0,1021.3Z" fill="url(#g153)"/>
<path d="M149.1,1162.1L155.9,1172.7L414.7,1031.7L410.1,1024.6Z" fill="url(#g154)"/>
<path d="M153.3,1168.7L160.3,1179.2L417.7,1036.1L413.0,1029.1Z" fill="url(#g155)"/>
<path d="M157.6,1175.3L164.7,1185.7L420.8,1040.5L415.9,1033.5Z" fill="url(#g156)"/>
<path d="M162.0,1181.8L169.2,1192.1L423.9,1044.8L419.0,1037.9Z" fill="url(#g157)"/>
<path d="M166.5,1188.2L173.8,1198.5L427.1,1049.1L422.0,1042.2Z" fill="url(#g158)"/>
<path d="M171.0,1194.6L178.4,1204.8L430.2,1053.4L425.2,1046.5Z" fill="url(#g159)"/>
<path d="M175.6,1201.0L183.1,1211.1L433.5,1057.6L428.3,1050.8Z" fill="url(#g160)"/>
<path d="M180.3,1207.3L187.9,1217.3L436.8,1061.8L431.5,1055.1Z" fill="url(#g161)"/>
<path d="M185.0,1213.6L192.7,1223.5L440.1,1066.0L434.8,1059.3Z" fill="url(#g162)"/>
<path d="M189.8,1219.8L197.6,1229.7L443.5,1070.1L438.1,1063.5Z" fill="url(#g163)"/>
<path d="M194.6,1226.0L202.5,1235.8L446.9,1074.2L441.4,1067.6Z" fill="url(#g164)"/>
<path d="M199.5,1232.1L207.5,1241.8L450.3,1078.3L444.8,1071.8Z" fill="url(#g165)"/>
<path d="M204.5,1238.2L212.5,1247.9L453.8,1082.3L448.2,1075.8Z" fill="url(#g166)"/>
<path d="M209.5,1244.3L217.9,1254.1L457.6,1086.6L451.7,1079.9Z" fill="url(#g167)"/>
<path d="M214.6,1250.3L223.5,1260.5L461.5,1091.1L455.2,1083.9Z" fill="url(#g168)"/>
<path d="M220.1,1256.7L229.1,1266.9L465.6,1095.5L459.1,1088.4Z" fill="url(#g169)"/>
<path d="M225.7,1263.1L234.8,1273.2L469.6,1099.8L463.1,1092.8Z" fill="url(#g170)"/>
<path d="M231.4,1269.4L240.6,1279.4L473.8,1104.2L467.2,1097.2Z" fill="url(#g171)"/>
<path d="M237.1,1275.7L246.4,1285.6L477.9,1108.5L471.3,1101.6Z" fill="url(#g172)"/>
<path d="M242.9,1281.9L252.2,1291.8L482.1,1112.7L475.4,1105.9Z" fill="url(#g173)"/>
<path d="M248.7,1288.1L258.1,1297.9L486.3,1116.9L479.6,1110.2Z" fill="url(#g174)"/>
<path d="M254.6,1294.2L264.1,1303.9L490.6,1121.1L483.8,1114.4Z" fill="url(#g175)"/>
<path d="M260.5,1300.3L270.1,1309.9L494.9,1125.3L488.0,1118.6Z" fill="url(#g176)"/>
<path d="M266.5,1306.3L276.2,1315.9L499.2,1129.4L492.3,1122.8Z" fill="url(#g177)"/>
<path d="M272.5,1312.3L282.3,1321.8L503.5,1133.5L496.6,1126.9Z" fill="url(#g178)"/>
<path d="M278.6,1318.2L288.4,1327.6L507.9,1137.6L500.9,1131.0Z" fill="url(#g179)"/>
<path d="M284.7,1324.1L294.6,1333.4L512.3,1141.6L505.3,1135.1Z" fill="url(#g180)"/>
<path d="M290.9,1330.0L301.7,1340.0L517.7,1146.5L509.7,1139.2Z" fill="url(#g181)"/>
<path d="M297.1,1335.8L309.4,1347.0L523.8,1151.9L514.1,1143.2Z" fill="url(#g182)"/>
<path d="M304.7,1342.8L317.1,1353.9L529.9,1157.2L520.1,1148.6Z" fill="url(#g183)"/>
<path d="M312.5,1349.8L324.9,1360.8L536.0,1162.6L526.2,1154.0Z" fill="url(#g184)"/>
<path d="M320.2,1356.7L332.8,1367.6L542.2,1167.8L532.3,1159.4Z" fill="url(#g185)"/>
<path d="M328.1,1363.5L340.7,1374.4L548.4,1173.1L538.5,1164.7Z" fill="url(#g186)"/>
<path d="M336.0,1370.3L348.7,1381.0L554.6,1178.3L544.7,1169.9Z" fill="url(#g187)"/>
<path d="M343.9,1377.0L356.7,1387.7L560.9,1183.5L550.9,1175.2Z" fill="url(#g188)"/>
<path d="M351.9,1383.7L364.8,1394.3L567.2,1188.7L557.1,1180.4Z" fill="url(#g189)"/>
<path d="M359.9,1390.3L372.9,1400.8L573.4,1193.8L563.4,1185.6Z" fill="url(#g190)"/>
<path d="M368.0,1396.9L381.1,1407.2L579.7,1199.0L569.7,1190.8Z" fill="url(#g191)"/>
<path d="M376.2,1403.4L389.3,1413.7L586.0,1204.1L575.9,1195.9Z" fill="url(#g192)"/>
<path d="M384.3,1409.8L397.5,1420.0L592.4,1209.2L582.3,1201.0Z" fill="url(#g193)"/>
<path d="M392.5,1416.2L405.8,1426.3L598.7,1214.3L588.6,1206.1Z" fill="url(#g194)"/>
<path d="M400.8,1422.6L414.4,1432.8L605.8,1219.9L594.9,1211.2Z" fill="url(#g195)"/>
<path d="M409.1,1428.9L423.2,1439.4L613.4,1225.9L601.3,1216.3Z" fill="url(#g196)"/>
<path d="M417.9,1435.5L432.0,1445.9L621.0,1231.9L608.8,1222.3Z" fill="url(#g197)"/>
<path d="M426.7,1442.0L440.9,1452.4L628.6,1237.9L616.4,1228.3Z" fill="url(#g198)"/>
<path d="M435.6,1448.5L449.8,1458.8L636.3,1243.8L624.1,1234.3Z" fill="url(#g199)"/>
<path d="M444.5,1455.0L458.8,1465.2L644.0,1249.7L631.7,1240.2Z" fill="url(#g200)"/>
<path d="M453.4,1461.4L467.8,1471.6L651.7,1255.6L639.4,1246.2Z" fill="url(#g201)"/>
<path d="M462.4,1467.8L476.8,1477.9L659.4,1261.4L647.0,1252.0Z" fill="url(#g202)"/>
<path d="M471.4,1474.1L485.8,1484.2L667.1,1267.2L654.7,1257.9Z" fill="url(#g203)"/>
<path d="M480.4,1480.4L494.9,1490.4L674.9,1273.0L662.5,1263.7Z" fill="url(#g204)"/>
<path d="M489.4,1486.7L504.0,1496.6L682.6,1278.8L670.2,1269.6Z" fill="url(#g205)"/>
<path d="M498.5,1492.9L513.1,1502.8L690.4,1284.5L678.0,1275.3Z" fill="url(#g206)"/>
<path d="M507.6,1499.1L522.2,1508.9L698.2,1290.2L685.8,1281.1Z" fill="url(#g207)"/>
<path d="M516.7,1505.3L531.3,1515.1L706.1,1295.9L693.6,1286.8Z" fill="url(#g208)"/>
<path d="M525.8,1511.4L541.1,1521.6L714.6,1302.1L701.4,1292.5Z" fill="url(#g209)"/>
<path d="M535.0,1517.5L551.4,1528.4L723.6,1308.5L709.2,1298.2Z" fill="url(#g210)"/>
<path d="M545.2,1524.3L561.6,1535.1L732.6,1314.9L718.2,1304.7Z" fill="url(#g211)"/>
<path d="M555.5,1531.1L571.9,1541.8L741.7,1321.3L727.2,1311.1Z" fill="url(#g212)"/>
<path d="M565.7,1537.8L582.2,1548.5L750.8,1327.7L736.3,1317.5Z" fill="url(#g213)"/>
<path d="M576.0,1544.5L592.5,1555.2L759.9,1334.0L745.3,1323.9Z" fill="url(#g214)"/>
<path d="M586.3,1551.2L602.8,1561.9L769.0,1340.3L754.4,1330.2Z" fill="url(#g215)"/>
<path d="M596.6,1557.9L613.1,1568.6L778.2,1346.5L763.5,1336.5Z" fill="url(#g216)"/>
<path d="M606.9,1564.6L623.4,1575.2L787.3,1352.7L772.7,1342.8Z" fill="url(#g217)"/>
<path d="M617.2,1571.2L633.7,1581.9L796.5,1358.9L781.8,1349.0Z" fill="url(#g218)"/>
<path d="M627.5,1577.9L644.1,1588.5L805.8,1365.1L791.0,1355.2Z" fill="url(#g219)"/>
<path d="M637.9,1584.5L654.4,1595.1L815.0,1371.2L800.2,1361.4Z" fill="url(#g220)"/>
<path d="M648.2,1591.1L664.8,1601.7L824.3,1377.2L809.4,1367.5Z" fill="url(#g221)"/>
<path d="M658.5,1597.8L675.1,1608.3L833.5,1383.3L818.7,1373.6Z" fill="url(#g222)"/>
<path d="M668.9,1604.3L687.5,1616.1L844.3,1390.2L828.0,1379.7Z" fill="url(#g223)"/>
<path d="M679.3,1610.9L701.2,1624.7L856.0,1397.7L837.2,1385.7Z" fill="url(#g224)"/>
<path d="M693.0,1619.6L714.9,1633.3L867.7,1405.2L848.9,1393.3Z" fill="url(#g225)"/>
<path d="M706.7,1628.2L728.7,1641.9L879.5,1412.6L860.7,1400.7Z" fill="url(#g226)"/>
<path d="M720.4,1636.8L742.4,1650.4L891.3,1420.0L872.4,1408.2Z" fill="url(#g227)"/>
<path d="M734.2,1645.3L756.2,1658.9L903.1,1427.3L884.2,1415.6Z" fill="url(#g228)"/>
<path d="M747.9,1653.8L770.0,1667.4L915.0,1434.6L896.0,1422.9Z" fill="url(#g229)"/>
<path d="M761.7,1662.3L783.9,1675.8L926.9,1441.8L907.9,1430.2Z" fill="url(#g230)"/>
<path d="M775.6,1670.7L797.7,1684.2L938.8,1449.0L919.7,1437.5Z" fill="url(#g231)"/>
<path d="M789.4,1679.2L811.6,1692.5L950.7,1456.1L931.6,1444.7Z" fill="url(#g232)"/>
<path d="M803.3,1687.5L825.5,1700.8L962.7,1463.2L943.6,1451.9Z" fill="url(#g233)"/>
<path d="M817.1,1695.9L839.4,1709.1L974.7,1470.3L955.5,1459.0Z" fill="url(#g234)"/>
<path d="M831.0,1704.2L853.4,1717.3L986.7,1477.3L967.5,1466.1Z" fill="url(#g235)"/>
<path d="M845.0,1712.4L867.3,1725.5L998.8,1484.2L979.5,1473.1Z" fill="url(#g236)"/>
<path d="M858.9,1720.6L882.2,1734.2L1013.4,1492.6L991.5,1480.1Z" fill="url(#g237)"/>
<path d="M872.9,1728.8L897.8,1743.2L1029.9,1502.0L1003.6,1487.0Z" fill="url(#g238)"/>
<path d="M888.4,1737.8L913.3,1752.1L1046.4,1511.2L1020.0,1496.4Z" fill="url(#g239)"/>
<path d="M904.0,1746.8L929.0,1761.0L1062.9,1520.4L1036.5,1505.7Z" fill="url(#g240)"/>
<path d="M919.6,1755.7L944.6,1769.8L1079.5,1529.5L1053.0,1514.9Z" fill="url(#g241)"/>
<path d="M935.2,1764.5L960.3,1778.5L1096.1,1538.6L1069.5,1524.1Z" fill="url(#g242)"/>
<path d="M950.9,1773.3L976.0,1787.2L1112.7,1547.6L1086.1,1533.2Z" fill="url(#g243)"/>
<path d="M966.5,1782.0L991.7,1795.8L1129.4,1556.5L1102.7,1542.2Z" fill="url(#g244)"/>
<path d="M982.3,1790.7L1007.5,1804.4L1146.1,1565.3L1119.4,1551.2Z" fill="url(#g245)"/>
<path d="M998.0,1799.3L1023.3,1812.9L1162.8,1574.1L1136.1,1560.0Z" fill="url(#g246)"/>
<path d="M1013.8,1807.8L1039.1,1821.4L1179.6,1582.9L1152.8,1568.9Z" fill="url(#g247)"/>
<path d="M1029.6,1816.3L1055.0,1829.8L1196.4,1591.6L1169.5,1577.7Z" fill="url(#g248)"/>
<path d="M1045.5,1824.7L1070.9,1838.1L1213.2,1600.3L1186.3,1586.4Z" fill="url(#g249)"/>
<path d="M1061.3,1833.1L1086.8,1846.4L1230.0,1608.9L1203.1,1595.1Z" fill="url(#g250)"/>
<path d="M1077.2,1841.5L1101.9,1854.3L1246.3,1617.3L1219.9,1603.8Z" fill="url(#g251)"/>
<path d="M1093.1,1849.8L1116.4,1861.9L1262.2,1625.4L1236.7,1612.4Z" fill="url(#g252)"/>
<path d="M1107.7,1857.4L1131.0,1869.5L1278.1,1633.5L1252.6,1620.5Z" fill="url(#g253)"/>
<path d="M1122.3,1865.0L1145.6,1877.1L1294.0,1641.6L1268.5,1628.7Z" fill="url(#g254)"/>
<path d="M1136.8,1872.5L1160.1,1884.7L1309.9,1649.7L1284.4,1636.8Z" fill="url(#g255)"/>
<path d="M1151.4,1880.1L1174.7,1892.3L1325.8,1657.8L1300.4,1644.9Z" fill="url(#g256)"/>
<path d="M1165.9,1887.7L1189.2,1899.9L1341.8,1665.9L1316.3,1653.0Z" fill="url(#g257)"/>
<path d="M1180.5,1895.3L1203.7,1907.6L1357.7,1674.0L1332.2,1661.1Z" fill="url(#g258)"/>
<path d="M1195.0,1903.0L1218.3,1915.3L1373.6,1682.2L1348.1,1669.2Z" fill="url(#g259)"/>
<path d="M1209.6,1910.7L1232.7,1923.0L1389.5,1690.3L1364.0,1677.3Z" fill="url(#g260)"/>
<path d="M1224.1,1918.4L1247.2,1930.8L1405.4,1698.5L1379.9,1685.4Z" fill="url(#g261)"/>
<path d="M1238.5,1926.1L1261.6,1938.6L1421.2,1706.7L1395.8,1693.6Z" fill="url(#g262)"/>
<path d="M1253.0,1933.9L1276.0,1946.5L1437.1,1714.9L1411.7,1701.7Z" fill="url(#g263)"/>
<path d="M1267.4,1941.8L1290.4,1954.5L1452.9,1723.2L1427.6,1709.9Z" fill="url(#g264)"/>
<path d="M1281.8,1949.7L1302.5,1961.3L1467.6,1730.9L1443.4,1718.2Z" fill="url(#g265)"/>
<path d="M1296.1,1957.7L1313.2,1967.4L1481.5,1738.2L1459.3,1726.5Z" fill="url(#g266)"/>
<path d="M1306.8,1963.7L1323.8,1973.5L1495.4,1745.6L1473.2,1733.8Z" fill="url(#g267)"/>
<path d="M1317.4,1969.8L1334.4,1979.6L1509.2,1753.0L1487.1,1741.1Z" fill="url(#g268)"/>
<path d="M1328.0,1975.9L1344.9,1985.8L1523.1,1760.5L1500.9,1748.5Z" fill="url(#g269)"/>
<path d="M1338.6,1982.1L1355.5,1992.0L1536.9,1768.0L1514.8,1756.0Z" fill="url(#g270)"/>
<path d="M1349.2,1988.3L1366.0,1998.4L1550.7,1775.6L1528.6,1763.5Z" fill="url(#g271)"/>
<path d="M1359.7,1994.6L1376.4,2004.7L1564.4,1783.2L1542.4,1771.0Z" fill="url(#g272)"/>
<path d="M1370.2,2000.9L1386.8,2011.2L1578.1,1790.9L1556.2,1778.6Z" fill="url(#g273)"/>
<path d="M1380.6,2007.3L1397.2,2017.7L1591.8,1798.6L1569.9,1786.3Z" fill="url(#g274)"/>
<path d="M1391.0,2013.7L1407.5,2024.2L1605.5,1806.4L1583.6,1794.0Z" fill="url(#g275)"/>
<path d="M1401.3,2020.3L1417.8,2030.9L1619.1,1814.3L1597.3,1801.7Z" fill="url(#g276)"/>
<path d="M1411.7,2026.9L1428.1,2037.6L1632.7,1822.2L1610.9,1809.6Z" fill="url(#g277)"/>
<path d="M1421.9,2033.5L1438.2,2044.4L1646.2,1830.2L1624.5,1817.5Z" fill="url(#g278)"/>
<path d="M1432.1,2040.3L1446.6,2050.1L1660.5,1838.8L1638.1,1825.4Z" fill="url(#g279)"/>
<path d="M1442.3,2047.1L1453.8,2055.1L1675.2,1847.8L1651.6,1833.5Z" fill="url(#g280)"/>
<path d="M1449.5,2052.1L1461.0,2060.1L1689.9,1856.9L1666.4,1842.4Z" fill="url(#g281)"/>
<path d="M1456.7,2057.1L1468.2,2065.1L1704.6,1866.1L1681.1,1851.4Z" fill="url(#g282)"/>
<path d="M1463.9,2062.1L1475.3,2070.2L1719.1,1875.4L1695.8,1860.5Z" fill="url(#g283)"/>
<path d="M1471.0,2067.2L1482.4,2075.4L1733.6,1884.8L1710.4,1869.8Z" fill="url(#g284)"/>
<path d="M1478.1,2072.3L1489.4,2080.6L1748.0,1894.3L1724.9,1879.1Z" fill="url(#g285)"/>
<path d="M1485.2,2077.5L1496.4,2085.8L1762.4,1903.9L1739.4,1888.5Z" fill="url(#g286)"/>
<path d="M1492.2,2082.7L1503.4,2091.1L1776.6,1913.8L1753.8,1898.1Z" fill="url(#g287)"/>
<path d="M1499.2,2087.9L1510.4,2096.5L1790.7,1923.8L1768.1,1907.8Z" fill="url(#g288)"/>
<path d="M1506.2,2093.3L1517.3,2101.8L1804.6,1934.0L1782.2,1917.7Z" fill="url(#g289)"/>
<path d="M1513.1,2098.6L1524.2,2107.3L1818.4,1944.4L1796.3,1927.8Z" fill="url(#g290)"/>
<path d="M1520.0,2104.0L1531.0,2112.7L1832.0,1955.1L1810.2,1938.1Z" fill="url(#g291)"/>
<path d="M1526.9,2109.5L1537.8,2118.3L1845.4,1965.9L1823.9,1948.6Z" fill="url(#g292)"/>
<path d="M1533.7,2114.9L1544.6,2123.9L1856.3,1975.1L1837.4,1959.3Z" fill="url(#g293)"/>
<path d="M1540.5,2120.5L1551.5,2129.6L1865.5,1983.1L1850.7,1970.3Z" fill="url(#g294)"/>
<path d="M1547.4,2126.2L1558.3,2135.4L1874.5,1991.2L1860.0,1978.3Z" fill="url(#g295)"/>
<path d="M1554.2,2131.9L1565.1,2141.2L1883.4,1999.5L1869.1,1986.3Z" fill="url(#g296)"/>
<path d="M1561.0,2137.7L1571.8,2147.1L1892.2,2007.9L1878.1,1994.5Z" fill="url(#g297)"/>
<path d="M1567.8,2143.6L1578.5,2153.1L1900.8,2016.5L1887.0,2002.8Z" fill="url(#g298)"/>
<path d="M1574.5,2149.5L1585.1,2159.1L1909.3,2025.3L1895.7,2011.3Z" fill="url(#g299)"/>
<path d="M1581.1,2155.5L1591.6,2165.1L1917.6,2034.2L1904.3,2020.0Z" fill="url(#g300)"/>
<path d="M1587.7,2161.5L1598.2,2171.2L1925.7,2043.3L1912.7,2028.8Z" fill="url(#g301)"/>
<path d="M1594.3,2167.6L1604.6,2177.4L1933.6,2052.5L1920.9,2037.8Z" fill="url(#g302)"/>
<path d="M1600.8,2173.7L1611.1,2183.6L1941.4,2061.9L1928.9,2046.9Z" fill="url(#g303)"/>
<path d="M1607.2,2179.9L1617.4,2189.9L1948.9,2071.5L1936.8,2056.2Z" fill="url(#g304)"/>
<path d="M1613.6,2186.1L1623.7,2196.2L1956.2,2081.2L1944.4,2065.7Z" fill="url(#g305)"/>
<path d="M1620.0,2192.4L1629.8,2202.4L1963.3,2091.1L1951.9,2075.3Z" fill="url(#g306)"/>
<path d="M1626.3,2198.8L1632.2,2204.8L1966.1,2095.1L1959.1,2085.1Z" fill="url(#g307)"/>
</g>
<path d="M863.5,607.8L857.7,609.4L851.9,611.0L846.1,612.5L840.3,614.1L834.5,615.6L828.7,617.1L822.9,618.7L817.1,620.2L811.3,621.7L805.5,623.2L799.7,624.8L793.9,626.3L788.1,627.8L782.3,629.3L776.5,630.8L770.7,632.3L764.8,633.9L759.0,635.4L753.2,636.9L747.4,638.5L741.7,640.0L735.9,641.6L730.1,643.1L724.3,644.7L718.5,646.3L712.7,647.9L706.9,649.5L701.1,651.1L695.4,652.7L689.6,654.4L683.8,656.0L678.1,657.7L672.3,659.4L666.6,661.1L660.8,662.8L655.1,664.6L649.3,666.4L643.6,668.1L637.9,670.0L632.2,671.8L626.5,673.6L620.8,675.5L615.1,677.4L609.4,679.4L603.7,681.3L598.1,683.3L592.4,685.3L586.8,687.3L581.1,689.4L575.5,691.5L569.9,693.6L564.3,695.8L558.7,698.0L553.2,700.2L547.6,702.5L542.1,704.8L536.5,707.2L531.0,709.5L525.5,711.9L520.1,714.4L514.6,716.9L509.2,719.4L503.8,722.0L498.4,724.6L493.0,727.3L487.6,730.0L482.3,732.7L477.0,735.5L471.7,738.4L466.4,741.2L461.2,744.1L456.0,747.1L450.8,750.1L445.6,753.2L440.5,756.3L435.4,759.4L430.3,762.6L425.2,765.8L420.2,769.1L415.2,772.4L410.2,775.8L405.3,779.2L400.4,782.7L395.5,786.2L390.7,789.7L385.9,793.3L381.1,797.0L376.5,800.8L371.9,804.6L367.3,808.5L362.9,812.6L358.5,816.7L354.3,821.0L350.2,825.3L346.2,829.8L342.4,834.4L338.7,839.2L335.2,844.1L331.8,849.0L328.7,854.1L325.6,859.3L322.7,864.5L320.0,869.9L317.5,875.3L315.1,880.8L312.9,886.4L310.8,892.0L308.9,897.7L307.2,903.5L305.6,909.3L304.2,915.1L302.9,921.0L301.8,926.8L300.8,932.8L299.9,938.7L299.2,944.7L298.7,950.6L298.3,956.6L298.0,962.6L297.8,968.6L297.8,974.6L297.9,980.6L298.1,986.6L298.5,992.6L298.9,998.6L299.5,1004.6L300.2,1010.5L301.1,1016.5L302.0,1022.4L303.0,1028.3L304.2,1034.2L305.5,1040.0L306.8,1045.9L308.3,1051.7L309.9,1057.5L311.6,1063.2L313.4,1069.0L315.3,1074.6L317.4,1080.3L319.5,1085.9L321.7,1091.5L324.0,1097.0L326.4,1102.5L328.9,1108.0L331.5,1113.4L334.2,1118.7L337.0,1124.0L339.9,1129.3L342.8,1134.5L345.9,1139.7L349.0,1144.8L352.2,1149.9L355.4,1155.0L358.7,1160.0L362.1,1164.9L365.6,1169.8L369.1,1174.7L372.7,1179.5L376.3,1184.3L380.0,1189.0L383.7,1193.7L387.5,1198.4L391.4,1203.0L395.3,1207.5L399.2,1212.1L403.2,1216.6L407.2,1221.0L411.2,1225.4L415.3,1229.8L419.5,1234.2L423.6,1238.5L427.8,1242.8L432.0,1247.0L436.3,1251.3L440.6,1255.5L444.9,1259.7L449.2,1263.8L453.6,1267.9L457.9,1272.0L462.3,1276.1L466.8,1280.2L471.2,1284.2L475.7,1288.2L480.1,1292.2L484.6,1296.2L489.1,1300.2L493.6,1304.1L498.2,1308.1L502.7,1312.0L507.2,1315.9L511.8,1319.8L516.4,1323.7L521.0,1327.6L525.6,1331.4L530.2,1335.3L534.8,1339.1L539.4,1342.9L544.1,1346.7L548.7,1350.5L553.4,1354.3L558.1,1358.0L562.8,1361.7L567.5,1365.5L572.2,1369.2L576.9,1372.9L581.6,1376.6L586.4,1380.2L591.1,1383.9L595.9,1387.5L600.7,1391.2L605.5,1394.8L610.3,1398.4L615.1,1402.0L619.9,1405.6L624.7,1409.1L629.6,1412.7L634.4,1416.2L639.3,1419.7L644.1,1423.2L649.0,1426.7L653.9,1430.2L658.8,1433.7L663.7,1437.1L668.6,1440.6L673.5,1444.0L678.5,1447.4L683.4,1450.8L688.4,1454.2L693.3,1457.6L698.3,1460.9L703.3,1464.3L708.3,1467.6L713.3,1471.0L718.3,1474.3L723.3,1477.6L728.3,1480.9L733.3,1484.1L738.3,1487.4L743.4,1490.7L748.4,1493.9L753.5,1497.1L758.6,1500.3L763.6,1503.5L768.7,1506.7L773.8,1509.9L778.9,1513.1L784.0,1516.2L789.1,1519.4L794.2,1522.5L799.3,1525.7L804.5,1528.8L809.6,1531.9L814.7,1535.0L819.9,1538.0L825.1,1541.1L830.2,1544.2L835.4,1547.2L840.6,1550.3L845.7,1553.3L850.9,1556.3L856.1,1559.3L861.3,1562.3L866.5,1565.3L871.7,1568.3L876.9,1571.2L882.2,1574.2L887.4,1577.2L892.6,1580.1L897.8,1583.0L903.1,1586.0L908.3,1588.9L913.6,1591.8L918.8,1594.7L924.1,1597.6L929.3,1600.5L934.6,1603.4L939.9,1606.2L945.1,1609.1L950.4,1612.0L955.7,1614.8L961.0,1617.7L966.2,1620.5L971.5,1623.4L976.8,1626.2L982.1,1629.0L987.4,1631.8L992.7,1634.7L998.0,1637.5L1003.3,1640.3L1008.6,1643.1L1013.9,1645.9L1019.2,1648.7L1024.5,1651.5L1029.8,1654.3L1035.1,1657.1L1040.4,1659.9L1045.8,1662.7L1051.1,1665.5L1056.4,1668.2L1061.7,1671.0L1067.0,1673.8L1072.3,1676.6L1077.7,1679.4L1083.0,1682.1L1088.3,1684.9L1093.6,1687.7L1098.9,1690.5L1104.3,1693.2L1109.6,1696.0L1114.9,1698.8L1120.2,1701.6L1125.5,1704.4L1130.8,1707.1L1136.2,1709.9L1141.5,1712.7L1146.8,1715.5L1152.1,1718.3L1157.4,1721.1L1162.7,1723.9L1168.0,1726.7L1173.3,1729.5L1178.6,1732.3L1183.9,1735.1L1189.3,1737.9L1194.6,1740.7L1199.8,1743.5L1205.1,1746.3L1210.4,1749.1L1215.7,1752.0L1221.0,1754.8L1226.3,1757.6L1231.6,1760.5L1236.9,1763.3L1242.1,1766.2L1247.4,1769.1L1252.7,1771.9L1258.0,1774.8L1263.2,1777.7L1268.5,1780.6L1273.7,1783.5L1279.0,1786.4L1284.2,1789.3L1289.5,1792.2L1294.7,1795.1L1299.9,1798.1L1305.2,1801.0L1310.4,1803.9L1315.6,1806.9L1320.8,1809.9L1326.0,1812.9L1331.2,1815.8L1336.4,1818.8L1341.6,1821.8L1346.8,1824.9L1352.0,1827.9L1357.2,1830.9L1362.3,1834.0L1367.5,1837.0L1372.7,1840.1L1377.8,1843.2L1383.0,1846.3L1388.1,1849.4L1393.2,1852.5L1398.3,1855.6L1403.5,1858.8L1408.6,1861.9L1413.7,1865.1L1418.7,1868.2L1423.8,1871.4L1428.9,1874.6L1434.0,1877.9L1439.0,1881.1L1444.1,1884.3L1449.1,1887.6L1454.1,1890.8L1459.2,1894.1L1464.2,1897.4L1469.2,1900.7L1474.2,1904.0L1479.2,1907.4L1484.2,1910.7L1489.2,1914.0L1494.1,1917.4L1499.1,1920.8L1504.1,1924.1L1509.0,1927.5L1514.0,1930.9L1518.9,1934.3L1523.8,1937.7L1528.8,1941.1L1533.7,1944.6L1538.6,1948.0L1543.5,1951.5L1548.4,1954.9L1553.3,1958.4L1558.2,1961.8L1563.1,1965.3L1568.0,1968.8L1572.9,1972.3L1577.8,1975.8L1582.6,1979.3L1587.5,1982.8L1592.4,1986.3L1597.2,1989.8L1602.1,1993.4L1606.9,1996.9L1611.8,2000.4L1616.6,2004.0L1621.5,2007.5L1626.3,2011.0L1631.1,2014.6L1636.0,2018.2L1640.8,2021.7L1645.6,2025.3L1650.4,2028.9L1655.2,2032.5L1660.0,2036.1L1664.8,2039.7L1669.6,2043.4L1674.3,2047.0L1679.0,2050.7L1683.8,2054.4L1688.4,2058.2L1693.1,2062.0L1697.7,2065.8L1702.3,2069.6L1706.9,2073.5L1711.4,2077.5L1715.9,2081.4L1720.4,2085.5L1724.8,2089.5L1729.2,2093.6L1733.5,2097.8L1737.8,2102.0L1742.0,2106.2L1746.2,2110.5L1750.3,2114.9L1754.4,2119.3L1758.4,2123.8L1762.3,2128.3L1766.1,2132.9L1769.9,2137.6L1773.6,2142.3L1777.3,2147.1L1780.9,2151.9L1783.6,2155.7" stroke="#121212" stroke-width="12" fill="none" stroke-opacity="0.62" filter="url(#b3)"/>
</g>
<!-- outer jacket ring -->
<ellipse cx="835" cy="475" rx="90" ry="157" transform="rotate(-8 835 475)" fill="#2b2b2b"/>
<ellipse cx="837" cy="476" rx="88" ry="150" transform="rotate(-8 837 476)" fill="#0c0c0c"/>
<!-- PVC inner jacket -->
<path d="M852,328 L1006,302 L1040,330 L1060,500 L1032,578 L950,586 L911,594 L890,606 C870,608 850,603 830,592 C785,560 766,500 770,440 C775,380 810,338 852,328 Z" fill="url(#pvc)"/>
<path d="M852,328 C810,338 775,380 770,440 C766,500 785,560 830,592 C850,603 870,608 890,606" stroke="#000" stroke-opacity="0.5" stroke-width="6" fill="none" filter="url(#b2)"/>
<ellipse cx="1019" cy="440" rx="67" ry="138" transform="rotate(-5.4 1019 440)" fill="url(#pvcf)"/>
<ellipse cx="1016" cy="436" rx="56" ry="117" transform="rotate(-5.4 1016 436)" fill="#060606"/>
<!-- wires (insulated) -->
<g id="wires" clip-path="url(#wclip)">
  <path d="M1160,330 L1230,313 L1300,300 L1373,297 L1440,302 L1533,312 L1534,348 L1440,342 L1300,336 L1200,338 Z" fill="url(#gw1)"/>
  <path d="M1311,298 C1360,310 1400,325 1451,336" stroke="#f08a50" stroke-width="5" fill="none" opacity="0.8"/>
  <path d="M1436,304 L1535,276 L1539,312 L1500,314 Z" fill="url(#gor2)"/>
  <path d="M1340,352 L1410,343 L1480,345 L1560,352 L1561,380 L1470,379 L1400,370 Z" fill="url(#gw1)"/>
  <path d="M1412,351 C1450,360 1480,368 1513,376" stroke="#2a7ad8" stroke-width="6" fill="none" opacity="0.85"/>
  <path d="M1536,341 L1567,341 L1568,350 L1536,350 Z" fill="#2a7ad8"/>
  <path d="M1331,369 L1400,370 L1466,378 L1420,392 L1389,400 L1331,398 Z" fill="url(#gbl)"/>
  <path d="M965,340 L985,334 L1020,322 L1090,316 L1155,324 L1233,335 L1300,336 L1380,338 L1432,341 L1373,357 L1300,367 L1217,363 L1155,357 L1093,351 L1034,356 L971,360 Z" fill="url(#gor)"/>
  <path d="M960,359 L1034,356 L1093,351 L1155,357 L1217,363 L1290,367 L1200,382 L1150,397 L1100,402 L960,405 Z" fill="url(#gwo)"/>
  <path d="M1200,425 L1300,400 L1430,404 L1528,414 L1530,450 L1450,442 L1300,437 Z" fill="url(#gw2)"/>
  <path d="M1426,405 L1528,379 L1530,414 L1480,412 Z" fill="url(#gbr2)"/>
  <path d="M1528,414 L1562,416 L1562,450 L1528,450 Z" fill="#4f8f45"/>
  <path d="M958,403 L1150,379 L1294,365 L1296,381 L1150,396 L958,417 Z" fill="#f1eeeb"/>
  <path d="M958,417 L1150,396 L1296,381 L1296,399 L1150,416 L958,433 Z" fill="url(#gsp)"/>
  <path d="M1294,365 L1330,372 L1331,398 L1296,399 Z" fill="#d9d2ce"/>
  <path d="M962,431 L1034,417 L1100,418 L1150,423 L1200,432 L1300,441 L1360,443 L1420,444 L1300,474 L1200,468 L1150,457 L1062,453 L964,459 Z" fill="url(#gbr)"/>
  <path d="M962,459 L1062,453 L1150,457 L1250,466 L1345,470 L1250,491 L1150,494 L962,493 Z" fill="url(#gw3)"/>
  <path d="M1320,470 L1404,452 L1480,450 L1556,452 L1557,488 L1470,484 L1400,485 L1345,489 Z" fill="url(#gw2)"/>
  <path d="M1358,455 C1420,462 1470,478 1540,486" stroke="#3aa040" stroke-width="5" fill="none" opacity="0.8"/>
  <path d="M1530,444 L1560,446 L1560,452 L1530,452 Z" fill="#3a9a3a"/>
  <path d="M1205,498 L1300,489 L1458,480 L1412,495 L1358,508 L1300,512 L1210,506 Z" fill="url(#ggr)"/>
  <path d="M962,493 L1150,494 L1250,491 L1300,487 L1300,500 L1200,508 L1100,520 L990,527 Z" fill="url(#gsp2)"/>
  <path d="M992,521 L1076,520 L1060,530 L1000,531 Z" fill="#35a040"/>
  <!-- shadow near hole -->
  <rect x="955" y="300" width="70" height="240" fill="url(#hsh)" clip-path="url(#hole)"/>
</g>
<!-- copper -->
<g><path d="M1600.0,327.0 C1608.3,327.5 1633.3,328.0 1650.0,330.0 C1666.7,332.0 1681.7,335.7 1700.0,339.0 C1718.3,342.3 1740.0,346.2 1760.0,350.0 C1780.0,353.8 1792.0,358.8 1820.0,362.0 C1848.0,365.2 1910.0,367.8 1928.0,369.0" stroke="#8e4224" stroke-width="25" fill="none"/><path d="M1600.0,327.0 C1608.3,327.5 1633.3,328.0 1650.0,330.0 C1666.7,332.0 1681.7,335.7 1700.0,339.0 C1718.3,342.3 1740.0,346.2 1760.0,350.0 C1780.0,353.8 1792.0,358.8 1820.0,362.0 C1848.0,365.2 1910.0,367.8 1928.0,369.0" stroke="#c46a44" stroke-width="21" fill="none"/><path d="M1600.0,327.0 C1608.3,327.5 1633.3,328.0 1650.0,330.0 C1666.7,332.0 1681.7,335.7 1700.0,339.0 C1718.3,342.3 1740.0,346.2 1760.0,350.0 C1780.0,353.8 1792.0,358.8 1820.0,362.0 C1848.0,365.2 1910.0,367.8 1928.0,369.0" stroke="#dc8d64" stroke-width="8" fill="none" transform="translate(0,-3)" filter="url(#b2)"/><path d="M1561.0,367.0 C1570.7,366.2 1599.2,364.2 1619.0,362.0 C1638.8,359.8 1659.8,356.7 1680.0,354.0 C1700.2,351.3 1720.0,348.3 1740.0,346.0 C1760.0,343.7 1769.0,341.3 1800.0,340.0 C1831.0,338.7 1905.0,338.3 1926.0,338.0" stroke="#8e4224" stroke-width="25" fill="none"/><path d="M1561.0,367.0 C1570.7,366.2 1599.2,364.2 1619.0,362.0 C1638.8,359.8 1659.8,356.7 1680.0,354.0 C1700.2,351.3 1720.0,348.3 1740.0,346.0 C1760.0,343.7 1769.0,341.3 1800.0,340.0 C1831.0,338.7 1905.0,338.3 1926.0,338.0" stroke="#cc734c" stroke-width="21" fill="none"/><path d="M1561.0,367.0 C1570.7,366.2 1599.2,364.2 1619.0,362.0 C1638.8,359.8 1659.8,356.7 1680.0,354.0 C1700.2,351.3 1720.0,348.3 1740.0,346.0 C1760.0,343.7 1769.0,341.3 1800.0,340.0 C1831.0,338.7 1905.0,338.3 1926.0,338.0" stroke="#e6986e" stroke-width="8" fill="none" transform="translate(0,-3)" filter="url(#b2)"/><path d="M1532.0,330.0 C1538.3,329.8 1551.3,330.2 1570.0,329.0 C1588.7,327.8 1622.3,325.8 1644.0,323.0 C1665.7,320.2 1680.7,315.8 1700.0,312.0 C1719.3,308.2 1738.3,303.2 1760.0,300.0 C1781.7,296.8 1803.7,293.5 1830.0,293.0 C1856.3,292.5 1903.3,296.3 1918.0,297.0" stroke="#9a4a2a" stroke-width="25" fill="none"/><path d="M1532.0,330.0 C1538.3,329.8 1551.3,330.2 1570.0,329.0 C1588.7,327.8 1622.3,325.8 1644.0,323.0 C1665.7,320.2 1680.7,315.8 1700.0,312.0 C1719.3,308.2 1738.3,303.2 1760.0,300.0 C1781.7,296.8 1803.7,293.5 1830.0,293.0 C1856.3,292.5 1903.3,296.3 1918.0,297.0" stroke="#d9865e" stroke-width="21" fill="none"/><path d="M1532.0,330.0 C1538.3,329.8 1551.3,330.2 1570.0,329.0 C1588.7,327.8 1622.3,325.8 1644.0,323.0 C1665.7,320.2 1680.7,315.8 1700.0,312.0 C1719.3,308.2 1738.3,303.2 1760.0,300.0 C1781.7,296.8 1803.7,293.5 1830.0,293.0 C1856.3,292.5 1903.3,296.3 1918.0,297.0" stroke="#efab82" stroke-width="8" fill="none" transform="translate(0,-3)" filter="url(#b2)"/><path d="M1537.0,293.0 C1543.0,292.8 1557.2,291.7 1573.0,292.0 C1588.8,292.3 1614.2,292.8 1632.0,295.0 C1649.8,297.2 1665.3,301.2 1680.0,305.0 C1694.7,308.8 1706.7,314.2 1720.0,318.0 C1733.3,321.8 1743.3,325.3 1760.0,328.0 C1776.7,330.7 1793.3,333.3 1820.0,334.0 C1846.7,334.7 1903.3,332.3 1920.0,332.0" stroke="#b0603a" stroke-width="25" fill="none"/><path d="M1537.0,293.0 C1543.0,292.8 1557.2,291.7 1573.0,292.0 C1588.8,292.3 1614.2,292.8 1632.0,295.0 C1649.8,297.2 1665.3,301.2 1680.0,305.0 C1694.7,308.8 1706.7,314.2 1720.0,318.0 C1733.3,321.8 1743.3,325.3 1760.0,328.0 C1776.7,330.7 1793.3,333.3 1820.0,334.0 C1846.7,334.7 1903.3,332.3 1920.0,332.0" stroke="#f0b088" stroke-width="21" fill="none"/><path d="M1537.0,293.0 C1543.0,292.8 1557.2,291.7 1573.0,292.0 C1588.8,292.3 1614.2,292.8 1632.0,295.0 C1649.8,297.2 1665.3,301.2 1680.0,305.0 C1694.7,308.8 1706.7,314.2 1720.0,318.0 C1733.3,321.8 1743.3,325.3 1760.0,328.0 C1776.7,330.7 1793.3,333.3 1820.0,334.0 C1846.7,334.7 1903.3,332.3 1920.0,332.0" stroke="#fcdcbc" stroke-width="8" fill="none" transform="translate(0,-3)" filter="url(#b2)"/><path d="M1590.0,428.0 C1599.2,428.7 1626.7,429.7 1645.0,432.0 C1663.3,434.3 1680.8,438.3 1700.0,442.0 C1719.2,445.7 1740.0,450.3 1760.0,454.0 C1780.0,457.7 1792.8,461.5 1820.0,464.0 C1847.2,466.5 1905.8,468.2 1923.0,469.0" stroke="#8e4224" stroke-width="25" fill="none"/><path d="M1590.0,428.0 C1599.2,428.7 1626.7,429.7 1645.0,432.0 C1663.3,434.3 1680.8,438.3 1700.0,442.0 C1719.2,445.7 1740.0,450.3 1760.0,454.0 C1780.0,457.7 1792.8,461.5 1820.0,464.0 C1847.2,466.5 1905.8,468.2 1923.0,469.0" stroke="#c46a44" stroke-width="21" fill="none"/><path d="M1590.0,428.0 C1599.2,428.7 1626.7,429.7 1645.0,432.0 C1663.3,434.3 1680.8,438.3 1700.0,442.0 C1719.2,445.7 1740.0,450.3 1760.0,454.0 C1780.0,457.7 1792.8,461.5 1820.0,464.0 C1847.2,466.5 1905.8,468.2 1923.0,469.0" stroke="#dc8d64" stroke-width="8" fill="none" transform="translate(0,-3)" filter="url(#b2)"/><path d="M1555.0,468.0 C1565.7,467.2 1598.2,465.0 1619.0,463.0 C1639.8,461.0 1659.8,458.3 1680.0,456.0 C1700.2,453.7 1720.0,451.2 1740.0,449.0 C1760.0,446.8 1770.0,444.3 1800.0,443.0 C1830.0,441.7 1900.0,441.3 1920.0,441.0" stroke="#8e4224" stroke-width="25" fill="none"/><path d="M1555.0,468.0 C1565.7,467.2 1598.2,465.0 1619.0,463.0 C1639.8,461.0 1659.8,458.3 1680.0,456.0 C1700.2,453.7 1720.0,451.2 1740.0,449.0 C1760.0,446.8 1770.0,444.3 1800.0,443.0 C1830.0,441.7 1900.0,441.3 1920.0,441.0" stroke="#cc734c" stroke-width="21" fill="none"/><path d="M1555.0,468.0 C1565.7,467.2 1598.2,465.0 1619.0,463.0 C1639.8,461.0 1659.8,458.3 1680.0,456.0 C1700.2,453.7 1720.0,451.2 1740.0,449.0 C1760.0,446.8 1770.0,444.3 1800.0,443.0 C1830.0,441.7 1900.0,441.3 1920.0,441.0" stroke="#e6986e" stroke-width="8" fill="none" transform="translate(0,-3)" filter="url(#b2)"/><path d="M1524.0,431.0 C1531.7,430.8 1550.0,431.2 1570.0,430.0 C1590.0,428.8 1622.3,426.8 1644.0,424.0 C1665.7,421.2 1680.7,416.7 1700.0,413.0 C1719.3,409.3 1738.3,404.5 1760.0,402.0 C1781.7,399.5 1804.8,398.3 1830.0,398.0 C1855.2,397.7 1897.5,399.7 1911.0,400.0" stroke="#9a4a2a" stroke-width="25" fill="none"/><path d="M1524.0,431.0 C1531.7,430.8 1550.0,431.2 1570.0,430.0 C1590.0,428.8 1622.3,426.8 1644.0,424.0 C1665.7,421.2 1680.7,416.7 1700.0,413.0 C1719.3,409.3 1738.3,404.5 1760.0,402.0 C1781.7,399.5 1804.8,398.3 1830.0,398.0 C1855.2,397.7 1897.5,399.7 1911.0,400.0" stroke="#d9865e" stroke-width="21" fill="none"/><path d="M1524.0,431.0 C1531.7,430.8 1550.0,431.2 1570.0,430.0 C1590.0,428.8 1622.3,426.8 1644.0,424.0 C1665.7,421.2 1680.7,416.7 1700.0,413.0 C1719.3,409.3 1738.3,404.5 1760.0,402.0 C1781.7,399.5 1804.8,398.3 1830.0,398.0 C1855.2,397.7 1897.5,399.7 1911.0,400.0" stroke="#efab82" stroke-width="8" fill="none" transform="translate(0,-3)" filter="url(#b2)"/><path d="M1529.0,395.0 C1535.8,394.8 1553.2,393.7 1570.0,394.0 C1586.8,394.3 1611.7,394.7 1630.0,397.0 C1648.3,399.3 1665.0,404.2 1680.0,408.0 C1695.0,411.8 1706.7,416.3 1720.0,420.0 C1733.3,423.7 1743.3,427.5 1760.0,430.0 C1776.7,432.5 1794.5,434.5 1820.0,435.0 C1845.5,435.5 1897.5,433.3 1913.0,433.0" stroke="#b0603a" stroke-width="25" fill="none"/><path d="M1529.0,395.0 C1535.8,394.8 1553.2,393.7 1570.0,394.0 C1586.8,394.3 1611.7,394.7 1630.0,397.0 C1648.3,399.3 1665.0,404.2 1680.0,408.0 C1695.0,411.8 1706.7,416.3 1720.0,420.0 C1733.3,423.7 1743.3,427.5 1760.0,430.0 C1776.7,432.5 1794.5,434.5 1820.0,435.0 C1845.5,435.5 1897.5,433.3 1913.0,433.0" stroke="#f0b088" stroke-width="21" fill="none"/><path d="M1529.0,395.0 C1535.8,394.8 1553.2,393.7 1570.0,394.0 C1586.8,394.3 1611.7,394.7 1630.0,397.0 C1648.3,399.3 1665.0,404.2 1680.0,408.0 C1695.0,411.8 1706.7,416.3 1720.0,420.0 C1733.3,423.7 1743.3,427.5 1760.0,430.0 C1776.7,432.5 1794.5,434.5 1820.0,435.0 C1845.5,435.5 1897.5,433.3 1913.0,433.0" stroke="#fcdcbc" stroke-width="8" fill="none" transform="translate(0,-3)" filter="url(#b2)"/></g>
<!-- callouts -->
<g fill="#00a3ec">
  <circle cx="673.5" cy="634" r="20" fill="#1a8fd6" fill-opacity="0.65"/><circle cx="673.5" cy="634" r="12.5"/>
  <circle cx="975.5" cy="565" r="20" fill="#1a8fd6" fill-opacity="0.65"/><circle cx="975.5" cy="565" r="12.5"/>
  <circle cx="1183.5" cy="397" r="20" fill="#1a8fd6" fill-opacity="0.65"/><circle cx="1183.5" cy="397" r="12.5"/>
  <circle cx="1470" cy="460" r="20" fill="#1a8fd6" fill-opacity="0.65"/><circle cx="1470" cy="460" r="12.5"/>
  <circle cx="1752.5" cy="445" r="20" fill="#1a8fd6" fill-opacity="0.65"/><circle cx="1752.5" cy="445" r="12.5"/>
</g>
<g stroke="#1590d0" stroke-width="4.5">
  <line x1="675" y1="634" x2="675" y2="839"/>
  <line x1="976" y1="565" x2="976" y2="1061"/>
  <line x1="1183" y1="397" x2="1183" y2="760"/>
  <line x1="1469" y1="460" x2="1469" y2="1061"/>
  <line x1="1754" y1="445" x2="1754" y2="760"/>
</g>
<!-- labels -->
<g font-size="64">
  <text x="420.9" y="913.2" textLength="457.8" lengthAdjust="spacingAndGlyphs">LLDPE Weather</text>
  <text x="430.8" y="975.9" textLength="456.2" lengthAdjust="spacingAndGlyphs">Resistant Jacket</text>
  <text x="1003" y="831.4" textLength="352.4" lengthAdjust="spacingAndGlyphs">Cross Spline</text>
  <text x="1630.1" y="831" textLength="251.9" lengthAdjust="spacingAndGlyphs">24 AWG</text>
  <text x="1613.1" y="893.8" textLength="302.5" lengthAdjust="spacingAndGlyphs">Conductor</text>
  <text x="736.6" y="1142.1" textLength="486.8" lengthAdjust="spacingAndGlyphs">PVC Inner Jacket</text>
  <text x="1390.7" y="1141.8" textLength="171.9" lengthAdjust="spacingAndGlyphs">HDPE</text>
  <text x="1347.7" y="1204.4" textLength="275.1" lengthAdjust="spacingAndGlyphs">Insulation</text>
</g>
</svg>
</body></html>
